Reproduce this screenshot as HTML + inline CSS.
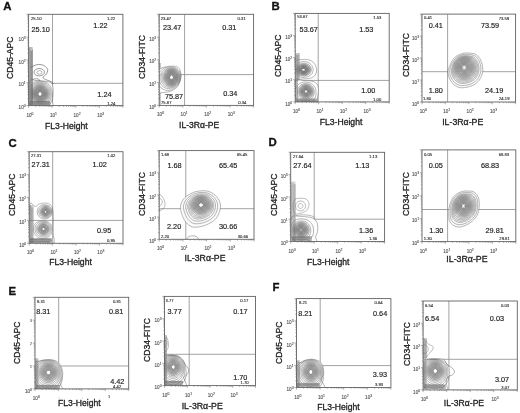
<!DOCTYPE html>
<html><head><meta charset="utf-8"><style>
html,body{margin:0;padding:0;background:#fff;}
body{width:520px;height:413px;overflow:hidden;}
svg{display:block;font-family:"Liberation Sans", sans-serif;will-change:transform;}
</style></head><body>
<svg width="520" height="413" viewBox="0 0 520 413">
<rect width="520" height="413" fill="#fff"/>
<line x1="52.5" y1="14.3" x2="52.5" y2="105.6" stroke="#8a8a8a" stroke-width="0.8"/>
<line x1="28.6" y1="83.3" x2="122.9" y2="83.3" stroke="#8a8a8a" stroke-width="0.8"/>
<defs><clipPath id="c2"><rect x="28.6" y="14.3" width="94.30000000000001" height="91.3"/></clipPath></defs><g clip-path="url(#c2)"><path d="M30.00 67.50 C30.25 67.42 30.93 67.25 31.50 67.00 C32.07 66.75 32.28 66.43 33.40 66.00 C34.52 65.57 36.50 64.50 38.20 64.40 C39.90 64.30 42.10 64.72 43.60 65.40 C45.10 66.08 46.53 67.57 47.20 68.50 C47.87 69.43 47.75 70.05 47.60 71.00 C47.45 71.95 47.07 73.13 46.30 74.20 C45.53 75.27 43.13 76.52 43.00 77.40 C42.87 78.28 44.50 78.93 45.50 79.50 C46.50 80.07 47.83 80.30 49.00 80.80 C50.17 81.30 51.75 81.97 52.50 82.50 C53.25 83.03 53.33 83.75 53.50 84.00" fill="none" stroke="#555" stroke-width="0.6"/><ellipse cx="39.2" cy="72.2" rx="5.2" ry="3.7" transform="rotate(0 39.2 72.2)" fill="none" stroke="#555" stroke-width="0.6"/><ellipse cx="39.4" cy="72.4" rx="2.6" ry="1.8" transform="rotate(0 39.4 72.4)" fill="none" stroke="#777" stroke-width="0.5"/><ellipse cx="36" cy="80.3" rx="3.6" ry="1.6" transform="rotate(0 36 80.3)" fill="none" stroke="#555" stroke-width="0.55"/><path d="M30.00 81.20 C31.33 77.12 33.17 80.53 35.00 80.50 C36.83 80.47 39.00 80.83 41.00 81.00 C43.00 81.17 45.25 81.17 47.00 81.50 C48.75 81.83 50.50 81.92 51.50 83.00 C52.50 84.08 52.75 86.00 53.00 88.00 C53.25 90.00 53.08 92.83 53.00 95.00 C52.92 97.17 52.50 99.00 52.50 101.00 C52.50 103.00 53.75 105.33 53.00 107.00 C52.25 108.67 50.17 110.17 48.00 111.00 C45.83 111.83 42.67 112.00 40.00 112.00 C37.33 112.00 34.17 112.17 32.00 111.00 C29.83 109.83 27.33 109.97 27.00 105.00 C26.67 100.03 28.67 85.28 30.00 81.20Z" fill="#fff" fill-opacity="0.9"/>
<path d="M53.04 94.00 L52.99 95.14 L52.91 96.28 L52.79 97.43 L52.66 98.61 L52.54 99.85 L52.51 101.22 L52.77 102.94 L53.19 105.07 L53.00 107.00 L52.06 108.37 L50.83 109.46 L49.43 110.34 L47.94 111.02 L46.36 111.47 L44.76 111.75 L43.16 111.90 L41.57 111.98 L40.00 112.00 L38.42 112.01 L36.83 111.99 L35.21 111.88 L33.59 111.60 L32.06 111.03 L30.56 110.35 L29.07 109.61 L27.91 108.41 L27.25 106.75 L27.00 104.91 L26.97 103.12 L27.03 101.49 L27.12 100.00 L27.23 98.65 L27.35 97.39 L27.47 96.21 L27.59 95.09 L27.72 94.00 L27.85 92.94 L27.99 91.88 L28.14 90.82 L28.30 89.74 L28.47 88.62 L28.66 87.45 L28.88 86.21 L29.13 84.88 L29.42 83.42 L29.81 81.86 L30.38 80.27 L31.47 79.22 L33.44 79.94 L35.09 80.50 L36.39 80.54 L37.65 80.64 L38.84 80.78 L40.00 80.90 L41.14 81.01 L42.28 81.09 L43.44 81.15 L44.65 81.22 L45.90 81.34 L47.20 81.54 L48.56 81.77 L49.98 82.10 L51.24 82.76 L52.08 83.87 L52.55 85.22 L52.81 86.60 L52.99 87.94 L53.10 89.23 L53.13 90.48 L53.12 91.69 L53.09 92.86Z" fill="none" stroke="#555" stroke-width="0.45" stroke-linejoin="round"/>
<path d="M52.52 94.00 L52.54 95.10 L52.53 96.21 L52.45 97.34 L52.29 98.47 L52.05 99.62 L51.70 100.76 L51.25 101.88 L50.69 102.97 L50.02 104.02 L49.25 105.02 L48.37 105.95 L47.39 106.80 L46.33 107.57 L45.18 108.23 L43.95 108.76 L42.67 109.12 L41.34 109.32 L40.00 109.39 L38.66 109.33 L37.34 109.11 L36.05 108.74 L34.82 108.23 L33.66 107.59 L32.59 106.84 L31.61 105.99 L30.73 105.05 L29.96 104.04 L29.30 102.97 L28.77 101.86 L28.35 100.72 L28.05 99.57 L27.85 98.42 L27.75 97.28 L27.74 96.16 L27.78 95.07 L27.85 94.00 L27.96 92.95 L28.09 91.90 L28.24 90.85 L28.44 89.79 L28.70 88.73 L29.10 87.71 L29.61 86.72 L30.21 85.78 L30.90 84.90 L31.68 84.09 L32.54 83.35 L33.47 82.69 L34.46 82.12 L35.51 81.65 L36.59 81.28 L37.71 81.03 L38.85 80.89 L40.00 80.86 L41.14 80.96 L42.26 81.16 L43.37 81.42 L44.46 81.75 L45.51 82.18 L46.52 82.71 L47.47 83.33 L48.36 84.04 L49.18 84.82 L49.92 85.68 L50.57 86.60 L51.13 87.57 L51.59 88.59 L51.96 89.65 L52.23 90.72 L52.39 91.81 L52.48 92.91Z" fill="none" stroke="#555" stroke-width="0.45" stroke-linejoin="round"/>
<path d="M51.25 94.00 L51.25 94.98 L51.20 95.97 L51.08 96.97 L50.90 97.97 L50.63 98.96 L50.28 99.94 L49.85 100.90 L49.32 101.82 L48.71 102.71 L48.01 103.55 L47.23 104.33 L46.37 105.04 L45.44 105.67 L44.44 106.21 L43.39 106.64 L42.28 106.94 L41.15 107.11 L40.00 107.17 L38.85 107.12 L37.72 106.94 L36.62 106.63 L35.56 106.21 L34.55 105.68 L33.62 105.06 L32.75 104.35 L31.97 103.57 L31.28 102.72 L30.67 101.83 L30.16 100.89 L29.75 99.92 L29.42 98.93 L29.18 97.94 L29.03 96.94 L28.95 95.95 L28.93 94.97 L28.95 94.00 L29.03 93.04 L29.14 92.09 L29.30 91.13 L29.51 90.18 L29.78 89.23 L30.15 88.32 L30.62 87.43 L31.17 86.59 L31.79 85.79 L32.49 85.06 L33.26 84.38 L34.10 83.78 L34.99 83.26 L35.93 82.82 L36.91 82.48 L37.93 82.23 L38.96 82.09 L40.00 82.06 L41.04 82.13 L42.06 82.31 L43.07 82.55 L44.05 82.87 L44.99 83.29 L45.89 83.79 L46.74 84.37 L47.53 85.03 L48.25 85.75 L48.90 86.53 L49.47 87.37 L49.97 88.24 L50.38 89.16 L50.71 90.10 L50.96 91.06 L51.12 92.04 L51.21 93.02Z" fill="none" stroke="#555" stroke-width="0.45" stroke-linejoin="round"/>
<path d="M50.17 94.00 L50.16 94.89 L50.09 95.78 L49.97 96.67 L49.78 97.56 L49.52 98.44 L49.18 99.30 L48.77 100.14 L48.29 100.96 L47.73 101.73 L47.10 102.46 L46.40 103.14 L45.63 103.75 L44.80 104.29 L43.91 104.75 L42.98 105.12 L42.01 105.38 L41.01 105.53 L40.00 105.58 L38.99 105.53 L37.99 105.38 L37.02 105.12 L36.09 104.75 L35.20 104.30 L34.37 103.76 L33.59 103.15 L32.89 102.47 L32.26 101.74 L31.71 100.96 L31.23 100.14 L30.84 99.29 L30.51 98.42 L30.27 97.54 L30.10 96.65 L29.99 95.77 L29.94 94.88 L29.95 94.00 L30.00 93.13 L30.10 92.25 L30.25 91.39 L30.46 90.53 L30.72 89.67 L31.07 88.85 L31.50 88.05 L32.00 87.28 L32.56 86.56 L33.20 85.89 L33.89 85.28 L34.65 84.73 L35.45 84.25 L36.30 83.85 L37.19 83.53 L38.11 83.30 L39.05 83.17 L40.00 83.13 L40.95 83.19 L41.88 83.35 L42.79 83.57 L43.68 83.88 L44.54 84.27 L45.35 84.73 L46.11 85.27 L46.82 85.88 L47.46 86.54 L48.04 87.25 L48.56 88.01 L49.00 88.80 L49.37 89.63 L49.67 90.48 L49.90 91.35 L50.05 92.23 L50.14 93.11Z" fill="none" stroke="#555" stroke-width="0.45" stroke-linejoin="round"/>
<path d="M49.20 94.00 L49.18 94.80 L49.11 95.61 L48.99 96.41 L48.80 97.20 L48.55 97.99 L48.24 98.76 L47.86 99.50 L47.42 100.22 L46.91 100.91 L46.34 101.55 L45.70 102.15 L45.01 102.68 L44.27 103.16 L43.48 103.56 L42.65 103.88 L41.78 104.11 L40.90 104.24 L40.00 104.29 L39.10 104.25 L38.22 104.11 L37.35 103.88 L36.52 103.56 L35.73 103.16 L34.98 102.69 L34.29 102.15 L33.66 101.56 L33.09 100.91 L32.58 100.22 L32.14 99.50 L31.77 98.75 L31.47 97.98 L31.23 97.19 L31.05 96.40 L30.94 95.60 L30.88 94.80 L30.87 94.00 L30.91 93.20 L31.00 92.41 L31.15 91.63 L31.34 90.85 L31.59 90.08 L31.91 89.33 L32.30 88.61 L32.75 87.92 L33.27 87.27 L33.84 86.66 L34.47 86.10 L35.15 85.60 L35.88 85.16 L36.65 84.79 L37.46 84.50 L38.29 84.29 L39.14 84.17 L40.00 84.13 L40.86 84.18 L41.71 84.32 L42.54 84.53 L43.34 84.81 L44.12 85.17 L44.85 85.60 L45.53 86.10 L46.17 86.65 L46.75 87.25 L47.27 87.90 L47.73 88.59 L48.13 89.31 L48.47 90.05 L48.74 90.82 L48.94 91.60 L49.09 92.40 L49.17 93.20Z" fill="none" stroke="#555" stroke-width="0.45" stroke-linejoin="round"/>
<path d="M48.21 94.00 L48.18 94.72 L48.12 95.43 L48.00 96.14 L47.82 96.85 L47.59 97.54 L47.31 98.22 L46.96 98.88 L46.56 99.51 L46.11 100.11 L45.60 100.67 L45.04 101.19 L44.42 101.66 L43.76 102.07 L43.07 102.42 L42.33 102.70 L41.57 102.90 L40.79 103.02 L40.00 103.06 L39.21 103.02 L38.43 102.90 L37.67 102.70 L36.93 102.42 L36.23 102.08 L35.57 101.66 L34.96 101.20 L34.40 100.68 L33.89 100.11 L33.43 99.51 L33.04 98.87 L32.70 98.21 L32.42 97.54 L32.19 96.84 L32.03 96.14 L31.91 95.43 L31.85 94.71 L31.83 94.00 L31.87 93.29 L31.95 92.58 L32.08 91.88 L32.26 91.18 L32.49 90.50 L32.78 89.83 L33.13 89.19 L33.53 88.57 L33.99 87.99 L34.50 87.44 L35.06 86.94 L35.67 86.50 L36.32 86.10 L37.01 85.77 L37.73 85.51 L38.47 85.32 L39.23 85.21 L40.00 85.17 L40.77 85.22 L41.53 85.34 L42.27 85.53 L42.99 85.78 L43.68 86.11 L44.33 86.50 L44.94 86.94 L45.51 87.44 L46.02 87.98 L46.48 88.56 L46.89 89.17 L47.25 89.82 L47.54 90.48 L47.79 91.17 L47.97 91.86 L48.10 92.57 L48.18 93.28Z" fill="none" stroke="#555" stroke-width="0.45" stroke-linejoin="round"/>
<path d="M47.34 94.00 L47.32 94.64 L47.26 95.28 L47.14 95.91 L46.98 96.54 L46.77 97.16 L46.51 97.76 L46.21 98.34 L45.85 98.91 L45.44 99.44 L44.98 99.94 L44.48 100.39 L43.93 100.81 L43.34 101.17 L42.72 101.48 L42.07 101.72 L41.39 101.90 L40.70 102.01 L40.00 102.04 L39.30 102.01 L38.61 101.90 L37.93 101.72 L37.28 101.48 L36.65 101.17 L36.07 100.81 L35.52 100.40 L35.02 99.94 L34.56 99.44 L34.15 98.91 L33.80 98.34 L33.49 97.76 L33.23 97.16 L33.03 96.54 L32.87 95.91 L32.76 95.28 L32.70 94.64 L32.68 94.00 L32.71 93.36 L32.78 92.73 L32.90 92.10 L33.06 91.47 L33.27 90.86 L33.53 90.27 L33.85 89.69 L34.21 89.14 L34.62 88.62 L35.07 88.13 L35.58 87.68 L36.12 87.28 L36.70 86.93 L37.32 86.63 L37.96 86.40 L38.63 86.23 L39.31 86.12 L40.00 86.09 L40.69 86.13 L41.37 86.23 L42.04 86.40 L42.68 86.64 L43.30 86.93 L43.88 87.28 L44.42 87.68 L44.93 88.13 L45.39 88.61 L45.80 89.13 L46.16 89.68 L46.48 90.26 L46.75 90.85 L46.96 91.47 L47.13 92.09 L47.25 92.72 L47.32 93.36Z" fill="none" stroke="#555" stroke-width="0.45" stroke-linejoin="round"/>
<path d="M46.47 94.00 L46.45 94.56 L46.39 95.13 L46.29 95.69 L46.14 96.24 L45.96 96.78 L45.73 97.31 L45.45 97.82 L45.14 98.31 L44.77 98.77 L44.37 99.21 L43.93 99.61 L43.45 99.97 L42.93 100.29 L42.39 100.56 L41.81 100.77 L41.22 100.92 L40.61 101.02 L40.00 101.05 L39.39 101.02 L38.78 100.92 L38.19 100.77 L37.61 100.56 L37.07 100.29 L36.55 99.97 L36.07 99.61 L35.63 99.21 L35.22 98.78 L34.86 98.31 L34.55 97.82 L34.27 97.31 L34.05 96.78 L33.86 96.23 L33.72 95.68 L33.62 95.13 L33.56 94.56 L33.54 94.00 L33.56 93.44 L33.63 92.88 L33.73 92.32 L33.88 91.77 L34.07 91.23 L34.30 90.71 L34.57 90.20 L34.89 89.71 L35.25 89.25 L35.66 88.82 L36.10 88.43 L36.58 88.07 L37.09 87.76 L37.63 87.50 L38.20 87.29 L38.79 87.14 L39.39 87.05 L40.00 87.02 L40.61 87.05 L41.21 87.15 L41.80 87.30 L42.36 87.50 L42.91 87.77 L43.42 88.07 L43.90 88.43 L44.34 88.82 L44.75 89.25 L45.11 89.71 L45.43 90.20 L45.71 90.70 L45.94 91.23 L46.13 91.77 L46.28 92.32 L46.39 92.87 L46.45 93.44Z" fill="none" stroke="#555" stroke-width="0.45" stroke-linejoin="round"/>
<path d="M45.59 94.00 L45.58 94.49 L45.52 94.97 L45.43 95.46 L45.31 95.93 L45.14 96.40 L44.94 96.85 L44.70 97.29 L44.43 97.72 L44.12 98.12 L43.77 98.49 L43.39 98.84 L42.97 99.15 L42.53 99.42 L42.06 99.65 L41.56 99.83 L41.05 99.96 L40.53 100.04 L40.00 100.07 L39.47 100.04 L38.95 99.96 L38.44 99.83 L37.94 99.65 L37.47 99.42 L37.03 99.15 L36.61 98.84 L36.23 98.49 L35.88 98.12 L35.57 97.72 L35.30 97.29 L35.06 96.85 L34.86 96.40 L34.70 95.93 L34.57 95.45 L34.48 94.97 L34.43 94.49 L34.41 94.00 L34.43 93.51 L34.49 93.03 L34.58 92.55 L34.70 92.07 L34.87 91.61 L35.07 91.15 L35.31 90.71 L35.58 90.29 L35.90 89.90 L36.24 89.52 L36.63 89.18 L37.04 88.88 L37.48 88.61 L37.95 88.38 L38.45 88.20 L38.95 88.07 L39.47 87.99 L40.00 87.96 L40.53 87.99 L41.05 88.07 L41.55 88.20 L42.05 88.38 L42.51 88.61 L42.96 88.88 L43.37 89.18 L43.76 89.52 L44.10 89.90 L44.42 90.29 L44.69 90.71 L44.93 91.15 L45.14 91.60 L45.30 92.07 L45.43 92.55 L45.52 93.03 L45.57 93.51Z" fill="none" stroke="#555" stroke-width="0.45" stroke-linejoin="round"/>
<path d="M44.71 94.00 L44.70 94.41 L44.65 94.82 L44.58 95.23 L44.47 95.63 L44.33 96.02 L44.16 96.40 L43.96 96.77 L43.73 97.13 L43.46 97.46 L43.17 97.78 L42.85 98.07 L42.50 98.33 L42.12 98.56 L41.73 98.75 L41.31 98.90 L40.88 99.01 L40.44 99.08 L40.00 99.10 L39.56 99.08 L39.12 99.01 L38.69 98.90 L38.27 98.75 L37.87 98.56 L37.50 98.33 L37.15 98.07 L36.83 97.78 L36.54 97.46 L36.27 97.13 L36.04 96.77 L35.84 96.40 L35.67 96.02 L35.53 95.63 L35.43 95.23 L35.35 94.82 L35.30 94.41 L35.29 94.00 L35.31 93.59 L35.35 93.18 L35.43 92.78 L35.54 92.38 L35.67 91.98 L35.84 91.60 L36.05 91.23 L36.28 90.88 L36.54 90.54 L36.84 90.23 L37.16 89.94 L37.51 89.68 L37.88 89.45 L38.28 89.26 L38.69 89.11 L39.12 89.00 L39.56 88.93 L40.00 88.91 L40.44 88.93 L40.88 89.00 L41.31 89.11 L41.72 89.26 L42.12 89.45 L42.49 89.68 L42.84 89.94 L43.17 90.23 L43.46 90.54 L43.72 90.88 L43.96 91.23 L44.16 91.60 L44.33 91.98 L44.47 92.37 L44.57 92.77 L44.65 93.18 L44.70 93.59Z" fill="none" stroke="#555" stroke-width="0.45" stroke-linejoin="round"/>
<path d="M43.83 94.00 L43.82 94.33 L43.78 94.67 L43.72 95.00 L43.63 95.32 L43.52 95.64 L43.38 95.95 L43.22 96.25 L43.03 96.54 L42.81 96.81 L42.57 97.07 L42.31 97.30 L42.03 97.51 L41.73 97.70 L41.40 97.86 L41.07 97.98 L40.72 98.07 L40.36 98.12 L40.00 98.14 L39.64 98.12 L39.28 98.07 L38.93 97.98 L38.60 97.86 L38.27 97.70 L37.97 97.51 L37.69 97.30 L37.43 97.07 L37.19 96.81 L36.97 96.54 L36.78 96.25 L36.62 95.95 L36.48 95.64 L36.37 95.32 L36.28 95.00 L36.22 94.67 L36.18 94.33 L36.17 94.00 L36.18 93.67 L36.22 93.33 L36.28 93.00 L36.37 92.68 L36.48 92.36 L36.62 92.05 L36.79 91.75 L36.97 91.46 L37.19 91.19 L37.43 90.93 L37.69 90.70 L37.97 90.49 L38.28 90.30 L38.60 90.15 L38.93 90.03 L39.28 89.94 L39.64 89.88 L40.00 89.86 L40.36 89.88 L40.72 89.94 L41.06 90.03 L41.40 90.15 L41.72 90.30 L42.03 90.49 L42.31 90.70 L42.57 90.93 L42.81 91.19 L43.03 91.46 L43.21 91.75 L43.38 92.05 L43.52 92.36 L43.63 92.68 L43.72 93.00 L43.78 93.33 L43.82 93.67Z" fill="none" stroke="#555" stroke-width="0.45" stroke-linejoin="round"/>
<path d="M42.95 94.00 L42.94 94.26 L42.91 94.51 L42.86 94.77 L42.79 95.02 L42.71 95.26 L42.60 95.50 L42.47 95.73 L42.33 95.95 L42.16 96.16 L41.98 96.36 L41.78 96.54 L41.56 96.70 L41.33 96.84 L41.08 96.96 L40.82 97.06 L40.55 97.13 L40.28 97.17 L40.00 97.19 L39.72 97.17 L39.45 97.13 L39.18 97.06 L38.92 96.96 L38.67 96.84 L38.44 96.70 L38.22 96.54 L38.02 96.36 L37.84 96.16 L37.67 95.95 L37.53 95.73 L37.40 95.50 L37.29 95.26 L37.21 95.02 L37.14 94.77 L37.09 94.51 L37.06 94.26 L37.05 94.00 L37.06 93.74 L37.09 93.49 L37.14 93.23 L37.21 92.98 L37.29 92.74 L37.40 92.50 L37.53 92.27 L37.67 92.05 L37.84 91.84 L38.02 91.64 L38.22 91.46 L38.44 91.30 L38.67 91.16 L38.92 91.04 L39.18 90.94 L39.45 90.87 L39.72 90.83 L40.00 90.82 L40.28 90.83 L40.55 90.87 L40.82 90.94 L41.08 91.04 L41.33 91.16 L41.56 91.30 L41.78 91.46 L41.98 91.64 L42.16 91.84 L42.33 92.05 L42.47 92.27 L42.60 92.50 L42.71 92.74 L42.79 92.98 L42.86 93.23 L42.91 93.49 L42.94 93.74Z" fill="none" stroke="#555" stroke-width="0.45" stroke-linejoin="round"/>
<path d="M42.06 94.00 L42.06 94.18 L42.04 94.36 L42.00 94.54 L41.96 94.71 L41.89 94.88 L41.82 95.05 L41.73 95.21 L41.63 95.37 L41.51 95.51 L41.39 95.65 L41.24 95.78 L41.09 95.89 L40.93 95.99 L40.76 96.07 L40.57 96.14 L40.39 96.19 L40.19 96.22 L40.00 96.23 L39.81 96.22 L39.61 96.19 L39.43 96.14 L39.24 96.07 L39.07 95.99 L38.91 95.89 L38.76 95.78 L38.61 95.65 L38.49 95.51 L38.37 95.37 L38.27 95.21 L38.18 95.05 L38.11 94.88 L38.04 94.71 L38.00 94.54 L37.96 94.36 L37.94 94.18 L37.94 94.00 L37.94 93.82 L37.96 93.64 L38.00 93.46 L38.04 93.29 L38.11 93.12 L38.18 92.95 L38.27 92.79 L38.37 92.63 L38.49 92.49 L38.61 92.35 L38.76 92.22 L38.91 92.11 L39.07 92.01 L39.24 91.93 L39.43 91.86 L39.61 91.81 L39.81 91.78 L40.00 91.77 L40.19 91.78 L40.39 91.81 L40.57 91.86 L40.76 91.93 L40.93 92.01 L41.09 92.11 L41.24 92.22 L41.39 92.35 L41.51 92.49 L41.63 92.63 L41.73 92.79 L41.82 92.95 L41.89 93.12 L41.96 93.29 L42.00 93.46 L42.04 93.64 L42.06 93.82Z" fill="none" stroke="#555" stroke-width="0.45" stroke-linejoin="round"/><defs><radialGradient id="g1" gradientUnits="userSpaceOnUse" cx="40" cy="94" r="1" gradientTransform="translate(40 94) scale(10 11) translate(-40 -94)"><stop offset="0" stop-color="#fff" stop-opacity="0.2"/><stop offset="0.1" stop-color="#fff" stop-opacity="0.0"/><stop offset="0.18" stop-color="#555" stop-opacity="0.55"/><stop offset="0.65" stop-color="#555" stop-opacity="0.41250000000000003"/><stop offset="1" stop-color="#555" stop-opacity="0"/></radialGradient></defs><ellipse cx="40" cy="94" rx="10" ry="11" fill="url(#g1)"/><ellipse cx="40.5" cy="93.3" rx="0.5" ry="0.9" fill="#fff" fill-opacity="0.6"/><rect x="28.6" y="47" width="4.0" height="58.599999999999994" fill="#8a8a8a" fill-opacity="0.5225"/><line x1="28.90" y1="47.70" x2="28.90" y2="105.6" stroke="#555" stroke-width="0.45" stroke-opacity="0.95"/><line x1="29.80" y1="47.13" x2="29.80" y2="105.6" stroke="#888" stroke-width="0.45" stroke-opacity="0.95"/><line x1="30.70" y1="50.52" x2="30.70" y2="105.6" stroke="#666" stroke-width="0.45" stroke-opacity="0.95"/><line x1="31.60" y1="50.72" x2="31.60" y2="105.6" stroke="#555" stroke-width="0.45" stroke-opacity="0.95"/><line x1="32.50" y1="49.23" x2="32.50" y2="105.6" stroke="#555" stroke-width="0.45" stroke-opacity="0.95"/><rect x="29.5" y="101.2" width="21.0" height="4.3999999999999915" fill="#888" fill-opacity="0.54"/><line x1="29.5" y1="101.50" x2="49.09" y2="101.50" stroke="#555" stroke-width="0.45" stroke-opacity="0.9"/><line x1="29.5" y1="102.40" x2="49.92" y2="102.40" stroke="#777" stroke-width="0.45" stroke-opacity="0.9"/><line x1="29.5" y1="103.30" x2="50.36" y2="103.30" stroke="#555" stroke-width="0.45" stroke-opacity="0.9"/><line x1="29.5" y1="104.20" x2="49.14" y2="104.20" stroke="#777" stroke-width="0.45" stroke-opacity="0.9"/><line x1="29.5" y1="105.10" x2="50.48" y2="105.10" stroke="#555" stroke-width="0.45" stroke-opacity="0.9"/></g>
<rect x="28.6" y="14.3" width="94.30000000000001" height="91.3" fill="none" stroke="#626262" stroke-width="0.9"/>
<path d="M28.60 105.60v2.2 M28.60 105.60h-2.2 M35.70 105.60v1.2 M28.60 98.73h-1.2 M39.85 105.60v1.2 M28.60 94.71h-1.2 M42.79 105.60v1.2 M28.60 91.86h-1.2 M45.08 105.60v1.2 M28.60 89.65h-1.2 M46.94 105.60v1.2 M28.60 87.84h-1.2 M48.52 105.60v1.2 M28.60 86.31h-1.2 M49.89 105.60v1.2 M28.60 84.99h-1.2 M51.10 105.60v1.2 M28.60 83.82h-1.2 M52.18 105.60v2.2 M28.60 82.77h-2.2 M59.27 105.60v1.2 M28.60 75.90h-1.2 M63.42 105.60v1.2 M28.60 71.88h-1.2 M66.37 105.60v1.2 M28.60 69.03h-1.2 M68.65 105.60v1.2 M28.60 66.82h-1.2 M70.52 105.60v1.2 M28.60 65.01h-1.2 M72.10 105.60v1.2 M28.60 63.49h-1.2 M73.47 105.60v1.2 M28.60 62.16h-1.2 M74.67 105.60v1.2 M28.60 60.99h-1.2 M75.75 105.60v2.2 M28.60 59.95h-2.2 M82.85 105.60v1.2 M28.60 53.08h-1.2 M87.00 105.60v1.2 M28.60 49.06h-1.2 M89.94 105.60v1.2 M28.60 46.21h-1.2 M92.23 105.60v1.2 M28.60 44.00h-1.2 M94.09 105.60v1.2 M28.60 42.19h-1.2 M95.67 105.60v1.2 M28.60 40.66h-1.2 M97.04 105.60v1.2 M28.60 39.34h-1.2 M98.25 105.60v1.2 M28.60 38.17h-1.2 M99.33 105.60v2.2 M28.60 37.12h-2.2 M106.42 105.60v1.2 M28.60 30.25h-1.2 M110.57 105.60v1.2 M28.60 26.23h-1.2 M113.52 105.60v1.2 M28.60 23.38h-1.2 M115.80 105.60v1.2 M28.60 21.17h-1.2 M117.67 105.60v1.2 M28.60 19.36h-1.2 M119.25 105.60v1.2 M28.60 17.84h-1.2 M120.62 105.60v1.2 M28.60 16.51h-1.2 M121.82 105.60v1.2 M28.60 15.34h-1.2 M122.90 105.60v2.2 M28.60 14.30h-2.2" stroke="#777" stroke-width="0.6" fill="none"/>
<text x="26.40" y="116.60" font-size="4.6" fill="#555" stroke="#555" stroke-width="0.12">10<tspan dy="-2" font-size="3.4">0</tspan></text>
<text x="18.60" y="109.20" font-size="4.6" fill="#555" stroke="#555" stroke-width="0.12">10<tspan dy="-2" font-size="3.4">0</tspan></text>
<text x="49.98" y="116.60" font-size="4.6" fill="#555" stroke="#555" stroke-width="0.12">10<tspan dy="-2" font-size="3.4">1</tspan></text>
<text x="18.60" y="86.37" font-size="4.6" fill="#555" stroke="#555" stroke-width="0.12">10<tspan dy="-2" font-size="3.4">1</tspan></text>
<text x="73.55" y="116.60" font-size="4.6" fill="#555" stroke="#555" stroke-width="0.12">10<tspan dy="-2" font-size="3.4">2</tspan></text>
<text x="18.60" y="63.55" font-size="4.6" fill="#555" stroke="#555" stroke-width="0.12">10<tspan dy="-2" font-size="3.4">2</tspan></text>
<text x="97.13" y="116.60" font-size="4.6" fill="#555" stroke="#555" stroke-width="0.12">10<tspan dy="-2" font-size="3.4">3</tspan></text>
<text x="18.60" y="40.73" font-size="4.6" fill="#555" stroke="#555" stroke-width="0.12">10<tspan dy="-2" font-size="3.4">3</tspan></text>
<text x="31" y="20.2" font-size="4.2" fill="#222" stroke="#222" stroke-width="0.1" font-weight="normal" text-anchor="start" >25.10</text>
<text x="31.5" y="31.8" font-size="7.3" fill="#222" stroke="#222" stroke-width="0.16" font-weight="normal" text-anchor="start" >25.10</text>
<text x="107" y="20.1" font-size="4.2" fill="#222" stroke="#222" stroke-width="0.1" font-weight="normal" text-anchor="start" >1.22</text>
<text x="93.3" y="27.8" font-size="7.3" fill="#222" stroke="#222" stroke-width="0.16" font-weight="normal" text-anchor="start" >1.22</text>
<text x="97.3" y="97.3" font-size="7.3" fill="#222" stroke="#222" stroke-width="0.16" font-weight="normal" text-anchor="start" >1.24</text>
<text x="107.2" y="104.6" font-size="4.2" fill="#222" stroke="#222" stroke-width="0.1" font-weight="normal" text-anchor="start" >1.24</text>
<text x="45.1" y="129.3" font-size="8.6" fill="#222" stroke="#222" stroke-width="0.3" font-weight="normal" text-anchor="start" >FL3-Height</text>
<text transform="translate(12.8,79.0) rotate(-90)" x="0" y="0" font-size="8.6" fill="#222" stroke="#222" stroke-width="0.3">CD45-APC</text>
<line x1="184.6" y1="14.3" x2="184.6" y2="105.4" stroke="#8a8a8a" stroke-width="0.8"/>
<line x1="159.2" y1="74.6" x2="253.6" y2="74.6" stroke="#8a8a8a" stroke-width="0.8"/>
<defs><clipPath id="c4"><rect x="159.2" y="14.3" width="94.4" height="91.10000000000001"/></clipPath></defs><g clip-path="url(#c4)"><rect x="159.2" y="63" width="1.6000000000000227" height="42.400000000000006" fill="#8a8a8a" fill-opacity="0.33"/><line x1="159.50" y1="63.00" x2="159.50" y2="105.4" stroke="#777" stroke-width="0.45" stroke-opacity="0.6"/><line x1="160.40" y1="63.00" x2="160.40" y2="105.4" stroke="#777" stroke-width="0.45" stroke-opacity="0.6"/><path d="M156.00 71.00 C156.67 67.17 158.83 69.58 160.00 69.00 C161.17 68.42 161.40 67.95 163.00 67.50 C164.60 67.05 167.43 66.47 169.60 66.30 C171.77 66.13 174.35 66.05 176.00 66.50 C177.65 66.95 178.67 67.50 179.50 69.00 C180.33 70.50 180.92 73.50 181.00 75.50 C181.08 77.50 180.53 79.22 180.00 81.00 C179.47 82.78 178.80 84.78 177.80 86.20 C176.80 87.62 175.37 88.62 174.00 89.50 C172.63 90.38 171.27 91.00 169.60 91.50 C167.93 92.00 165.60 92.28 164.00 92.50 C162.40 92.72 161.33 92.88 160.00 92.80 C158.67 92.72 156.67 95.63 156.00 92.00 C155.33 88.37 155.33 74.83 156.00 71.00Z" fill="#fff" fill-opacity="0.9"/>
<path d="M180.88 77.50 L180.74 78.31 L180.55 79.10 L180.34 79.87 L180.11 80.63 L179.88 81.41 L179.63 82.19 L179.35 83.00 L179.04 83.83 L178.67 84.67 L178.23 85.52 L177.69 86.34 L177.05 87.11 L176.31 87.82 L175.49 88.47 L174.61 89.10 L173.65 89.72 L172.62 90.30 L171.50 90.82 L170.29 91.28 L169.00 91.66 L167.63 91.96 L166.15 92.20 L164.54 92.43 L162.74 92.67 L160.77 92.82 L157.95 93.65 L156.21 92.79 L155.83 90.65 L155.67 88.58 L155.59 86.69 L155.54 84.94 L155.51 83.32 L155.50 81.79 L155.51 80.32 L155.52 78.90 L155.55 77.50 L155.60 76.11 L155.66 74.71 L155.75 73.28 L155.88 71.82 L156.15 70.34 L156.87 69.05 L159.49 69.09 L160.81 68.53 L161.90 67.90 L163.09 67.48 L164.27 67.18 L165.40 66.93 L166.47 66.72 L167.51 66.55 L168.53 66.41 L169.53 66.31 L170.51 66.24 L171.50 66.19 L172.49 66.17 L173.50 66.18 L174.52 66.25 L175.54 66.39 L176.55 66.66 L177.53 67.05 L178.41 67.63 L179.13 68.41 L179.67 69.33 L180.06 70.32 L180.35 71.30 L180.57 72.26 L180.75 73.19 L180.88 74.09 L180.97 74.96 L181.01 75.82 L180.98 76.67Z" fill="none" stroke="#5a5a5a" stroke-width="0.45" stroke-linejoin="round"/>
<path d="M180.72 77.50 L180.64 78.30 L180.52 79.09 L180.35 79.87 L180.15 80.65 L179.89 81.41 L179.58 82.17 L179.23 82.91 L178.81 83.64 L178.35 84.35 L177.83 85.05 L177.26 85.72 L176.62 86.37 L175.93 87.00 L175.17 87.58 L174.35 88.13 L173.46 88.63 L172.51 89.09 L171.50 89.51 L170.41 89.93 L169.25 90.26 L168.04 90.42 L166.81 90.39 L165.58 90.20 L164.37 89.84 L163.22 89.33 L162.12 88.68 L161.10 87.90 L160.18 87.00 L159.35 86.01 L158.64 84.92 L158.06 83.77 L157.61 82.55 L157.31 81.30 L157.22 80.02 L157.27 78.74 L157.48 77.50 L157.78 76.30 L158.15 75.15 L158.60 74.04 L159.14 73.00 L159.76 72.03 L160.46 71.13 L161.22 70.30 L162.05 69.57 L162.92 68.92 L163.84 68.38 L164.80 67.93 L165.78 67.59 L166.77 67.36 L167.75 67.21 L168.70 67.05 L169.64 66.94 L170.57 66.88 L171.50 66.89 L172.42 66.96 L173.33 67.11 L174.22 67.34 L175.08 67.65 L175.91 68.04 L176.69 68.51 L177.42 69.04 L178.10 69.64 L178.70 70.30 L179.24 71.01 L179.69 71.76 L180.06 72.56 L180.35 73.37 L180.55 74.21 L180.68 75.04 L180.74 75.87 L180.75 76.69Z" fill="none" stroke="#5a5a5a" stroke-width="0.45" stroke-linejoin="round"/>
<path d="M180.14 77.50 L180.07 78.25 L179.96 78.99 L179.81 79.73 L179.61 80.45 L179.35 81.16 L179.05 81.86 L178.69 82.54 L178.29 83.19 L177.83 83.83 L177.33 84.44 L176.77 85.03 L176.17 85.59 L175.51 86.11 L174.81 86.59 L174.05 87.02 L173.25 87.41 L172.40 87.76 L171.50 88.06 L170.55 88.34 L169.55 88.55 L168.52 88.61 L167.48 88.54 L166.45 88.34 L165.44 88.00 L164.47 87.54 L163.55 86.97 L162.70 86.30 L161.92 85.54 L161.23 84.69 L160.63 83.78 L160.13 82.80 L159.75 81.78 L159.48 80.72 L159.37 79.64 L159.38 78.56 L159.52 77.50 L159.73 76.47 L160.02 75.48 L160.38 74.52 L160.81 73.61 L161.32 72.75 L161.89 71.95 L162.53 71.22 L163.22 70.56 L163.97 69.97 L164.75 69.46 L165.57 69.03 L166.42 68.70 L167.28 68.45 L168.14 68.27 L168.98 68.10 L169.82 67.98 L170.66 67.92 L171.50 67.92 L172.33 67.98 L173.16 68.11 L173.96 68.31 L174.75 68.58 L175.50 68.92 L176.22 69.33 L176.89 69.80 L177.51 70.34 L178.08 70.92 L178.58 71.56 L179.02 72.24 L179.38 72.95 L179.67 73.69 L179.89 74.45 L180.04 75.21 L180.12 75.98 L180.15 76.74Z" fill="none" stroke="#5a5a5a" stroke-width="0.45" stroke-linejoin="round"/>
<path d="M179.55 77.50 L179.50 78.20 L179.40 78.89 L179.25 79.58 L179.06 80.25 L178.81 80.91 L178.52 81.55 L178.17 82.17 L177.78 82.77 L177.35 83.35 L176.87 83.89 L176.34 84.41 L175.77 84.90 L175.16 85.34 L174.50 85.75 L173.81 86.11 L173.07 86.43 L172.30 86.70 L171.50 86.92 L170.66 87.12 L169.78 87.25 L168.88 87.26 L167.98 87.16 L167.09 86.96 L166.22 86.64 L165.39 86.23 L164.60 85.72 L163.87 85.13 L163.20 84.47 L162.60 83.73 L162.08 82.94 L161.65 82.09 L161.31 81.21 L161.06 80.30 L160.95 79.36 L160.94 78.42 L161.03 77.50 L161.19 76.60 L161.42 75.72 L161.71 74.88 L162.08 74.07 L162.51 73.31 L162.99 72.59 L163.54 71.93 L164.14 71.32 L164.78 70.78 L165.47 70.31 L166.19 69.91 L166.93 69.58 L167.69 69.33 L168.46 69.15 L169.22 68.98 L169.98 68.86 L170.74 68.80 L171.50 68.79 L172.26 68.84 L173.01 68.95 L173.74 69.13 L174.46 69.37 L175.15 69.68 L175.81 70.04 L176.42 70.47 L177.00 70.95 L177.52 71.48 L178.00 72.05 L178.41 72.66 L178.76 73.31 L179.04 73.98 L179.26 74.68 L179.42 75.38 L179.51 76.09 L179.56 76.80Z" fill="none" stroke="#5a5a5a" stroke-width="0.45" stroke-linejoin="round"/>
<path d="M178.96 77.50 L178.92 78.15 L178.82 78.79 L178.69 79.43 L178.50 80.05 L178.27 80.66 L177.99 81.25 L177.66 81.81 L177.29 82.36 L176.88 82.88 L176.43 83.37 L175.93 83.83 L175.40 84.26 L174.83 84.64 L174.23 84.99 L173.59 85.29 L172.92 85.55 L172.22 85.77 L171.50 85.94 L170.75 86.08 L169.97 86.15 L169.19 86.13 L168.40 86.02 L167.62 85.82 L166.86 85.53 L166.14 85.15 L165.46 84.70 L164.82 84.18 L164.24 83.60 L163.71 82.95 L163.26 82.26 L162.88 81.52 L162.58 80.75 L162.36 79.95 L162.25 79.13 L162.22 78.31 L162.28 77.50 L162.40 76.70 L162.59 75.93 L162.83 75.18 L163.14 74.46 L163.51 73.77 L163.93 73.13 L164.40 72.53 L164.92 71.98 L165.49 71.49 L166.09 71.05 L166.72 70.68 L167.38 70.36 L168.06 70.12 L168.75 69.93 L169.43 69.77 L170.12 69.65 L170.81 69.59 L171.50 69.58 L172.19 69.62 L172.87 69.72 L173.54 69.88 L174.20 70.10 L174.82 70.37 L175.43 70.70 L175.99 71.08 L176.52 71.51 L177.01 71.99 L177.45 72.51 L177.83 73.07 L178.16 73.65 L178.44 74.27 L178.65 74.90 L178.80 75.54 L178.91 76.19 L178.96 76.85Z" fill="none" stroke="#5a5a5a" stroke-width="0.45" stroke-linejoin="round"/>
<path d="M178.30 77.50 L178.26 78.09 L178.18 78.68 L178.05 79.26 L177.88 79.82 L177.66 80.37 L177.40 80.91 L177.10 81.42 L176.76 81.91 L176.38 82.38 L175.96 82.81 L175.50 83.21 L175.01 83.58 L174.49 83.92 L173.94 84.21 L173.37 84.47 L172.77 84.68 L172.14 84.84 L171.50 84.97 L170.84 85.06 L170.16 85.10 L169.48 85.05 L168.79 84.94 L168.12 84.74 L167.47 84.48 L166.85 84.14 L166.26 83.75 L165.71 83.29 L165.21 82.78 L164.76 82.22 L164.37 81.62 L164.03 80.98 L163.77 80.31 L163.57 79.62 L163.46 78.92 L163.42 78.21 L163.46 77.50 L163.55 76.80 L163.70 76.13 L163.91 75.46 L164.16 74.83 L164.47 74.22 L164.83 73.65 L165.24 73.12 L165.69 72.63 L166.18 72.18 L166.70 71.78 L167.26 71.44 L167.83 71.15 L168.43 70.92 L169.04 70.73 L169.65 70.58 L170.26 70.47 L170.88 70.41 L171.50 70.39 L172.12 70.43 L172.73 70.52 L173.33 70.66 L173.92 70.85 L174.49 71.09 L175.03 71.38 L175.54 71.72 L176.02 72.11 L176.47 72.53 L176.87 73.00 L177.22 73.49 L177.53 74.02 L177.78 74.57 L177.99 75.14 L178.14 75.72 L178.24 76.31 L178.29 76.91Z" fill="none" stroke="#5a5a5a" stroke-width="0.45" stroke-linejoin="round"/>
<path d="M177.69 77.50 L177.66 78.04 L177.58 78.57 L177.46 79.10 L177.31 79.61 L177.11 80.11 L176.87 80.60 L176.59 81.06 L176.27 81.50 L175.92 81.92 L175.53 82.30 L175.11 82.66 L174.67 82.99 L174.19 83.28 L173.69 83.53 L173.17 83.74 L172.63 83.92 L172.07 84.05 L171.50 84.15 L170.91 84.21 L170.32 84.22 L169.71 84.16 L169.12 84.04 L168.53 83.86 L167.97 83.62 L167.42 83.32 L166.91 82.97 L166.43 82.57 L166.00 82.12 L165.60 81.63 L165.26 81.10 L164.97 80.55 L164.73 79.96 L164.56 79.36 L164.45 78.74 L164.41 78.12 L164.43 77.50 L164.50 76.89 L164.62 76.29 L164.79 75.70 L165.01 75.14 L165.28 74.60 L165.59 74.09 L165.95 73.61 L166.34 73.17 L166.77 72.77 L167.23 72.41 L167.71 72.09 L168.22 71.82 L168.75 71.61 L169.29 71.43 L169.84 71.29 L170.39 71.19 L170.94 71.13 L171.50 71.11 L172.06 71.14 L172.61 71.22 L173.15 71.34 L173.68 71.51 L174.19 71.73 L174.68 71.99 L175.14 72.29 L175.58 72.64 L175.98 73.02 L176.35 73.43 L176.67 73.88 L176.95 74.35 L177.19 74.85 L177.38 75.36 L177.52 75.89 L177.62 76.42 L177.68 76.96Z" fill="none" stroke="#5a5a5a" stroke-width="0.45" stroke-linejoin="round"/>
<path d="M177.04 77.50 L177.01 77.98 L176.94 78.46 L176.84 78.93 L176.69 79.39 L176.51 79.84 L176.29 80.27 L176.04 80.68 L175.75 81.07 L175.44 81.44 L175.09 81.78 L174.71 82.09 L174.31 82.37 L173.89 82.62 L173.44 82.83 L172.98 83.01 L172.50 83.16 L172.00 83.26 L171.50 83.33 L170.99 83.37 L170.47 83.36 L169.95 83.30 L169.43 83.19 L168.93 83.02 L168.44 82.80 L167.97 82.54 L167.53 82.23 L167.12 81.88 L166.74 81.49 L166.41 81.07 L166.11 80.61 L165.86 80.13 L165.65 79.63 L165.50 79.11 L165.40 78.58 L165.36 78.04 L165.36 77.50 L165.42 76.97 L165.52 76.44 L165.66 75.93 L165.84 75.44 L166.07 74.97 L166.34 74.52 L166.64 74.10 L166.98 73.71 L167.35 73.35 L167.75 73.03 L168.17 72.74 L168.61 72.50 L169.08 72.30 L169.55 72.14 L170.03 72.01 L170.52 71.91 L171.01 71.86 L171.50 71.84 L171.99 71.87 L172.48 71.94 L172.96 72.04 L173.43 72.19 L173.88 72.39 L174.32 72.61 L174.73 72.88 L175.12 73.18 L175.48 73.52 L175.81 73.89 L176.10 74.28 L176.35 74.70 L176.57 75.14 L176.74 75.59 L176.88 76.06 L176.97 76.54 L177.02 77.02Z" fill="none" stroke="#5a5a5a" stroke-width="0.45" stroke-linejoin="round"/>
<path d="M176.35 77.50 L176.33 77.92 L176.27 78.34 L176.18 78.75 L176.05 79.16 L175.89 79.55 L175.70 79.92 L175.47 80.28 L175.22 80.62 L174.94 80.94 L174.63 81.23 L174.30 81.50 L173.95 81.74 L173.57 81.95 L173.18 82.13 L172.78 82.28 L172.36 82.39 L171.94 82.47 L171.50 82.52 L171.06 82.54 L170.61 82.52 L170.17 82.46 L169.73 82.35 L169.31 82.21 L168.89 82.02 L168.50 81.79 L168.12 81.52 L167.78 81.22 L167.46 80.89 L167.17 80.53 L166.92 80.14 L166.70 79.74 L166.53 79.31 L166.39 78.87 L166.31 78.42 L166.26 77.96 L166.26 77.50 L166.30 77.05 L166.38 76.60 L166.50 76.16 L166.65 75.74 L166.84 75.33 L167.07 74.94 L167.32 74.57 L167.61 74.24 L167.92 73.92 L168.26 73.64 L168.62 73.39 L169.01 73.18 L169.40 73.00 L169.81 72.85 L170.22 72.74 L170.65 72.65 L171.07 72.60 L171.50 72.59 L171.93 72.61 L172.35 72.67 L172.77 72.76 L173.18 72.89 L173.57 73.05 L173.95 73.25 L174.31 73.48 L174.65 73.74 L174.97 74.03 L175.25 74.35 L175.51 74.69 L175.73 75.06 L175.93 75.44 L176.08 75.83 L176.20 76.24 L176.29 76.66 L176.33 77.08Z" fill="none" stroke="#5a5a5a" stroke-width="0.45" stroke-linejoin="round"/>
<path d="M175.63 77.50 L175.61 77.86 L175.56 78.22 L175.49 78.57 L175.38 78.91 L175.24 79.24 L175.07 79.56 L174.88 79.87 L174.66 80.15 L174.42 80.42 L174.16 80.67 L173.87 80.89 L173.57 81.09 L173.26 81.27 L172.92 81.41 L172.58 81.53 L172.23 81.62 L171.87 81.69 L171.50 81.72 L171.13 81.73 L170.76 81.70 L170.39 81.64 L170.03 81.55 L169.67 81.42 L169.33 81.26 L169.00 81.07 L168.70 80.84 L168.41 80.59 L168.14 80.32 L167.91 80.02 L167.70 79.70 L167.52 79.36 L167.37 79.00 L167.26 78.64 L167.18 78.26 L167.14 77.88 L167.14 77.50 L167.17 77.12 L167.23 76.75 L167.32 76.38 L167.45 76.02 L167.60 75.68 L167.78 75.36 L168.00 75.05 L168.23 74.76 L168.50 74.50 L168.78 74.26 L169.08 74.04 L169.40 73.86 L169.73 73.70 L170.07 73.58 L170.42 73.48 L170.78 73.40 L171.14 73.36 L171.50 73.35 L171.86 73.36 L172.22 73.41 L172.57 73.49 L172.92 73.60 L173.26 73.74 L173.58 73.90 L173.88 74.10 L174.17 74.32 L174.44 74.56 L174.68 74.83 L174.90 75.12 L175.10 75.42 L175.26 75.75 L175.40 76.08 L175.50 76.43 L175.58 76.78 L175.62 77.14Z" fill="none" stroke="#5a5a5a" stroke-width="0.45" stroke-linejoin="round"/>
<path d="M174.89 77.50 L174.88 77.80 L174.84 78.09 L174.77 78.38 L174.68 78.66 L174.57 78.93 L174.43 79.19 L174.27 79.44 L174.09 79.67 L173.89 79.89 L173.67 80.09 L173.44 80.27 L173.19 80.43 L172.93 80.57 L172.66 80.69 L172.38 80.78 L172.09 80.85 L171.80 80.90 L171.50 80.92 L171.20 80.92 L170.90 80.90 L170.60 80.84 L170.31 80.76 L170.03 80.66 L169.75 80.52 L169.49 80.37 L169.25 80.19 L169.02 79.98 L168.81 79.76 L168.62 79.52 L168.45 79.26 L168.30 78.99 L168.18 78.71 L168.09 78.41 L168.03 78.11 L167.99 77.81 L167.99 77.50 L168.01 77.19 L168.05 76.89 L168.13 76.60 L168.22 76.31 L168.35 76.03 L168.49 75.76 L168.66 75.51 L168.85 75.28 L169.06 75.06 L169.29 74.87 L169.53 74.69 L169.79 74.54 L170.06 74.41 L170.34 74.30 L170.62 74.22 L170.91 74.16 L171.20 74.12 L171.50 74.11 L171.80 74.13 L172.09 74.17 L172.38 74.23 L172.66 74.32 L172.93 74.43 L173.20 74.56 L173.45 74.72 L173.68 74.90 L173.90 75.10 L174.10 75.32 L174.28 75.55 L174.44 75.80 L174.58 76.06 L174.69 76.34 L174.78 76.62 L174.84 76.91 L174.88 77.20Z" fill="none" stroke="#5a5a5a" stroke-width="0.45" stroke-linejoin="round"/>
<path d="M174.13 77.50 L174.12 77.73 L174.09 77.96 L174.04 78.18 L173.97 78.40 L173.88 78.61 L173.77 78.81 L173.65 79.00 L173.51 79.18 L173.35 79.35 L173.18 79.50 L173.00 79.64 L172.81 79.77 L172.61 79.87 L172.40 79.96 L172.18 80.03 L171.96 80.08 L171.73 80.12 L171.50 80.13 L171.27 80.13 L171.04 80.10 L170.81 80.06 L170.59 79.99 L170.38 79.91 L170.17 79.81 L169.97 79.69 L169.78 79.55 L169.61 79.39 L169.45 79.22 L169.30 79.04 L169.17 78.84 L169.06 78.64 L168.97 78.42 L168.90 78.20 L168.85 77.97 L168.82 77.73 L168.82 77.50 L168.83 77.27 L168.86 77.04 L168.92 76.81 L168.99 76.59 L169.08 76.37 L169.20 76.17 L169.32 75.98 L169.47 75.80 L169.63 75.63 L169.80 75.48 L169.99 75.34 L170.18 75.22 L170.39 75.12 L170.60 75.04 L170.82 74.97 L171.05 74.92 L171.27 74.90 L171.50 74.89 L171.73 74.90 L171.95 74.93 L172.18 74.98 L172.39 75.04 L172.61 75.13 L172.81 75.23 L173.00 75.35 L173.19 75.49 L173.35 75.65 L173.51 75.81 L173.65 75.99 L173.78 76.19 L173.88 76.39 L173.97 76.60 L174.04 76.82 L174.09 77.04 L174.12 77.27Z" fill="none" stroke="#5a5a5a" stroke-width="0.45" stroke-linejoin="round"/>
<path d="M173.35 77.50 L173.34 77.66 L173.32 77.82 L173.28 77.98 L173.24 78.13 L173.17 78.28 L173.10 78.42 L173.01 78.56 L172.91 78.68 L172.80 78.80 L172.68 78.91 L172.55 79.01 L172.42 79.09 L172.28 79.16 L172.13 79.23 L171.98 79.27 L171.82 79.31 L171.66 79.33 L171.50 79.34 L171.34 79.33 L171.18 79.32 L171.02 79.28 L170.87 79.24 L170.72 79.18 L170.57 79.10 L170.44 79.02 L170.31 78.92 L170.18 78.82 L170.07 78.70 L169.97 78.57 L169.88 78.43 L169.81 78.29 L169.74 78.14 L169.69 77.98 L169.66 77.82 L169.64 77.66 L169.63 77.50 L169.64 77.34 L169.66 77.18 L169.70 77.02 L169.75 76.86 L169.81 76.71 L169.89 76.57 L169.98 76.44 L170.08 76.31 L170.19 76.19 L170.31 76.08 L170.44 75.99 L170.58 75.91 L170.72 75.83 L170.87 75.77 L171.03 75.73 L171.18 75.69 L171.34 75.67 L171.50 75.67 L171.66 75.67 L171.82 75.69 L171.97 75.73 L172.13 75.78 L172.28 75.84 L172.42 75.91 L172.55 75.99 L172.68 76.09 L172.80 76.20 L172.91 76.31 L173.01 76.44 L173.10 76.58 L173.17 76.72 L173.24 76.87 L173.29 77.02 L173.32 77.18 L173.34 77.34Z" fill="none" stroke="#5a5a5a" stroke-width="0.45" stroke-linejoin="round"/><defs><radialGradient id="g3" gradientUnits="userSpaceOnUse" cx="171.5" cy="77.5" r="1" gradientTransform="translate(171.5 77.5) scale(9 11) translate(-171.5 -77.5)"><stop offset="0" stop-color="#fff" stop-opacity="0.5"/><stop offset="0.1" stop-color="#fff" stop-opacity="0.0"/><stop offset="0.18" stop-color="#555" stop-opacity="0.5"/><stop offset="0.65" stop-color="#555" stop-opacity="0.375"/><stop offset="1" stop-color="#555" stop-opacity="0"/></radialGradient></defs><ellipse cx="171.5" cy="77.5" rx="9" ry="11" fill="url(#g3)"/><ellipse cx="171.6" cy="76.5" rx="0.6" ry="1.9" fill="#fff" fill-opacity="0.6"/></g>
<rect x="159.2" y="14.3" width="94.4" height="91.10000000000001" fill="none" stroke="#626262" stroke-width="0.9"/>
<path d="M159.20 105.40v2.2 M159.20 105.40h-2.2 M166.30 105.40v1.2 M159.20 98.54h-1.2 M170.46 105.40v1.2 M159.20 94.53h-1.2 M173.41 105.40v1.2 M159.20 91.69h-1.2 M175.70 105.40v1.2 M159.20 89.48h-1.2 M177.56 105.40v1.2 M159.20 87.68h-1.2 M179.14 105.40v1.2 M159.20 86.15h-1.2 M180.51 105.40v1.2 M159.20 84.83h-1.2 M181.72 105.40v1.2 M159.20 83.67h-1.2 M182.80 105.40v2.2 M159.20 82.62h-2.2 M189.90 105.40v1.2 M159.20 75.77h-1.2 M194.06 105.40v1.2 M159.20 71.76h-1.2 M197.01 105.40v1.2 M159.20 68.91h-1.2 M199.30 105.40v1.2 M159.20 66.71h-1.2 M201.16 105.40v1.2 M159.20 64.90h-1.2 M202.74 105.40v1.2 M159.20 63.38h-1.2 M204.11 105.40v1.2 M159.20 62.06h-1.2 M205.32 105.40v1.2 M159.20 60.89h-1.2 M206.40 105.40v2.2 M159.20 59.85h-2.2 M213.50 105.40v1.2 M159.20 52.99h-1.2 M217.66 105.40v1.2 M159.20 48.98h-1.2 M220.61 105.40v1.2 M159.20 46.14h-1.2 M222.90 105.40v1.2 M159.20 43.93h-1.2 M224.76 105.40v1.2 M159.20 42.13h-1.2 M226.34 105.40v1.2 M159.20 40.60h-1.2 M227.71 105.40v1.2 M159.20 39.28h-1.2 M228.92 105.40v1.2 M159.20 38.12h-1.2 M230.00 105.40v2.2 M159.20 37.08h-2.2 M237.10 105.40v1.2 M159.20 30.22h-1.2 M241.26 105.40v1.2 M159.20 26.21h-1.2 M244.21 105.40v1.2 M159.20 23.36h-1.2 M246.50 105.40v1.2 M159.20 21.16h-1.2 M248.36 105.40v1.2 M159.20 19.35h-1.2 M249.94 105.40v1.2 M159.20 17.83h-1.2 M251.31 105.40v1.2 M159.20 16.51h-1.2 M252.52 105.40v1.2 M159.20 15.34h-1.2 M253.60 105.40v2.2 M159.20 14.30h-2.2" stroke="#777" stroke-width="0.6" fill="none"/>
<text x="157.00" y="116.40" font-size="4.6" fill="#555" stroke="#555" stroke-width="0.12">10<tspan dy="-2" font-size="3.4">0</tspan></text>
<text x="149.20" y="109.00" font-size="4.6" fill="#555" stroke="#555" stroke-width="0.12">10<tspan dy="-2" font-size="3.4">0</tspan></text>
<text x="180.60" y="116.40" font-size="4.6" fill="#555" stroke="#555" stroke-width="0.12">10<tspan dy="-2" font-size="3.4">1</tspan></text>
<text x="149.20" y="86.22" font-size="4.6" fill="#555" stroke="#555" stroke-width="0.12">10<tspan dy="-2" font-size="3.4">1</tspan></text>
<text x="204.20" y="116.40" font-size="4.6" fill="#555" stroke="#555" stroke-width="0.12">10<tspan dy="-2" font-size="3.4">2</tspan></text>
<text x="149.20" y="63.45" font-size="4.6" fill="#555" stroke="#555" stroke-width="0.12">10<tspan dy="-2" font-size="3.4">2</tspan></text>
<text x="227.80" y="116.40" font-size="4.6" fill="#555" stroke="#555" stroke-width="0.12">10<tspan dy="-2" font-size="3.4">3</tspan></text>
<text x="149.20" y="40.68" font-size="4.6" fill="#555" stroke="#555" stroke-width="0.12">10<tspan dy="-2" font-size="3.4">3</tspan></text>
<text x="160.7" y="19.8" font-size="4.2" fill="#222" stroke="#222" stroke-width="0.1" font-weight="normal" text-anchor="start" >23.47</text>
<text x="163.0" y="29.8" font-size="7.3" fill="#222" stroke="#222" stroke-width="0.16" font-weight="normal" text-anchor="start" >23.47</text>
<text x="237.6" y="19.8" font-size="4.2" fill="#222" stroke="#222" stroke-width="0.1" font-weight="normal" text-anchor="start" >0.31</text>
<text x="222.2" y="29.8" font-size="7.3" fill="#222" stroke="#222" stroke-width="0.16" font-weight="normal" text-anchor="start" >0.31</text>
<text x="164.9" y="99.2" font-size="7.3" fill="#222" stroke="#222" stroke-width="0.16" font-weight="normal" text-anchor="start" >75.87</text>
<text x="161" y="104" font-size="4.2" fill="#222" stroke="#222" stroke-width="0.1" font-weight="normal" text-anchor="start" >75.87</text>
<text x="223.2" y="96" font-size="7.3" fill="#222" stroke="#222" stroke-width="0.16" font-weight="normal" text-anchor="start" >0.34</text>
<text x="238.2" y="104" font-size="4.2" fill="#222" stroke="#222" stroke-width="0.1" font-weight="normal" text-anchor="start" >0.34</text>
<text x="179" y="127.6" font-size="8.6" fill="#222" stroke="#222" stroke-width="0.3" font-weight="normal" text-anchor="start" >IL-3R&#945;-PE</text>
<text transform="translate(144.5,79.0) rotate(-90)" x="0" y="0" font-size="8.6" fill="#222" stroke="#222" stroke-width="0.3">CD34-FITC</text>
<line x1="318.2" y1="13.4" x2="318.2" y2="101.9" stroke="#8a8a8a" stroke-width="0.8"/>
<line x1="295.2" y1="80.4" x2="389.2" y2="80.4" stroke="#8a8a8a" stroke-width="0.8"/>
<defs><clipPath id="c7"><rect x="295.2" y="13.4" width="94.0" height="88.5"/></clipPath></defs><g clip-path="url(#c7)"><path d="M296.00 61.00 C297.50 59.25 299.83 59.67 302.00 59.50 C304.17 59.33 307.00 59.42 309.00 60.00 C311.00 60.58 312.75 61.50 314.00 63.00 C315.25 64.50 316.25 67.08 316.50 69.00 C316.75 70.92 316.42 73.00 315.50 74.50 C314.58 76.00 313.08 77.27 311.00 78.00 C308.92 78.73 305.50 78.80 303.00 78.90 C300.50 79.00 297.67 80.08 296.00 78.60 C294.33 77.12 293.00 72.93 293.00 70.00 C293.00 67.07 294.50 62.75 296.00 61.00Z" fill="#fff" fill-opacity="0.9"/>
<path d="M316.56 69.70 L316.56 70.83 L316.43 71.96 L316.15 73.06 L315.72 74.11 L315.11 75.07 L314.38 75.92 L313.53 76.66 L312.61 77.26 L311.65 77.75 L310.66 78.11 L309.66 78.35 L308.69 78.52 L307.76 78.63 L306.88 78.71 L306.03 78.77 L305.21 78.81 L304.40 78.85 L303.60 78.88 L302.79 78.91 L301.96 78.99 L301.08 79.10 L300.13 79.24 L299.10 79.35 L298.02 79.36 L296.98 79.16 L296.08 78.66 L295.39 77.91 L294.84 77.05 L294.39 76.15 L294.02 75.23 L293.71 74.31 L293.46 73.39 L293.25 72.47 L293.11 71.55 L293.02 70.63 L293.01 69.70 L293.08 68.78 L293.21 67.87 L293.39 66.97 L293.63 66.07 L293.90 65.18 L294.22 64.28 L294.59 63.39 L295.02 62.50 L295.53 61.63 L296.16 60.83 L296.96 60.21 L297.90 59.83 L298.91 59.64 L299.91 59.57 L300.88 59.55 L301.80 59.51 L302.70 59.46 L303.60 59.43 L304.50 59.43 L305.41 59.46 L306.33 59.53 L307.26 59.64 L308.21 59.80 L309.17 60.05 L310.13 60.38 L311.08 60.79 L312.01 61.29 L312.88 61.91 L313.68 62.64 L314.37 63.48 L314.94 64.41 L315.43 65.39 L315.84 66.42 L316.18 67.48 L316.43 68.58Z" fill="none" stroke="#5a5a5a" stroke-width="0.45" stroke-linejoin="round"/>
<path d="M313.11 69.70 L313.06 70.53 L312.90 71.34 L312.66 72.13 L312.32 72.88 L311.91 73.58 L311.43 74.22 L310.89 74.80 L310.29 75.32 L309.66 75.76 L309.01 76.14 L308.33 76.46 L307.65 76.71 L306.96 76.91 L306.28 77.07 L305.61 77.19 L304.94 77.29 L304.27 77.36 L303.60 77.41 L302.92 77.42 L302.24 77.39 L301.56 77.31 L300.88 77.17 L300.21 76.98 L299.55 76.72 L298.90 76.41 L298.28 76.04 L297.69 75.61 L297.15 75.12 L296.65 74.57 L296.21 73.97 L295.85 73.32 L295.56 72.63 L295.34 71.91 L295.20 71.18 L295.12 70.44 L295.10 69.70 L295.14 68.96 L295.23 68.22 L295.39 67.50 L295.60 66.79 L295.89 66.10 L296.24 65.45 L296.66 64.84 L297.14 64.28 L297.66 63.76 L298.23 63.29 L298.83 62.88 L299.46 62.52 L300.11 62.22 L300.79 61.97 L301.48 61.78 L302.18 61.65 L302.89 61.57 L303.60 61.55 L304.31 61.57 L305.02 61.64 L305.73 61.75 L306.44 61.90 L307.14 62.10 L307.84 62.35 L308.53 62.67 L309.19 63.03 L309.83 63.47 L310.44 63.96 L311.01 64.51 L311.54 65.12 L312.00 65.78 L312.39 66.50 L312.71 67.26 L312.94 68.05 L313.08 68.87Z" fill="none" stroke="#5a5a5a" stroke-width="0.45" stroke-linejoin="round"/>
<path d="M311.19 69.70 L311.15 70.36 L311.03 71.01 L310.84 71.64 L310.58 72.24 L310.26 72.80 L309.88 73.32 L309.45 73.80 L308.99 74.22 L308.49 74.59 L307.97 74.91 L307.44 75.18 L306.89 75.40 L306.34 75.58 L305.79 75.72 L305.24 75.83 L304.70 75.92 L304.15 75.98 L303.60 76.01 L303.05 76.01 L302.49 75.97 L301.94 75.90 L301.39 75.78 L300.84 75.62 L300.30 75.41 L299.78 75.15 L299.28 74.85 L298.80 74.50 L298.35 74.11 L297.93 73.67 L297.56 73.18 L297.25 72.66 L296.99 72.10 L296.80 71.52 L296.66 70.92 L296.59 70.31 L296.56 69.70 L296.59 69.09 L296.68 68.48 L296.82 67.88 L297.02 67.31 L297.27 66.75 L297.58 66.22 L297.94 65.74 L298.34 65.29 L298.78 64.88 L299.25 64.51 L299.74 64.19 L300.26 63.91 L300.79 63.67 L301.34 63.48 L301.89 63.33 L302.46 63.23 L303.03 63.17 L303.60 63.15 L304.17 63.17 L304.74 63.23 L305.31 63.32 L305.88 63.44 L306.44 63.61 L307.00 63.82 L307.54 64.07 L308.07 64.37 L308.58 64.72 L309.07 65.11 L309.52 65.55 L309.93 66.04 L310.30 66.57 L310.61 67.15 L310.87 67.75 L311.05 68.39 L311.16 69.04Z" fill="none" stroke="#5a5a5a" stroke-width="0.45" stroke-linejoin="round"/>
<path d="M309.99 69.70 L309.95 70.26 L309.85 70.80 L309.70 71.33 L309.48 71.84 L309.21 72.32 L308.90 72.76 L308.54 73.16 L308.16 73.52 L307.74 73.84 L307.31 74.12 L306.86 74.36 L306.40 74.55 L305.94 74.72 L305.47 74.85 L305.01 74.95 L304.54 75.02 L304.07 75.07 L303.60 75.09 L303.13 75.09 L302.66 75.05 L302.18 74.98 L301.72 74.88 L301.25 74.74 L300.79 74.56 L300.35 74.34 L299.92 74.09 L299.51 73.79 L299.12 73.46 L298.76 73.09 L298.44 72.68 L298.17 72.23 L297.94 71.76 L297.76 71.26 L297.63 70.75 L297.56 70.23 L297.54 69.70 L297.56 69.17 L297.64 68.65 L297.77 68.14 L297.95 67.64 L298.18 67.17 L298.45 66.73 L298.77 66.32 L299.12 65.94 L299.50 65.60 L299.90 65.29 L300.33 65.02 L300.77 64.79 L301.22 64.60 L301.69 64.44 L302.16 64.32 L302.64 64.23 L303.12 64.18 L303.60 64.17 L304.08 64.18 L304.56 64.23 L305.04 64.31 L305.52 64.42 L306.00 64.56 L306.46 64.74 L306.92 64.95 L307.37 65.21 L307.80 65.50 L308.20 65.84 L308.58 66.21 L308.93 66.62 L309.24 67.07 L309.50 67.55 L309.71 68.06 L309.87 68.60 L309.96 69.14Z" fill="none" stroke="#5a5a5a" stroke-width="0.45" stroke-linejoin="round"/>
<path d="M309.11 69.70 L309.08 70.18 L308.99 70.65 L308.86 71.11 L308.67 71.55 L308.44 71.96 L308.17 72.34 L307.87 72.69 L307.54 73.01 L307.19 73.29 L306.82 73.53 L306.43 73.74 L306.04 73.92 L305.64 74.07 L305.23 74.18 L304.83 74.28 L304.42 74.34 L304.01 74.38 L303.60 74.40 L303.19 74.39 L302.78 74.36 L302.37 74.30 L301.96 74.20 L301.56 74.08 L301.16 73.92 L300.78 73.73 L300.40 73.51 L300.04 73.26 L299.70 72.97 L299.39 72.65 L299.11 72.29 L298.86 71.91 L298.66 71.50 L298.49 71.07 L298.38 70.62 L298.31 70.16 L298.29 69.70 L298.31 69.24 L298.38 68.78 L298.50 68.33 L298.67 67.90 L298.87 67.49 L299.11 67.11 L299.39 66.75 L299.70 66.43 L300.04 66.14 L300.39 65.87 L300.76 65.65 L301.15 65.45 L301.54 65.28 L301.94 65.15 L302.35 65.04 L302.77 64.97 L303.18 64.93 L303.60 64.92 L304.02 64.93 L304.43 64.97 L304.85 65.04 L305.26 65.14 L305.67 65.26 L306.07 65.42 L306.47 65.60 L306.85 65.83 L307.22 66.08 L307.57 66.37 L307.90 66.69 L308.19 67.05 L308.46 67.43 L308.68 67.85 L308.87 68.29 L309.00 68.75 L309.08 69.22Z" fill="none" stroke="#5a5a5a" stroke-width="0.45" stroke-linejoin="round"/>
<path d="M308.34 69.70 L308.31 70.11 L308.24 70.52 L308.13 70.91 L307.97 71.29 L307.77 71.65 L307.54 71.98 L307.28 72.28 L307.00 72.55 L306.70 72.80 L306.38 73.01 L306.05 73.20 L305.71 73.36 L305.37 73.49 L305.02 73.59 L304.66 73.67 L304.31 73.73 L303.96 73.77 L303.60 73.78 L303.24 73.77 L302.89 73.74 L302.53 73.68 L302.18 73.60 L301.83 73.49 L301.49 73.36 L301.15 73.19 L300.83 73.00 L300.52 72.78 L300.22 72.53 L299.95 72.26 L299.70 71.95 L299.49 71.62 L299.30 71.26 L299.16 70.89 L299.05 70.50 L298.99 70.10 L298.97 69.70 L298.99 69.30 L299.06 68.90 L299.16 68.51 L299.31 68.14 L299.49 67.78 L299.71 67.45 L299.95 67.15 L300.22 66.87 L300.51 66.61 L300.82 66.39 L301.15 66.19 L301.48 66.03 L301.82 65.89 L302.17 65.77 L302.52 65.68 L302.88 65.62 L303.24 65.58 L303.60 65.57 L303.96 65.58 L304.32 65.62 L304.68 65.68 L305.03 65.76 L305.38 65.87 L305.73 66.01 L306.07 66.17 L306.40 66.36 L306.72 66.58 L307.02 66.83 L307.30 67.11 L307.55 67.42 L307.78 67.75 L307.98 68.11 L308.13 68.49 L308.25 68.88 L308.32 69.29Z" fill="none" stroke="#5a5a5a" stroke-width="0.45" stroke-linejoin="round"/>
<path d="M307.75 69.70 L307.73 70.06 L307.66 70.42 L307.56 70.76 L307.42 71.09 L307.25 71.40 L307.05 71.69 L306.83 71.96 L306.58 72.20 L306.32 72.42 L306.04 72.61 L305.75 72.77 L305.46 72.91 L305.15 73.03 L304.85 73.12 L304.54 73.20 L304.23 73.25 L303.91 73.28 L303.60 73.29 L303.29 73.28 L302.97 73.25 L302.66 73.20 L302.35 73.13 L302.05 73.03 L301.74 72.91 L301.45 72.77 L301.16 72.60 L300.89 72.41 L300.63 72.19 L300.39 71.95 L300.17 71.68 L299.98 71.39 L299.82 71.08 L299.69 70.75 L299.59 70.41 L299.53 70.06 L299.51 69.70 L299.53 69.34 L299.59 68.99 L299.69 68.65 L299.82 68.32 L299.98 68.01 L300.17 67.72 L300.39 67.45 L300.63 67.21 L300.89 66.99 L301.16 66.79 L301.45 66.62 L301.74 66.48 L302.04 66.35 L302.35 66.25 L302.66 66.18 L302.97 66.12 L303.28 66.09 L303.60 66.08 L303.92 66.09 L304.23 66.12 L304.54 66.18 L304.86 66.25 L305.16 66.35 L305.47 66.47 L305.76 66.61 L306.05 66.78 L306.33 66.97 L306.59 67.19 L306.84 67.43 L307.06 67.70 L307.26 67.99 L307.43 68.31 L307.57 68.64 L307.67 68.98 L307.73 69.34Z" fill="none" stroke="#5a5a5a" stroke-width="0.45" stroke-linejoin="round"/>
<path d="M307.20 69.70 L307.18 70.01 L307.13 70.32 L307.04 70.62 L306.92 70.91 L306.77 71.18 L306.60 71.43 L306.40 71.66 L306.19 71.87 L305.96 72.06 L305.72 72.23 L305.47 72.37 L305.21 72.50 L304.95 72.60 L304.69 72.68 L304.42 72.75 L304.15 72.79 L303.87 72.82 L303.60 72.83 L303.33 72.82 L303.05 72.79 L302.78 72.75 L302.51 72.68 L302.25 72.60 L301.99 72.50 L301.73 72.37 L301.48 72.23 L301.24 72.06 L301.02 71.87 L300.81 71.66 L300.61 71.42 L300.45 71.17 L300.30 70.90 L300.19 70.61 L300.10 70.32 L300.05 70.01 L300.03 69.70 L300.05 69.39 L300.10 69.08 L300.19 68.79 L300.30 68.50 L300.45 68.23 L300.62 67.98 L300.81 67.74 L301.02 67.53 L301.24 67.34 L301.48 67.17 L301.73 67.02 L301.98 66.90 L302.24 66.79 L302.51 66.71 L302.78 66.64 L303.05 66.59 L303.33 66.57 L303.60 66.56 L303.87 66.57 L304.15 66.59 L304.42 66.64 L304.69 66.71 L304.96 66.79 L305.22 66.89 L305.48 67.02 L305.73 67.16 L305.97 67.33 L306.20 67.52 L306.41 67.73 L306.60 67.97 L306.77 68.22 L306.92 68.49 L307.04 68.78 L307.13 69.08 L307.18 69.39Z" fill="none" stroke="#5a5a5a" stroke-width="0.45" stroke-linejoin="round"/>
<path d="M306.68 69.70 L306.66 69.97 L306.62 70.23 L306.54 70.49 L306.44 70.73 L306.31 70.97 L306.17 71.18 L306.00 71.38 L305.82 71.56 L305.62 71.72 L305.42 71.87 L305.20 71.99 L304.98 72.10 L304.76 72.19 L304.53 72.26 L304.30 72.31 L304.07 72.35 L303.83 72.38 L303.60 72.38 L303.37 72.38 L303.13 72.35 L302.90 72.31 L302.67 72.26 L302.44 72.19 L302.22 72.10 L302.00 71.99 L301.78 71.86 L301.58 71.72 L301.39 71.56 L301.20 71.38 L301.04 71.18 L300.89 70.96 L300.77 70.73 L300.67 70.48 L300.60 70.23 L300.55 69.97 L300.54 69.70 L300.55 69.43 L300.60 69.17 L300.67 68.92 L300.77 68.67 L300.89 68.44 L301.04 68.22 L301.20 68.02 L301.39 67.84 L301.58 67.68 L301.78 67.53 L302.00 67.41 L302.21 67.30 L302.44 67.21 L302.67 67.14 L302.90 67.08 L303.13 67.04 L303.37 67.02 L303.60 67.01 L303.83 67.02 L304.07 67.04 L304.30 67.08 L304.53 67.14 L304.76 67.21 L304.99 67.30 L305.21 67.41 L305.42 67.53 L305.63 67.67 L305.82 67.84 L306.00 68.02 L306.17 68.22 L306.32 68.43 L306.44 68.67 L306.54 68.91 L306.62 69.17 L306.66 69.43Z" fill="none" stroke="#5a5a5a" stroke-width="0.45" stroke-linejoin="round"/>
<path d="M306.18 69.70 L306.16 69.92 L306.12 70.15 L306.06 70.36 L305.98 70.57 L305.87 70.76 L305.75 70.94 L305.61 71.11 L305.46 71.26 L305.29 71.39 L305.12 71.51 L304.94 71.62 L304.76 71.71 L304.57 71.78 L304.38 71.84 L304.19 71.89 L303.99 71.92 L303.80 71.94 L303.60 71.95 L303.40 71.94 L303.21 71.92 L303.01 71.89 L302.82 71.84 L302.63 71.78 L302.44 71.71 L302.26 71.62 L302.08 71.51 L301.91 71.39 L301.74 71.26 L301.59 71.11 L301.45 70.94 L301.33 70.76 L301.23 70.56 L301.14 70.36 L301.08 70.14 L301.04 69.92 L301.03 69.70 L301.04 69.48 L301.08 69.26 L301.14 69.04 L301.23 68.84 L301.33 68.64 L301.45 68.46 L301.59 68.29 L301.74 68.14 L301.91 68.01 L302.08 67.89 L302.26 67.78 L302.44 67.69 L302.63 67.61 L302.82 67.55 L303.01 67.51 L303.21 67.47 L303.40 67.45 L303.60 67.45 L303.80 67.45 L303.99 67.47 L304.19 67.51 L304.38 67.55 L304.57 67.61 L304.76 67.69 L304.95 67.78 L305.12 67.88 L305.30 68.00 L305.46 68.14 L305.61 68.29 L305.75 68.46 L305.87 68.64 L305.98 68.83 L306.06 69.04 L306.13 69.25 L306.16 69.48Z" fill="none" stroke="#5a5a5a" stroke-width="0.45" stroke-linejoin="round"/>
<path d="M305.69 69.70 L305.68 69.88 L305.64 70.06 L305.59 70.23 L305.53 70.40 L305.44 70.56 L305.34 70.70 L305.23 70.84 L305.10 70.96 L304.97 71.07 L304.83 71.17 L304.69 71.26 L304.54 71.33 L304.39 71.39 L304.23 71.44 L304.08 71.48 L303.92 71.50 L303.76 71.52 L303.60 71.52 L303.44 71.52 L303.28 71.50 L303.12 71.48 L302.97 71.44 L302.81 71.39 L302.66 71.33 L302.51 71.26 L302.37 71.17 L302.23 71.07 L302.10 70.96 L301.97 70.84 L301.86 70.70 L301.76 70.56 L301.68 70.40 L301.61 70.23 L301.56 70.06 L301.53 69.88 L301.52 69.70 L301.53 69.52 L301.56 69.34 L301.61 69.17 L301.68 69.00 L301.76 68.84 L301.86 68.70 L301.97 68.56 L302.10 68.44 L302.23 68.33 L302.37 68.23 L302.51 68.14 L302.66 68.07 L302.81 68.01 L302.97 67.96 L303.12 67.92 L303.28 67.90 L303.44 67.88 L303.60 67.88 L303.76 67.88 L303.92 67.90 L304.08 67.92 L304.23 67.96 L304.39 68.01 L304.54 68.07 L304.69 68.14 L304.83 68.23 L304.97 68.33 L305.11 68.44 L305.23 68.56 L305.34 68.69 L305.44 68.84 L305.53 69.00 L305.59 69.17 L305.64 69.34 L305.68 69.52Z" fill="none" stroke="#5a5a5a" stroke-width="0.45" stroke-linejoin="round"/>
<path d="M305.20 69.70 L305.19 69.84 L305.17 69.98 L305.13 70.11 L305.08 70.24 L305.01 70.36 L304.94 70.47 L304.85 70.58 L304.76 70.67 L304.65 70.75 L304.55 70.83 L304.44 70.89 L304.32 70.95 L304.20 71.00 L304.09 71.03 L303.97 71.06 L303.84 71.08 L303.72 71.10 L303.60 71.10 L303.48 71.10 L303.36 71.08 L303.23 71.06 L303.11 71.03 L303.00 71.00 L302.88 70.95 L302.76 70.89 L302.65 70.83 L302.55 70.75 L302.44 70.67 L302.35 70.58 L302.26 70.47 L302.19 70.36 L302.12 70.24 L302.07 70.11 L302.03 69.98 L302.01 69.84 L302.00 69.70 L302.01 69.56 L302.03 69.42 L302.07 69.29 L302.12 69.16 L302.19 69.04 L302.26 68.93 L302.35 68.82 L302.44 68.73 L302.55 68.65 L302.65 68.57 L302.76 68.51 L302.88 68.45 L303.00 68.40 L303.11 68.36 L303.23 68.34 L303.36 68.32 L303.48 68.30 L303.60 68.30 L303.72 68.30 L303.84 68.32 L303.97 68.34 L304.09 68.36 L304.20 68.40 L304.32 68.45 L304.44 68.51 L304.55 68.57 L304.65 68.65 L304.76 68.73 L304.85 68.82 L304.94 68.93 L305.01 69.04 L305.08 69.16 L305.13 69.29 L305.17 69.42 L305.19 69.56Z" fill="none" stroke="#5a5a5a" stroke-width="0.45" stroke-linejoin="round"/>
<path d="M304.72 69.70 L304.71 69.80 L304.70 69.89 L304.67 69.99 L304.63 70.08 L304.59 70.16 L304.54 70.24 L304.47 70.31 L304.41 70.38 L304.34 70.44 L304.26 70.49 L304.19 70.54 L304.11 70.57 L304.02 70.61 L303.94 70.63 L303.86 70.65 L303.77 70.67 L303.69 70.68 L303.60 70.68 L303.51 70.68 L303.43 70.67 L303.34 70.65 L303.26 70.63 L303.18 70.61 L303.09 70.57 L303.01 70.54 L302.94 70.49 L302.86 70.44 L302.79 70.38 L302.73 70.31 L302.67 70.24 L302.61 70.16 L302.57 70.08 L302.53 69.99 L302.50 69.89 L302.49 69.80 L302.48 69.70 L302.49 69.60 L302.50 69.51 L302.53 69.41 L302.57 69.32 L302.61 69.24 L302.67 69.16 L302.73 69.09 L302.79 69.02 L302.86 68.96 L302.94 68.91 L303.01 68.86 L303.09 68.83 L303.18 68.79 L303.26 68.77 L303.34 68.75 L303.43 68.73 L303.51 68.72 L303.60 68.72 L303.69 68.72 L303.77 68.73 L303.86 68.75 L303.94 68.77 L304.02 68.79 L304.11 68.83 L304.19 68.86 L304.26 68.91 L304.34 68.96 L304.41 69.02 L304.47 69.09 L304.54 69.16 L304.59 69.24 L304.63 69.32 L304.67 69.41 L304.70 69.51 L304.71 69.60Z" fill="none" stroke="#5a5a5a" stroke-width="0.45" stroke-linejoin="round"/><defs><radialGradient id="g5" gradientUnits="userSpaceOnUse" cx="303.6" cy="69.7" r="1" gradientTransform="translate(303.6 69.7) scale(9 7) translate(-303.6 -69.7)"><stop offset="0" stop-color="#fff" stop-opacity="0.5"/><stop offset="0.1" stop-color="#fff" stop-opacity="0.0"/><stop offset="0.18" stop-color="#555" stop-opacity="0.45"/><stop offset="0.65" stop-color="#555" stop-opacity="0.3375"/><stop offset="1" stop-color="#555" stop-opacity="0"/></radialGradient></defs><ellipse cx="303.6" cy="69.7" rx="9" ry="7" fill="url(#g5)"/><ellipse cx="303.3" cy="69.7" rx="1.6" ry="0.7" fill="#fff" fill-opacity="0.6"/><path d="M296.00 81.00 C298.17 79.10 302.33 80.57 305.00 80.60 C307.67 80.63 310.08 80.72 312.00 81.20 C313.92 81.68 315.45 82.37 316.50 83.50 C317.55 84.63 318.05 86.08 318.30 88.00 C318.55 89.92 318.22 93.00 318.00 95.00 C317.78 97.00 316.83 98.50 317.00 100.00 C317.17 101.50 319.50 102.67 319.00 104.00 C318.50 105.33 316.17 107.17 314.00 108.00 C311.83 108.83 308.67 109.00 306.00 109.00 C303.33 109.00 300.33 109.33 298.00 108.00 C295.67 106.67 293.00 103.67 292.00 101.00 C291.00 98.33 291.33 95.33 292.00 92.00 C292.67 88.67 293.83 82.90 296.00 81.00Z" fill="#fff" fill-opacity="0.9"/>
<path d="M318.32 91.50 L318.24 92.57 L318.14 93.64 L318.03 94.72 L317.87 95.82 L317.59 96.91 L317.26 98.00 L317.01 99.21 L317.53 101.17 L318.84 104.34 L317.82 105.58 L316.57 106.60 L315.21 107.44 L313.74 108.09 L312.19 108.51 L310.63 108.76 L309.07 108.91 L307.53 108.98 L306.00 109.00 L304.47 109.02 L302.91 109.04 L301.32 108.96 L299.74 108.69 L298.25 108.13 L296.90 107.26 L295.68 106.23 L294.59 105.10 L293.61 103.89 L292.77 102.60 L292.10 101.24 L291.64 99.79 L291.42 98.30 L291.37 96.82 L291.47 95.39 L291.64 94.03 L291.86 92.74 L292.10 91.50 L292.35 90.31 L292.60 89.14 L292.88 87.98 L293.18 86.83 L293.53 85.68 L293.92 84.53 L294.40 83.38 L294.99 82.26 L295.75 81.25 L296.77 80.50 L298.03 80.12 L299.38 80.03 L300.69 80.11 L301.91 80.26 L303.03 80.42 L304.07 80.54 L305.05 80.60 L306.00 80.62 L306.95 80.64 L307.91 80.68 L308.88 80.74 L309.88 80.83 L310.91 80.97 L311.95 81.19 L313.01 81.49 L314.07 81.88 L315.11 82.39 L316.05 83.07 L316.84 83.91 L317.45 84.89 L317.87 85.96 L318.15 87.08 L318.32 88.20 L318.39 89.32 L318.38 90.42Z" fill="none" stroke="#5a5a5a" stroke-width="0.45" stroke-linejoin="round"/>
<path d="M315.91 91.50 L315.93 92.37 L315.99 93.26 L315.98 94.17 L315.89 95.10 L315.72 96.03 L315.46 96.96 L315.11 97.88 L314.67 98.78 L314.14 99.64 L313.52 100.46 L312.81 101.22 L312.02 101.93 L311.17 102.58 L310.24 103.15 L309.25 103.64 L308.20 103.99 L307.11 104.14 L306.00 104.17 L304.90 104.10 L303.81 103.93 L302.74 103.65 L301.71 103.29 L300.72 102.83 L299.78 102.27 L298.90 101.63 L298.10 100.91 L297.39 100.11 L296.77 99.25 L296.25 98.33 L295.83 97.37 L295.51 96.39 L295.27 95.40 L295.12 94.41 L295.05 93.43 L295.05 92.46 L295.11 91.50 L295.25 90.56 L295.44 89.64 L295.70 88.74 L296.04 87.87 L296.45 87.05 L296.93 86.27 L297.49 85.54 L298.11 84.88 L298.78 84.28 L299.50 83.75 L300.25 83.29 L301.04 82.90 L301.85 82.59 L302.67 82.36 L303.51 82.20 L304.34 82.11 L305.18 82.09 L306.00 82.13 L306.81 82.21 L307.62 82.33 L308.41 82.49 L309.21 82.69 L309.99 82.95 L310.75 83.27 L311.49 83.66 L312.20 84.11 L312.86 84.64 L313.47 85.23 L314.02 85.88 L314.51 86.59 L314.93 87.34 L315.27 88.12 L315.55 88.94 L315.74 89.78 L315.86 90.64Z" fill="none" stroke="#5a5a5a" stroke-width="0.45" stroke-linejoin="round"/>
<path d="M314.11 91.50 L314.11 92.21 L314.11 92.93 L314.06 93.66 L313.94 94.39 L313.75 95.12 L313.50 95.83 L313.19 96.53 L312.80 97.21 L312.35 97.85 L311.84 98.46 L311.27 99.02 L310.64 99.53 L309.96 100.00 L309.24 100.40 L308.48 100.74 L307.67 100.98 L306.84 101.09 L306.00 101.12 L305.16 101.07 L304.33 100.95 L303.52 100.74 L302.73 100.47 L301.97 100.13 L301.25 99.72 L300.58 99.25 L299.95 98.71 L299.39 98.11 L298.89 97.47 L298.46 96.78 L298.11 96.06 L297.82 95.31 L297.61 94.56 L297.45 93.79 L297.36 93.02 L297.33 92.26 L297.36 91.50 L297.44 90.75 L297.58 90.01 L297.77 89.29 L298.02 88.60 L298.34 87.93 L298.71 87.29 L299.14 86.70 L299.62 86.15 L300.15 85.65 L300.71 85.20 L301.31 84.81 L301.94 84.47 L302.59 84.19 L303.26 83.97 L303.94 83.81 L304.63 83.72 L305.32 83.68 L306.00 83.69 L306.68 83.74 L307.35 83.84 L308.02 83.97 L308.67 84.16 L309.32 84.39 L309.94 84.67 L310.55 85.01 L311.12 85.40 L311.65 85.85 L312.14 86.34 L312.59 86.89 L312.98 87.47 L313.32 88.09 L313.60 88.73 L313.82 89.40 L313.98 90.09 L314.07 90.79Z" fill="none" stroke="#5a5a5a" stroke-width="0.45" stroke-linejoin="round"/>
<path d="M312.93 91.50 L312.93 92.11 L312.90 92.72 L312.83 93.33 L312.70 93.94 L312.52 94.54 L312.28 95.13 L312.00 95.70 L311.66 96.25 L311.26 96.76 L310.82 97.25 L310.34 97.69 L309.81 98.09 L309.24 98.45 L308.64 98.76 L308.01 99.02 L307.36 99.20 L306.68 99.29 L306.00 99.31 L305.32 99.28 L304.65 99.18 L303.99 99.02 L303.34 98.80 L302.72 98.53 L302.13 98.20 L301.57 97.82 L301.06 97.39 L300.59 96.91 L300.17 96.40 L299.80 95.84 L299.49 95.26 L299.23 94.65 L299.03 94.04 L298.89 93.41 L298.79 92.77 L298.75 92.13 L298.76 91.50 L298.81 90.87 L298.92 90.25 L299.07 89.64 L299.28 89.05 L299.53 88.49 L299.84 87.94 L300.20 87.44 L300.59 86.96 L301.03 86.53 L301.50 86.14 L302.00 85.79 L302.53 85.49 L303.08 85.24 L303.65 85.04 L304.23 84.89 L304.82 84.79 L305.41 84.74 L306.00 84.74 L306.59 84.78 L307.17 84.86 L307.75 84.98 L308.31 85.14 L308.87 85.35 L309.40 85.61 L309.92 85.91 L310.40 86.25 L310.86 86.64 L311.27 87.08 L311.65 87.54 L311.98 88.05 L312.27 88.58 L312.50 89.13 L312.69 89.71 L312.82 90.30 L312.90 90.90Z" fill="none" stroke="#5a5a5a" stroke-width="0.45" stroke-linejoin="round"/>
<path d="M312.04 91.50 L312.03 92.03 L312.00 92.56 L311.91 93.08 L311.79 93.61 L311.62 94.12 L311.40 94.62 L311.14 95.10 L310.83 95.56 L310.49 95.99 L310.10 96.39 L309.68 96.75 L309.22 97.08 L308.74 97.37 L308.23 97.62 L307.69 97.82 L307.14 97.97 L306.57 98.04 L306.00 98.06 L305.43 98.03 L304.86 97.95 L304.31 97.82 L303.76 97.64 L303.24 97.42 L302.74 97.15 L302.27 96.83 L301.83 96.47 L301.42 96.08 L301.06 95.64 L300.74 95.18 L300.47 94.69 L300.24 94.19 L300.05 93.66 L299.92 93.13 L299.82 92.59 L299.78 92.04 L299.77 91.50 L299.81 90.96 L299.90 90.42 L300.03 89.90 L300.20 89.39 L300.41 88.90 L300.67 88.43 L300.98 87.98 L301.31 87.57 L301.69 87.19 L302.09 86.84 L302.52 86.53 L302.98 86.26 L303.45 86.04 L303.94 85.85 L304.45 85.71 L304.96 85.62 L305.48 85.57 L306.00 85.56 L306.52 85.59 L307.03 85.66 L307.54 85.77 L308.03 85.91 L308.52 86.10 L308.98 86.33 L309.43 86.60 L309.85 86.91 L310.25 87.25 L310.61 87.63 L310.93 88.05 L311.22 88.49 L311.47 88.95 L311.67 89.44 L311.83 89.94 L311.95 90.45 L312.02 90.97Z" fill="none" stroke="#5a5a5a" stroke-width="0.45" stroke-linejoin="round"/>
<path d="M311.25 91.50 L311.23 91.96 L311.19 92.42 L311.11 92.87 L310.99 93.32 L310.83 93.75 L310.64 94.18 L310.40 94.58 L310.13 94.97 L309.83 95.33 L309.49 95.66 L309.13 95.97 L308.74 96.24 L308.32 96.47 L307.88 96.68 L307.43 96.84 L306.96 96.95 L306.48 97.02 L306.00 97.04 L305.52 97.01 L305.04 96.95 L304.57 96.84 L304.11 96.69 L303.67 96.50 L303.24 96.27 L302.84 96.01 L302.47 95.71 L302.12 95.38 L301.81 95.02 L301.53 94.63 L301.29 94.22 L301.09 93.79 L300.92 93.35 L300.79 92.89 L300.71 92.43 L300.66 91.97 L300.65 91.50 L300.68 91.03 L300.75 90.57 L300.86 90.12 L301.00 89.68 L301.18 89.25 L301.41 88.85 L301.66 88.46 L301.95 88.10 L302.27 87.77 L302.61 87.46 L302.98 87.19 L303.38 86.95 L303.79 86.75 L304.21 86.59 L304.65 86.46 L305.10 86.37 L305.55 86.32 L306.00 86.31 L306.45 86.33 L306.90 86.39 L307.34 86.49 L307.78 86.62 L308.20 86.79 L308.60 86.99 L308.99 87.23 L309.36 87.50 L309.70 87.80 L310.01 88.14 L310.29 88.50 L310.54 88.88 L310.75 89.28 L310.93 89.71 L311.07 90.14 L311.17 90.59 L311.23 91.04Z" fill="none" stroke="#5a5a5a" stroke-width="0.45" stroke-linejoin="round"/>
<path d="M310.62 91.50 L310.60 91.90 L310.56 92.30 L310.48 92.70 L310.37 93.09 L310.23 93.47 L310.05 93.84 L309.84 94.19 L309.60 94.52 L309.33 94.83 L309.04 95.12 L308.72 95.38 L308.37 95.61 L308.01 95.81 L307.63 95.98 L307.24 96.11 L306.83 96.21 L306.42 96.26 L306.00 96.28 L305.58 96.26 L305.17 96.21 L304.76 96.11 L304.37 95.99 L303.98 95.82 L303.62 95.63 L303.27 95.40 L302.94 95.15 L302.64 94.86 L302.37 94.55 L302.12 94.22 L301.91 93.86 L301.73 93.49 L301.58 93.11 L301.46 92.72 L301.38 92.31 L301.34 91.91 L301.32 91.50 L301.35 91.09 L301.40 90.69 L301.50 90.29 L301.62 89.91 L301.78 89.53 L301.97 89.17 L302.19 88.84 L302.44 88.52 L302.72 88.22 L303.02 87.95 L303.35 87.71 L303.69 87.50 L304.05 87.32 L304.42 87.17 L304.81 87.06 L305.20 86.97 L305.60 86.93 L306.00 86.91 L306.40 86.93 L306.80 86.99 L307.19 87.07 L307.57 87.19 L307.94 87.34 L308.30 87.52 L308.64 87.73 L308.96 87.97 L309.26 88.24 L309.53 88.54 L309.78 88.86 L309.99 89.19 L310.18 89.55 L310.34 89.92 L310.46 90.31 L310.55 90.70 L310.60 91.10Z" fill="none" stroke="#5a5a5a" stroke-width="0.45" stroke-linejoin="round"/>
<path d="M310.02 91.50 L310.01 91.85 L309.97 92.20 L309.90 92.54 L309.80 92.88 L309.67 93.21 L309.51 93.53 L309.33 93.83 L309.11 94.11 L308.88 94.38 L308.62 94.62 L308.34 94.84 L308.04 95.04 L307.73 95.21 L307.40 95.35 L307.06 95.47 L306.71 95.55 L306.36 95.59 L306.00 95.61 L305.64 95.59 L305.29 95.54 L304.94 95.47 L304.60 95.36 L304.27 95.22 L303.95 95.05 L303.65 94.86 L303.37 94.64 L303.11 94.39 L302.87 94.13 L302.65 93.84 L302.47 93.54 L302.31 93.22 L302.18 92.89 L302.07 92.55 L302.00 92.21 L301.96 91.85 L301.95 91.50 L301.97 91.15 L302.01 90.80 L302.09 90.45 L302.20 90.12 L302.34 89.79 L302.50 89.48 L302.69 89.18 L302.91 88.91 L303.15 88.65 L303.41 88.41 L303.69 88.20 L303.99 88.02 L304.30 87.86 L304.63 87.73 L304.96 87.62 L305.30 87.55 L305.65 87.51 L306.00 87.49 L306.35 87.51 L306.70 87.56 L307.04 87.63 L307.37 87.74 L307.69 87.87 L308.00 88.03 L308.30 88.21 L308.58 88.43 L308.84 88.66 L309.08 88.92 L309.29 89.20 L309.48 89.49 L309.64 89.80 L309.78 90.12 L309.88 90.46 L309.96 90.80 L310.01 91.15Z" fill="none" stroke="#5a5a5a" stroke-width="0.45" stroke-linejoin="round"/>
<path d="M309.45 91.50 L309.44 91.80 L309.40 92.10 L309.34 92.39 L309.25 92.68 L309.14 92.96 L309.00 93.23 L308.84 93.49 L308.66 93.73 L308.46 93.96 L308.23 94.16 L308.00 94.35 L307.74 94.52 L307.47 94.66 L307.19 94.78 L306.90 94.87 L306.61 94.94 L306.30 94.98 L306.00 94.99 L305.70 94.98 L305.39 94.94 L305.10 94.87 L304.81 94.78 L304.53 94.66 L304.26 94.52 L304.00 94.36 L303.76 94.17 L303.54 93.96 L303.33 93.74 L303.15 93.50 L302.99 93.24 L302.85 92.97 L302.74 92.69 L302.65 92.40 L302.58 92.10 L302.55 91.80 L302.54 91.50 L302.55 91.20 L302.59 90.90 L302.66 90.60 L302.75 90.32 L302.86 90.04 L303.01 89.77 L303.17 89.52 L303.35 89.28 L303.56 89.06 L303.78 88.85 L304.02 88.67 L304.27 88.51 L304.54 88.37 L304.82 88.26 L305.11 88.17 L305.40 88.11 L305.70 88.07 L306.00 88.06 L306.30 88.07 L306.60 88.11 L306.89 88.18 L307.18 88.27 L307.45 88.38 L307.72 88.52 L307.98 88.68 L308.21 88.86 L308.44 89.06 L308.64 89.28 L308.82 89.52 L308.99 89.78 L309.13 90.04 L309.24 90.32 L309.33 90.61 L309.40 90.90 L309.44 91.20Z" fill="none" stroke="#5a5a5a" stroke-width="0.45" stroke-linejoin="round"/>
<path d="M308.89 91.50 L308.88 91.75 L308.85 92.00 L308.80 92.25 L308.72 92.49 L308.63 92.72 L308.51 92.95 L308.38 93.16 L308.22 93.37 L308.05 93.55 L307.87 93.72 L307.67 93.88 L307.45 94.02 L307.23 94.13 L306.99 94.23 L306.75 94.31 L306.51 94.37 L306.25 94.40 L306.00 94.41 L305.75 94.40 L305.49 94.37 L305.25 94.31 L305.00 94.23 L304.77 94.14 L304.55 94.02 L304.33 93.88 L304.13 93.73 L303.94 93.56 L303.77 93.37 L303.62 93.17 L303.48 92.95 L303.37 92.73 L303.27 92.49 L303.20 92.25 L303.14 92.00 L303.11 91.75 L303.10 91.50 L303.11 91.25 L303.15 91.00 L303.20 90.75 L303.28 90.51 L303.37 90.28 L303.49 90.05 L303.63 89.84 L303.78 89.64 L303.95 89.45 L304.14 89.28 L304.34 89.13 L304.55 88.99 L304.78 88.88 L305.01 88.78 L305.25 88.71 L305.50 88.65 L305.75 88.62 L306.00 88.61 L306.25 88.62 L306.50 88.66 L306.75 88.71 L306.99 88.78 L307.22 88.88 L307.45 89.00 L307.66 89.13 L307.86 89.29 L308.04 89.46 L308.22 89.64 L308.37 89.84 L308.50 90.05 L308.62 90.28 L308.72 90.51 L308.79 90.75 L308.85 91.00 L308.88 91.25Z" fill="none" stroke="#5a5a5a" stroke-width="0.45" stroke-linejoin="round"/>
<path d="M308.34 91.50 L308.34 91.70 L308.31 91.91 L308.27 92.11 L308.20 92.30 L308.13 92.49 L308.03 92.67 L307.92 92.85 L307.80 93.01 L307.66 93.16 L307.51 93.30 L307.35 93.42 L307.17 93.53 L306.99 93.63 L306.80 93.71 L306.61 93.77 L306.41 93.82 L306.20 93.84 L306.00 93.85 L305.80 93.84 L305.59 93.81 L305.39 93.77 L305.20 93.71 L305.01 93.63 L304.82 93.54 L304.65 93.43 L304.49 93.30 L304.34 93.16 L304.20 93.01 L304.08 92.85 L303.97 92.67 L303.87 92.49 L303.79 92.30 L303.73 92.11 L303.69 91.91 L303.66 91.70 L303.65 91.50 L303.66 91.30 L303.69 91.09 L303.73 90.89 L303.80 90.70 L303.87 90.51 L303.97 90.33 L304.08 90.15 L304.20 89.99 L304.34 89.84 L304.49 89.70 L304.66 89.58 L304.83 89.47 L305.01 89.38 L305.20 89.30 L305.39 89.24 L305.59 89.19 L305.80 89.17 L306.00 89.16 L306.20 89.17 L306.41 89.19 L306.61 89.24 L306.80 89.30 L306.99 89.38 L307.17 89.47 L307.34 89.58 L307.51 89.70 L307.66 89.84 L307.80 89.99 L307.92 90.16 L308.03 90.33 L308.12 90.51 L308.20 90.70 L308.26 90.89 L308.31 91.09 L308.34 91.30Z" fill="none" stroke="#5a5a5a" stroke-width="0.45" stroke-linejoin="round"/>
<path d="M307.80 91.50 L307.79 91.66 L307.77 91.81 L307.74 91.97 L307.69 92.12 L307.63 92.26 L307.56 92.40 L307.48 92.53 L307.38 92.66 L307.27 92.77 L307.16 92.88 L307.03 92.98 L306.90 93.06 L306.76 93.13 L306.62 93.19 L306.47 93.24 L306.31 93.28 L306.16 93.30 L306.00 93.30 L305.84 93.30 L305.69 93.28 L305.53 93.24 L305.38 93.19 L305.24 93.13 L305.10 93.06 L304.97 92.98 L304.84 92.88 L304.73 92.77 L304.62 92.66 L304.52 92.53 L304.44 92.40 L304.37 92.26 L304.31 92.12 L304.26 91.97 L304.23 91.81 L304.20 91.66 L304.20 91.50 L304.21 91.34 L304.23 91.19 L304.26 91.03 L304.31 90.88 L304.37 90.74 L304.44 90.60 L304.52 90.47 L304.62 90.34 L304.73 90.23 L304.84 90.12 L304.97 90.02 L305.10 89.94 L305.24 89.87 L305.38 89.81 L305.53 89.76 L305.69 89.73 L305.84 89.71 L306.00 89.70 L306.16 89.71 L306.31 89.73 L306.47 89.76 L306.62 89.81 L306.76 89.87 L306.90 89.94 L307.03 90.02 L307.16 90.12 L307.27 90.23 L307.38 90.34 L307.48 90.47 L307.56 90.60 L307.63 90.74 L307.69 90.88 L307.74 91.03 L307.77 91.19 L307.79 91.34Z" fill="none" stroke="#5a5a5a" stroke-width="0.45" stroke-linejoin="round"/>
<path d="M307.26 91.50 L307.26 91.61 L307.24 91.72 L307.22 91.83 L307.18 91.93 L307.14 92.03 L307.09 92.13 L307.03 92.22 L306.97 92.31 L306.89 92.39 L306.81 92.47 L306.72 92.53 L306.63 92.59 L306.53 92.64 L306.43 92.68 L306.33 92.72 L306.22 92.74 L306.11 92.76 L306.00 92.76 L305.89 92.76 L305.78 92.74 L305.67 92.72 L305.57 92.68 L305.47 92.64 L305.37 92.59 L305.28 92.53 L305.19 92.47 L305.11 92.39 L305.03 92.31 L304.97 92.22 L304.91 92.13 L304.86 92.03 L304.82 91.93 L304.78 91.83 L304.76 91.72 L304.74 91.61 L304.74 91.50 L304.74 91.39 L304.76 91.28 L304.78 91.17 L304.82 91.07 L304.86 90.97 L304.91 90.87 L304.97 90.78 L305.03 90.69 L305.11 90.61 L305.19 90.53 L305.28 90.47 L305.37 90.41 L305.47 90.36 L305.57 90.32 L305.67 90.28 L305.78 90.26 L305.89 90.24 L306.00 90.24 L306.11 90.24 L306.22 90.26 L306.33 90.28 L306.43 90.32 L306.53 90.36 L306.63 90.41 L306.72 90.47 L306.81 90.53 L306.89 90.61 L306.97 90.69 L307.03 90.78 L307.09 90.87 L307.14 90.97 L307.18 91.07 L307.22 91.17 L307.24 91.28 L307.26 91.39Z" fill="none" stroke="#5a5a5a" stroke-width="0.45" stroke-linejoin="round"/><defs><radialGradient id="g6" gradientUnits="userSpaceOnUse" cx="306" cy="91.5" r="1" gradientTransform="translate(306 91.5) scale(9 9) translate(-306 -91.5)"><stop offset="0" stop-color="#fff" stop-opacity="0.5"/><stop offset="0.1" stop-color="#fff" stop-opacity="0.0"/><stop offset="0.18" stop-color="#555" stop-opacity="0.4"/><stop offset="0.65" stop-color="#555" stop-opacity="0.30000000000000004"/><stop offset="1" stop-color="#555" stop-opacity="0"/></radialGradient></defs><ellipse cx="306" cy="91.5" rx="9" ry="9" fill="url(#g6)"/><rect x="295.2" y="53" width="4.400000000000034" height="27" fill="#8a8a8a" fill-opacity="0.44000000000000006"/><line x1="295.50" y1="57.44" x2="295.50" y2="80" stroke="#888" stroke-width="0.45" stroke-opacity="0.8"/><line x1="296.40" y1="54.41" x2="296.40" y2="80" stroke="#777" stroke-width="0.45" stroke-opacity="0.8"/><line x1="297.30" y1="54.84" x2="297.30" y2="80" stroke="#555" stroke-width="0.45" stroke-opacity="0.8"/><line x1="298.20" y1="55.05" x2="298.20" y2="80" stroke="#777" stroke-width="0.45" stroke-opacity="0.8"/><line x1="299.10" y1="53.23" x2="299.10" y2="80" stroke="#777" stroke-width="0.45" stroke-opacity="0.8"/><rect x="295.2" y="80" width="2.8000000000000114" height="22" fill="#8a8a8a" fill-opacity="0.385"/><line x1="295.50" y1="80.00" x2="295.50" y2="102" stroke="#555" stroke-width="0.45" stroke-opacity="0.7"/><line x1="296.40" y1="80.00" x2="296.40" y2="102" stroke="#888" stroke-width="0.45" stroke-opacity="0.7"/><line x1="297.30" y1="80.00" x2="297.30" y2="102" stroke="#666" stroke-width="0.45" stroke-opacity="0.7"/><rect x="296.5" y="98.6" width="21.5" height="3.3000000000000114" fill="#888" fill-opacity="0.54"/><line x1="296.5" y1="98.90" x2="315.39" y2="98.90" stroke="#777" stroke-width="0.45" stroke-opacity="0.9"/><line x1="296.5" y1="99.80" x2="315.23" y2="99.80" stroke="#777" stroke-width="0.45" stroke-opacity="0.9"/><line x1="296.5" y1="100.70" x2="317.03" y2="100.70" stroke="#555" stroke-width="0.45" stroke-opacity="0.9"/><line x1="296.5" y1="101.60" x2="315.61" y2="101.60" stroke="#555" stroke-width="0.45" stroke-opacity="0.9"/></g>
<rect x="295.2" y="13.4" width="94.0" height="88.5" fill="none" stroke="#626262" stroke-width="0.9"/>
<path d="M295.20 101.90v2.2 M295.20 101.90h-2.2 M302.27 101.90v1.2 M295.20 95.24h-1.2 M306.41 101.90v1.2 M295.20 91.34h-1.2 M309.35 101.90v1.2 M295.20 88.58h-1.2 M311.63 101.90v1.2 M295.20 86.44h-1.2 M313.49 101.90v1.2 M295.20 84.68h-1.2 M315.06 101.90v1.2 M295.20 83.20h-1.2 M316.42 101.90v1.2 M295.20 81.92h-1.2 M317.62 101.90v1.2 M295.20 80.79h-1.2 M318.70 101.90v2.2 M295.20 79.78h-2.2 M325.77 101.90v1.2 M295.20 73.11h-1.2 M329.91 101.90v1.2 M295.20 69.22h-1.2 M332.85 101.90v1.2 M295.20 66.45h-1.2 M335.13 101.90v1.2 M295.20 64.31h-1.2 M336.99 101.90v1.2 M295.20 62.56h-1.2 M338.56 101.90v1.2 M295.20 61.08h-1.2 M339.92 101.90v1.2 M295.20 59.79h-1.2 M341.12 101.90v1.2 M295.20 58.66h-1.2 M342.20 101.90v2.2 M295.20 57.65h-2.2 M349.27 101.90v1.2 M295.20 50.99h-1.2 M353.41 101.90v1.2 M295.20 47.09h-1.2 M356.35 101.90v1.2 M295.20 44.33h-1.2 M358.63 101.90v1.2 M295.20 42.19h-1.2 M360.49 101.90v1.2 M295.20 40.43h-1.2 M362.06 101.90v1.2 M295.20 38.95h-1.2 M363.42 101.90v1.2 M295.20 37.67h-1.2 M364.62 101.90v1.2 M295.20 36.54h-1.2 M365.70 101.90v2.2 M295.20 35.53h-2.2 M372.77 101.90v1.2 M295.20 28.86h-1.2 M376.91 101.90v1.2 M295.20 24.97h-1.2 M379.85 101.90v1.2 M295.20 22.20h-1.2 M382.13 101.90v1.2 M295.20 20.06h-1.2 M383.99 101.90v1.2 M295.20 18.31h-1.2 M385.56 101.90v1.2 M295.20 16.83h-1.2 M386.92 101.90v1.2 M295.20 15.54h-1.2 M388.12 101.90v1.2 M295.20 14.41h-1.2 M389.20 101.90v2.2 M295.20 13.40h-2.2" stroke="#777" stroke-width="0.6" fill="none"/>
<text x="293.00" y="112.90" font-size="4.6" fill="#555" stroke="#555" stroke-width="0.12">10<tspan dy="-2" font-size="3.4">0</tspan></text>
<text x="285.20" y="105.50" font-size="4.6" fill="#555" stroke="#555" stroke-width="0.12">10<tspan dy="-2" font-size="3.4">0</tspan></text>
<text x="316.50" y="112.90" font-size="4.6" fill="#555" stroke="#555" stroke-width="0.12">10<tspan dy="-2" font-size="3.4">1</tspan></text>
<text x="285.20" y="83.38" font-size="4.6" fill="#555" stroke="#555" stroke-width="0.12">10<tspan dy="-2" font-size="3.4">1</tspan></text>
<text x="340.00" y="112.90" font-size="4.6" fill="#555" stroke="#555" stroke-width="0.12">10<tspan dy="-2" font-size="3.4">2</tspan></text>
<text x="285.20" y="61.25" font-size="4.6" fill="#555" stroke="#555" stroke-width="0.12">10<tspan dy="-2" font-size="3.4">2</tspan></text>
<text x="363.50" y="112.90" font-size="4.6" fill="#555" stroke="#555" stroke-width="0.12">10<tspan dy="-2" font-size="3.4">3</tspan></text>
<text x="285.20" y="39.13" font-size="4.6" fill="#555" stroke="#555" stroke-width="0.12">10<tspan dy="-2" font-size="3.4">3</tspan></text>
<text x="297.2" y="18.1" font-size="4.2" fill="#222" stroke="#222" stroke-width="0.1" font-weight="normal" text-anchor="start" >53.67</text>
<text x="299.6" y="31.7" font-size="7.3" fill="#222" stroke="#222" stroke-width="0.16" font-weight="normal" text-anchor="start" >53.67</text>
<text x="373.3" y="18.6" font-size="4.2" fill="#222" stroke="#222" stroke-width="0.1" font-weight="normal" text-anchor="start" >1.53</text>
<text x="359.2" y="31.7" font-size="7.3" fill="#222" stroke="#222" stroke-width="0.16" font-weight="normal" text-anchor="start" >1.53</text>
<text x="361.2" y="92.7" font-size="7.3" fill="#222" stroke="#222" stroke-width="0.16" font-weight="normal" text-anchor="start" >1.00</text>
<text x="373.1" y="100.8" font-size="4.2" fill="#222" stroke="#222" stroke-width="0.1" font-weight="normal" text-anchor="start" >1.00</text>
<text x="319.8" y="124.9" font-size="8.6" fill="#222" stroke="#222" stroke-width="0.3" font-weight="normal" text-anchor="start" >FL3-Height</text>
<text transform="translate(281,77.0) rotate(-90)" x="0" y="0" font-size="8.6" fill="#222" stroke="#222" stroke-width="0.3">CD45-APC</text>
<line x1="447.6" y1="14.1" x2="447.6" y2="102" stroke="#8a8a8a" stroke-width="0.8"/>
<line x1="422" y1="71.7" x2="515.6" y2="71.7" stroke="#8a8a8a" stroke-width="0.8"/>
<defs><clipPath id="c9"><rect x="422" y="14.1" width="93.60000000000002" height="87.9"/></clipPath></defs><g clip-path="url(#c9)"><path d="M448.00 71.50 C448.22 69.25 449.48 66.23 450.50 64.00 C451.52 61.77 452.77 59.60 454.10 58.10 C455.43 56.60 456.82 55.83 458.50 55.00 C460.18 54.17 462.28 53.40 464.20 53.10 C466.12 52.80 468.15 53.02 470.00 53.20 C471.85 53.38 473.72 53.40 475.30 54.20 C476.88 55.00 478.38 56.42 479.50 58.00 C480.62 59.58 481.45 62.03 482.00 63.70 C482.55 65.37 482.72 66.52 482.80 68.00 C482.88 69.48 482.80 71.10 482.50 72.60 C482.20 74.10 481.65 75.60 481.00 77.00 C480.35 78.40 479.68 79.75 478.60 81.00 C477.52 82.25 475.98 83.58 474.50 84.50 C473.02 85.42 471.37 85.98 469.70 86.50 C468.03 87.02 466.17 87.42 464.50 87.60 C462.83 87.78 461.20 87.90 459.70 87.60 C458.20 87.30 456.80 86.63 455.50 85.80 C454.20 84.97 452.95 83.98 451.90 82.60 C450.85 81.22 449.85 79.35 449.20 77.50 C448.55 75.65 447.78 73.75 448.00 71.50Z" fill="#fafafa" fill-opacity="0.9"/>
<path d="M482.77 67.50 L482.83 69.12 L482.76 70.75 L482.54 72.39 L482.15 74.00 L481.61 75.57 L480.95 77.11 L480.20 78.63 L479.31 80.09 L478.22 81.42 L476.99 82.62 L475.65 83.71 L474.21 84.67 L472.67 85.44 L471.06 86.06 L469.41 86.59 L467.74 87.03 L466.04 87.38 L464.30 87.62 L462.53 87.76 L460.73 87.74 L458.96 87.42 L457.28 86.79 L455.71 85.93 L454.24 84.92 L452.91 83.76 L451.77 82.43 L450.82 80.98 L450.02 79.48 L449.37 77.96 L448.82 76.44 L448.35 74.94 L448.04 73.42 L447.97 71.87 L448.19 70.34 L448.57 68.88 L449.04 67.50 L449.54 66.21 L450.06 64.99 L450.58 63.82 L451.12 62.70 L451.69 61.62 L452.30 60.57 L452.96 59.56 L453.69 58.59 L454.49 57.69 L455.38 56.87 L456.37 56.17 L457.41 55.56 L458.48 55.01 L459.57 54.51 L460.70 54.05 L461.86 53.66 L463.06 53.33 L464.30 53.09 L465.57 52.97 L466.86 52.96 L468.18 53.03 L469.52 53.15 L470.93 53.28 L472.43 53.43 L473.96 53.71 L475.41 54.26 L476.71 55.09 L477.89 56.10 L478.93 57.25 L479.84 58.53 L480.57 59.91 L481.18 61.36 L481.71 62.84 L482.20 64.34 L482.57 65.90Z" fill="none" stroke="#5e5e5e" stroke-width="0.45" stroke-linejoin="round"/>
<path d="M480.88 67.50 L480.93 68.95 L480.86 70.42 L480.65 71.88 L480.30 73.32 L479.82 74.74 L479.23 76.12 L478.54 77.47 L477.72 78.76 L476.76 79.96 L475.66 81.04 L474.46 82.01 L473.17 82.86 L471.79 83.56 L470.35 84.13 L468.88 84.61 L467.39 85.00 L465.86 85.31 L464.30 85.52 L462.71 85.63 L461.12 85.56 L459.54 85.26 L458.03 84.72 L456.62 83.98 L455.31 83.08 L454.12 82.03 L453.09 80.86 L452.22 79.58 L451.49 78.25 L450.88 76.90 L450.37 75.54 L449.96 74.19 L449.70 72.81 L449.63 71.43 L449.78 70.06 L450.08 68.74 L450.47 67.50 L450.90 66.33 L451.35 65.22 L451.82 64.16 L452.31 63.14 L452.83 62.15 L453.38 61.20 L453.99 60.28 L454.65 59.40 L455.38 58.58 L456.20 57.85 L457.09 57.20 L458.03 56.63 L459.00 56.13 L459.99 55.67 L461.02 55.26 L462.08 54.91 L463.17 54.62 L464.30 54.42 L465.45 54.32 L466.63 54.31 L467.82 54.37 L469.04 54.48 L470.31 54.61 L471.64 54.79 L472.98 55.10 L474.27 55.62 L475.45 56.35 L476.50 57.26 L477.44 58.30 L478.25 59.45 L478.92 60.68 L479.48 61.98 L479.96 63.30 L480.38 64.66 L480.69 66.07Z" fill="none" stroke="#5e5e5e" stroke-width="0.45" stroke-linejoin="round"/>
<path d="M478.99 67.50 L479.03 68.79 L478.96 70.09 L478.78 71.38 L478.47 72.66 L478.04 73.91 L477.51 75.13 L476.90 76.32 L476.17 77.46 L475.31 78.51 L474.34 79.47 L473.28 80.33 L472.14 81.07 L470.92 81.70 L469.65 82.21 L468.35 82.62 L467.03 82.97 L465.68 83.24 L464.30 83.42 L462.90 83.51 L461.49 83.44 L460.10 83.18 L458.77 82.70 L457.51 82.05 L456.35 81.26 L455.30 80.35 L454.39 79.32 L453.60 78.20 L452.95 77.03 L452.40 75.83 L451.94 74.64 L451.57 73.44 L451.32 72.22 L451.25 71.00 L451.36 69.78 L451.61 68.61 L451.94 67.50 L452.31 66.45 L452.70 65.45 L453.11 64.50 L453.54 63.58 L454.00 62.70 L454.49 61.84 L455.03 61.01 L455.63 60.22 L456.29 59.49 L457.02 58.83 L457.82 58.24 L458.66 57.73 L459.53 57.28 L460.43 56.87 L461.35 56.51 L462.31 56.20 L463.29 55.95 L464.30 55.77 L465.33 55.69 L466.38 55.69 L467.45 55.75 L468.54 55.86 L469.67 55.99 L470.84 56.17 L472.03 56.47 L473.16 56.94 L474.20 57.60 L475.13 58.41 L475.96 59.33 L476.68 60.35 L477.27 61.45 L477.77 62.60 L478.20 63.78 L478.56 64.99 L478.83 66.23Z" fill="none" stroke="#5e5e5e" stroke-width="0.45" stroke-linejoin="round"/>
<path d="M477.86 67.50 L477.90 68.69 L477.83 69.89 L477.66 71.08 L477.37 72.26 L476.97 73.41 L476.49 74.54 L475.92 75.63 L475.24 76.68 L474.45 77.65 L473.56 78.53 L472.58 79.32 L471.52 80.01 L470.40 80.59 L469.23 81.05 L468.04 81.44 L466.81 81.76 L465.57 82.00 L464.30 82.17 L463.01 82.24 L461.71 82.18 L460.43 81.94 L459.20 81.50 L458.05 80.90 L456.98 80.18 L456.01 79.34 L455.16 78.40 L454.43 77.37 L453.82 76.29 L453.31 75.20 L452.88 74.10 L452.53 72.99 L452.30 71.87 L452.22 70.74 L452.31 69.61 L452.53 68.53 L452.83 67.50 L453.16 66.53 L453.51 65.60 L453.89 64.71 L454.28 63.85 L454.71 63.03 L455.17 62.23 L455.67 61.46 L456.23 60.72 L456.84 60.04 L457.52 59.42 L458.26 58.88 L459.05 58.40 L459.86 57.98 L460.70 57.60 L461.56 57.26 L462.44 56.98 L463.36 56.75 L464.30 56.59 L465.26 56.51 L466.24 56.52 L467.22 56.59 L468.23 56.69 L469.28 56.83 L470.36 57.00 L471.45 57.29 L472.50 57.73 L473.46 58.34 L474.31 59.10 L475.08 59.95 L475.74 60.90 L476.29 61.91 L476.74 62.97 L477.14 64.06 L477.47 65.18 L477.72 66.33Z" fill="none" stroke="#5e5e5e" stroke-width="0.45" stroke-linejoin="round"/>
<path d="M476.74 67.50 L476.77 68.59 L476.71 69.69 L476.54 70.78 L476.28 71.86 L475.91 72.91 L475.46 73.95 L474.94 74.95 L474.32 75.91 L473.59 76.79 L472.78 77.60 L471.88 78.32 L470.91 78.95 L469.89 79.48 L468.82 79.91 L467.72 80.26 L466.60 80.55 L465.46 80.77 L464.30 80.92 L463.12 80.99 L461.93 80.93 L460.76 80.71 L459.64 80.31 L458.58 79.76 L457.60 79.10 L456.71 78.34 L455.93 77.48 L455.26 76.54 L454.69 75.56 L454.22 74.56 L453.81 73.55 L453.49 72.54 L453.27 71.51 L453.19 70.48 L453.27 69.45 L453.46 68.45 L453.72 67.50 L454.01 66.60 L454.33 65.74 L454.67 64.92 L455.03 64.13 L455.42 63.36 L455.85 62.62 L456.31 61.91 L456.83 61.23 L457.40 60.60 L458.03 60.03 L458.71 59.52 L459.44 59.08 L460.19 58.69 L460.96 58.34 L461.76 58.03 L462.58 57.77 L463.43 57.56 L464.30 57.42 L465.19 57.35 L466.09 57.36 L467.00 57.43 L467.93 57.53 L468.89 57.66 L469.88 57.84 L470.88 58.11 L471.83 58.52 L472.71 59.09 L473.50 59.78 L474.19 60.57 L474.80 61.44 L475.30 62.37 L475.72 63.34 L476.08 64.34 L476.38 65.37 L476.61 66.42Z" fill="none" stroke="#5e5e5e" stroke-width="0.45" stroke-linejoin="round"/>
<path d="M475.62 67.50 L475.64 68.49 L475.58 69.49 L475.43 70.48 L475.19 71.46 L474.85 72.42 L474.45 73.36 L473.97 74.27 L473.40 75.14 L472.74 75.94 L472.00 76.67 L471.18 77.33 L470.31 77.90 L469.37 78.38 L468.40 78.77 L467.41 79.09 L466.39 79.35 L465.35 79.55 L464.30 79.69 L463.23 79.74 L462.15 79.68 L461.09 79.48 L460.07 79.12 L459.11 78.63 L458.22 78.03 L457.41 77.34 L456.69 76.57 L456.08 75.72 L455.56 74.83 L455.12 73.93 L454.75 73.01 L454.45 72.09 L454.24 71.16 L454.17 70.22 L454.22 69.28 L454.39 68.37 L454.61 67.50 L454.88 66.68 L455.16 65.89 L455.47 65.13 L455.79 64.40 L456.15 63.70 L456.54 63.02 L456.97 62.36 L457.44 61.74 L457.96 61.16 L458.54 60.63 L459.17 60.17 L459.83 59.76 L460.52 59.40 L461.24 59.08 L461.97 58.80 L462.72 58.56 L463.50 58.37 L464.30 58.25 L465.11 58.19 L465.94 58.20 L466.77 58.27 L467.62 58.37 L468.50 58.50 L469.40 58.67 L470.30 58.93 L471.17 59.31 L471.96 59.84 L472.68 60.47 L473.31 61.19 L473.86 61.98 L474.32 62.83 L474.70 63.72 L475.02 64.63 L475.30 65.56 L475.50 66.52Z" fill="none" stroke="#5e5e5e" stroke-width="0.45" stroke-linejoin="round"/>
<path d="M474.50 67.50 L474.52 68.39 L474.46 69.29 L474.32 70.19 L474.10 71.07 L473.80 71.93 L473.43 72.77 L473.00 73.59 L472.49 74.37 L471.89 75.09 L471.22 75.75 L470.49 76.34 L469.70 76.86 L468.86 77.29 L467.99 77.64 L467.09 77.93 L466.18 78.16 L465.25 78.34 L464.30 78.45 L463.34 78.50 L462.37 78.45 L461.42 78.26 L460.50 77.94 L459.64 77.50 L458.83 76.97 L458.10 76.35 L457.45 75.66 L456.90 74.90 L456.42 74.11 L456.02 73.29 L455.68 72.47 L455.41 71.65 L455.22 70.81 L455.14 69.95 L455.18 69.11 L455.32 68.29 L455.52 67.50 L455.74 66.75 L456.00 66.04 L456.27 65.35 L456.56 64.68 L456.88 64.04 L457.24 63.42 L457.62 62.83 L458.05 62.26 L458.53 61.73 L459.06 61.25 L459.63 60.83 L460.23 60.46 L460.86 60.13 L461.51 59.84 L462.18 59.58 L462.87 59.37 L463.57 59.20 L464.30 59.09 L465.04 59.04 L465.79 59.06 L466.54 59.12 L467.31 59.22 L468.10 59.35 L468.91 59.51 L469.73 59.75 L470.51 60.10 L471.22 60.58 L471.86 61.16 L472.43 61.81 L472.92 62.52 L473.34 63.29 L473.68 64.09 L473.97 64.91 L474.22 65.75 L474.40 66.62Z" fill="none" stroke="#5e5e5e" stroke-width="0.45" stroke-linejoin="round"/>
<path d="M473.38 67.50 L473.40 68.30 L473.35 69.10 L473.22 69.89 L473.02 70.67 L472.75 71.44 L472.42 72.19 L472.04 72.92 L471.58 73.61 L471.05 74.25 L470.45 74.83 L469.80 75.36 L469.10 75.81 L468.36 76.20 L467.58 76.51 L466.78 76.77 L465.97 76.98 L465.14 77.13 L464.30 77.23 L463.45 77.27 L462.59 77.22 L461.74 77.06 L460.93 76.77 L460.16 76.38 L459.44 75.91 L458.79 75.37 L458.21 74.75 L457.71 74.09 L457.29 73.38 L456.93 72.66 L456.62 71.94 L456.37 71.20 L456.19 70.45 L456.12 69.69 L456.15 68.94 L456.26 68.20 L456.42 67.50 L456.62 66.83 L456.84 66.18 L457.08 65.56 L457.34 64.97 L457.63 64.39 L457.94 63.83 L458.29 63.29 L458.68 62.78 L459.10 62.30 L459.58 61.87 L460.09 61.49 L460.64 61.16 L461.20 60.86 L461.79 60.60 L462.39 60.37 L463.01 60.18 L463.65 60.04 L464.30 59.94 L464.96 59.90 L465.64 59.92 L466.31 59.98 L467.00 60.08 L467.71 60.20 L468.43 60.35 L469.15 60.57 L469.84 60.90 L470.47 61.33 L471.04 61.84 L471.55 62.42 L471.99 63.06 L472.36 63.74 L472.66 64.46 L472.92 65.19 L473.14 65.94 L473.29 66.71Z" fill="none" stroke="#5e5e5e" stroke-width="0.45" stroke-linejoin="round"/>
<path d="M472.27 67.50 L472.28 68.20 L472.24 68.90 L472.13 69.60 L471.95 70.28 L471.71 70.96 L471.42 71.61 L471.08 72.25 L470.68 72.85 L470.21 73.41 L469.69 73.92 L469.12 74.38 L468.50 74.78 L467.85 75.12 L467.17 75.39 L466.47 75.62 L465.76 75.80 L465.04 75.93 L464.30 76.02 L463.55 76.05 L462.80 76.00 L462.06 75.86 L461.35 75.61 L460.68 75.27 L460.05 74.86 L459.48 74.39 L458.97 73.86 L458.52 73.28 L458.15 72.66 L457.82 72.03 L457.55 71.40 L457.32 70.75 L457.16 70.10 L457.09 69.43 L457.11 68.77 L457.20 68.12 L457.34 67.50 L457.50 66.91 L457.69 66.33 L457.90 65.78 L458.12 65.25 L458.38 64.74 L458.66 64.24 L458.96 63.76 L459.31 63.31 L459.69 62.89 L460.11 62.50 L460.56 62.17 L461.05 61.87 L461.55 61.60 L462.07 61.37 L462.60 61.17 L463.16 61.01 L463.72 60.88 L464.30 60.80 L464.89 60.77 L465.48 60.79 L466.08 60.85 L466.69 60.94 L467.31 61.05 L467.94 61.19 L468.57 61.40 L469.18 61.69 L469.73 62.07 L470.23 62.52 L470.67 63.04 L471.06 63.60 L471.38 64.20 L471.65 64.83 L471.87 65.47 L472.06 66.13 L472.20 66.81Z" fill="none" stroke="#5e5e5e" stroke-width="0.45" stroke-linejoin="round"/>
<path d="M471.17 67.50 L471.17 68.10 L471.13 68.70 L471.03 69.30 L470.88 69.89 L470.67 70.47 L470.42 71.03 L470.13 71.58 L469.78 72.10 L469.38 72.58 L468.93 73.02 L468.44 73.41 L467.91 73.75 L467.35 74.04 L466.77 74.28 L466.17 74.47 L465.56 74.63 L464.93 74.74 L464.30 74.81 L463.66 74.84 L463.01 74.79 L462.38 74.67 L461.77 74.46 L461.19 74.17 L460.65 73.82 L460.16 73.42 L459.72 72.96 L459.33 72.47 L459.00 71.95 L458.72 71.41 L458.48 70.86 L458.28 70.31 L458.14 69.74 L458.07 69.17 L458.08 68.60 L458.15 68.04 L458.26 67.50 L458.39 66.98 L458.55 66.49 L458.72 66.01 L458.92 65.54 L459.14 65.09 L459.38 64.66 L459.65 64.24 L459.95 63.85 L460.28 63.48 L460.65 63.15 L461.04 62.85 L461.46 62.59 L461.90 62.36 L462.36 62.16 L462.82 61.98 L463.30 61.84 L463.80 61.73 L464.30 61.67 L464.81 61.64 L465.33 61.66 L465.85 61.72 L466.37 61.80 L466.91 61.91 L467.45 62.04 L468.00 62.22 L468.51 62.48 L468.99 62.81 L469.42 63.21 L469.80 63.65 L470.13 64.14 L470.40 64.65 L470.63 65.19 L470.83 65.75 L470.99 66.32 L471.10 66.90Z" fill="none" stroke="#5e5e5e" stroke-width="0.45" stroke-linejoin="round"/>
<path d="M470.06 67.50 L470.07 68.00 L470.03 68.51 L469.95 69.01 L469.82 69.51 L469.64 69.99 L469.43 70.46 L469.18 70.92 L468.89 71.35 L468.55 71.75 L468.18 72.12 L467.76 72.45 L467.32 72.74 L466.85 72.98 L466.37 73.18 L465.86 73.34 L465.35 73.47 L464.83 73.56 L464.30 73.62 L463.76 73.63 L463.22 73.60 L462.69 73.49 L462.18 73.31 L461.70 73.08 L461.25 72.79 L460.83 72.45 L460.46 72.08 L460.13 71.67 L459.85 71.23 L459.61 70.78 L459.41 70.33 L459.24 69.86 L459.11 69.39 L459.05 68.91 L459.05 68.43 L459.10 67.96 L459.18 67.50 L459.29 67.06 L459.42 66.64 L459.56 66.23 L459.73 65.84 L459.91 65.45 L460.11 65.08 L460.34 64.73 L460.60 64.39 L460.88 64.08 L461.19 63.79 L461.53 63.54 L461.89 63.32 L462.26 63.12 L462.65 62.95 L463.04 62.81 L463.45 62.69 L463.87 62.60 L464.30 62.54 L464.74 62.53 L465.17 62.55 L465.61 62.60 L466.06 62.67 L466.51 62.77 L466.96 62.89 L467.42 63.05 L467.85 63.27 L468.24 63.56 L468.60 63.89 L468.92 64.26 L469.20 64.67 L469.43 65.11 L469.62 65.56 L469.79 66.03 L469.92 66.51 L470.01 67.00Z" fill="none" stroke="#5e5e5e" stroke-width="0.45" stroke-linejoin="round"/>
<path d="M468.97 67.50 L468.97 67.91 L468.94 68.32 L468.87 68.72 L468.76 69.12 L468.62 69.51 L468.45 69.89 L468.24 70.26 L468.01 70.61 L467.73 70.93 L467.43 71.23 L467.10 71.49 L466.74 71.73 L466.36 71.92 L465.97 72.08 L465.56 72.21 L465.15 72.32 L464.73 72.39 L464.30 72.43 L463.87 72.45 L463.43 72.41 L463.01 72.33 L462.59 72.19 L462.20 71.99 L461.84 71.76 L461.50 71.50 L461.20 71.20 L460.93 70.87 L460.70 70.52 L460.50 70.16 L460.33 69.79 L460.19 69.42 L460.09 69.03 L460.03 68.64 L460.02 68.25 L460.05 67.87 L460.12 67.50 L460.20 67.14 L460.30 66.79 L460.41 66.46 L460.54 66.13 L460.69 65.82 L460.86 65.51 L461.05 65.22 L461.26 64.95 L461.49 64.69 L461.74 64.45 L462.02 64.25 L462.32 64.06 L462.62 63.90 L462.94 63.76 L463.27 63.64 L463.60 63.55 L463.95 63.48 L464.30 63.44 L464.66 63.42 L465.02 63.44 L465.38 63.49 L465.74 63.55 L466.10 63.64 L466.47 63.74 L466.84 63.88 L467.18 64.06 L467.50 64.30 L467.79 64.57 L468.05 64.88 L468.27 65.21 L468.46 65.56 L468.62 65.93 L468.75 66.31 L468.85 66.70 L468.93 67.10Z" fill="none" stroke="#5e5e5e" stroke-width="0.45" stroke-linejoin="round"/>
<path d="M467.87 67.50 L467.88 67.81 L467.85 68.13 L467.79 68.44 L467.71 68.74 L467.60 69.04 L467.47 69.33 L467.31 69.61 L467.13 69.87 L466.92 70.12 L466.69 70.35 L466.43 70.55 L466.16 70.73 L465.87 70.88 L465.57 71.00 L465.26 71.10 L464.95 71.18 L464.63 71.23 L464.30 71.26 L463.97 71.27 L463.64 71.24 L463.31 71.18 L463.00 71.07 L462.70 70.93 L462.42 70.75 L462.16 70.55 L461.93 70.32 L461.72 70.08 L461.54 69.81 L461.39 69.54 L461.25 69.26 L461.14 68.97 L461.06 68.68 L461.01 68.38 L461.00 68.08 L461.02 67.79 L461.06 67.50 L461.12 67.22 L461.19 66.95 L461.28 66.69 L461.38 66.44 L461.49 66.19 L461.62 65.95 L461.77 65.73 L461.93 65.51 L462.11 65.31 L462.31 65.13 L462.52 64.96 L462.75 64.82 L462.99 64.70 L463.24 64.59 L463.50 64.50 L463.76 64.42 L464.03 64.37 L464.30 64.34 L464.58 64.33 L464.86 64.35 L465.13 64.39 L465.41 64.44 L465.69 64.51 L465.98 64.60 L466.25 64.71 L466.52 64.86 L466.76 65.04 L466.98 65.25 L467.18 65.48 L467.35 65.74 L467.49 66.01 L467.61 66.29 L467.71 66.59 L467.79 66.88 L467.85 67.19Z" fill="none" stroke="#5e5e5e" stroke-width="0.45" stroke-linejoin="round"/>
<path d="M466.79 67.50 L466.79 67.72 L466.77 67.94 L466.73 68.15 L466.67 68.36 L466.60 68.57 L466.50 68.77 L466.39 68.96 L466.26 69.15 L466.12 69.32 L465.96 69.47 L465.78 69.61 L465.59 69.74 L465.39 69.84 L465.18 69.93 L464.97 70.00 L464.75 70.05 L464.53 70.09 L464.30 70.11 L464.07 70.11 L463.84 70.09 L463.62 70.04 L463.40 69.97 L463.19 69.87 L463.00 69.75 L462.82 69.62 L462.65 69.46 L462.51 69.29 L462.38 69.11 L462.27 68.92 L462.17 68.73 L462.09 68.53 L462.03 68.33 L461.99 68.12 L461.98 67.91 L461.99 67.70 L462.01 67.50 L462.05 67.30 L462.10 67.11 L462.16 66.93 L462.22 66.74 L462.30 66.57 L462.40 66.40 L462.50 66.24 L462.61 66.09 L462.74 65.94 L462.88 65.81 L463.04 65.70 L463.20 65.59 L463.37 65.51 L463.55 65.43 L463.73 65.36 L463.91 65.31 L464.11 65.28 L464.30 65.26 L464.50 65.26 L464.69 65.27 L464.89 65.30 L465.09 65.34 L465.28 65.39 L465.48 65.46 L465.67 65.54 L465.85 65.65 L466.02 65.78 L466.17 65.93 L466.31 66.09 L466.43 66.27 L466.53 66.46 L466.61 66.66 L466.68 66.86 L466.73 67.07 L466.77 67.28Z" fill="none" stroke="#5e5e5e" stroke-width="0.45" stroke-linejoin="round"/>
<path d="M465.71 67.50 L465.71 67.62 L465.70 67.75 L465.68 67.87 L465.64 67.99 L465.60 68.11 L465.55 68.22 L465.48 68.33 L465.41 68.43 L465.33 68.53 L465.24 68.61 L465.14 68.69 L465.03 68.76 L464.92 68.82 L464.80 68.87 L464.68 68.91 L464.55 68.94 L464.43 68.96 L464.30 68.97 L464.17 68.97 L464.04 68.96 L463.92 68.93 L463.79 68.89 L463.68 68.84 L463.57 68.77 L463.46 68.69 L463.37 68.61 L463.29 68.51 L463.21 68.41 L463.15 68.31 L463.09 68.20 L463.04 68.09 L463.00 67.97 L462.98 67.85 L462.97 67.73 L462.97 67.62 L462.98 67.50 L463.00 67.39 L463.02 67.27 L463.05 67.17 L463.09 67.06 L463.14 66.96 L463.19 66.86 L463.25 66.77 L463.32 66.68 L463.39 66.59 L463.48 66.52 L463.56 66.45 L463.66 66.39 L463.76 66.34 L463.86 66.29 L463.97 66.26 L464.08 66.23 L464.19 66.21 L464.30 66.20 L464.41 66.20 L464.53 66.21 L464.64 66.23 L464.75 66.25 L464.87 66.29 L464.98 66.33 L465.09 66.38 L465.19 66.44 L465.28 66.52 L465.37 66.60 L465.44 66.70 L465.51 66.80 L465.57 66.91 L465.62 67.02 L465.65 67.14 L465.68 67.26 L465.70 67.38Z" fill="none" stroke="#5e5e5e" stroke-width="0.45" stroke-linejoin="round"/><defs><radialGradient id="g8" gradientUnits="userSpaceOnUse" cx="464.3" cy="67.5" r="1" gradientTransform="translate(464.3 67.5) scale(13 14) translate(-464.3 -67.5)"><stop offset="0" stop-color="#fff" stop-opacity="0.3"/><stop offset="0.1" stop-color="#fff" stop-opacity="0.0"/><stop offset="0.18" stop-color="#555" stop-opacity="0.42"/><stop offset="0.65" stop-color="#555" stop-opacity="0.315"/><stop offset="1" stop-color="#555" stop-opacity="0"/></radialGradient></defs><ellipse cx="464.3" cy="67.5" rx="13" ry="14" fill="url(#g8)"/><ellipse cx="464" cy="67.5" rx="0.8" ry="1.2" fill="#fff" fill-opacity="0.6"/></g>
<rect x="422" y="14.1" width="93.60000000000002" height="87.9" fill="none" stroke="#626262" stroke-width="0.9"/>
<path d="M422.00 102.00v2.2 M422.00 102.00h-2.2 M429.04 102.00v1.2 M422.00 95.38h-1.2 M433.16 102.00v1.2 M422.00 91.52h-1.2 M436.09 102.00v1.2 M422.00 88.77h-1.2 M438.36 102.00v1.2 M422.00 86.64h-1.2 M440.21 102.00v1.2 M422.00 84.90h-1.2 M441.78 102.00v1.2 M422.00 83.43h-1.2 M443.13 102.00v1.2 M422.00 82.15h-1.2 M444.33 102.00v1.2 M422.00 81.03h-1.2 M445.40 102.00v2.2 M422.00 80.03h-2.2 M452.44 102.00v1.2 M422.00 73.41h-1.2 M456.56 102.00v1.2 M422.00 69.54h-1.2 M459.49 102.00v1.2 M422.00 66.79h-1.2 M461.76 102.00v1.2 M422.00 64.67h-1.2 M463.61 102.00v1.2 M422.00 62.93h-1.2 M465.18 102.00v1.2 M422.00 61.45h-1.2 M466.53 102.00v1.2 M422.00 60.18h-1.2 M467.73 102.00v1.2 M422.00 59.06h-1.2 M468.80 102.00v2.2 M422.00 58.05h-2.2 M475.84 102.00v1.2 M422.00 51.43h-1.2 M479.96 102.00v1.2 M422.00 47.57h-1.2 M482.89 102.00v1.2 M422.00 44.82h-1.2 M485.16 102.00v1.2 M422.00 42.69h-1.2 M487.01 102.00v1.2 M422.00 40.95h-1.2 M488.58 102.00v1.2 M422.00 39.48h-1.2 M489.93 102.00v1.2 M422.00 38.20h-1.2 M491.13 102.00v1.2 M422.00 37.08h-1.2 M492.20 102.00v2.2 M422.00 36.07h-2.2 M499.24 102.00v1.2 M422.00 29.46h-1.2 M503.36 102.00v1.2 M422.00 25.59h-1.2 M506.29 102.00v1.2 M422.00 22.84h-1.2 M508.56 102.00v1.2 M422.00 20.72h-1.2 M510.41 102.00v1.2 M422.00 18.98h-1.2 M511.98 102.00v1.2 M422.00 17.50h-1.2 M513.33 102.00v1.2 M422.00 16.23h-1.2 M514.53 102.00v1.2 M422.00 15.11h-1.2 M515.60 102.00v2.2 M422.00 14.10h-2.2" stroke="#777" stroke-width="0.6" fill="none"/>
<text x="419.80" y="113.00" font-size="4.6" fill="#555" stroke="#555" stroke-width="0.12">10<tspan dy="-2" font-size="3.4">0</tspan></text>
<text x="412.00" y="105.60" font-size="4.6" fill="#555" stroke="#555" stroke-width="0.12">10<tspan dy="-2" font-size="3.4">0</tspan></text>
<text x="443.20" y="113.00" font-size="4.6" fill="#555" stroke="#555" stroke-width="0.12">10<tspan dy="-2" font-size="3.4">1</tspan></text>
<text x="412.00" y="83.62" font-size="4.6" fill="#555" stroke="#555" stroke-width="0.12">10<tspan dy="-2" font-size="3.4">1</tspan></text>
<text x="466.60" y="113.00" font-size="4.6" fill="#555" stroke="#555" stroke-width="0.12">10<tspan dy="-2" font-size="3.4">2</tspan></text>
<text x="412.00" y="61.65" font-size="4.6" fill="#555" stroke="#555" stroke-width="0.12">10<tspan dy="-2" font-size="3.4">2</tspan></text>
<text x="490.00" y="113.00" font-size="4.6" fill="#555" stroke="#555" stroke-width="0.12">10<tspan dy="-2" font-size="3.4">3</tspan></text>
<text x="412.00" y="39.67" font-size="4.6" fill="#555" stroke="#555" stroke-width="0.12">10<tspan dy="-2" font-size="3.4">3</tspan></text>
<text x="424" y="19.0" font-size="4.2" fill="#222" stroke="#222" stroke-width="0.1" font-weight="normal" text-anchor="start" >0.41</text>
<text x="428.7" y="28.4" font-size="7.3" fill="#222" stroke="#222" stroke-width="0.16" font-weight="normal" text-anchor="start" >0.41</text>
<text x="498.7" y="19.5" font-size="4.2" fill="#222" stroke="#222" stroke-width="0.1" font-weight="normal" text-anchor="start" >73.59</text>
<text x="480.9" y="27.9" font-size="7.3" fill="#222" stroke="#222" stroke-width="0.16" font-weight="normal" text-anchor="start" >73.59</text>
<text x="428.7" y="93" font-size="7.3" fill="#222" stroke="#222" stroke-width="0.16" font-weight="normal" text-anchor="start" >1.80</text>
<text x="423" y="100.3" font-size="4.2" fill="#222" stroke="#222" stroke-width="0.1" font-weight="normal" text-anchor="start" >1.80</text>
<text x="485" y="93" font-size="7.3" fill="#222" stroke="#222" stroke-width="0.16" font-weight="normal" text-anchor="start" >24.19</text>
<text x="499" y="100.3" font-size="4.2" fill="#222" stroke="#222" stroke-width="0.1" font-weight="normal" text-anchor="start" >24.19</text>
<text x="442.2" y="125.1" font-size="8.75" fill="#222" stroke="#222" stroke-width="0.3" font-weight="normal" text-anchor="start" >IL-3R&#945;-PE</text>
<text transform="translate(409,77.0) rotate(-90)" x="0" y="0" font-size="8.6" fill="#222" stroke="#222" stroke-width="0.3">CD34-FITC</text>
<line x1="52.7" y1="151.7" x2="52.7" y2="243.3" stroke="#8a8a8a" stroke-width="0.8"/>
<line x1="29.2" y1="220.4" x2="123.0" y2="220.4" stroke="#8a8a8a" stroke-width="0.8"/>
<defs><clipPath id="c12"><rect x="29.2" y="151.7" width="93.8" height="91.60000000000002"/></clipPath></defs><g clip-path="url(#c12)"><path d="M53.22 222.00 L53.21 222.98 L53.20 223.98 L53.20 225.00 L53.20 226.08 L53.21 227.23 L53.22 228.48 L53.22 229.86 L53.23 231.42 L53.22 233.22 L53.22 235.37 L54.27 239.53 L54.15 243.04 L52.34 244.17 L50.32 244.87 L48.30 245.49 L46.24 246.04 L44.14 246.51 L42.00 246.89 L39.80 247.16 L37.55 247.24 L35.28 247.06 L33.07 246.53 L31.10 245.37 L29.64 243.41 L28.80 240.85 L28.37 238.24 L28.15 235.85 L28.04 233.71 L28.00 231.80 L27.98 230.09 L28.00 228.53 L28.03 227.09 L28.07 225.73 L28.12 224.45 L28.18 223.21 L28.25 222.00 L28.32 220.80 L28.40 219.60 L28.48 218.38 L28.58 217.12 L28.69 215.79 L28.82 214.39 L28.96 212.87 L29.14 211.21 L29.34 209.34 L29.60 207.22 L29.94 204.78 L30.87 202.72 L34.60 206.13 L36.32 206.39 L37.47 205.08 L38.86 204.21 L40.40 203.75 L42.00 203.39 L43.65 203.12 L45.35 203.00 L47.04 203.19 L48.65 203.73 L50.12 204.59 L51.38 205.76 L52.27 207.33 L52.77 209.16 L53.00 211.00 L53.10 212.68 L53.17 214.18 L53.22 215.52 L53.24 216.76 L53.25 217.90 L53.25 218.99 L53.24 220.02 L53.23 221.02Z" fill="none" stroke="#666" stroke-width="0.45" stroke-linejoin="round"/><path d="M38.00 206.00 C39.33 205.30 42.92 204.72 45.00 204.80 C47.08 204.88 49.33 205.47 50.50 206.50 C51.67 207.53 51.92 209.33 52.00 211.00 C52.08 212.67 52.00 215.17 51.00 216.50 C50.00 217.83 47.83 218.67 46.00 219.00 C44.17 219.33 41.50 219.33 40.00 218.50 C38.50 217.67 37.50 215.58 37.00 214.00 C36.50 212.42 36.83 210.33 37.00 209.00 C37.17 207.67 36.67 206.70 38.00 206.00Z" fill="#fff" fill-opacity="0.9"/>
<path d="M52.13 211.70 L52.11 212.28 L52.05 212.85 L51.94 213.43 L51.79 213.99 L51.60 214.54 L51.35 215.08 L51.06 215.59 L50.72 216.08 L50.35 216.55 L49.93 216.98 L49.47 217.37 L48.98 217.72 L48.45 218.03 L47.90 218.30 L47.33 218.52 L46.73 218.69 L46.12 218.83 L45.50 218.92 L44.86 218.97 L44.22 218.97 L43.57 218.91 L42.92 218.80 L42.27 218.62 L41.64 218.39 L41.03 218.09 L40.44 217.73 L39.88 217.32 L39.36 216.85 L38.89 216.33 L38.48 215.75 L38.12 215.14 L37.82 214.49 L37.59 213.82 L37.40 213.13 L37.27 212.42 L37.20 211.70 L37.21 210.97 L37.31 210.26 L37.49 209.55 L37.75 208.88 L38.08 208.24 L38.47 207.64 L38.92 207.09 L39.41 206.59 L39.95 206.15 L40.51 205.76 L41.11 205.43 L41.73 205.17 L42.37 204.99 L43.02 204.88 L43.66 204.82 L44.28 204.81 L44.90 204.81 L45.50 204.85 L46.09 204.92 L46.68 205.02 L47.25 205.16 L47.81 205.34 L48.36 205.57 L48.88 205.85 L49.37 206.17 L49.83 206.54 L50.26 206.94 L50.65 207.38 L50.99 207.85 L51.29 208.35 L51.55 208.88 L51.76 209.42 L51.92 209.98 L52.03 210.55 L52.10 211.12Z" fill="none" stroke="#5a5a5a" stroke-width="0.45" stroke-linejoin="round"/>
<path d="M51.52 211.70 L51.50 212.23 L51.44 212.75 L51.33 213.26 L51.18 213.77 L50.99 214.26 L50.75 214.73 L50.48 215.18 L50.16 215.61 L49.81 216.01 L49.42 216.37 L49.00 216.71 L48.56 217.00 L48.09 217.26 L47.60 217.47 L47.09 217.65 L46.57 217.78 L46.04 217.88 L45.50 217.93 L44.95 217.95 L44.40 217.92 L43.86 217.84 L43.31 217.71 L42.78 217.54 L42.26 217.32 L41.75 217.05 L41.27 216.74 L40.82 216.38 L40.40 215.98 L40.02 215.54 L39.69 215.06 L39.40 214.55 L39.15 214.01 L38.96 213.45 L38.82 212.88 L38.72 212.29 L38.67 211.70 L38.69 211.10 L38.77 210.51 L38.92 209.94 L39.12 209.38 L39.38 208.84 L39.68 208.34 L40.03 207.87 L40.43 207.44 L40.85 207.05 L41.31 206.71 L41.79 206.41 L42.30 206.16 L42.82 205.96 L43.36 205.82 L43.90 205.72 L44.44 205.67 L44.97 205.64 L45.50 205.65 L46.03 205.69 L46.55 205.77 L47.06 205.89 L47.56 206.04 L48.05 206.24 L48.51 206.48 L48.96 206.76 L49.38 207.08 L49.77 207.43 L50.12 207.82 L50.44 208.24 L50.72 208.68 L50.97 209.15 L51.17 209.64 L51.32 210.14 L51.43 210.65 L51.50 211.18Z" fill="none" stroke="#5a5a5a" stroke-width="0.45" stroke-linejoin="round"/>
<path d="M50.79 211.70 L50.77 212.16 L50.71 212.62 L50.61 213.07 L50.48 213.51 L50.30 213.94 L50.08 214.35 L49.84 214.74 L49.55 215.10 L49.24 215.44 L48.90 215.75 L48.53 216.03 L48.14 216.28 L47.73 216.49 L47.31 216.67 L46.87 216.81 L46.42 216.91 L45.96 216.98 L45.50 217.02 L45.03 217.02 L44.57 216.98 L44.11 216.90 L43.65 216.78 L43.21 216.62 L42.77 216.42 L42.36 216.19 L41.96 215.91 L41.59 215.61 L41.25 215.27 L40.94 214.89 L40.66 214.49 L40.42 214.07 L40.22 213.62 L40.07 213.16 L39.95 212.68 L39.87 212.19 L39.84 211.70 L39.86 211.21 L39.93 210.72 L40.05 210.24 L40.21 209.77 L40.41 209.33 L40.66 208.91 L40.94 208.51 L41.26 208.14 L41.61 207.81 L41.98 207.51 L42.38 207.24 L42.79 207.01 L43.23 206.83 L43.67 206.68 L44.13 206.58 L44.58 206.51 L45.04 206.47 L45.50 206.46 L45.96 206.49 L46.41 206.55 L46.85 206.65 L47.29 206.78 L47.71 206.95 L48.12 207.16 L48.51 207.40 L48.88 207.67 L49.22 207.98 L49.54 208.31 L49.82 208.67 L50.07 209.06 L50.29 209.47 L50.47 209.89 L50.61 210.33 L50.71 210.78 L50.77 211.24Z" fill="none" stroke="#5a5a5a" stroke-width="0.45" stroke-linejoin="round"/>
<path d="M49.96 211.70 L49.94 212.09 L49.89 212.47 L49.80 212.85 L49.68 213.22 L49.53 213.58 L49.35 213.92 L49.14 214.25 L48.90 214.55 L48.63 214.83 L48.34 215.09 L48.03 215.32 L47.70 215.52 L47.36 215.69 L47.01 215.84 L46.64 215.95 L46.26 216.03 L45.88 216.08 L45.50 216.11 L45.12 216.10 L44.73 216.06 L44.35 215.98 L43.98 215.88 L43.62 215.74 L43.26 215.57 L42.93 215.38 L42.61 215.15 L42.30 214.90 L42.03 214.61 L41.78 214.31 L41.55 213.98 L41.36 213.63 L41.20 213.27 L41.07 212.89 L40.98 212.50 L40.92 212.10 L40.90 211.70 L40.91 211.30 L40.97 210.90 L41.06 210.51 L41.19 210.13 L41.36 209.77 L41.55 209.42 L41.78 209.09 L42.03 208.79 L42.31 208.51 L42.61 208.26 L42.93 208.03 L43.27 207.84 L43.62 207.68 L43.99 207.55 L44.36 207.45 L44.74 207.38 L45.12 207.34 L45.50 207.33 L45.88 207.35 L46.26 207.39 L46.63 207.47 L47.00 207.59 L47.35 207.73 L47.70 207.90 L48.02 208.10 L48.33 208.32 L48.62 208.58 L48.89 208.86 L49.13 209.16 L49.34 209.48 L49.53 209.82 L49.68 210.18 L49.80 210.55 L49.89 210.93 L49.94 211.31Z" fill="none" stroke="#5a5a5a" stroke-width="0.45" stroke-linejoin="round"/>
<path d="M49.14 211.70 L49.13 212.02 L49.09 212.33 L49.02 212.64 L48.92 212.94 L48.79 213.23 L48.64 213.51 L48.46 213.78 L48.27 214.02 L48.05 214.25 L47.81 214.46 L47.56 214.64 L47.29 214.80 L47.01 214.94 L46.72 215.06 L46.42 215.15 L46.12 215.22 L45.81 215.26 L45.50 215.27 L45.19 215.26 L44.88 215.22 L44.57 215.16 L44.27 215.07 L43.98 214.96 L43.70 214.82 L43.43 214.66 L43.17 214.48 L42.93 214.27 L42.71 214.04 L42.50 213.80 L42.33 213.53 L42.17 213.25 L42.04 212.96 L41.94 212.65 L41.87 212.34 L41.82 212.02 L41.81 211.70 L41.82 211.38 L41.86 211.06 L41.94 210.75 L42.04 210.44 L42.17 210.15 L42.33 209.87 L42.51 209.60 L42.71 209.36 L42.93 209.13 L43.17 208.92 L43.43 208.74 L43.70 208.58 L43.98 208.44 L44.28 208.33 L44.58 208.25 L44.88 208.19 L45.19 208.15 L45.50 208.14 L45.81 208.16 L46.12 208.19 L46.42 208.26 L46.72 208.35 L47.01 208.46 L47.29 208.60 L47.56 208.76 L47.81 208.95 L48.05 209.15 L48.26 209.38 L48.46 209.63 L48.64 209.89 L48.79 210.17 L48.92 210.46 L49.02 210.76 L49.09 211.07 L49.13 211.38Z" fill="none" stroke="#5a5a5a" stroke-width="0.45" stroke-linejoin="round"/>
<path d="M48.30 211.70 L48.29 211.94 L48.26 212.19 L48.20 212.42 L48.13 212.66 L48.03 212.88 L47.91 213.09 L47.78 213.29 L47.62 213.48 L47.46 213.66 L47.28 213.82 L47.08 213.96 L46.88 214.08 L46.66 214.19 L46.44 214.28 L46.21 214.34 L45.98 214.39 L45.74 214.42 L45.50 214.43 L45.26 214.43 L45.02 214.40 L44.79 214.35 L44.56 214.28 L44.34 214.19 L44.12 214.09 L43.92 213.96 L43.72 213.82 L43.54 213.66 L43.37 213.49 L43.21 213.30 L43.08 213.10 L42.96 212.88 L42.86 212.66 L42.79 212.43 L42.73 212.19 L42.69 211.95 L42.68 211.70 L42.69 211.45 L42.73 211.21 L42.78 210.97 L42.86 210.74 L42.96 210.52 L43.08 210.30 L43.21 210.10 L43.37 209.91 L43.54 209.74 L43.72 209.58 L43.92 209.44 L44.12 209.31 L44.34 209.21 L44.56 209.12 L44.79 209.05 L45.03 209.01 L45.26 208.98 L45.50 208.97 L45.74 208.98 L45.97 209.01 L46.21 209.06 L46.44 209.13 L46.66 209.21 L46.87 209.32 L47.08 209.44 L47.27 209.59 L47.46 209.74 L47.62 209.92 L47.78 210.11 L47.91 210.31 L48.03 210.52 L48.13 210.74 L48.20 210.98 L48.26 211.21 L48.29 211.46Z" fill="none" stroke="#5a5a5a" stroke-width="0.45" stroke-linejoin="round"/>
<path d="M47.45 211.70 L47.44 211.87 L47.42 212.04 L47.38 212.20 L47.33 212.36 L47.26 212.52 L47.18 212.67 L47.08 212.81 L46.98 212.94 L46.86 213.06 L46.73 213.17 L46.60 213.27 L46.46 213.36 L46.31 213.43 L46.15 213.49 L45.99 213.54 L45.83 213.57 L45.67 213.59 L45.50 213.60 L45.33 213.59 L45.17 213.57 L45.01 213.54 L44.85 213.49 L44.69 213.43 L44.54 213.36 L44.40 213.27 L44.27 213.17 L44.14 213.06 L44.02 212.94 L43.92 212.81 L43.82 212.67 L43.74 212.52 L43.67 212.37 L43.62 212.20 L43.58 212.04 L43.56 211.87 L43.55 211.70 L43.56 211.53 L43.58 211.36 L43.62 211.20 L43.67 211.03 L43.74 210.88 L43.82 210.73 L43.92 210.59 L44.02 210.46 L44.14 210.34 L44.27 210.23 L44.40 210.13 L44.54 210.04 L44.69 209.97 L44.85 209.91 L45.01 209.86 L45.17 209.83 L45.33 209.81 L45.50 209.80 L45.67 209.81 L45.83 209.83 L45.99 209.86 L46.15 209.91 L46.31 209.97 L46.46 210.05 L46.60 210.13 L46.73 210.23 L46.86 210.34 L46.98 210.46 L47.08 210.59 L47.18 210.73 L47.26 210.88 L47.33 211.04 L47.38 211.20 L47.42 211.36 L47.44 211.53Z" fill="none" stroke="#5a5a5a" stroke-width="0.45" stroke-linejoin="round"/>
<path d="M46.67 211.70 L46.67 211.80 L46.65 211.90 L46.63 212.00 L46.60 212.10 L46.56 212.19 L46.51 212.28 L46.45 212.37 L46.39 212.44 L46.32 212.52 L46.24 212.58 L46.16 212.64 L46.07 212.69 L45.98 212.74 L45.89 212.77 L45.80 212.80 L45.70 212.82 L45.60 212.84 L45.50 212.84 L45.40 212.84 L45.30 212.82 L45.20 212.80 L45.11 212.77 L45.02 212.74 L44.93 212.69 L44.84 212.64 L44.76 212.58 L44.68 212.52 L44.61 212.44 L44.55 212.37 L44.49 212.28 L44.44 212.19 L44.40 212.10 L44.37 212.00 L44.35 211.90 L44.33 211.80 L44.33 211.70 L44.33 211.60 L44.35 211.50 L44.37 211.40 L44.40 211.30 L44.44 211.21 L44.49 211.12 L44.55 211.03 L44.61 210.96 L44.68 210.88 L44.76 210.82 L44.84 210.76 L44.93 210.71 L45.02 210.66 L45.11 210.63 L45.20 210.60 L45.30 210.58 L45.40 210.56 L45.50 210.56 L45.60 210.56 L45.70 210.58 L45.80 210.60 L45.89 210.63 L45.98 210.66 L46.07 210.71 L46.16 210.76 L46.24 210.82 L46.32 210.88 L46.39 210.96 L46.45 211.03 L46.51 211.12 L46.56 211.21 L46.60 211.30 L46.63 211.40 L46.65 211.50 L46.67 211.60Z" fill="none" stroke="#5a5a5a" stroke-width="0.45" stroke-linejoin="round"/><defs><radialGradient id="g10" gradientUnits="userSpaceOnUse" cx="45.5" cy="211.7" r="1" gradientTransform="translate(45.5 211.7) scale(6 6) translate(-45.5 -211.7)"><stop offset="0" stop-color="#fff" stop-opacity="0.5"/><stop offset="0.1" stop-color="#fff" stop-opacity="0.0"/><stop offset="0.18" stop-color="#555" stop-opacity="0.5"/><stop offset="0.65" stop-color="#555" stop-opacity="0.375"/><stop offset="1" stop-color="#555" stop-opacity="0"/></radialGradient></defs><ellipse cx="45.5" cy="211.7" rx="6" ry="6" fill="url(#g10)"/><path d="M34.00 222.00 C35.75 220.75 41.17 221.33 44.00 221.50 C46.83 221.67 49.58 221.75 51.00 223.00 C52.42 224.25 52.42 227.00 52.50 229.00 C52.58 231.00 52.42 233.50 51.50 235.00 C50.58 236.50 48.92 237.42 47.00 238.00 C45.08 238.58 42.08 238.83 40.00 238.50 C37.92 238.17 35.58 237.58 34.50 236.00 C33.42 234.42 33.58 231.33 33.50 229.00 C33.42 226.67 32.25 223.25 34.00 222.00Z" fill="#fff" fill-opacity="0.9"/>
<path d="M52.50 229.00 L52.49 229.79 L52.41 230.57 L52.26 231.35 L52.04 232.11 L51.76 232.85 L51.42 233.57 L51.01 234.26 L50.54 234.91 L50.02 235.52 L49.43 236.07 L48.80 236.57 L48.12 237.01 L47.41 237.38 L46.66 237.70 L45.90 237.94 L45.11 238.13 L44.31 238.26 L43.50 238.34 L42.68 238.36 L41.85 238.34 L41.02 238.24 L40.20 238.08 L39.38 237.83 L38.59 237.50 L37.84 237.08 L37.13 236.59 L36.47 236.03 L35.87 235.40 L35.34 234.72 L34.86 233.99 L34.46 233.22 L34.11 232.42 L33.83 231.59 L33.62 230.74 L33.48 229.88 L33.41 229.00 L33.45 228.12 L33.58 227.25 L33.81 226.40 L34.12 225.59 L34.52 224.81 L35.00 224.09 L35.54 223.42 L36.14 222.82 L36.80 222.30 L37.50 221.85 L38.24 221.49 L39.01 221.23 L39.80 221.06 L40.58 220.97 L41.34 220.95 L42.08 220.97 L42.80 221.00 L43.50 221.05 L44.19 221.11 L44.88 221.18 L45.57 221.27 L46.26 221.41 L46.95 221.60 L47.63 221.85 L48.29 222.16 L48.93 222.53 L49.53 222.97 L50.10 223.46 L50.62 224.02 L51.08 224.62 L51.49 225.27 L51.84 225.96 L52.12 226.69 L52.32 227.44 L52.45 228.22Z" fill="none" stroke="#5a5a5a" stroke-width="0.45" stroke-linejoin="round"/>
<path d="M51.44 229.00 L51.41 229.69 L51.33 230.38 L51.18 231.06 L50.98 231.72 L50.72 232.36 L50.40 232.98 L50.02 233.57 L49.60 234.12 L49.13 234.63 L48.61 235.09 L48.06 235.51 L47.47 235.87 L46.85 236.18 L46.21 236.44 L45.55 236.64 L44.87 236.79 L44.19 236.89 L43.50 236.94 L42.81 236.94 L42.11 236.89 L41.41 236.79 L40.73 236.62 L40.05 236.40 L39.40 236.10 L38.77 235.75 L38.18 235.34 L37.63 234.87 L37.12 234.35 L36.67 233.79 L36.26 233.18 L35.91 232.54 L35.62 231.87 L35.38 231.18 L35.20 230.46 L35.09 229.74 L35.04 229.00 L35.08 228.26 L35.18 227.53 L35.37 226.82 L35.62 226.13 L35.94 225.48 L36.32 224.86 L36.76 224.28 L37.25 223.76 L37.78 223.28 L38.36 222.87 L38.97 222.52 L39.60 222.24 L40.25 222.03 L40.91 221.88 L41.57 221.79 L42.22 221.74 L42.86 221.72 L43.50 221.73 L44.13 221.76 L44.76 221.84 L45.39 221.94 L46.01 222.09 L46.63 222.29 L47.23 222.54 L47.81 222.84 L48.37 223.20 L48.90 223.60 L49.38 224.06 L49.83 224.57 L50.24 225.11 L50.59 225.70 L50.88 226.31 L51.12 226.96 L51.29 227.63 L51.39 228.31Z" fill="none" stroke="#5a5a5a" stroke-width="0.45" stroke-linejoin="round"/>
<path d="M50.36 229.00 L50.33 229.60 L50.25 230.19 L50.12 230.77 L49.94 231.34 L49.70 231.89 L49.42 232.42 L49.09 232.91 L48.71 233.38 L48.30 233.80 L47.86 234.19 L47.38 234.54 L46.87 234.84 L46.35 235.10 L45.80 235.32 L45.24 235.48 L44.66 235.61 L44.08 235.68 L43.50 235.72 L42.91 235.71 L42.33 235.65 L41.75 235.55 L41.17 235.40 L40.61 235.20 L40.06 234.95 L39.54 234.65 L39.05 234.31 L38.59 233.91 L38.16 233.48 L37.77 233.01 L37.43 232.51 L37.13 231.97 L36.88 231.41 L36.68 230.83 L36.53 230.23 L36.44 229.62 L36.41 229.00 L36.44 228.38 L36.53 227.77 L36.68 227.17 L36.88 226.59 L37.14 226.04 L37.46 225.51 L37.82 225.02 L38.22 224.57 L38.66 224.16 L39.13 223.79 L39.63 223.47 L40.16 223.21 L40.70 222.99 L41.25 222.83 L41.81 222.71 L42.38 222.63 L42.94 222.59 L43.50 222.58 L44.06 222.61 L44.61 222.68 L45.17 222.78 L45.71 222.92 L46.25 223.11 L46.77 223.34 L47.27 223.62 L47.75 223.94 L48.20 224.30 L48.62 224.71 L49.00 225.15 L49.34 225.63 L49.64 226.14 L49.89 226.67 L50.09 227.23 L50.24 227.81 L50.32 228.40Z" fill="none" stroke="#5a5a5a" stroke-width="0.45" stroke-linejoin="round"/>
<path d="M49.22 229.00 L49.20 229.50 L49.13 229.99 L49.02 230.48 L48.86 230.95 L48.66 231.41 L48.42 231.84 L48.14 232.25 L47.83 232.63 L47.48 232.98 L47.11 233.30 L46.71 233.58 L46.29 233.83 L45.85 234.04 L45.40 234.22 L44.93 234.35 L44.46 234.45 L43.98 234.51 L43.50 234.54 L43.02 234.52 L42.54 234.47 L42.06 234.38 L41.59 234.25 L41.13 234.08 L40.69 233.87 L40.26 233.63 L39.86 233.34 L39.48 233.02 L39.13 232.67 L38.81 232.29 L38.52 231.87 L38.28 231.44 L38.07 230.98 L37.91 230.50 L37.79 230.01 L37.71 229.51 L37.69 229.00 L37.71 228.49 L37.78 227.99 L37.90 227.50 L38.07 227.02 L38.28 226.57 L38.53 226.13 L38.82 225.73 L39.15 225.35 L39.50 225.00 L39.89 224.69 L40.29 224.42 L40.72 224.19 L41.17 223.99 L41.62 223.84 L42.09 223.72 L42.56 223.64 L43.03 223.59 L43.50 223.58 L43.97 223.60 L44.44 223.66 L44.91 223.75 L45.36 223.88 L45.81 224.04 L46.25 224.24 L46.67 224.48 L47.06 224.75 L47.44 225.06 L47.79 225.40 L48.10 225.78 L48.39 226.18 L48.63 226.61 L48.84 227.06 L49.00 227.52 L49.12 228.01 L49.20 228.50Z" fill="none" stroke="#5a5a5a" stroke-width="0.45" stroke-linejoin="round"/>
<path d="M48.15 229.00 L48.13 229.41 L48.08 229.81 L47.98 230.20 L47.85 230.58 L47.69 230.95 L47.49 231.30 L47.26 231.63 L47.01 231.94 L46.73 232.23 L46.42 232.48 L46.10 232.71 L45.76 232.91 L45.40 233.08 L45.04 233.22 L44.66 233.33 L44.28 233.41 L43.89 233.46 L43.50 233.47 L43.11 233.46 L42.72 233.41 L42.34 233.34 L41.96 233.23 L41.59 233.09 L41.23 232.93 L40.89 232.73 L40.57 232.50 L40.26 232.24 L39.98 231.96 L39.72 231.65 L39.49 231.32 L39.29 230.96 L39.12 230.59 L38.99 230.21 L38.89 229.81 L38.83 229.41 L38.81 229.00 L38.83 228.59 L38.89 228.19 L38.99 227.79 L39.12 227.41 L39.29 227.04 L39.49 226.69 L39.72 226.36 L39.98 226.05 L40.27 225.77 L40.58 225.52 L40.90 225.29 L41.25 225.10 L41.60 224.93 L41.97 224.80 L42.35 224.70 L42.73 224.62 L43.11 224.58 L43.50 224.57 L43.89 224.58 L44.27 224.63 L44.65 224.71 L45.02 224.81 L45.39 224.95 L45.74 225.11 L46.08 225.31 L46.41 225.54 L46.71 225.79 L46.99 226.07 L47.25 226.37 L47.48 226.70 L47.68 227.05 L47.85 227.42 L47.98 227.80 L48.08 228.19 L48.13 228.59Z" fill="none" stroke="#5a5a5a" stroke-width="0.45" stroke-linejoin="round"/>
<path d="M47.07 229.00 L47.06 229.31 L47.01 229.62 L46.94 229.92 L46.84 230.22 L46.71 230.50 L46.56 230.77 L46.38 231.02 L46.19 231.25 L45.97 231.47 L45.74 231.67 L45.49 231.84 L45.23 231.99 L44.96 232.12 L44.68 232.23 L44.39 232.31 L44.09 232.37 L43.80 232.41 L43.50 232.42 L43.20 232.41 L42.90 232.38 L42.61 232.32 L42.32 232.23 L42.04 232.13 L41.77 232.00 L41.51 231.85 L41.26 231.67 L41.03 231.47 L40.81 231.26 L40.61 231.02 L40.44 230.77 L40.28 230.50 L40.16 230.22 L40.05 229.92 L39.98 229.62 L39.94 229.31 L39.92 229.00 L39.94 228.69 L39.98 228.38 L40.05 228.08 L40.16 227.78 L40.28 227.50 L40.44 227.23 L40.61 226.98 L40.81 226.74 L41.03 226.53 L41.26 226.33 L41.51 226.16 L41.77 226.01 L42.04 225.88 L42.33 225.77 L42.61 225.69 L42.91 225.64 L43.20 225.60 L43.50 225.59 L43.80 225.60 L44.09 225.64 L44.39 225.70 L44.67 225.78 L44.95 225.88 L45.22 226.01 L45.49 226.16 L45.73 226.34 L45.97 226.53 L46.18 226.75 L46.38 226.98 L46.56 227.24 L46.71 227.50 L46.84 227.79 L46.94 228.08 L47.01 228.38 L47.06 228.69Z" fill="none" stroke="#5a5a5a" stroke-width="0.45" stroke-linejoin="round"/>
<path d="M45.98 229.00 L45.97 229.22 L45.94 229.43 L45.89 229.64 L45.82 229.84 L45.73 230.04 L45.62 230.23 L45.50 230.40 L45.37 230.57 L45.22 230.72 L45.05 230.85 L44.88 230.97 L44.70 231.08 L44.51 231.17 L44.32 231.24 L44.12 231.30 L43.91 231.34 L43.71 231.37 L43.50 231.37 L43.29 231.37 L43.09 231.34 L42.88 231.30 L42.68 231.24 L42.49 231.17 L42.30 231.08 L42.12 230.97 L41.95 230.85 L41.78 230.72 L41.63 230.57 L41.50 230.40 L41.37 230.23 L41.27 230.04 L41.18 229.84 L41.11 229.64 L41.06 229.43 L41.03 229.22 L41.02 229.00 L41.03 228.78 L41.06 228.57 L41.11 228.36 L41.18 228.16 L41.27 227.96 L41.37 227.77 L41.50 227.60 L41.63 227.43 L41.78 227.28 L41.95 227.15 L42.12 227.03 L42.30 226.92 L42.49 226.83 L42.68 226.76 L42.88 226.70 L43.09 226.66 L43.29 226.63 L43.50 226.63 L43.71 226.64 L43.91 226.66 L44.12 226.70 L44.32 226.76 L44.51 226.83 L44.70 226.92 L44.88 227.03 L45.05 227.15 L45.22 227.28 L45.37 227.43 L45.50 227.60 L45.62 227.77 L45.73 227.96 L45.82 228.16 L45.89 228.36 L45.94 228.57 L45.97 228.78Z" fill="none" stroke="#5a5a5a" stroke-width="0.45" stroke-linejoin="round"/>
<path d="M44.99 229.00 L44.98 229.13 L44.96 229.26 L44.93 229.38 L44.89 229.51 L44.84 229.62 L44.77 229.74 L44.70 229.84 L44.62 229.94 L44.53 230.03 L44.43 230.11 L44.33 230.18 L44.22 230.25 L44.11 230.30 L43.99 230.35 L43.87 230.38 L43.75 230.40 L43.62 230.42 L43.50 230.42 L43.38 230.42 L43.25 230.40 L43.13 230.38 L43.01 230.35 L42.89 230.30 L42.78 230.25 L42.67 230.18 L42.57 230.11 L42.47 230.03 L42.38 229.94 L42.30 229.84 L42.22 229.74 L42.16 229.62 L42.11 229.51 L42.07 229.38 L42.04 229.26 L42.02 229.13 L42.01 229.00 L42.02 228.87 L42.04 228.74 L42.07 228.62 L42.11 228.49 L42.16 228.38 L42.22 228.26 L42.30 228.16 L42.38 228.06 L42.47 227.97 L42.57 227.89 L42.67 227.82 L42.78 227.75 L42.89 227.70 L43.01 227.65 L43.13 227.62 L43.25 227.60 L43.38 227.58 L43.50 227.58 L43.62 227.58 L43.75 227.60 L43.87 227.62 L43.99 227.65 L44.11 227.70 L44.22 227.75 L44.33 227.82 L44.43 227.89 L44.53 227.97 L44.62 228.06 L44.70 228.16 L44.77 228.26 L44.84 228.38 L44.89 228.49 L44.93 228.62 L44.96 228.74 L44.98 228.87Z" fill="none" stroke="#5a5a5a" stroke-width="0.45" stroke-linejoin="round"/><defs><radialGradient id="g11" gradientUnits="userSpaceOnUse" cx="43.5" cy="229" r="1" gradientTransform="translate(43.5 229) scale(7 7) translate(-43.5 -229)"><stop offset="0" stop-color="#fff" stop-opacity="0.5"/><stop offset="0.1" stop-color="#fff" stop-opacity="0.0"/><stop offset="0.18" stop-color="#555" stop-opacity="0.5"/><stop offset="0.65" stop-color="#555" stop-opacity="0.375"/><stop offset="1" stop-color="#555" stop-opacity="0"/></radialGradient></defs><ellipse cx="43.5" cy="229" rx="7" ry="7" fill="url(#g11)"/><rect x="29.2" y="205" width="4.300000000000001" height="38.099999999999994" fill="#8a8a8a" fill-opacity="0.44000000000000006"/><line x1="29.50" y1="205.67" x2="29.50" y2="243.1" stroke="#888" stroke-width="0.45" stroke-opacity="0.8"/><line x1="30.40" y1="205.25" x2="30.40" y2="243.1" stroke="#666" stroke-width="0.45" stroke-opacity="0.8"/><line x1="31.30" y1="206.87" x2="31.30" y2="243.1" stroke="#666" stroke-width="0.45" stroke-opacity="0.8"/><line x1="32.20" y1="207.65" x2="32.20" y2="243.1" stroke="#777" stroke-width="0.45" stroke-opacity="0.8"/><line x1="33.10" y1="207.40" x2="33.10" y2="243.1" stroke="#888" stroke-width="0.45" stroke-opacity="0.8"/><rect x="30" y="238.5" width="22" height="4.599999999999994" fill="#888" fill-opacity="0.6"/><line x1="30" y1="238.80" x2="51.55" y2="238.80" stroke="#555" stroke-width="0.45" stroke-opacity="1.0"/><line x1="30" y1="239.70" x2="50.62" y2="239.70" stroke="#555" stroke-width="0.45" stroke-opacity="1.0"/><line x1="30" y1="240.60" x2="51.96" y2="240.60" stroke="#777" stroke-width="0.45" stroke-opacity="1.0"/><line x1="30" y1="241.50" x2="50.23" y2="241.50" stroke="#555" stroke-width="0.45" stroke-opacity="1.0"/><line x1="30" y1="242.40" x2="49.95" y2="242.40" stroke="#777" stroke-width="0.45" stroke-opacity="1.0"/></g>
<rect x="29.2" y="151.7" width="93.8" height="91.60000000000002" fill="none" stroke="#626262" stroke-width="0.9"/>
<path d="M29.20 243.30v2.2 M29.20 243.30h-2.2 M36.26 243.30v1.2 M29.20 236.41h-1.2 M40.39 243.30v1.2 M29.20 232.37h-1.2 M43.32 243.30v1.2 M29.20 229.51h-1.2 M45.59 243.30v1.2 M29.20 227.29h-1.2 M47.45 243.30v1.2 M29.20 225.48h-1.2 M49.02 243.30v1.2 M29.20 223.95h-1.2 M50.38 243.30v1.2 M29.20 222.62h-1.2 M51.58 243.30v1.2 M29.20 221.45h-1.2 M52.65 243.30v2.2 M29.20 220.40h-2.2 M59.71 243.30v1.2 M29.20 213.51h-1.2 M63.84 243.30v1.2 M29.20 209.47h-1.2 M66.77 243.30v1.2 M29.20 206.61h-1.2 M69.04 243.30v1.2 M29.20 204.39h-1.2 M70.90 243.30v1.2 M29.20 202.58h-1.2 M72.47 243.30v1.2 M29.20 201.05h-1.2 M73.83 243.30v1.2 M29.20 199.72h-1.2 M75.03 243.30v1.2 M29.20 198.55h-1.2 M76.10 243.30v2.2 M29.20 197.50h-2.2 M83.16 243.30v1.2 M29.20 190.61h-1.2 M87.29 243.30v1.2 M29.20 186.57h-1.2 M90.22 243.30v1.2 M29.20 183.71h-1.2 M92.49 243.30v1.2 M29.20 181.49h-1.2 M94.35 243.30v1.2 M29.20 179.68h-1.2 M95.92 243.30v1.2 M29.20 178.15h-1.2 M97.28 243.30v1.2 M29.20 176.82h-1.2 M98.48 243.30v1.2 M29.20 175.65h-1.2 M99.55 243.30v2.2 M29.20 174.60h-2.2 M106.61 243.30v1.2 M29.20 167.71h-1.2 M110.74 243.30v1.2 M29.20 163.67h-1.2 M113.67 243.30v1.2 M29.20 160.81h-1.2 M115.94 243.30v1.2 M29.20 158.59h-1.2 M117.80 243.30v1.2 M29.20 156.78h-1.2 M119.37 243.30v1.2 M29.20 155.25h-1.2 M120.73 243.30v1.2 M29.20 153.92h-1.2 M121.93 243.30v1.2 M29.20 152.75h-1.2 M123.00 243.30v2.2 M29.20 151.70h-2.2" stroke="#777" stroke-width="0.6" fill="none"/>
<text x="27.00" y="254.30" font-size="4.6" fill="#555" stroke="#555" stroke-width="0.12">10<tspan dy="-2" font-size="3.4">0</tspan></text>
<text x="19.20" y="246.90" font-size="4.6" fill="#555" stroke="#555" stroke-width="0.12">10<tspan dy="-2" font-size="3.4">0</tspan></text>
<text x="50.45" y="254.30" font-size="4.6" fill="#555" stroke="#555" stroke-width="0.12">10<tspan dy="-2" font-size="3.4">1</tspan></text>
<text x="19.20" y="224.00" font-size="4.6" fill="#555" stroke="#555" stroke-width="0.12">10<tspan dy="-2" font-size="3.4">1</tspan></text>
<text x="73.90" y="254.30" font-size="4.6" fill="#555" stroke="#555" stroke-width="0.12">10<tspan dy="-2" font-size="3.4">2</tspan></text>
<text x="19.20" y="201.10" font-size="4.6" fill="#555" stroke="#555" stroke-width="0.12">10<tspan dy="-2" font-size="3.4">2</tspan></text>
<text x="97.35" y="254.30" font-size="4.6" fill="#555" stroke="#555" stroke-width="0.12">10<tspan dy="-2" font-size="3.4">3</tspan></text>
<text x="19.20" y="178.20" font-size="4.6" fill="#555" stroke="#555" stroke-width="0.12">10<tspan dy="-2" font-size="3.4">3</tspan></text>
<text x="30.9" y="157" font-size="4.2" fill="#222" stroke="#222" stroke-width="0.1" font-weight="normal" text-anchor="start" >27.31</text>
<text x="31.6" y="167.3" font-size="7.3" fill="#222" stroke="#222" stroke-width="0.16" font-weight="normal" text-anchor="start" >27.31</text>
<text x="107.3" y="156.6" font-size="4.2" fill="#222" stroke="#222" stroke-width="0.1" font-weight="normal" text-anchor="start" >1.02</text>
<text x="92.6" y="167.1" font-size="7.3" fill="#222" stroke="#222" stroke-width="0.16" font-weight="normal" text-anchor="start" >1.02</text>
<text x="97" y="233.4" font-size="7.3" fill="#222" stroke="#222" stroke-width="0.16" font-weight="normal" text-anchor="start" >0.95</text>
<text x="106.9" y="241.8" font-size="4.2" fill="#222" stroke="#222" stroke-width="0.1" font-weight="normal" text-anchor="start" >0.95</text>
<text x="49.2" y="265.1" font-size="8.65" fill="#222" stroke="#222" stroke-width="0.3" font-weight="normal" text-anchor="start" >FL3-Height</text>
<text transform="translate(14.5,216.0) rotate(-90)" x="0" y="0" font-size="8.6" fill="#222" stroke="#222" stroke-width="0.3">CD45-APC</text>
<line x1="185.8" y1="150.6" x2="185.8" y2="239.3" stroke="#8a8a8a" stroke-width="0.8"/>
<line x1="159.2" y1="208.7" x2="254" y2="208.7" stroke="#8a8a8a" stroke-width="0.8"/>
<defs><clipPath id="c14"><rect x="159.2" y="150.6" width="94.80000000000001" height="88.70000000000002"/></clipPath></defs><g clip-path="url(#c14)"><path d="M164.80 202.00 L164.88 202.47 L164.93 202.96 L164.97 203.46 L164.97 203.99 L164.96 204.54 L164.91 205.12 L164.82 205.73 L164.69 206.36 L164.50 207.00 L164.21 207.61 L163.81 208.16 L163.34 208.65 L162.80 209.08 L162.22 209.47 L161.60 209.85 L160.96 210.27 L160.25 210.56 L159.50 210.34 L158.85 209.37 L158.39 208.29 L158.06 207.37 L157.82 206.61 L157.64 205.98 L157.51 205.45 L157.40 205.00 L157.31 204.60 L157.25 204.25 L157.19 203.94 L157.14 203.65 L157.11 203.38 L157.07 203.13 L157.05 202.89 L157.03 202.66 L157.01 202.44 L157.01 202.22 L157.00 202.00 L157.01 201.78 L157.01 201.56 L157.03 201.34 L157.05 201.11 L157.07 200.87 L157.10 200.61 L157.14 200.35 L157.18 200.06 L157.24 199.74 L157.31 199.39 L157.39 198.99 L157.50 198.53 L157.64 198.01 L157.82 197.39 L158.07 196.65 L158.41 195.80 L158.88 194.90 L159.50 194.34 L160.16 194.45 L160.75 194.89 L161.26 195.41 L161.70 195.95 L162.09 196.45 L162.44 196.91 L162.75 197.36 L163.03 197.79 L163.29 198.21 L163.52 198.63 L163.73 199.04 L163.92 199.45 L164.10 199.85 L164.27 200.26 L164.43 200.68 L164.57 201.11 L164.69 201.55Z" fill="none" stroke="#666" stroke-width="0.45" stroke-linejoin="round"/>
<path d="M162.29 202.00 L162.29 202.24 L162.28 202.49 L162.25 202.74 L162.21 202.99 L162.15 203.24 L162.08 203.49 L161.98 203.74 L161.86 203.98 L161.72 204.22 L161.56 204.46 L161.38 204.68 L161.17 204.89 L160.93 205.07 L160.67 205.22 L160.39 205.33 L160.10 205.41 L159.80 205.46 L159.50 205.46 L159.20 205.42 L158.91 205.34 L158.64 205.22 L158.38 205.07 L158.15 204.90 L157.94 204.70 L157.76 204.49 L157.60 204.27 L157.46 204.04 L157.34 203.81 L157.24 203.58 L157.15 203.36 L157.08 203.13 L157.03 202.90 L156.98 202.67 L156.95 202.45 L156.94 202.22 L156.93 202.00 L156.93 201.78 L156.95 201.55 L156.98 201.33 L157.03 201.10 L157.08 200.87 L157.15 200.64 L157.24 200.42 L157.34 200.19 L157.46 199.96 L157.60 199.73 L157.76 199.51 L157.94 199.30 L158.15 199.11 L158.39 198.95 L158.64 198.81 L158.92 198.70 L159.21 198.63 L159.50 198.60 L159.80 198.61 L160.09 198.66 L160.37 198.75 L160.64 198.87 L160.89 199.02 L161.12 199.20 L161.32 199.40 L161.50 199.62 L161.65 199.85 L161.79 200.08 L161.91 200.32 L162.01 200.55 L162.09 200.79 L162.16 201.03 L162.21 201.27 L162.25 201.51 L162.28 201.76Z" fill="none" stroke="#666" stroke-width="0.45" stroke-linejoin="round"/><path d="M180.40 207.40 C180.43 205.32 181.20 203.20 182.00 201.50 C182.80 199.80 183.87 198.45 185.20 197.20 C186.53 195.95 188.32 194.90 190.00 194.00 C191.68 193.10 193.38 192.33 195.30 191.80 C197.22 191.27 199.47 190.92 201.50 190.80 C203.53 190.68 205.58 190.65 207.50 191.10 C209.42 191.55 211.42 192.48 213.00 193.50 C214.58 194.52 215.87 195.78 217.00 197.20 C218.13 198.62 219.23 200.30 219.80 202.00 C220.37 203.70 220.57 205.48 220.40 207.40 C220.23 209.32 219.58 211.58 218.80 213.50 C218.02 215.42 217.08 217.35 215.70 218.90 C214.32 220.45 212.43 221.67 210.50 222.80 C208.57 223.93 206.18 225.00 204.10 225.70 C202.02 226.40 199.92 226.78 198.00 227.00 C196.08 227.22 194.27 227.42 192.60 227.00 C190.93 226.58 189.35 225.63 188.00 224.50 C186.65 223.37 185.53 221.95 184.50 220.20 C183.47 218.45 182.48 216.13 181.80 214.00 C181.12 211.87 180.37 209.48 180.40 207.40Z" fill="#fafafa" fill-opacity="0.9"/>
<path d="M220.41 205.00 L220.44 206.70 L220.27 208.40 L219.93 210.07 L219.45 211.72 L218.87 213.33 L218.19 214.92 L217.39 216.48 L216.45 217.96 L215.31 219.31 L213.99 220.49 L212.57 221.52 L211.08 222.46 L209.55 223.33 L207.96 224.13 L206.32 224.86 L204.62 225.52 L202.84 226.08 L201.00 226.53 L199.09 226.86 L197.10 227.10 L195.04 227.24 L192.96 227.08 L191.00 226.44 L189.21 225.42 L187.60 224.14 L186.19 222.65 L185.00 221.00 L183.99 219.28 L183.14 217.51 L182.41 215.73 L181.79 213.96 L181.24 212.19 L180.77 210.42 L180.46 208.62 L180.43 206.80 L180.73 205.00 L181.26 203.27 L181.94 201.64 L182.76 200.11 L183.76 198.73 L184.90 197.49 L186.13 196.41 L187.43 195.50 L188.73 194.70 L190.00 194.00 L191.24 193.37 L192.46 192.81 L193.68 192.32 L194.90 191.92 L196.12 191.59 L197.34 191.32 L198.55 191.11 L199.77 190.95 L201.00 190.83 L202.25 190.76 L203.52 190.73 L204.82 190.75 L206.15 190.86 L207.48 191.10 L208.81 191.48 L210.12 191.98 L211.42 192.59 L212.69 193.31 L213.93 194.15 L215.09 195.13 L216.18 196.24 L217.20 197.45 L218.15 198.76 L219.00 200.18 L219.70 201.70 L220.16 203.32Z" fill="none" stroke="#5e5e5e" stroke-width="0.45" stroke-linejoin="round"/>
<path d="M217.65 205.00 L217.67 206.46 L217.53 207.91 L217.24 209.35 L216.83 210.76 L216.33 212.15 L215.73 213.50 L215.03 214.82 L214.19 216.07 L213.21 217.21 L212.10 218.23 L210.89 219.12 L209.62 219.93 L208.31 220.67 L206.95 221.34 L205.54 221.95 L204.08 222.49 L202.57 222.94 L201.00 223.30 L199.38 223.57 L197.70 223.74 L195.97 223.77 L194.24 223.57 L192.59 223.04 L191.06 222.21 L189.69 221.15 L188.48 219.92 L187.44 218.56 L186.56 217.12 L185.80 215.64 L185.16 214.15 L184.60 212.65 L184.13 211.14 L183.74 209.62 L183.50 208.09 L183.47 206.53 L183.68 205.00 L184.08 203.52 L184.63 202.11 L185.32 200.80 L186.14 199.59 L187.08 198.51 L188.10 197.55 L189.18 196.72 L190.27 196.00 L191.35 195.35 L192.42 194.78 L193.49 194.27 L194.55 193.83 L195.62 193.46 L196.69 193.15 L197.76 192.91 L198.83 192.72 L199.91 192.58 L201.00 192.48 L202.10 192.42 L203.22 192.42 L204.36 192.46 L205.52 192.59 L206.68 192.83 L207.83 193.17 L208.96 193.63 L210.08 194.18 L211.17 194.83 L212.23 195.58 L213.22 196.44 L214.15 197.41 L215.01 198.47 L215.80 199.61 L216.50 200.85 L217.06 202.17 L217.45 203.56Z" fill="none" stroke="#5e5e5e" stroke-width="0.45" stroke-linejoin="round"/>
<path d="M215.50 205.00 L215.52 206.27 L215.39 207.54 L215.13 208.79 L214.77 210.01 L214.33 211.21 L213.80 212.39 L213.18 213.53 L212.45 214.61 L211.60 215.60 L210.63 216.47 L209.58 217.25 L208.48 217.95 L207.33 218.58 L206.15 219.16 L204.93 219.68 L203.67 220.13 L202.36 220.50 L201.00 220.80 L199.60 221.00 L198.16 221.13 L196.68 221.14 L195.20 220.95 L193.78 220.49 L192.47 219.78 L191.28 218.88 L190.23 217.83 L189.32 216.68 L188.55 215.45 L187.88 214.19 L187.31 212.91 L186.81 211.62 L186.39 210.32 L186.05 209.01 L185.83 207.67 L185.80 206.33 L185.96 205.00 L186.29 203.71 L186.74 202.49 L187.32 201.33 L188.01 200.27 L188.80 199.31 L189.67 198.46 L190.59 197.71 L191.53 197.05 L192.47 196.47 L193.40 195.94 L194.33 195.48 L195.27 195.07 L196.21 194.73 L197.16 194.45 L198.11 194.23 L199.07 194.06 L200.03 193.93 L201.00 193.85 L201.98 193.81 L202.97 193.81 L203.98 193.87 L205.00 194.00 L206.02 194.23 L207.04 194.55 L208.03 194.96 L209.01 195.46 L209.96 196.04 L210.87 196.72 L211.73 197.49 L212.53 198.34 L213.27 199.28 L213.94 200.29 L214.54 201.37 L215.01 202.53 L215.33 203.75Z" fill="none" stroke="#5e5e5e" stroke-width="0.45" stroke-linejoin="round"/>
<path d="M213.75 205.00 L213.76 206.12 L213.64 207.23 L213.41 208.33 L213.10 209.40 L212.70 210.46 L212.23 211.48 L211.68 212.48 L211.04 213.42 L210.28 214.28 L209.43 215.05 L208.51 215.73 L207.55 216.34 L206.55 216.89 L205.51 217.39 L204.44 217.83 L203.33 218.22 L202.18 218.53 L201.00 218.78 L199.78 218.94 L198.52 219.04 L197.24 219.03 L195.96 218.85 L194.73 218.44 L193.59 217.83 L192.56 217.06 L191.64 216.16 L190.84 215.16 L190.15 214.11 L189.55 213.02 L189.04 211.90 L188.60 210.78 L188.22 209.65 L187.92 208.50 L187.73 207.34 L187.69 206.16 L187.81 205.00 L188.08 203.87 L188.47 202.79 L188.95 201.77 L189.54 200.83 L190.22 199.97 L190.97 199.21 L191.76 198.53 L192.58 197.93 L193.40 197.40 L194.22 196.92 L195.04 196.49 L195.87 196.12 L196.71 195.81 L197.56 195.55 L198.41 195.35 L199.27 195.19 L200.13 195.08 L201.00 195.01 L201.88 194.98 L202.76 194.99 L203.66 195.06 L204.57 195.19 L205.48 195.40 L206.37 195.69 L207.25 196.07 L208.11 196.52 L208.95 197.05 L209.75 197.66 L210.50 198.35 L211.20 199.11 L211.84 199.95 L212.42 200.84 L212.93 201.80 L213.33 202.83 L213.61 203.90Z" fill="none" stroke="#5e5e5e" stroke-width="0.45" stroke-linejoin="round"/>
<path d="M212.58 205.00 L212.58 206.01 L212.48 207.02 L212.27 208.02 L211.98 209.00 L211.62 209.95 L211.19 210.88 L210.69 211.78 L210.10 212.63 L209.41 213.41 L208.64 214.11 L207.81 214.72 L206.93 215.27 L206.02 215.77 L205.08 216.22 L204.11 216.62 L203.11 216.96 L202.07 217.23 L201.00 217.44 L199.90 217.58 L198.77 217.66 L197.61 217.64 L196.46 217.47 L195.36 217.10 L194.33 216.56 L193.39 215.86 L192.56 215.06 L191.83 214.17 L191.20 213.22 L190.66 212.24 L190.19 211.24 L189.78 210.23 L189.44 209.21 L189.16 208.17 L188.98 207.12 L188.94 206.06 L189.04 205.00 L189.28 203.97 L189.61 202.99 L190.05 202.06 L190.57 201.20 L191.17 200.42 L191.84 199.71 L192.55 199.08 L193.29 198.53 L194.03 198.03 L194.78 197.58 L195.53 197.19 L196.29 196.84 L197.06 196.55 L197.84 196.31 L198.62 196.12 L199.41 195.97 L200.20 195.87 L201.00 195.81 L201.81 195.78 L202.62 195.80 L203.45 195.87 L204.28 195.99 L205.11 196.19 L205.92 196.47 L206.73 196.82 L207.51 197.24 L208.27 197.73 L208.99 198.29 L209.67 198.93 L210.30 199.63 L210.88 200.39 L211.40 201.22 L211.85 202.09 L212.21 203.02 L212.46 204.00Z" fill="none" stroke="#5e5e5e" stroke-width="0.45" stroke-linejoin="round"/>
<path d="M211.41 205.00 L211.41 205.91 L211.32 206.82 L211.13 207.71 L210.87 208.59 L210.54 209.45 L210.15 210.28 L209.69 211.09 L209.16 211.85 L208.55 212.55 L207.85 213.17 L207.11 213.72 L206.32 214.21 L205.50 214.66 L204.66 215.06 L203.79 215.41 L202.89 215.70 L201.96 215.95 L201.00 216.13 L200.02 216.24 L199.01 216.30 L197.98 216.27 L196.96 216.11 L195.97 215.78 L195.06 215.30 L194.22 214.68 L193.47 213.97 L192.82 213.18 L192.24 212.35 L191.75 211.48 L191.32 210.59 L190.95 209.68 L190.64 208.77 L190.39 207.84 L190.22 206.90 L190.18 205.95 L190.27 205.00 L190.47 204.08 L190.76 203.19 L191.14 202.36 L191.60 201.58 L192.13 200.86 L192.72 200.22 L193.35 199.64 L194.01 199.13 L194.67 198.67 L195.34 198.26 L196.02 197.89 L196.71 197.57 L197.41 197.30 L198.12 197.08 L198.83 196.90 L199.55 196.77 L200.27 196.68 L201.00 196.62 L201.73 196.60 L202.48 196.62 L203.23 196.69 L203.98 196.81 L204.73 197.00 L205.47 197.26 L206.19 197.59 L206.90 197.97 L207.58 198.42 L208.23 198.93 L208.84 199.51 L209.40 200.15 L209.91 200.84 L210.38 201.59 L210.78 202.38 L211.09 203.22 L211.31 204.10Z" fill="none" stroke="#5e5e5e" stroke-width="0.45" stroke-linejoin="round"/>
<path d="M210.25 205.00 L210.25 205.81 L210.16 206.61 L209.99 207.41 L209.76 208.19 L209.46 208.95 L209.11 209.68 L208.71 210.40 L208.23 211.07 L207.68 211.68 L207.07 212.24 L206.41 212.72 L205.71 213.16 L204.99 213.55 L204.24 213.90 L203.47 214.20 L202.67 214.46 L201.85 214.67 L201.00 214.82 L200.13 214.91 L199.24 214.95 L198.34 214.92 L197.44 214.77 L196.58 214.48 L195.77 214.06 L195.03 213.52 L194.37 212.90 L193.79 212.21 L193.28 211.48 L192.83 210.72 L192.45 209.94 L192.12 209.14 L191.84 208.34 L191.61 207.52 L191.46 206.68 L191.42 205.84 L191.49 205.00 L191.66 204.18 L191.91 203.40 L192.23 202.65 L192.63 201.95 L193.09 201.31 L193.61 200.73 L194.16 200.21 L194.74 199.74 L195.33 199.33 L195.92 198.95 L196.53 198.61 L197.14 198.32 L197.77 198.07 L198.40 197.87 L199.05 197.71 L199.69 197.59 L200.34 197.50 L201.00 197.45 L201.66 197.44 L202.33 197.47 L203.00 197.53 L203.68 197.65 L204.35 197.82 L205.01 198.06 L205.65 198.36 L206.28 198.71 L206.88 199.12 L207.46 199.58 L208.00 200.10 L208.49 200.67 L208.94 201.30 L209.35 201.96 L209.70 202.67 L209.97 203.42 L210.16 204.20Z" fill="none" stroke="#5e5e5e" stroke-width="0.45" stroke-linejoin="round"/>
<path d="M209.09 205.00 L209.08 205.71 L209.00 206.41 L208.86 207.10 L208.65 207.78 L208.39 208.45 L208.08 209.09 L207.72 209.71 L207.31 210.29 L206.83 210.83 L206.29 211.31 L205.71 211.73 L205.11 212.11 L204.47 212.45 L203.82 212.75 L203.15 213.01 L202.45 213.23 L201.74 213.41 L201.00 213.53 L200.25 213.60 L199.48 213.63 L198.70 213.59 L197.92 213.46 L197.17 213.20 L196.48 212.84 L195.84 212.38 L195.26 211.84 L194.75 211.25 L194.30 210.63 L193.90 209.97 L193.56 209.29 L193.27 208.60 L193.02 207.90 L192.82 207.19 L192.69 206.47 L192.65 205.73 L192.70 205.00 L192.84 204.29 L193.05 203.60 L193.32 202.94 L193.66 202.33 L194.06 201.76 L194.50 201.25 L194.98 200.78 L195.48 200.36 L195.99 199.99 L196.51 199.65 L197.04 199.35 L197.58 199.08 L198.14 198.86 L198.70 198.68 L199.27 198.53 L199.84 198.42 L200.42 198.35 L201.00 198.31 L201.59 198.30 L202.18 198.33 L202.77 198.39 L203.37 198.50 L203.96 198.66 L204.54 198.87 L205.10 199.14 L205.65 199.46 L206.18 199.82 L206.68 200.23 L207.15 200.69 L207.58 201.20 L207.97 201.75 L208.32 202.34 L208.62 202.96 L208.85 203.62 L209.01 204.30Z" fill="none" stroke="#5e5e5e" stroke-width="0.45" stroke-linejoin="round"/>
<path d="M207.92 205.00 L207.92 205.61 L207.85 206.21 L207.72 206.80 L207.54 207.38 L207.32 207.95 L207.06 208.50 L206.75 209.02 L206.39 209.52 L205.98 209.98 L205.52 210.38 L205.02 210.75 L204.50 211.07 L203.96 211.36 L203.41 211.61 L202.83 211.83 L202.24 212.01 L201.63 212.15 L201.00 212.25 L200.36 212.31 L199.71 212.32 L199.05 212.28 L198.39 212.16 L197.76 211.95 L197.17 211.64 L196.62 211.25 L196.13 210.80 L195.69 210.31 L195.30 209.78 L194.96 209.23 L194.67 208.66 L194.41 208.07 L194.20 207.48 L194.03 206.87 L193.91 206.25 L193.87 205.62 L193.91 205.00 L194.02 204.39 L194.19 203.80 L194.42 203.24 L194.70 202.71 L195.03 202.21 L195.40 201.77 L195.80 201.36 L196.22 200.99 L196.66 200.66 L197.11 200.36 L197.57 200.10 L198.03 199.86 L198.51 199.67 L199.00 199.50 L199.49 199.38 L199.99 199.28 L200.49 199.22 L201.00 199.18 L201.51 199.18 L202.02 199.21 L202.54 199.27 L203.05 199.37 L203.56 199.51 L204.06 199.70 L204.55 199.94 L205.02 200.21 L205.47 200.53 L205.90 200.89 L206.30 201.29 L206.66 201.73 L206.99 202.21 L207.29 202.71 L207.54 203.25 L207.73 203.81 L207.86 204.40Z" fill="none" stroke="#5e5e5e" stroke-width="0.45" stroke-linejoin="round"/>
<path d="M206.76 205.00 L206.76 205.50 L206.70 206.00 L206.59 206.50 L206.44 206.98 L206.26 207.45 L206.03 207.91 L205.77 208.34 L205.47 208.75 L205.13 209.13 L204.75 209.47 L204.34 209.77 L203.91 210.04 L203.46 210.27 L203.00 210.48 L202.52 210.66 L202.02 210.80 L201.52 210.92 L201.00 210.99 L200.47 211.03 L199.94 211.04 L199.39 211.00 L198.86 210.89 L198.34 210.71 L197.85 210.46 L197.40 210.14 L196.99 209.78 L196.62 209.38 L196.30 208.95 L196.01 208.49 L195.76 208.02 L195.55 207.54 L195.36 207.05 L195.22 206.55 L195.12 206.04 L195.08 205.52 L195.11 205.00 L195.20 204.49 L195.33 204.00 L195.51 203.53 L195.74 203.08 L196.00 202.67 L196.31 202.29 L196.64 201.94 L196.98 201.63 L197.35 201.35 L197.72 201.09 L198.10 200.86 L198.50 200.66 L198.90 200.49 L199.31 200.35 L199.73 200.24 L200.15 200.16 L200.57 200.11 L201.00 200.08 L201.43 200.08 L201.86 200.10 L202.30 200.16 L202.73 200.25 L203.16 200.38 L203.58 200.54 L203.98 200.74 L204.37 200.98 L204.75 201.25 L205.11 201.55 L205.44 201.89 L205.74 202.26 L206.01 202.66 L206.25 203.09 L206.45 203.54 L206.61 204.01 L206.72 204.50Z" fill="none" stroke="#5e5e5e" stroke-width="0.45" stroke-linejoin="round"/>
<path d="M205.61 205.00 L205.60 205.40 L205.55 205.80 L205.47 206.20 L205.35 206.58 L205.19 206.96 L205.01 207.32 L204.80 207.66 L204.56 207.99 L204.29 208.29 L203.99 208.56 L203.66 208.80 L203.31 209.01 L202.96 209.20 L202.59 209.36 L202.21 209.50 L201.81 209.61 L201.41 209.69 L201.00 209.75 L200.58 209.78 L200.16 209.77 L199.73 209.73 L199.31 209.65 L198.90 209.50 L198.51 209.30 L198.16 209.06 L197.83 208.78 L197.54 208.46 L197.28 208.13 L197.04 207.77 L196.84 207.40 L196.67 207.02 L196.52 206.63 L196.40 206.23 L196.32 205.82 L196.29 205.41 L196.31 205.00 L196.37 204.59 L196.47 204.20 L196.61 203.82 L196.78 203.46 L196.99 203.13 L197.22 202.82 L197.48 202.54 L197.76 202.28 L198.04 202.04 L198.34 201.83 L198.65 201.64 L198.97 201.48 L199.29 201.34 L199.63 201.22 L199.96 201.13 L200.31 201.07 L200.65 201.02 L201.00 201.00 L201.35 201.00 L201.70 201.03 L202.05 201.08 L202.40 201.15 L202.75 201.26 L203.08 201.39 L203.41 201.56 L203.72 201.75 L204.02 201.98 L204.31 202.22 L204.57 202.50 L204.81 202.80 L205.02 203.12 L205.21 203.47 L205.37 203.83 L205.49 204.21 L205.57 204.60Z" fill="none" stroke="#5e5e5e" stroke-width="0.45" stroke-linejoin="round"/>
<path d="M204.45 205.00 L204.44 205.30 L204.41 205.60 L204.34 205.90 L204.25 206.18 L204.14 206.46 L204.00 206.73 L203.84 206.99 L203.66 207.23 L203.45 207.45 L203.23 207.65 L202.98 207.83 L202.73 207.99 L202.46 208.13 L202.18 208.25 L201.90 208.35 L201.60 208.43 L201.31 208.49 L201.00 208.53 L200.69 208.54 L200.38 208.53 L200.06 208.50 L199.75 208.43 L199.45 208.32 L199.17 208.18 L198.90 208.00 L198.66 207.79 L198.44 207.56 L198.24 207.32 L198.06 207.06 L197.91 206.78 L197.78 206.50 L197.66 206.21 L197.57 205.92 L197.51 205.61 L197.49 205.31 L197.49 205.00 L197.54 204.70 L197.61 204.40 L197.70 204.12 L197.83 203.85 L197.98 203.59 L198.15 203.35 L198.34 203.14 L198.54 202.94 L198.76 202.76 L198.98 202.59 L199.21 202.45 L199.45 202.32 L199.70 202.21 L199.95 202.12 L200.21 202.05 L200.47 202.00 L200.73 201.96 L201.00 201.95 L201.27 201.95 L201.53 201.97 L201.80 202.01 L202.07 202.07 L202.33 202.16 L202.58 202.26 L202.83 202.39 L203.06 202.54 L203.29 202.71 L203.50 202.90 L203.69 203.11 L203.87 203.34 L204.03 203.59 L204.17 203.85 L204.28 204.12 L204.37 204.41 L204.43 204.70Z" fill="none" stroke="#5e5e5e" stroke-width="0.45" stroke-linejoin="round"/>
<path d="M203.30 205.00 L203.29 205.20 L203.27 205.40 L203.22 205.60 L203.16 205.79 L203.08 205.97 L202.99 206.15 L202.89 206.32 L202.76 206.48 L202.63 206.63 L202.48 206.76 L202.31 206.88 L202.14 206.98 L201.97 207.07 L201.78 207.15 L201.59 207.21 L201.40 207.27 L201.20 207.30 L201.00 207.32 L200.80 207.33 L200.59 207.32 L200.39 207.29 L200.18 207.25 L199.99 207.17 L199.80 207.08 L199.62 206.96 L199.46 206.83 L199.32 206.68 L199.18 206.52 L199.06 206.36 L198.96 206.18 L198.87 205.99 L198.79 205.80 L198.73 205.61 L198.69 205.41 L198.67 205.20 L198.67 205.00 L198.70 204.80 L198.74 204.60 L198.80 204.41 L198.88 204.23 L198.98 204.06 L199.09 203.89 L199.21 203.75 L199.34 203.61 L199.48 203.48 L199.63 203.37 L199.79 203.27 L199.95 203.18 L200.12 203.10 L200.29 203.04 L200.46 202.99 L200.64 202.96 L200.82 202.94 L201.00 202.93 L201.18 202.93 L201.36 202.94 L201.54 202.97 L201.72 203.02 L201.90 203.08 L202.07 203.15 L202.23 203.24 L202.39 203.34 L202.54 203.46 L202.68 203.59 L202.81 203.73 L202.92 203.89 L203.03 204.05 L203.12 204.23 L203.19 204.41 L203.25 204.60 L203.28 204.80Z" fill="none" stroke="#5e5e5e" stroke-width="0.45" stroke-linejoin="round"/><defs><radialGradient id="g13" gradientUnits="userSpaceOnUse" cx="201" cy="205" r="1" gradientTransform="translate(201 205) scale(12 11) translate(-201 -205)"><stop offset="0" stop-color="#fff" stop-opacity="0.3"/><stop offset="0.1" stop-color="#fff" stop-opacity="0.0"/><stop offset="0.18" stop-color="#555" stop-opacity="0.5"/><stop offset="0.65" stop-color="#555" stop-opacity="0.375"/><stop offset="1" stop-color="#555" stop-opacity="0"/></radialGradient></defs><ellipse cx="201" cy="205" rx="12" ry="11" fill="url(#g13)"/><ellipse cx="201" cy="205" rx="0.8" ry="1.0" fill="#fff" fill-opacity="0.6"/><path d="M186.8 239.4 A5.9 3.6 0 0 1 198.6 239.4" fill="none" stroke="#666" stroke-width="0.5"/></g>
<rect x="159.2" y="150.6" width="94.80000000000001" height="88.70000000000002" fill="none" stroke="#626262" stroke-width="0.9"/>
<path d="M159.20 239.30v2.2 M159.20 239.30h-2.2 M166.33 239.30v1.2 M159.20 232.62h-1.2 M170.51 239.30v1.2 M159.20 228.72h-1.2 M173.47 239.30v1.2 M159.20 225.95h-1.2 M175.77 239.30v1.2 M159.20 223.80h-1.2 M177.64 239.30v1.2 M159.20 222.04h-1.2 M179.23 239.30v1.2 M159.20 220.56h-1.2 M180.60 239.30v1.2 M159.20 219.27h-1.2 M181.82 239.30v1.2 M159.20 218.14h-1.2 M182.90 239.30v2.2 M159.20 217.12h-2.2 M190.03 239.30v1.2 M159.20 210.45h-1.2 M194.21 239.30v1.2 M159.20 206.54h-1.2 M197.17 239.30v1.2 M159.20 203.77h-1.2 M199.47 239.30v1.2 M159.20 201.63h-1.2 M201.34 239.30v1.2 M159.20 199.87h-1.2 M202.93 239.30v1.2 M159.20 198.38h-1.2 M204.30 239.30v1.2 M159.20 197.10h-1.2 M205.52 239.30v1.2 M159.20 195.96h-1.2 M206.60 239.30v2.2 M159.20 194.95h-2.2 M213.73 239.30v1.2 M159.20 188.27h-1.2 M217.91 239.30v1.2 M159.20 184.37h-1.2 M220.87 239.30v1.2 M159.20 181.60h-1.2 M223.17 239.30v1.2 M159.20 179.45h-1.2 M225.04 239.30v1.2 M159.20 177.69h-1.2 M226.63 239.30v1.2 M159.20 176.21h-1.2 M228.00 239.30v1.2 M159.20 174.92h-1.2 M229.22 239.30v1.2 M159.20 173.79h-1.2 M230.30 239.30v2.2 M159.20 172.78h-2.2 M237.43 239.30v1.2 M159.20 166.10h-1.2 M241.61 239.30v1.2 M159.20 162.19h-1.2 M244.57 239.30v1.2 M159.20 159.42h-1.2 M246.87 239.30v1.2 M159.20 157.28h-1.2 M248.74 239.30v1.2 M159.20 155.52h-1.2 M250.33 239.30v1.2 M159.20 154.03h-1.2 M251.70 239.30v1.2 M159.20 152.75h-1.2 M252.92 239.30v1.2 M159.20 151.61h-1.2 M254.00 239.30v2.2 M159.20 150.60h-2.2" stroke="#777" stroke-width="0.6" fill="none"/>
<text x="157.00" y="250.30" font-size="4.6" fill="#555" stroke="#555" stroke-width="0.12">10<tspan dy="-2" font-size="3.4">0</tspan></text>
<text x="149.20" y="242.90" font-size="4.6" fill="#555" stroke="#555" stroke-width="0.12">10<tspan dy="-2" font-size="3.4">0</tspan></text>
<text x="180.70" y="250.30" font-size="4.6" fill="#555" stroke="#555" stroke-width="0.12">10<tspan dy="-2" font-size="3.4">1</tspan></text>
<text x="149.20" y="220.72" font-size="4.6" fill="#555" stroke="#555" stroke-width="0.12">10<tspan dy="-2" font-size="3.4">1</tspan></text>
<text x="204.40" y="250.30" font-size="4.6" fill="#555" stroke="#555" stroke-width="0.12">10<tspan dy="-2" font-size="3.4">2</tspan></text>
<text x="149.20" y="198.55" font-size="4.6" fill="#555" stroke="#555" stroke-width="0.12">10<tspan dy="-2" font-size="3.4">2</tspan></text>
<text x="228.10" y="250.30" font-size="4.6" fill="#555" stroke="#555" stroke-width="0.12">10<tspan dy="-2" font-size="3.4">3</tspan></text>
<text x="149.20" y="176.38" font-size="4.6" fill="#555" stroke="#555" stroke-width="0.12">10<tspan dy="-2" font-size="3.4">3</tspan></text>
<text x="160.9" y="156.3" font-size="4.2" fill="#222" stroke="#222" stroke-width="0.1" font-weight="normal" text-anchor="start" >1.68</text>
<text x="167.4" y="167.8" font-size="7.3" fill="#222" stroke="#222" stroke-width="0.16" font-weight="normal" text-anchor="start" >1.68</text>
<text x="236.9" y="156.3" font-size="4.2" fill="#222" stroke="#222" stroke-width="0.1" font-weight="normal" text-anchor="start" >65.45</text>
<text x="219" y="167.6" font-size="7.3" fill="#222" stroke="#222" stroke-width="0.16" font-weight="normal" text-anchor="start" >65.45</text>
<text x="167" y="229.3" font-size="7.3" fill="#222" stroke="#222" stroke-width="0.16" font-weight="normal" text-anchor="start" >2.20</text>
<text x="161" y="238" font-size="4.2" fill="#222" stroke="#222" stroke-width="0.1" font-weight="normal" text-anchor="start" >2.20</text>
<text x="219" y="229.3" font-size="7.3" fill="#222" stroke="#222" stroke-width="0.16" font-weight="normal" text-anchor="start" >30.66</text>
<text x="237.7" y="238" font-size="4.2" fill="#222" stroke="#222" stroke-width="0.1" font-weight="normal" text-anchor="start" >30.66</text>
<text x="184.5" y="260.8" font-size="8.75" fill="#222" stroke="#222" stroke-width="0.3" font-weight="normal" text-anchor="start" >IL-3R&#945;-PE</text>
<text transform="translate(145,216.0) rotate(-90)" x="0" y="0" font-size="8.6" fill="#222" stroke="#222" stroke-width="0.3">CD34-FITC</text>
<line x1="314.2" y1="152.3" x2="314.2" y2="241.5" stroke="#8a8a8a" stroke-width="0.8"/>
<line x1="290.7" y1="219.2" x2="384.6" y2="219.2" stroke="#8a8a8a" stroke-width="0.8"/>
<defs><clipPath id="c16"><rect x="290.7" y="152.3" width="93.90000000000003" height="89.19999999999999"/></clipPath></defs><g clip-path="url(#c16)"><path d="M308.80 206.00 L308.64 206.71 L308.43 207.40 L308.18 208.06 L307.89 208.69 L307.54 209.28 L307.14 209.83 L306.68 210.33 L306.17 210.76 L305.63 211.13 L305.09 211.47 L304.54 211.77 L303.99 212.05 L303.44 212.30 L302.88 212.55 L302.31 212.77 L301.73 212.96 L301.12 213.13 L300.50 213.26 L299.85 213.38 L299.18 213.48 L298.46 213.61 L297.65 213.84 L296.75 214.05 L295.85 214.05 L295.14 213.65 L294.66 212.96 L294.30 212.20 L294.01 211.44 L293.78 210.71 L293.58 209.99 L293.42 209.30 L293.28 208.63 L293.17 207.96 L293.08 207.31 L293.03 206.65 L293.00 206.00 L293.02 205.35 L293.08 204.69 L293.17 204.04 L293.30 203.38 L293.46 202.72 L293.66 202.05 L293.91 201.38 L294.20 200.72 L294.57 200.07 L295.03 199.48 L295.60 199.01 L296.28 198.69 L297.01 198.51 L297.74 198.41 L298.45 198.36 L299.15 198.34 L299.83 198.31 L300.50 198.27 L301.18 198.25 L301.87 198.24 L302.57 198.26 L303.30 198.31 L304.04 198.40 L304.79 198.56 L305.53 198.81 L306.21 199.19 L306.82 199.68 L307.37 200.24 L307.85 200.85 L308.26 201.52 L308.60 202.23 L308.82 202.97 L308.93 203.74 L308.96 204.51 L308.91 205.26Z" fill="none" stroke="#666" stroke-width="0.45" stroke-linejoin="round"/>
<path d="M305.53 206.00 L305.50 206.44 L305.44 206.87 L305.33 207.29 L305.19 207.71 L305.01 208.10 L304.80 208.48 L304.55 208.84 L304.28 209.17 L303.98 209.48 L303.66 209.77 L303.32 210.02 L302.95 210.25 L302.57 210.44 L302.18 210.60 L301.77 210.73 L301.35 210.83 L300.93 210.90 L300.50 210.93 L300.07 210.93 L299.64 210.88 L299.21 210.80 L298.80 210.68 L298.39 210.52 L298.00 210.32 L297.63 210.10 L297.28 209.83 L296.96 209.54 L296.66 209.22 L296.39 208.88 L296.16 208.51 L295.96 208.12 L295.80 207.71 L295.68 207.29 L295.59 206.87 L295.54 206.43 L295.52 206.00 L295.54 205.57 L295.60 205.14 L295.69 204.71 L295.81 204.29 L295.98 203.89 L296.18 203.50 L296.41 203.14 L296.68 202.79 L296.97 202.47 L297.30 202.18 L297.64 201.92 L298.01 201.69 L298.40 201.49 L298.80 201.33 L299.21 201.20 L299.64 201.10 L300.07 201.05 L300.50 201.03 L300.93 201.04 L301.36 201.09 L301.79 201.18 L302.21 201.31 L302.61 201.47 L303.01 201.66 L303.38 201.88 L303.74 202.14 L304.07 202.43 L304.37 202.75 L304.64 203.10 L304.88 203.47 L305.09 203.86 L305.25 204.27 L305.38 204.69 L305.47 205.12 L305.52 205.56Z" fill="none" stroke="#666" stroke-width="0.45" stroke-linejoin="round"/>
<path d="M302.93 206.00 L302.92 206.21 L302.89 206.42 L302.84 206.63 L302.78 206.83 L302.69 207.02 L302.59 207.21 L302.48 207.39 L302.35 207.55 L302.21 207.71 L302.05 207.85 L301.88 207.97 L301.70 208.08 L301.52 208.18 L301.32 208.26 L301.12 208.32 L300.92 208.36 L300.71 208.39 L300.50 208.40 L300.29 208.39 L300.08 208.37 L299.88 208.32 L299.68 208.26 L299.48 208.18 L299.30 208.09 L299.12 207.97 L298.95 207.85 L298.79 207.71 L298.65 207.55 L298.52 207.39 L298.40 207.21 L298.31 207.02 L298.22 206.83 L298.16 206.63 L298.11 206.42 L298.08 206.21 L298.08 206.00 L298.08 205.79 L298.11 205.58 L298.16 205.37 L298.22 205.17 L298.31 204.98 L298.41 204.79 L298.52 204.61 L298.65 204.45 L298.79 204.29 L298.95 204.15 L299.12 204.03 L299.30 203.92 L299.48 203.82 L299.68 203.74 L299.88 203.68 L300.08 203.63 L300.29 203.61 L300.50 203.60 L300.71 203.61 L300.92 203.63 L301.12 203.68 L301.32 203.74 L301.52 203.82 L301.70 203.91 L301.88 204.03 L302.05 204.15 L302.21 204.29 L302.35 204.45 L302.48 204.61 L302.60 204.79 L302.70 204.98 L302.78 205.17 L302.84 205.37 L302.89 205.58 L302.92 205.79Z" fill="none" stroke="#666" stroke-width="0.45" stroke-linejoin="round"/><path d="M296.00 215.50 C297.17 215.38 300.67 214.80 303.00 214.80 C305.33 214.80 308.08 215.13 310.00 215.50 C311.92 215.87 313.75 216.75 314.50 217.00" fill="none" stroke="#666" stroke-width="0.45"/><path d="M292.00 217.00 C293.83 214.88 296.67 216.33 299.00 216.30 C301.33 216.27 303.83 216.55 306.00 216.80 C308.17 217.05 310.37 217.18 312.00 217.80 C313.63 218.42 314.87 219.30 315.80 220.50 C316.73 221.70 317.33 223.08 317.60 225.00 C317.87 226.92 317.75 230.00 317.40 232.00 C317.05 234.00 315.57 235.33 315.50 237.00 C315.43 238.67 317.58 240.50 317.00 242.00 C316.42 243.50 314.50 245.17 312.00 246.00 C309.50 246.83 305.17 247.00 302.00 247.00 C298.83 247.00 295.33 247.17 293.00 246.00 C290.67 244.83 288.83 242.83 288.00 240.00 C287.17 237.17 287.33 232.83 288.00 229.00 C288.67 225.17 290.17 219.12 292.00 217.00Z" fill="#fff" fill-opacity="0.9"/>
<path d="M317.64 230.00 L317.49 231.44 L317.17 232.85 L316.58 234.18 L315.93 235.44 L315.52 236.77 L315.96 238.63 L317.09 241.26 L316.45 242.97 L315.24 244.24 L313.77 245.22 L312.16 245.94 L310.46 246.39 L308.77 246.66 L307.12 246.82 L305.53 246.92 L303.99 246.98 L302.49 247.00 L301.00 247.00 L299.51 247.01 L298.01 246.98 L296.48 246.88 L294.94 246.65 L293.45 246.20 L292.07 245.47 L290.83 244.53 L289.76 243.40 L288.89 242.11 L288.24 240.71 L287.81 239.24 L287.57 237.75 L287.46 236.31 L287.44 234.94 L287.48 233.62 L287.56 232.37 L287.68 231.16 L287.84 230.00 L288.02 228.86 L288.23 227.75 L288.46 226.64 L288.71 225.53 L288.99 224.40 L289.30 223.25 L289.66 222.06 L290.07 220.83 L290.56 219.56 L291.16 218.28 L291.95 217.07 L293.03 216.20 L294.41 215.86 L295.88 215.93 L297.29 216.14 L298.58 216.29 L299.80 216.30 L301.00 216.34 L302.19 216.41 L303.38 216.52 L304.58 216.64 L305.81 216.78 L307.10 216.92 L308.47 217.07 L309.91 217.27 L311.40 217.60 L312.84 218.16 L314.18 218.94 L315.34 219.96 L316.28 221.18 L316.98 222.55 L317.42 224.02 L317.66 225.54 L317.74 227.05 L317.73 228.54Z" fill="none" stroke="#5a5a5a" stroke-width="0.45" stroke-linejoin="round"/>
<path d="M313.52 230.00 L313.57 231.10 L313.51 232.21 L313.35 233.31 L313.08 234.40 L312.70 235.46 L312.23 236.48 L311.65 237.46 L310.98 238.38 L310.23 239.23 L309.41 240.02 L308.52 240.74 L307.58 241.39 L306.58 241.96 L305.52 242.40 L304.40 242.69 L303.27 242.85 L302.13 242.92 L301.00 242.90 L299.88 242.78 L298.78 242.57 L297.71 242.27 L296.68 241.88 L295.69 241.39 L294.76 240.82 L293.89 240.16 L293.10 239.42 L292.39 238.61 L291.78 237.74 L291.27 236.82 L290.85 235.86 L290.54 234.88 L290.31 233.89 L290.17 232.90 L290.11 231.92 L290.11 230.95 L290.17 230.00 L290.27 229.06 L290.42 228.13 L290.61 227.22 L290.85 226.31 L291.15 225.41 L291.53 224.53 L291.99 223.69 L292.54 222.90 L293.17 222.17 L293.87 221.50 L294.62 220.89 L295.43 220.35 L296.28 219.89 L297.18 219.50 L298.11 219.20 L299.06 218.99 L300.02 218.85 L301.00 218.80 L301.98 218.83 L302.95 218.93 L303.92 219.09 L304.89 219.30 L305.86 219.58 L306.82 219.93 L307.75 220.37 L308.64 220.89 L309.49 221.51 L310.28 222.21 L311.01 222.99 L311.65 223.85 L312.21 224.77 L312.67 225.75 L313.00 226.78 L313.23 227.84 L313.39 228.92Z" fill="none" stroke="#5a5a5a" stroke-width="0.45" stroke-linejoin="round"/>
<path d="M310.84 230.00 L310.85 230.86 L310.79 231.73 L310.64 232.58 L310.41 233.43 L310.11 234.25 L309.73 235.04 L309.27 235.79 L308.75 236.50 L308.16 237.16 L307.52 237.77 L306.83 238.32 L306.09 238.82 L305.31 239.25 L304.49 239.59 L303.63 239.82 L302.76 239.97 L301.88 240.04 L301.00 240.04 L300.13 239.97 L299.27 239.82 L298.43 239.60 L297.61 239.30 L296.83 238.94 L296.09 238.50 L295.40 238.00 L294.76 237.44 L294.18 236.82 L293.67 236.15 L293.23 235.44 L292.86 234.70 L292.57 233.93 L292.35 233.15 L292.19 232.36 L292.10 231.57 L292.07 230.78 L292.09 230.00 L292.16 229.23 L292.27 228.46 L292.43 227.70 L292.64 226.96 L292.90 226.22 L293.23 225.51 L293.63 224.84 L294.09 224.20 L294.61 223.61 L295.18 223.06 L295.80 222.57 L296.46 222.14 L297.16 221.76 L297.89 221.45 L298.64 221.21 L299.42 221.04 L300.21 220.93 L301.00 220.89 L301.79 220.92 L302.59 221.00 L303.37 221.15 L304.15 221.34 L304.92 221.59 L305.67 221.90 L306.40 222.28 L307.10 222.73 L307.76 223.24 L308.36 223.82 L308.92 224.45 L309.41 225.14 L309.84 225.88 L310.19 226.66 L310.45 227.47 L310.63 228.30 L310.75 229.15Z" fill="none" stroke="#5a5a5a" stroke-width="0.45" stroke-linejoin="round"/>
<path d="M309.19 230.00 L309.18 230.72 L309.12 231.43 L308.99 232.14 L308.79 232.84 L308.53 233.51 L308.21 234.16 L307.83 234.78 L307.39 235.37 L306.91 235.91 L306.38 236.41 L305.80 236.86 L305.19 237.26 L304.55 237.61 L303.87 237.89 L303.17 238.09 L302.45 238.23 L301.73 238.30 L301.00 238.31 L300.28 238.25 L299.57 238.14 L298.87 237.96 L298.19 237.73 L297.53 237.43 L296.91 237.08 L296.33 236.67 L295.79 236.21 L295.29 235.71 L294.85 235.16 L294.46 234.58 L294.13 233.96 L293.86 233.33 L293.65 232.67 L293.50 232.01 L293.40 231.34 L293.35 230.67 L293.35 230.00 L293.40 229.34 L293.50 228.68 L293.64 228.03 L293.82 227.39 L294.06 226.76 L294.35 226.16 L294.69 225.58 L295.09 225.04 L295.54 224.54 L296.03 224.08 L296.56 223.66 L297.13 223.29 L297.72 222.98 L298.35 222.71 L298.99 222.51 L299.65 222.36 L300.32 222.27 L301.00 222.24 L301.68 222.26 L302.35 222.34 L303.02 222.47 L303.68 222.65 L304.32 222.88 L304.95 223.16 L305.56 223.49 L306.13 223.88 L306.67 224.33 L307.17 224.82 L307.62 225.36 L308.03 225.94 L308.38 226.56 L308.66 227.21 L308.88 227.89 L309.03 228.58 L309.13 229.29Z" fill="none" stroke="#5a5a5a" stroke-width="0.45" stroke-linejoin="round"/>
<path d="M308.00 230.00 L307.99 230.61 L307.93 231.22 L307.81 231.82 L307.64 232.42 L307.41 232.99 L307.13 233.54 L306.81 234.07 L306.44 234.56 L306.02 235.02 L305.57 235.44 L305.08 235.82 L304.56 236.16 L304.01 236.46 L303.44 236.70 L302.84 236.87 L302.23 236.99 L301.62 237.06 L301.00 237.07 L300.38 237.03 L299.78 236.94 L299.18 236.79 L298.60 236.60 L298.04 236.35 L297.50 236.06 L297.00 235.71 L296.53 235.33 L296.10 234.90 L295.71 234.44 L295.36 233.95 L295.07 233.42 L294.82 232.88 L294.63 232.32 L294.48 231.75 L294.38 231.17 L294.32 230.58 L294.32 230.00 L294.36 229.42 L294.44 228.84 L294.56 228.27 L294.73 227.72 L294.94 227.17 L295.20 226.65 L295.50 226.15 L295.85 225.68 L296.24 225.24 L296.67 224.84 L297.14 224.48 L297.63 224.16 L298.15 223.89 L298.69 223.66 L299.25 223.48 L299.83 223.35 L300.41 223.28 L301.00 223.25 L301.59 223.27 L302.17 223.34 L302.75 223.46 L303.32 223.62 L303.88 223.83 L304.42 224.08 L304.93 224.38 L305.42 224.73 L305.88 225.12 L306.30 225.55 L306.69 226.02 L307.03 226.52 L307.32 227.05 L307.56 227.61 L307.74 228.19 L307.87 228.79 L307.96 229.39Z" fill="none" stroke="#5a5a5a" stroke-width="0.45" stroke-linejoin="round"/>
<path d="M306.99 230.00 L306.98 230.52 L306.92 231.04 L306.81 231.56 L306.66 232.06 L306.46 232.55 L306.23 233.02 L305.95 233.46 L305.63 233.88 L305.27 234.27 L304.89 234.63 L304.47 234.96 L304.03 235.24 L303.56 235.49 L303.07 235.69 L302.57 235.85 L302.05 235.95 L301.53 236.01 L301.00 236.03 L300.48 236.00 L299.96 235.92 L299.45 235.80 L298.95 235.64 L298.47 235.43 L298.01 235.18 L297.57 234.89 L297.17 234.57 L296.79 234.21 L296.45 233.82 L296.15 233.40 L295.89 232.95 L295.67 232.49 L295.49 232.01 L295.35 231.51 L295.25 231.01 L295.20 230.51 L295.19 230.00 L295.22 229.49 L295.29 228.99 L295.39 228.50 L295.54 228.01 L295.73 227.54 L295.96 227.09 L296.22 226.66 L296.53 226.25 L296.87 225.87 L297.25 225.53 L297.65 225.21 L298.08 224.94 L298.53 224.70 L299.00 224.51 L299.49 224.35 L299.98 224.24 L300.49 224.17 L301.00 224.15 L301.51 224.17 L302.02 224.23 L302.52 224.34 L303.01 224.48 L303.49 224.67 L303.95 224.89 L304.39 225.16 L304.81 225.46 L305.20 225.80 L305.55 226.18 L305.88 226.58 L306.17 227.02 L306.41 227.48 L306.62 227.96 L306.77 228.45 L306.89 228.96 L306.96 229.48Z" fill="none" stroke="#5a5a5a" stroke-width="0.45" stroke-linejoin="round"/>
<path d="M306.22 230.00 L306.21 230.46 L306.15 230.91 L306.06 231.36 L305.92 231.79 L305.75 232.22 L305.54 232.62 L305.30 233.01 L305.02 233.38 L304.71 233.71 L304.38 234.02 L304.01 234.30 L303.63 234.55 L303.22 234.77 L302.80 234.94 L302.36 235.08 L301.91 235.17 L301.46 235.23 L301.00 235.24 L300.54 235.22 L300.09 235.16 L299.65 235.05 L299.21 234.91 L298.79 234.73 L298.39 234.52 L298.01 234.27 L297.65 233.99 L297.32 233.68 L297.02 233.34 L296.75 232.97 L296.52 232.59 L296.32 232.18 L296.16 231.76 L296.03 231.33 L295.94 230.89 L295.89 230.45 L295.88 230.00 L295.90 229.55 L295.96 229.11 L296.06 228.68 L296.19 228.25 L296.36 227.84 L296.56 227.44 L296.80 227.06 L297.07 226.70 L297.37 226.37 L297.70 226.07 L298.05 225.79 L298.43 225.55 L298.83 225.34 L299.24 225.17 L299.67 225.03 L300.11 224.94 L300.55 224.88 L301.00 224.86 L301.45 224.88 L301.89 224.93 L302.33 225.03 L302.76 225.16 L303.18 225.32 L303.58 225.52 L303.97 225.76 L304.33 226.03 L304.67 226.33 L304.98 226.66 L305.26 227.02 L305.51 227.40 L305.72 227.80 L305.90 228.22 L306.04 228.65 L306.14 229.09 L306.20 229.55Z" fill="none" stroke="#5a5a5a" stroke-width="0.45" stroke-linejoin="round"/>
<path d="M305.52 230.00 L305.50 230.39 L305.45 230.79 L305.37 231.17 L305.25 231.55 L305.10 231.91 L304.92 232.27 L304.71 232.60 L304.47 232.91 L304.21 233.21 L303.91 233.47 L303.60 233.71 L303.27 233.93 L302.92 234.11 L302.55 234.26 L302.17 234.38 L301.79 234.46 L301.39 234.51 L301.00 234.53 L300.61 234.51 L300.21 234.46 L299.83 234.37 L299.45 234.25 L299.09 234.09 L298.74 233.91 L298.41 233.70 L298.10 233.45 L297.81 233.19 L297.55 232.89 L297.32 232.58 L297.11 232.25 L296.93 231.90 L296.79 231.53 L296.68 231.16 L296.60 230.78 L296.55 230.39 L296.54 230.00 L296.56 229.61 L296.61 229.23 L296.69 228.85 L296.81 228.47 L296.95 228.11 L297.13 227.77 L297.34 227.44 L297.58 227.13 L297.84 226.84 L298.13 226.57 L298.43 226.34 L298.76 226.13 L299.11 225.95 L299.47 225.80 L299.84 225.68 L300.22 225.59 L300.61 225.54 L301.00 225.53 L301.39 225.54 L301.78 225.59 L302.16 225.67 L302.53 225.79 L302.90 225.94 L303.24 226.11 L303.58 226.32 L303.89 226.56 L304.18 226.82 L304.45 227.11 L304.69 227.42 L304.91 227.75 L305.09 228.09 L305.24 228.46 L305.36 228.83 L305.44 229.22 L305.50 229.61Z" fill="none" stroke="#5a5a5a" stroke-width="0.45" stroke-linejoin="round"/>
<path d="M304.86 230.00 L304.84 230.34 L304.80 230.67 L304.73 231.00 L304.63 231.32 L304.50 231.63 L304.35 231.93 L304.16 232.22 L303.96 232.48 L303.73 232.73 L303.48 232.96 L303.22 233.17 L302.93 233.35 L302.63 233.50 L302.32 233.63 L302.00 233.73 L301.67 233.81 L301.34 233.85 L301.00 233.86 L300.66 233.85 L300.33 233.80 L300.00 233.73 L299.68 233.63 L299.37 233.50 L299.07 233.34 L298.79 233.16 L298.52 232.95 L298.28 232.72 L298.05 232.47 L297.85 232.21 L297.67 231.92 L297.52 231.62 L297.39 231.31 L297.29 230.99 L297.22 230.67 L297.18 230.33 L297.17 230.00 L297.19 229.67 L297.23 229.34 L297.30 229.01 L297.40 228.69 L297.53 228.38 L297.68 228.08 L297.86 227.80 L298.06 227.54 L298.29 227.29 L298.54 227.06 L298.80 226.86 L299.08 226.68 L299.38 226.52 L299.69 226.40 L300.01 226.30 L300.33 226.22 L300.67 226.18 L301.00 226.16 L301.33 226.18 L301.67 226.22 L301.99 226.29 L302.31 226.39 L302.62 226.52 L302.92 226.67 L303.21 226.85 L303.47 227.05 L303.72 227.28 L303.95 227.53 L304.15 227.79 L304.34 228.07 L304.49 228.37 L304.62 228.68 L304.72 229.00 L304.80 229.33 L304.84 229.66Z" fill="none" stroke="#5a5a5a" stroke-width="0.45" stroke-linejoin="round"/>
<path d="M304.22 230.00 L304.21 230.28 L304.18 230.56 L304.12 230.83 L304.03 231.10 L303.92 231.36 L303.79 231.61 L303.64 231.85 L303.47 232.07 L303.28 232.28 L303.07 232.47 L302.85 232.64 L302.61 232.80 L302.36 232.93 L302.10 233.03 L301.84 233.12 L301.56 233.18 L301.28 233.21 L301.00 233.23 L300.72 233.21 L300.44 233.18 L300.17 233.11 L299.90 233.03 L299.64 232.92 L299.39 232.79 L299.15 232.64 L298.93 232.47 L298.72 232.28 L298.53 232.07 L298.36 231.85 L298.21 231.61 L298.08 231.36 L297.98 231.10 L297.89 230.83 L297.83 230.56 L297.80 230.28 L297.79 230.00 L297.80 229.72 L297.84 229.44 L297.90 229.17 L297.98 228.90 L298.09 228.64 L298.22 228.39 L298.37 228.16 L298.54 227.93 L298.73 227.73 L298.93 227.54 L299.16 227.37 L299.39 227.22 L299.64 227.09 L299.90 226.98 L300.17 226.89 L300.44 226.83 L300.72 226.80 L301.00 226.78 L301.28 226.80 L301.56 226.83 L301.83 226.89 L302.10 226.98 L302.36 227.08 L302.61 227.21 L302.85 227.36 L303.07 227.53 L303.28 227.72 L303.47 227.93 L303.64 228.15 L303.79 228.39 L303.92 228.64 L304.03 228.90 L304.11 229.17 L304.17 229.44 L304.21 229.72Z" fill="none" stroke="#5a5a5a" stroke-width="0.45" stroke-linejoin="round"/>
<path d="M303.61 230.00 L303.60 230.23 L303.57 230.45 L303.52 230.68 L303.45 230.89 L303.36 231.10 L303.26 231.30 L303.14 231.50 L303.00 231.68 L302.85 231.85 L302.68 232.00 L302.50 232.14 L302.30 232.26 L302.10 232.37 L301.89 232.45 L301.68 232.52 L301.45 232.57 L301.23 232.60 L301.00 232.61 L300.77 232.60 L300.55 232.57 L300.32 232.52 L300.11 232.45 L299.90 232.36 L299.70 232.26 L299.50 232.14 L299.32 232.00 L299.16 231.84 L299.00 231.68 L298.86 231.50 L298.74 231.30 L298.64 231.10 L298.55 230.89 L298.48 230.67 L298.43 230.45 L298.41 230.23 L298.40 230.00 L298.41 229.77 L298.44 229.55 L298.48 229.33 L298.55 229.11 L298.64 228.90 L298.74 228.70 L298.87 228.51 L299.00 228.33 L299.16 228.16 L299.33 228.00 L299.51 227.87 L299.70 227.74 L299.90 227.64 L300.11 227.55 L300.33 227.48 L300.55 227.43 L300.77 227.40 L301.00 227.39 L301.23 227.40 L301.45 227.43 L301.67 227.48 L301.89 227.55 L302.10 227.64 L302.30 227.74 L302.50 227.86 L302.68 228.00 L302.84 228.16 L303.00 228.32 L303.14 228.50 L303.26 228.70 L303.36 228.90 L303.45 229.11 L303.52 229.32 L303.57 229.55 L303.60 229.77Z" fill="none" stroke="#5a5a5a" stroke-width="0.45" stroke-linejoin="round"/>
<path d="M303.00 230.00 L302.99 230.17 L302.97 230.35 L302.93 230.52 L302.88 230.68 L302.81 230.85 L302.73 231.00 L302.64 231.15 L302.53 231.29 L302.42 231.42 L302.29 231.53 L302.15 231.64 L302.00 231.73 L301.85 231.82 L301.68 231.88 L301.52 231.93 L301.35 231.97 L301.17 231.99 L301.00 232.00 L300.83 231.99 L300.65 231.97 L300.48 231.93 L300.32 231.88 L300.15 231.81 L300.00 231.73 L299.85 231.64 L299.71 231.53 L299.58 231.42 L299.47 231.29 L299.36 231.15 L299.27 231.00 L299.19 230.85 L299.12 230.68 L299.07 230.52 L299.03 230.35 L299.01 230.17 L299.00 230.00 L299.01 229.83 L299.03 229.65 L299.07 229.48 L299.12 229.32 L299.19 229.15 L299.27 229.00 L299.36 228.85 L299.47 228.71 L299.58 228.58 L299.71 228.47 L299.85 228.36 L300.00 228.27 L300.15 228.19 L300.32 228.12 L300.48 228.07 L300.65 228.03 L300.83 228.01 L301.00 228.00 L301.17 228.01 L301.35 228.03 L301.52 228.07 L301.68 228.12 L301.85 228.19 L302.00 228.27 L302.15 228.36 L302.29 228.47 L302.42 228.58 L302.53 228.71 L302.64 228.85 L302.73 229.00 L302.81 229.15 L302.88 229.32 L302.93 229.48 L302.97 229.65 L302.99 229.83Z" fill="none" stroke="#5a5a5a" stroke-width="0.45" stroke-linejoin="round"/>
<path d="M302.40 230.00 L302.40 230.12 L302.38 230.24 L302.35 230.36 L302.32 230.48 L302.27 230.59 L302.21 230.70 L302.15 230.80 L302.07 230.90 L301.99 230.99 L301.90 231.07 L301.80 231.15 L301.70 231.21 L301.59 231.27 L301.48 231.32 L301.36 231.35 L301.24 231.38 L301.12 231.40 L301.00 231.40 L300.88 231.40 L300.76 231.38 L300.64 231.35 L300.52 231.32 L300.41 231.27 L300.30 231.21 L300.20 231.15 L300.10 231.07 L300.01 230.99 L299.93 230.90 L299.85 230.80 L299.79 230.70 L299.73 230.59 L299.68 230.48 L299.65 230.36 L299.62 230.24 L299.61 230.12 L299.60 230.00 L299.61 229.88 L299.62 229.76 L299.65 229.64 L299.68 229.52 L299.73 229.41 L299.79 229.30 L299.85 229.20 L299.93 229.10 L300.01 229.01 L300.10 228.93 L300.20 228.85 L300.30 228.79 L300.41 228.73 L300.52 228.68 L300.64 228.65 L300.76 228.62 L300.88 228.61 L301.00 228.60 L301.12 228.61 L301.24 228.62 L301.36 228.65 L301.48 228.68 L301.59 228.73 L301.70 228.79 L301.80 228.85 L301.90 228.93 L301.99 229.01 L302.07 229.10 L302.15 229.20 L302.21 229.30 L302.27 229.41 L302.32 229.52 L302.35 229.64 L302.38 229.76 L302.40 229.88Z" fill="none" stroke="#5a5a5a" stroke-width="0.45" stroke-linejoin="round"/><defs><radialGradient id="g15" gradientUnits="userSpaceOnUse" cx="301" cy="230" r="1" gradientTransform="translate(301 230) scale(10 10) translate(-301 -230)"><stop offset="0" stop-color="#555" stop-opacity="0.4"/><stop offset="0.65" stop-color="#555" stop-opacity="0.30000000000000004"/><stop offset="1" stop-color="#555" stop-opacity="0"/></radialGradient></defs><ellipse cx="301" cy="230" rx="10" ry="10" fill="url(#g15)"/><rect x="290.7" y="181.5" width="4.800000000000011" height="59.19999999999999" fill="#8a8a8a" fill-opacity="0.33"/><line x1="291.00" y1="185.38" x2="291.00" y2="240.7" stroke="#555" stroke-width="0.45" stroke-opacity="0.6"/><line x1="291.90" y1="182.02" x2="291.90" y2="240.7" stroke="#777" stroke-width="0.45" stroke-opacity="0.6"/><line x1="292.80" y1="183.58" x2="292.80" y2="240.7" stroke="#888" stroke-width="0.45" stroke-opacity="0.6"/><line x1="293.70" y1="183.46" x2="293.70" y2="240.7" stroke="#666" stroke-width="0.45" stroke-opacity="0.6"/><line x1="294.60" y1="184.23" x2="294.60" y2="240.7" stroke="#555" stroke-width="0.45" stroke-opacity="0.6"/><line x1="295.50" y1="184.22" x2="295.50" y2="240.7" stroke="#888" stroke-width="0.45" stroke-opacity="0.6"/><rect x="292" y="236.5" width="20" height="4.199999999999989" fill="#888" fill-opacity="0.51"/><line x1="292" y1="236.80" x2="311.84" y2="236.80" stroke="#555" stroke-width="0.45" stroke-opacity="0.85"/><line x1="292" y1="237.70" x2="309.92" y2="237.70" stroke="#555" stroke-width="0.45" stroke-opacity="0.85"/><line x1="292" y1="238.60" x2="310.78" y2="238.60" stroke="#777" stroke-width="0.45" stroke-opacity="0.85"/><line x1="292" y1="239.50" x2="309.01" y2="239.50" stroke="#555" stroke-width="0.45" stroke-opacity="0.85"/><line x1="292" y1="240.40" x2="311.35" y2="240.40" stroke="#555" stroke-width="0.45" stroke-opacity="0.85"/></g>
<rect x="290.7" y="152.3" width="93.90000000000003" height="89.19999999999999" fill="none" stroke="#626262" stroke-width="0.9"/>
<path d="M290.70 241.50v2.2 M290.70 241.50h-2.2 M297.77 241.50v1.2 M290.70 234.79h-1.2 M301.90 241.50v1.2 M290.70 230.86h-1.2 M304.83 241.50v1.2 M290.70 228.07h-1.2 M307.11 241.50v1.2 M290.70 225.91h-1.2 M308.97 241.50v1.2 M290.70 224.15h-1.2 M310.54 241.50v1.2 M290.70 222.65h-1.2 M311.90 241.50v1.2 M290.70 221.36h-1.2 M313.10 241.50v1.2 M290.70 220.22h-1.2 M314.18 241.50v2.2 M290.70 219.20h-2.2 M321.24 241.50v1.2 M290.70 212.49h-1.2 M325.38 241.50v1.2 M290.70 208.56h-1.2 M328.31 241.50v1.2 M290.70 205.77h-1.2 M330.58 241.50v1.2 M290.70 203.61h-1.2 M332.44 241.50v1.2 M290.70 201.85h-1.2 M334.01 241.50v1.2 M290.70 200.35h-1.2 M335.38 241.50v1.2 M290.70 199.06h-1.2 M336.58 241.50v1.2 M290.70 197.92h-1.2 M337.65 241.50v2.2 M290.70 196.90h-2.2 M344.72 241.50v1.2 M290.70 190.19h-1.2 M348.85 241.50v1.2 M290.70 186.26h-1.2 M351.78 241.50v1.2 M290.70 183.47h-1.2 M354.06 241.50v1.2 M290.70 181.31h-1.2 M355.92 241.50v1.2 M290.70 179.55h-1.2 M357.49 241.50v1.2 M290.70 178.05h-1.2 M358.85 241.50v1.2 M290.70 176.76h-1.2 M360.05 241.50v1.2 M290.70 175.62h-1.2 M361.12 241.50v2.2 M290.70 174.60h-2.2 M368.19 241.50v1.2 M290.70 167.89h-1.2 M372.33 241.50v1.2 M290.70 163.96h-1.2 M375.26 241.50v1.2 M290.70 161.17h-1.2 M377.53 241.50v1.2 M290.70 159.01h-1.2 M379.39 241.50v1.2 M290.70 157.25h-1.2 M380.96 241.50v1.2 M290.70 155.75h-1.2 M382.33 241.50v1.2 M290.70 154.46h-1.2 M383.53 241.50v1.2 M290.70 153.32h-1.2 M384.60 241.50v2.2 M290.70 152.30h-2.2" stroke="#777" stroke-width="0.6" fill="none"/>
<text x="288.50" y="252.50" font-size="4.6" fill="#555" stroke="#555" stroke-width="0.12">10<tspan dy="-2" font-size="3.4">0</tspan></text>
<text x="280.70" y="245.10" font-size="4.6" fill="#555" stroke="#555" stroke-width="0.12">10<tspan dy="-2" font-size="3.4">0</tspan></text>
<text x="311.98" y="252.50" font-size="4.6" fill="#555" stroke="#555" stroke-width="0.12">10<tspan dy="-2" font-size="3.4">1</tspan></text>
<text x="280.70" y="222.80" font-size="4.6" fill="#555" stroke="#555" stroke-width="0.12">10<tspan dy="-2" font-size="3.4">1</tspan></text>
<text x="335.45" y="252.50" font-size="4.6" fill="#555" stroke="#555" stroke-width="0.12">10<tspan dy="-2" font-size="3.4">2</tspan></text>
<text x="280.70" y="200.50" font-size="4.6" fill="#555" stroke="#555" stroke-width="0.12">10<tspan dy="-2" font-size="3.4">2</tspan></text>
<text x="358.93" y="252.50" font-size="4.6" fill="#555" stroke="#555" stroke-width="0.12">10<tspan dy="-2" font-size="3.4">3</tspan></text>
<text x="280.70" y="178.20" font-size="4.6" fill="#555" stroke="#555" stroke-width="0.12">10<tspan dy="-2" font-size="3.4">3</tspan></text>
<text x="292.9" y="157.5" font-size="4.2" fill="#222" stroke="#222" stroke-width="0.1" font-weight="normal" text-anchor="start" >27.64</text>
<text x="293.3" y="167.8" font-size="7.3" fill="#222" stroke="#222" stroke-width="0.16" font-weight="normal" text-anchor="start" >27.64</text>
<text x="369.1" y="157.7" font-size="4.2" fill="#222" stroke="#222" stroke-width="0.1" font-weight="normal" text-anchor="start" >1.13</text>
<text x="355.2" y="167.6" font-size="7.3" fill="#222" stroke="#222" stroke-width="0.16" font-weight="normal" text-anchor="start" >1.13</text>
<text x="359" y="233.4" font-size="7.3" fill="#222" stroke="#222" stroke-width="0.16" font-weight="normal" text-anchor="start" >1.36</text>
<text x="369" y="240" font-size="4.2" fill="#222" stroke="#222" stroke-width="0.1" font-weight="normal" text-anchor="start" >1.36</text>
<text x="306.9" y="265.1" font-size="8.6" fill="#222" stroke="#222" stroke-width="0.3" font-weight="normal" text-anchor="start" >FL3-Height</text>
<text transform="translate(277,216.0) rotate(-90)" x="0" y="0" font-size="8.6" fill="#222" stroke="#222" stroke-width="0.3">CD45-APC</text>
<line x1="447.6" y1="149.9" x2="447.6" y2="241.6" stroke="#8a8a8a" stroke-width="0.8"/>
<line x1="422" y1="209.5" x2="515.8" y2="209.5" stroke="#8a8a8a" stroke-width="0.8"/>
<defs><clipPath id="c18"><rect x="422" y="149.9" width="93.79999999999995" height="91.69999999999999"/></clipPath></defs><g clip-path="url(#c18)"><path d="M449.00 209.50 C449.25 207.42 449.63 205.00 450.30 203.00 C450.97 201.00 451.80 199.08 453.00 197.50 C454.20 195.92 455.80 194.53 457.50 193.50 C459.20 192.47 461.37 191.72 463.20 191.30 C465.03 190.88 466.78 190.92 468.50 191.00 C470.22 191.08 472.00 191.05 473.50 191.80 C475.00 192.55 476.55 193.80 477.50 195.50 C478.45 197.20 478.95 199.83 479.20 202.00 C479.45 204.17 479.28 206.40 479.00 208.50 C478.72 210.60 478.42 212.68 477.50 214.60 C476.58 216.52 475.12 218.38 473.50 220.00 C471.88 221.62 469.55 223.25 467.80 224.30 C466.05 225.35 464.52 225.83 463.00 226.30 C461.48 226.77 460.28 227.23 458.70 227.10 C457.12 226.97 455.02 226.45 453.50 225.50 C451.98 224.55 450.38 223.07 449.60 221.40 C448.82 219.73 448.90 217.48 448.80 215.50 C448.70 213.52 448.75 211.58 449.00 209.50Z" fill="#fafafa" fill-opacity="0.9"/>
<path d="M479.26 206.00 L479.14 207.37 L478.97 208.73 L478.77 210.09 L478.52 211.47 L478.17 212.84 L477.69 214.19 L477.04 215.48 L476.27 216.71 L475.39 217.89 L474.43 219.02 L473.38 220.11 L472.24 221.15 L471.02 222.12 L469.71 223.07 L468.32 223.98 L466.82 224.84 L465.21 225.56 L463.50 226.14 L461.69 226.71 L459.78 227.10 L457.87 227.00 L456.01 226.59 L454.22 225.90 L452.60 224.88 L451.17 223.61 L449.99 222.10 L449.21 220.29 L448.92 218.24 L448.83 216.27 L448.76 214.51 L448.76 212.87 L448.83 211.34 L448.95 209.90 L449.12 208.53 L449.32 207.24 L449.54 206.00 L449.79 204.80 L450.10 203.64 L450.47 202.51 L450.88 201.41 L451.34 200.33 L451.86 199.28 L452.46 198.27 L453.15 197.31 L453.91 196.41 L454.75 195.57 L455.65 194.80 L456.62 194.08 L457.63 193.42 L458.71 192.85 L459.84 192.35 L461.02 191.91 L462.24 191.54 L463.50 191.24 L464.81 191.04 L466.15 190.95 L467.53 190.96 L468.95 191.02 L470.45 191.09 L471.99 191.29 L473.46 191.78 L474.78 192.56 L475.97 193.53 L476.98 194.69 L477.76 196.02 L478.30 197.45 L478.69 198.92 L478.97 200.37 L479.18 201.80 L479.30 203.21 L479.32 204.62Z" fill="none" stroke="#5e5e5e" stroke-width="0.45" stroke-linejoin="round"/>
<path d="M477.72 206.00 L477.61 207.23 L477.47 208.46 L477.28 209.69 L477.04 210.93 L476.70 212.16 L476.25 213.36 L475.68 214.53 L474.99 215.64 L474.20 216.70 L473.33 217.72 L472.39 218.69 L471.36 219.61 L470.26 220.49 L469.08 221.33 L467.82 222.13 L466.47 222.86 L465.03 223.49 L463.50 224.02 L461.88 224.46 L460.20 224.70 L458.50 224.65 L456.85 224.28 L455.27 223.64 L453.83 222.75 L452.56 221.63 L451.53 220.26 L450.83 218.67 L450.46 216.94 L450.30 215.24 L450.23 213.66 L450.21 212.20 L450.24 210.82 L450.33 209.53 L450.46 208.30 L450.62 207.13 L450.81 206.00 L451.04 204.91 L451.32 203.85 L451.64 202.82 L452.01 201.82 L452.43 200.84 L452.91 199.88 L453.45 198.97 L454.08 198.09 L454.77 197.27 L455.53 196.51 L456.36 195.80 L457.23 195.14 L458.16 194.55 L459.14 194.03 L460.17 193.58 L461.24 193.19 L462.35 192.86 L463.50 192.61 L464.69 192.44 L465.90 192.37 L467.15 192.38 L468.44 192.44 L469.77 192.56 L471.12 192.81 L472.41 193.27 L473.60 193.96 L474.66 194.84 L475.56 195.88 L476.27 197.06 L476.79 198.33 L477.16 199.63 L477.43 200.93 L477.62 202.22 L477.73 203.49 L477.76 204.75Z" fill="none" stroke="#5e5e5e" stroke-width="0.45" stroke-linejoin="round"/>
<path d="M476.15 206.00 L476.06 207.10 L475.93 208.19 L475.76 209.29 L475.54 210.38 L475.24 211.47 L474.84 212.54 L474.32 213.58 L473.70 214.56 L473.00 215.50 L472.23 216.40 L471.39 217.26 L470.47 218.07 L469.49 218.84 L468.44 219.57 L467.32 220.27 L466.13 220.89 L464.85 221.43 L463.50 221.88 L462.08 222.25 L460.60 222.44 L459.11 222.38 L457.66 222.05 L456.28 221.48 L455.01 220.71 L453.89 219.72 L452.98 218.54 L452.35 217.15 L451.99 215.66 L451.82 214.18 L451.73 212.79 L451.69 211.51 L451.69 210.30 L451.75 209.15 L451.85 208.05 L451.97 207.01 L452.13 206.00 L452.32 205.02 L452.56 204.07 L452.84 203.14 L453.17 202.24 L453.55 201.36 L453.97 200.50 L454.47 199.67 L455.03 198.89 L455.65 198.15 L456.33 197.46 L457.07 196.82 L457.86 196.24 L458.70 195.71 L459.58 195.24 L460.51 194.84 L461.47 194.50 L462.47 194.21 L463.50 194.00 L464.56 193.86 L465.65 193.81 L466.76 193.84 L467.90 193.91 L469.08 194.04 L470.27 194.28 L471.41 194.71 L472.46 195.33 L473.39 196.11 L474.18 197.04 L474.81 198.08 L475.28 199.20 L475.62 200.35 L475.87 201.50 L476.05 202.64 L476.15 203.77 L476.19 204.89Z" fill="none" stroke="#5e5e5e" stroke-width="0.45" stroke-linejoin="round"/>
<path d="M475.21 206.00 L475.13 207.02 L475.01 208.03 L474.85 209.04 L474.64 210.06 L474.36 211.07 L473.98 212.05 L473.51 213.01 L472.93 213.92 L472.29 214.79 L471.57 215.62 L470.79 216.41 L469.94 217.15 L469.03 217.86 L468.06 218.53 L467.02 219.15 L465.92 219.72 L464.74 220.21 L463.50 220.61 L462.19 220.94 L460.84 221.10 L459.47 221.03 L458.14 220.73 L456.87 220.21 L455.71 219.49 L454.68 218.60 L453.84 217.51 L453.25 216.25 L452.91 214.89 L452.73 213.54 L452.63 212.28 L452.57 211.10 L452.56 209.98 L452.61 208.92 L452.68 207.91 L452.79 206.94 L452.93 206.00 L453.10 205.09 L453.32 204.20 L453.58 203.34 L453.88 202.50 L454.23 201.68 L454.63 200.88 L455.08 200.11 L455.60 199.37 L456.19 198.69 L456.82 198.04 L457.51 197.45 L458.25 196.90 L459.03 196.41 L459.85 195.98 L460.72 195.61 L461.61 195.29 L462.54 195.03 L463.50 194.84 L464.49 194.72 L465.50 194.68 L466.52 194.72 L467.58 194.79 L468.66 194.92 L469.76 195.16 L470.81 195.57 L471.77 196.14 L472.63 196.87 L473.36 197.73 L473.95 198.69 L474.38 199.72 L474.70 200.78 L474.94 201.84 L475.11 202.89 L475.21 203.94 L475.24 204.97Z" fill="none" stroke="#5e5e5e" stroke-width="0.45" stroke-linejoin="round"/>
<path d="M474.27 206.00 L474.20 206.94 L474.09 207.87 L473.94 208.80 L473.75 209.73 L473.48 210.66 L473.13 211.56 L472.69 212.44 L472.17 213.27 L471.57 214.07 L470.91 214.83 L470.19 215.55 L469.41 216.23 L468.57 216.88 L467.68 217.48 L466.73 218.05 L465.71 218.56 L464.64 218.99 L463.50 219.35 L462.31 219.63 L461.07 219.77 L459.83 219.70 L458.62 219.42 L457.46 218.95 L456.40 218.30 L455.46 217.48 L454.69 216.50 L454.14 215.36 L453.81 214.13 L453.64 212.91 L453.53 211.76 L453.46 210.68 L453.44 209.66 L453.46 208.69 L453.52 207.76 L453.61 206.86 L453.73 206.00 L453.89 205.16 L454.08 204.34 L454.32 203.54 L454.60 202.76 L454.92 202.00 L455.28 201.26 L455.71 200.54 L456.19 199.87 L456.73 199.23 L457.32 198.63 L457.95 198.08 L458.64 197.58 L459.36 197.12 L460.12 196.72 L460.92 196.38 L461.75 196.10 L462.61 195.86 L463.50 195.69 L464.41 195.59 L465.34 195.56 L466.29 195.60 L467.26 195.68 L468.25 195.81 L469.25 196.04 L470.21 196.42 L471.09 196.96 L471.87 197.63 L472.54 198.41 L473.08 199.29 L473.49 200.24 L473.78 201.20 L474.00 202.18 L474.16 203.14 L474.26 204.10 L474.29 205.06Z" fill="none" stroke="#5e5e5e" stroke-width="0.45" stroke-linejoin="round"/>
<path d="M473.33 206.00 L473.26 206.85 L473.16 207.70 L473.03 208.55 L472.85 209.40 L472.60 210.25 L472.28 211.07 L471.88 211.87 L471.40 212.63 L470.85 213.35 L470.25 214.04 L469.59 214.70 L468.88 215.32 L468.11 215.90 L467.30 216.44 L466.43 216.95 L465.51 217.40 L464.53 217.79 L463.50 218.10 L462.42 218.34 L461.30 218.46 L460.18 218.39 L459.09 218.13 L458.05 217.70 L457.08 217.11 L456.23 216.38 L455.53 215.50 L455.02 214.48 L454.71 213.37 L454.54 212.28 L454.42 211.24 L454.34 210.27 L454.31 209.34 L454.32 208.46 L454.37 207.61 L454.44 206.79 L454.55 206.00 L454.68 205.23 L454.86 204.48 L455.07 203.74 L455.32 203.02 L455.61 202.32 L455.95 201.64 L456.34 200.99 L456.78 200.36 L457.28 199.78 L457.82 199.23 L458.40 198.72 L459.03 198.26 L459.70 197.84 L460.40 197.48 L461.13 197.17 L461.90 196.91 L462.69 196.70 L463.50 196.55 L464.33 196.46 L465.19 196.44 L466.05 196.49 L466.93 196.57 L467.83 196.70 L468.74 196.93 L469.61 197.28 L470.40 197.77 L471.12 198.38 L471.72 199.10 L472.22 199.90 L472.59 200.75 L472.87 201.63 L473.07 202.52 L473.22 203.40 L473.31 204.27 L473.35 205.14Z" fill="none" stroke="#5e5e5e" stroke-width="0.45" stroke-linejoin="round"/>
<path d="M472.38 206.00 L472.33 206.77 L472.24 207.54 L472.11 208.31 L471.95 209.07 L471.73 209.84 L471.43 210.58 L471.07 211.30 L470.63 211.98 L470.14 212.64 L469.59 213.26 L469.00 213.85 L468.35 214.40 L467.66 214.92 L466.92 215.40 L466.14 215.85 L465.31 216.25 L464.43 216.59 L463.50 216.86 L462.53 217.07 L461.53 217.16 L460.53 217.09 L459.55 216.85 L458.62 216.47 L457.76 215.94 L457.00 215.29 L456.36 214.51 L455.90 213.60 L455.61 212.62 L455.43 211.65 L455.31 210.73 L455.23 209.86 L455.19 209.02 L455.19 208.23 L455.22 207.46 L455.28 206.72 L455.37 206.00 L455.48 205.30 L455.64 204.61 L455.83 203.94 L456.06 203.29 L456.32 202.65 L456.63 202.03 L456.98 201.43 L457.38 200.87 L457.83 200.33 L458.33 199.83 L458.86 199.37 L459.43 198.95 L460.04 198.57 L460.68 198.24 L461.35 197.96 L462.04 197.73 L462.76 197.55 L463.50 197.41 L464.26 197.34 L465.03 197.33 L465.81 197.38 L466.61 197.46 L467.42 197.60 L468.23 197.81 L469.01 198.13 L469.72 198.58 L470.36 199.14 L470.91 199.78 L471.36 200.50 L471.70 201.27 L471.95 202.06 L472.14 202.86 L472.28 203.65 L472.36 204.44 L472.40 205.22Z" fill="none" stroke="#5e5e5e" stroke-width="0.45" stroke-linejoin="round"/>
<path d="M471.44 206.00 L471.39 206.69 L471.31 207.38 L471.20 208.06 L471.05 208.75 L470.85 209.43 L470.58 210.09 L470.25 210.73 L469.86 211.34 L469.42 211.92 L468.93 212.48 L468.40 213.00 L467.82 213.49 L467.21 213.95 L466.55 214.37 L465.85 214.76 L465.11 215.11 L464.32 215.40 L463.50 215.63 L462.64 215.80 L461.76 215.87 L460.87 215.81 L460.01 215.59 L459.19 215.25 L458.43 214.79 L457.75 214.21 L457.18 213.53 L456.76 212.74 L456.49 211.88 L456.32 211.03 L456.20 210.21 L456.12 209.44 L456.07 208.70 L456.06 207.99 L456.08 207.31 L456.12 206.65 L456.19 206.00 L456.30 205.37 L456.43 204.75 L456.60 204.15 L456.80 203.56 L457.04 202.99 L457.31 202.43 L457.63 201.89 L457.99 201.38 L458.40 200.90 L458.84 200.45 L459.32 200.03 L459.84 199.65 L460.38 199.31 L460.96 199.02 L461.56 198.77 L462.19 198.56 L462.84 198.40 L463.50 198.29 L464.18 198.23 L464.87 198.22 L465.57 198.27 L466.28 198.36 L467.00 198.49 L467.72 198.69 L468.41 198.99 L469.05 199.39 L469.61 199.89 L470.10 200.46 L470.50 201.10 L470.80 201.78 L471.03 202.49 L471.21 203.19 L471.34 203.90 L471.42 204.60 L471.45 205.30Z" fill="none" stroke="#5e5e5e" stroke-width="0.45" stroke-linejoin="round"/>
<path d="M470.49 206.00 L470.45 206.61 L470.38 207.21 L470.28 207.82 L470.14 208.42 L469.97 209.02 L469.73 209.60 L469.44 210.16 L469.10 210.70 L468.71 211.21 L468.28 211.69 L467.81 212.15 L467.30 212.58 L466.75 212.98 L466.17 213.34 L465.56 213.68 L464.91 213.98 L464.22 214.22 L463.50 214.42 L462.75 214.56 L461.98 214.61 L461.21 214.54 L460.46 214.35 L459.74 214.05 L459.08 213.65 L458.49 213.15 L457.99 212.56 L457.62 211.88 L457.37 211.14 L457.21 210.40 L457.09 209.70 L457.00 209.03 L456.95 208.38 L456.93 207.76 L456.94 207.16 L456.97 206.57 L457.03 206.00 L457.11 205.44 L457.23 204.89 L457.38 204.36 L457.55 203.84 L457.76 203.32 L458.01 202.83 L458.29 202.35 L458.61 201.90 L458.97 201.47 L459.36 201.07 L459.79 200.70 L460.25 200.36 L460.73 200.06 L461.24 199.80 L461.78 199.58 L462.34 199.40 L462.91 199.26 L463.50 199.17 L464.10 199.12 L464.71 199.12 L465.33 199.18 L465.95 199.26 L466.59 199.38 L467.21 199.57 L467.82 199.84 L468.37 200.20 L468.86 200.64 L469.29 201.14 L469.64 201.70 L469.91 202.30 L470.12 202.91 L470.28 203.53 L470.39 204.15 L470.47 204.77 L470.50 205.39Z" fill="none" stroke="#5e5e5e" stroke-width="0.45" stroke-linejoin="round"/>
<path d="M469.55 206.00 L469.51 206.53 L469.45 207.05 L469.36 207.57 L469.24 208.09 L469.09 208.60 L468.88 209.11 L468.63 209.59 L468.33 210.05 L467.99 210.49 L467.62 210.91 L467.21 211.30 L466.77 211.67 L466.30 212.01 L465.80 212.32 L465.27 212.61 L464.71 212.85 L464.12 213.05 L463.50 213.21 L462.86 213.32 L462.20 213.36 L461.54 213.30 L460.90 213.13 L460.29 212.87 L459.73 212.53 L459.22 212.11 L458.79 211.61 L458.47 211.03 L458.24 210.41 L458.09 209.79 L457.98 209.19 L457.89 208.62 L457.83 208.06 L457.81 207.53 L457.81 207.00 L457.83 206.50 L457.87 206.00 L457.94 205.51 L458.04 205.04 L458.17 204.57 L458.32 204.11 L458.50 203.67 L458.71 203.24 L458.96 202.82 L459.23 202.42 L459.55 202.05 L459.89 201.70 L460.26 201.38 L460.66 201.09 L461.09 200.83 L461.53 200.60 L462.00 200.41 L462.49 200.26 L462.99 200.14 L463.50 200.06 L464.02 200.02 L464.55 200.03 L465.09 200.08 L465.62 200.16 L466.17 200.28 L466.71 200.45 L467.22 200.69 L467.70 201.00 L468.12 201.38 L468.49 201.81 L468.79 202.30 L469.03 202.81 L469.21 203.34 L469.35 203.87 L469.45 204.40 L469.52 204.94 L469.55 205.47Z" fill="none" stroke="#5e5e5e" stroke-width="0.45" stroke-linejoin="round"/>
<path d="M468.60 206.00 L468.57 206.44 L468.52 206.88 L468.44 207.32 L468.34 207.76 L468.20 208.19 L468.03 208.62 L467.82 209.02 L467.57 209.41 L467.28 209.78 L466.97 210.13 L466.62 210.46 L466.25 210.76 L465.85 211.05 L465.43 211.30 L464.98 211.54 L464.51 211.74 L464.02 211.90 L463.50 212.02 L462.97 212.11 L462.42 212.13 L461.87 212.07 L461.34 211.93 L460.84 211.71 L460.36 211.43 L459.94 211.08 L459.58 210.67 L459.30 210.20 L459.10 209.69 L458.97 209.18 L458.86 208.68 L458.78 208.20 L458.72 207.74 L458.69 207.29 L458.68 206.85 L458.69 206.42 L458.73 206.00 L458.78 205.59 L458.86 205.18 L458.97 204.79 L459.09 204.40 L459.25 204.02 L459.43 203.65 L459.63 203.29 L459.87 202.96 L460.14 202.64 L460.43 202.34 L460.75 202.07 L461.09 201.82 L461.45 201.60 L461.83 201.41 L462.23 201.25 L462.64 201.12 L463.06 201.02 L463.50 200.96 L463.94 200.93 L464.39 200.95 L464.84 201.00 L465.29 201.07 L465.75 201.18 L466.20 201.32 L466.63 201.53 L467.02 201.80 L467.38 202.12 L467.69 202.49 L467.94 202.89 L468.14 203.32 L468.30 203.76 L468.42 204.21 L468.51 204.66 L468.57 205.11 L468.60 205.55Z" fill="none" stroke="#5e5e5e" stroke-width="0.45" stroke-linejoin="round"/>
<path d="M467.65 206.00 L467.62 206.36 L467.58 206.72 L467.52 207.08 L467.43 207.43 L467.32 207.78 L467.18 208.13 L467.01 208.46 L466.80 208.77 L466.57 209.07 L466.31 209.35 L466.03 209.62 L465.73 209.86 L465.41 210.09 L465.06 210.29 L464.70 210.48 L464.32 210.63 L463.92 210.75 L463.50 210.85 L463.07 210.91 L462.63 210.92 L462.20 210.87 L461.77 210.75 L461.37 210.58 L460.99 210.35 L460.65 210.07 L460.36 209.75 L460.12 209.38 L459.96 208.97 L459.83 208.57 L459.74 208.17 L459.66 207.79 L459.61 207.42 L459.58 207.05 L459.56 206.69 L459.57 206.34 L459.59 206.00 L459.63 205.66 L459.70 205.33 L459.78 205.00 L459.88 204.68 L460.01 204.37 L460.15 204.07 L460.32 203.78 L460.52 203.50 L460.74 203.24 L460.98 202.99 L461.24 202.77 L461.52 202.57 L461.81 202.38 L462.13 202.23 L462.46 202.10 L462.79 202.00 L463.14 201.92 L463.50 201.87 L463.86 201.85 L464.23 201.87 L464.59 201.91 L464.96 201.98 L465.33 202.08 L465.69 202.20 L466.04 202.38 L466.36 202.60 L466.64 202.86 L466.89 203.16 L467.10 203.48 L467.26 203.83 L467.39 204.18 L467.50 204.55 L467.57 204.91 L467.62 205.27 L467.65 205.64Z" fill="none" stroke="#5e5e5e" stroke-width="0.45" stroke-linejoin="round"/>
<path d="M466.69 206.00 L466.68 206.28 L466.64 206.55 L466.60 206.83 L466.53 207.10 L466.44 207.37 L466.33 207.63 L466.20 207.89 L466.04 208.13 L465.86 208.36 L465.66 208.58 L465.44 208.78 L465.21 208.96 L464.96 209.13 L464.70 209.29 L464.42 209.42 L464.12 209.54 L463.82 209.62 L463.50 209.69 L463.17 209.73 L462.84 209.73 L462.51 209.69 L462.19 209.60 L461.88 209.46 L461.60 209.29 L461.34 209.08 L461.12 208.84 L460.94 208.56 L460.80 208.27 L460.70 207.96 L460.61 207.67 L460.55 207.38 L460.50 207.09 L460.47 206.81 L460.45 206.54 L460.45 206.27 L460.47 206.00 L460.50 205.74 L460.54 205.48 L460.61 205.22 L460.68 204.98 L460.78 204.73 L460.89 204.50 L461.03 204.27 L461.18 204.05 L461.35 203.85 L461.53 203.66 L461.74 203.48 L461.96 203.33 L462.19 203.19 L462.43 203.07 L462.69 202.97 L462.95 202.89 L463.22 202.83 L463.50 202.80 L463.78 202.79 L464.06 202.80 L464.35 202.84 L464.63 202.90 L464.91 202.98 L465.19 203.08 L465.45 203.22 L465.69 203.39 L465.91 203.59 L466.10 203.82 L466.26 204.07 L466.39 204.33 L466.49 204.61 L466.57 204.88 L466.63 205.16 L466.67 205.44 L466.69 205.72Z" fill="none" stroke="#5e5e5e" stroke-width="0.45" stroke-linejoin="round"/>
<path d="M465.74 206.00 L465.73 206.19 L465.71 206.39 L465.67 206.58 L465.62 206.77 L465.56 206.96 L465.48 207.14 L465.39 207.32 L465.28 207.49 L465.15 207.65 L465.01 207.80 L464.86 207.94 L464.69 208.07 L464.52 208.18 L464.33 208.29 L464.14 208.38 L463.93 208.45 L463.72 208.51 L463.50 208.55 L463.28 208.57 L463.05 208.57 L462.82 208.53 L462.60 208.47 L462.39 208.38 L462.19 208.26 L462.02 208.12 L461.86 207.96 L461.73 207.77 L461.63 207.57 L461.55 207.36 L461.49 207.16 L461.43 206.96 L461.39 206.77 L461.37 206.57 L461.35 206.38 L461.35 206.19 L461.35 206.00 L461.37 205.81 L461.40 205.63 L461.45 205.45 L461.50 205.27 L461.57 205.10 L461.65 204.93 L461.74 204.77 L461.85 204.62 L461.97 204.47 L462.10 204.34 L462.25 204.21 L462.40 204.10 L462.57 204.00 L462.74 203.92 L462.92 203.85 L463.11 203.79 L463.30 203.76 L463.50 203.73 L463.70 203.73 L463.90 203.74 L464.10 203.77 L464.29 203.82 L464.49 203.88 L464.68 203.96 L464.86 204.06 L465.03 204.18 L465.18 204.32 L465.31 204.48 L465.42 204.65 L465.51 204.84 L465.59 205.03 L465.65 205.22 L465.69 205.41 L465.72 205.61 L465.74 205.80Z" fill="none" stroke="#5e5e5e" stroke-width="0.45" stroke-linejoin="round"/>
<path d="M464.78 206.00 L464.78 206.11 L464.76 206.22 L464.74 206.33 L464.71 206.44 L464.68 206.55 L464.63 206.65 L464.58 206.75 L464.51 206.85 L464.44 206.94 L464.36 207.03 L464.27 207.11 L464.18 207.18 L464.08 207.24 L463.97 207.30 L463.86 207.35 L463.74 207.39 L463.62 207.42 L463.50 207.43 L463.37 207.44 L463.25 207.44 L463.12 207.41 L463.00 207.38 L462.88 207.33 L462.77 207.26 L462.67 207.18 L462.58 207.09 L462.51 206.99 L462.45 206.88 L462.40 206.77 L462.35 206.66 L462.32 206.55 L462.29 206.44 L462.27 206.33 L462.26 206.22 L462.26 206.11 L462.26 206.00 L462.27 205.89 L462.28 205.79 L462.31 205.68 L462.34 205.58 L462.38 205.48 L462.42 205.38 L462.48 205.29 L462.54 205.20 L462.61 205.11 L462.69 205.03 L462.77 204.96 L462.86 204.90 L462.96 204.84 L463.06 204.79 L463.17 204.75 L463.27 204.72 L463.39 204.70 L463.50 204.69 L463.61 204.69 L463.73 204.70 L463.84 204.72 L463.96 204.75 L464.07 204.79 L464.17 204.83 L464.27 204.89 L464.37 204.97 L464.45 205.05 L464.53 205.14 L464.59 205.23 L464.65 205.34 L464.69 205.45 L464.72 205.55 L464.75 205.66 L464.77 205.78 L464.78 205.89Z" fill="none" stroke="#5e5e5e" stroke-width="0.45" stroke-linejoin="round"/><defs><radialGradient id="g17" gradientUnits="userSpaceOnUse" cx="463.5" cy="206" r="1" gradientTransform="translate(463.5 206) scale(11 13) translate(-463.5 -206)"><stop offset="0" stop-color="#fff" stop-opacity="0.3"/><stop offset="0.1" stop-color="#fff" stop-opacity="0.0"/><stop offset="0.18" stop-color="#555" stop-opacity="0.45"/><stop offset="0.65" stop-color="#555" stop-opacity="0.3375"/><stop offset="1" stop-color="#555" stop-opacity="0"/></radialGradient></defs><ellipse cx="463.5" cy="206" rx="11" ry="13" fill="url(#g17)"/><ellipse cx="463.3" cy="206" rx="0.8" ry="1.1" fill="#fff" fill-opacity="0.6"/></g>
<rect x="422" y="149.9" width="93.79999999999995" height="91.69999999999999" fill="none" stroke="#626262" stroke-width="0.9"/>
<path d="M422.00 241.60v2.2 M422.00 241.60h-2.2 M429.06 241.60v1.2 M422.00 234.70h-1.2 M433.19 241.60v1.2 M422.00 230.66h-1.2 M436.12 241.60v1.2 M422.00 227.80h-1.2 M438.39 241.60v1.2 M422.00 225.58h-1.2 M440.25 241.60v1.2 M422.00 223.76h-1.2 M441.82 241.60v1.2 M422.00 222.23h-1.2 M443.18 241.60v1.2 M422.00 220.90h-1.2 M444.38 241.60v1.2 M422.00 219.72h-1.2 M445.45 241.60v2.2 M422.00 218.68h-2.2 M452.51 241.60v1.2 M422.00 211.77h-1.2 M456.64 241.60v1.2 M422.00 207.74h-1.2 M459.57 241.60v1.2 M422.00 204.87h-1.2 M461.84 241.60v1.2 M422.00 202.65h-1.2 M463.70 241.60v1.2 M422.00 200.84h-1.2 M465.27 241.60v1.2 M422.00 199.30h-1.2 M466.63 241.60v1.2 M422.00 197.97h-1.2 M467.83 241.60v1.2 M422.00 196.80h-1.2 M468.90 241.60v2.2 M422.00 195.75h-2.2 M475.96 241.60v1.2 M422.00 188.85h-1.2 M480.09 241.60v1.2 M422.00 184.81h-1.2 M483.02 241.60v1.2 M422.00 181.95h-1.2 M485.29 241.60v1.2 M422.00 179.73h-1.2 M487.15 241.60v1.2 M422.00 177.91h-1.2 M488.72 241.60v1.2 M422.00 176.38h-1.2 M490.08 241.60v1.2 M422.00 175.05h-1.2 M491.28 241.60v1.2 M422.00 173.87h-1.2 M492.35 241.60v2.2 M422.00 172.82h-2.2 M499.41 241.60v1.2 M422.00 165.92h-1.2 M503.54 241.60v1.2 M422.00 161.89h-1.2 M506.47 241.60v1.2 M422.00 159.02h-1.2 M508.74 241.60v1.2 M422.00 156.80h-1.2 M510.60 241.60v1.2 M422.00 154.99h-1.2 M512.17 241.60v1.2 M422.00 153.45h-1.2 M513.53 241.60v1.2 M422.00 152.12h-1.2 M514.73 241.60v1.2 M422.00 150.95h-1.2 M515.80 241.60v2.2 M422.00 149.90h-2.2" stroke="#777" stroke-width="0.6" fill="none"/>
<text x="419.80" y="252.60" font-size="4.6" fill="#555" stroke="#555" stroke-width="0.12">10<tspan dy="-2" font-size="3.4">0</tspan></text>
<text x="412.00" y="245.20" font-size="4.6" fill="#555" stroke="#555" stroke-width="0.12">10<tspan dy="-2" font-size="3.4">0</tspan></text>
<text x="443.25" y="252.60" font-size="4.6" fill="#555" stroke="#555" stroke-width="0.12">10<tspan dy="-2" font-size="3.4">1</tspan></text>
<text x="412.00" y="222.28" font-size="4.6" fill="#555" stroke="#555" stroke-width="0.12">10<tspan dy="-2" font-size="3.4">1</tspan></text>
<text x="466.70" y="252.60" font-size="4.6" fill="#555" stroke="#555" stroke-width="0.12">10<tspan dy="-2" font-size="3.4">2</tspan></text>
<text x="412.00" y="199.35" font-size="4.6" fill="#555" stroke="#555" stroke-width="0.12">10<tspan dy="-2" font-size="3.4">2</tspan></text>
<text x="490.15" y="252.60" font-size="4.6" fill="#555" stroke="#555" stroke-width="0.12">10<tspan dy="-2" font-size="3.4">3</tspan></text>
<text x="412.00" y="176.42" font-size="4.6" fill="#555" stroke="#555" stroke-width="0.12">10<tspan dy="-2" font-size="3.4">3</tspan></text>
<text x="424" y="155.9" font-size="4.2" fill="#222" stroke="#222" stroke-width="0.1" font-weight="normal" text-anchor="start" >0.05</text>
<text x="428.7" y="168.1" font-size="7.3" fill="#222" stroke="#222" stroke-width="0.16" font-weight="normal" text-anchor="start" >0.05</text>
<text x="498.7" y="155.9" font-size="4.2" fill="#222" stroke="#222" stroke-width="0.1" font-weight="normal" text-anchor="start" >68.83</text>
<text x="480.9" y="167.9" font-size="7.3" fill="#222" stroke="#222" stroke-width="0.16" font-weight="normal" text-anchor="start" >68.83</text>
<text x="429.2" y="233.2" font-size="7.3" fill="#222" stroke="#222" stroke-width="0.16" font-weight="normal" text-anchor="start" >1.30</text>
<text x="423.8" y="239.5" font-size="4.2" fill="#222" stroke="#222" stroke-width="0.1" font-weight="normal" text-anchor="start" >1.30</text>
<text x="485.5" y="233.2" font-size="7.3" fill="#222" stroke="#222" stroke-width="0.16" font-weight="normal" text-anchor="start" >29.81</text>
<text x="499.3" y="239.5" font-size="4.2" fill="#222" stroke="#222" stroke-width="0.1" font-weight="normal" text-anchor="start" >29.81</text>
<text x="446.3" y="262.3" font-size="8.8" fill="#222" stroke="#222" stroke-width="0.3" font-weight="normal" text-anchor="start" >IL-3R&#945;-PE</text>
<text transform="translate(409,216.0) rotate(-90)" x="0" y="0" font-size="8.6" fill="#222" stroke="#222" stroke-width="0.3">CD34-FITC</text>
<line x1="58.7" y1="297.3" x2="58.7" y2="388.9" stroke="#8a8a8a" stroke-width="0.8"/>
<line x1="35" y1="366" x2="128.7" y2="366" stroke="#8a8a8a" stroke-width="0.8"/>
<defs><clipPath id="c20"><rect x="35" y="297.3" width="93.69999999999999" height="91.59999999999997"/></clipPath></defs><g clip-path="url(#c20)"><path d="M31.00 364.00 C31.83 359.28 33.63 362.17 35.00 361.70 C36.37 361.23 37.70 361.45 39.20 361.20 C40.70 360.95 42.32 360.45 44.00 360.20 C45.68 359.95 47.72 359.70 49.30 359.70 C50.88 359.70 52.32 359.95 53.50 360.20 C54.68 360.45 55.40 360.57 56.40 361.20 C57.40 361.83 58.65 362.90 59.50 364.00 C60.35 365.10 60.98 366.55 61.50 367.80 C62.02 369.05 62.42 370.23 62.60 371.50 C62.78 372.77 62.78 373.98 62.60 375.40 C62.42 376.82 61.93 378.63 61.50 380.00 C61.07 381.37 59.92 382.52 60.00 383.60 C60.08 384.68 61.17 385.10 62.00 386.50 C62.83 387.90 65.67 390.42 65.00 392.00 C64.33 393.58 60.83 395.17 58.00 396.00 C55.17 396.83 51.67 397.00 48.00 397.00 C44.33 397.00 39.00 397.17 36.00 396.00 C33.00 394.83 30.83 395.33 30.00 390.00 C29.17 384.67 30.17 368.72 31.00 364.00Z" fill="#fff" fill-opacity="0.9"/>
<path d="M62.71 372.50 L62.73 373.75 L62.65 374.99 L62.47 376.24 L62.20 377.49 L61.88 378.74 L61.50 380.00 L60.95 381.22 L60.30 382.40 L60.14 384.14 L64.95 392.10 L63.33 393.68 L61.35 394.76 L59.27 395.59 L57.14 396.23 L54.97 396.63 L52.79 396.85 L50.64 396.96 L48.50 397.00 L46.36 397.01 L44.18 397.00 L41.95 396.95 L39.66 396.78 L37.35 396.41 L35.11 395.69 L32.81 394.91 L31.04 393.31 L30.16 390.84 L29.81 388.18 L29.71 385.66 L29.69 383.36 L29.72 381.26 L29.77 379.32 L29.84 377.50 L29.93 375.77 L30.02 374.12 L30.13 372.50 L30.24 370.90 L30.37 369.30 L30.53 367.68 L30.71 366.03 L30.95 364.32 L31.35 362.60 L32.47 361.27 L35.47 361.57 L37.35 361.35 L39.04 361.22 L40.42 360.96 L41.67 360.67 L42.86 360.40 L44.02 360.20 L45.16 360.04 L46.28 359.90 L47.39 359.79 L48.50 359.72 L49.62 359.70 L50.75 359.77 L51.88 359.90 L53.01 360.10 L54.17 360.34 L55.33 360.66 L56.41 361.21 L57.39 361.91 L58.30 362.70 L59.14 363.57 L59.88 364.53 L60.49 365.58 L61.01 366.66 L61.49 367.77 L61.93 368.90 L62.30 370.07 L62.56 371.27Z" fill="none" stroke="#5a5a5a" stroke-width="0.45" stroke-linejoin="round"/>
<path d="M61.76 372.50 L61.78 373.66 L61.75 374.84 L62.02 376.12 L62.17 377.48 L62.18 378.88 L62.04 380.32 L61.73 381.77 L61.26 383.21 L60.63 384.63 L59.83 386.01 L58.88 387.33 L57.79 388.59 L56.55 389.77 L55.18 390.85 L53.68 391.84 L52.07 392.72 L50.33 393.43 L48.50 393.59 L46.66 393.57 L44.83 393.33 L43.04 392.88 L41.32 392.21 L39.70 391.37 L38.19 390.36 L36.80 389.21 L35.55 387.93 L34.45 386.55 L33.52 385.07 L32.75 383.53 L32.16 381.94 L31.74 380.32 L31.48 378.70 L31.38 377.09 L31.40 375.51 L31.49 373.99 L31.64 372.50 L31.97 371.05 L32.43 369.67 L32.99 368.34 L33.65 367.10 L34.40 365.93 L35.23 364.84 L36.14 363.85 L37.12 362.95 L38.16 362.16 L39.26 361.48 L40.39 360.92 L41.56 360.49 L42.75 360.18 L43.95 360.00 L45.13 359.92 L46.27 359.83 L47.39 359.77 L48.50 359.76 L49.61 359.83 L50.71 359.97 L51.80 360.19 L52.87 360.50 L53.91 360.90 L54.91 361.39 L55.88 361.96 L56.79 362.62 L57.64 363.36 L58.43 364.16 L59.15 365.04 L59.79 365.98 L60.34 366.98 L60.80 368.02 L61.17 369.10 L61.45 370.22 L61.65 371.35Z" fill="none" stroke="#5a5a5a" stroke-width="0.45" stroke-linejoin="round"/>
<path d="M60.70 372.50 L60.71 373.57 L60.65 374.64 L60.79 375.79 L60.83 376.99 L60.75 378.21 L60.53 379.45 L60.19 380.69 L59.71 381.91 L59.10 383.10 L58.36 384.25 L57.50 385.35 L56.51 386.38 L55.42 387.34 L54.22 388.21 L52.92 388.99 L51.53 389.67 L50.05 390.20 L48.50 390.32 L46.94 390.29 L45.40 390.09 L43.89 389.71 L42.44 389.16 L41.06 388.45 L39.77 387.62 L38.59 386.66 L37.51 385.59 L36.56 384.44 L35.74 383.21 L35.06 381.91 L34.51 380.58 L34.11 379.21 L33.84 377.84 L33.70 376.47 L33.67 375.12 L33.69 373.80 L33.79 372.50 L34.03 371.23 L34.38 370.01 L34.82 368.83 L35.35 367.71 L35.97 366.66 L36.66 365.66 L37.42 364.74 L38.25 363.90 L39.14 363.14 L40.09 362.48 L41.09 361.92 L42.12 361.46 L43.19 361.10 L44.27 360.87 L45.34 360.72 L46.40 360.59 L47.45 360.51 L48.50 360.49 L49.55 360.55 L50.58 360.69 L51.61 360.91 L52.61 361.22 L53.58 361.61 L54.51 362.08 L55.40 362.64 L56.24 363.27 L57.02 363.98 L57.74 364.74 L58.39 365.57 L58.97 366.46 L59.46 367.39 L59.87 368.36 L60.20 369.36 L60.45 370.39 L60.62 371.44Z" fill="none" stroke="#5a5a5a" stroke-width="0.45" stroke-linejoin="round"/>
<path d="M59.74 372.50 L59.73 373.48 L59.67 374.47 L59.73 375.51 L59.70 376.58 L59.56 377.66 L59.32 378.75 L58.97 379.83 L58.50 380.89 L57.92 381.92 L57.23 382.91 L56.44 383.84 L55.55 384.72 L54.57 385.52 L53.50 386.24 L52.35 386.88 L51.13 387.42 L49.84 387.84 L48.50 387.94 L47.15 387.91 L45.81 387.73 L44.51 387.40 L43.25 386.93 L42.05 386.32 L40.93 385.61 L39.90 384.79 L38.95 383.88 L38.11 382.89 L37.38 381.83 L36.77 380.72 L36.27 379.56 L35.89 378.38 L35.62 377.19 L35.46 375.99 L35.39 374.81 L35.39 373.65 L35.45 372.50 L35.63 371.37 L35.91 370.28 L36.27 369.22 L36.71 368.21 L37.23 367.24 L37.82 366.33 L38.47 365.48 L39.20 364.69 L39.98 363.98 L40.82 363.35 L41.70 362.79 L42.63 362.33 L43.59 361.97 L44.57 361.71 L45.56 361.53 L46.54 361.38 L47.52 361.29 L48.50 361.27 L49.48 361.32 L50.45 361.45 L51.40 361.66 L52.34 361.96 L53.24 362.33 L54.11 362.79 L54.93 363.32 L55.70 363.92 L56.42 364.58 L57.08 365.30 L57.67 366.08 L58.19 366.91 L58.64 367.77 L59.01 368.68 L59.30 369.61 L59.52 370.56 L59.67 371.52Z" fill="none" stroke="#5a5a5a" stroke-width="0.45" stroke-linejoin="round"/>
<path d="M58.82 372.50 L58.81 373.40 L58.74 374.31 L58.75 375.25 L58.67 376.20 L58.51 377.17 L58.25 378.13 L57.90 379.08 L57.45 380.01 L56.91 380.91 L56.28 381.77 L55.55 382.58 L54.75 383.32 L53.87 384.01 L52.91 384.61 L51.89 385.14 L50.81 385.59 L49.67 385.92 L48.50 386.00 L47.32 385.97 L46.15 385.81 L45.01 385.52 L43.91 385.11 L42.86 384.59 L41.88 383.97 L40.96 383.26 L40.13 382.47 L39.38 381.62 L38.73 380.70 L38.17 379.73 L37.72 378.73 L37.36 377.70 L37.10 376.65 L36.93 375.60 L36.85 374.55 L36.82 373.52 L36.86 372.50 L37.00 371.49 L37.22 370.51 L37.52 369.56 L37.90 368.64 L38.34 367.76 L38.85 366.93 L39.42 366.14 L40.05 365.41 L40.75 364.75 L41.49 364.15 L42.28 363.62 L43.11 363.17 L43.98 362.81 L44.87 362.53 L45.78 362.34 L46.68 362.18 L47.59 362.09 L48.50 362.06 L49.41 362.11 L50.31 362.24 L51.20 362.44 L52.06 362.72 L52.90 363.07 L53.69 363.50 L54.45 364.00 L55.16 364.56 L55.82 365.18 L56.42 365.86 L56.96 366.58 L57.43 367.34 L57.84 368.15 L58.17 368.98 L58.44 369.84 L58.63 370.71 L58.76 371.60Z" fill="none" stroke="#5a5a5a" stroke-width="0.45" stroke-linejoin="round"/>
<path d="M57.84 372.50 L57.82 373.32 L57.75 374.13 L57.72 374.97 L57.62 375.82 L57.44 376.67 L57.18 377.51 L56.84 378.34 L56.42 379.15 L55.92 379.92 L55.35 380.66 L54.70 381.35 L53.98 381.98 L53.19 382.56 L52.35 383.07 L51.45 383.50 L50.50 383.86 L49.52 384.12 L48.50 384.19 L47.48 384.16 L46.47 384.02 L45.48 383.77 L44.53 383.42 L43.62 382.97 L42.76 382.44 L41.97 381.83 L41.24 381.16 L40.58 380.42 L40.00 379.63 L39.51 378.80 L39.09 377.93 L38.77 377.04 L38.52 376.13 L38.35 375.22 L38.26 374.31 L38.22 373.40 L38.24 372.50 L38.34 371.61 L38.52 370.74 L38.77 369.89 L39.08 369.07 L39.45 368.28 L39.89 367.53 L40.38 366.82 L40.93 366.15 L41.54 365.54 L42.19 364.98 L42.89 364.49 L43.63 364.07 L44.40 363.71 L45.20 363.44 L46.02 363.24 L46.84 363.09 L47.67 362.99 L48.50 362.96 L49.33 363.01 L50.15 363.12 L50.96 363.31 L51.75 363.57 L52.51 363.90 L53.24 364.30 L53.92 364.76 L54.56 365.28 L55.15 365.85 L55.69 366.46 L56.18 367.12 L56.60 367.82 L56.97 368.55 L57.27 369.31 L57.50 370.09 L57.68 370.88 L57.79 371.69Z" fill="none" stroke="#5a5a5a" stroke-width="0.45" stroke-linejoin="round"/>
<path d="M56.95 372.50 L56.93 373.24 L56.86 373.97 L56.81 374.73 L56.69 375.48 L56.51 376.24 L56.26 376.98 L55.94 377.71 L55.55 378.42 L55.09 379.09 L54.57 379.73 L53.98 380.33 L53.34 380.88 L52.63 381.37 L51.88 381.80 L51.09 382.16 L50.26 382.46 L49.39 382.67 L48.50 382.72 L47.61 382.69 L46.72 382.57 L45.86 382.35 L45.03 382.05 L44.23 381.66 L43.48 381.20 L42.78 380.67 L42.14 380.08 L41.56 379.44 L41.04 378.76 L40.60 378.03 L40.23 377.28 L39.92 376.50 L39.69 375.71 L39.53 374.90 L39.43 374.10 L39.39 373.30 L39.39 372.50 L39.48 371.71 L39.62 370.93 L39.83 370.18 L40.09 369.44 L40.41 368.73 L40.79 368.05 L41.22 367.40 L41.70 366.80 L42.24 366.24 L42.81 365.72 L43.44 365.27 L44.10 364.87 L44.79 364.54 L45.51 364.28 L46.24 364.08 L46.99 363.93 L47.74 363.84 L48.50 363.81 L49.26 363.85 L50.01 363.95 L50.74 364.13 L51.46 364.37 L52.15 364.67 L52.81 365.04 L53.43 365.46 L54.01 365.93 L54.54 366.46 L55.03 367.02 L55.47 367.62 L55.85 368.26 L56.17 368.92 L56.44 369.61 L56.65 370.32 L56.81 371.04 L56.91 371.76Z" fill="none" stroke="#5a5a5a" stroke-width="0.45" stroke-linejoin="round"/>
<path d="M56.02 372.50 L56.00 373.16 L55.94 373.81 L55.87 374.48 L55.75 375.14 L55.57 375.80 L55.34 376.45 L55.04 377.08 L54.69 377.69 L54.27 378.27 L53.81 378.82 L53.28 379.33 L52.71 379.80 L52.10 380.21 L51.44 380.57 L50.74 380.88 L50.02 381.12 L49.27 381.28 L48.50 381.33 L47.73 381.30 L46.97 381.19 L46.22 381.01 L45.50 380.74 L44.81 380.41 L44.16 380.02 L43.55 379.57 L42.99 379.06 L42.49 378.51 L42.04 377.92 L41.65 377.30 L41.31 376.65 L41.04 375.98 L40.83 375.29 L40.68 374.60 L40.58 373.90 L40.53 373.20 L40.53 372.50 L40.59 371.81 L40.71 371.13 L40.88 370.46 L41.10 369.81 L41.38 369.18 L41.70 368.57 L42.07 368.00 L42.49 367.46 L42.95 366.95 L43.46 366.49 L44.00 366.07 L44.58 365.71 L45.19 365.40 L45.83 365.16 L46.48 364.97 L47.15 364.83 L47.82 364.74 L48.50 364.71 L49.18 364.75 L49.85 364.84 L50.51 365.00 L51.15 365.22 L51.77 365.49 L52.35 365.82 L52.91 366.20 L53.42 366.63 L53.90 367.10 L54.33 367.61 L54.72 368.15 L55.05 368.72 L55.34 369.31 L55.58 369.92 L55.77 370.55 L55.90 371.20 L55.98 371.85Z" fill="none" stroke="#5a5a5a" stroke-width="0.45" stroke-linejoin="round"/>
<path d="M55.06 372.50 L55.04 373.07 L54.98 373.64 L54.91 374.22 L54.79 374.79 L54.63 375.36 L54.41 375.91 L54.14 376.45 L53.83 376.97 L53.46 377.46 L53.06 377.93 L52.60 378.36 L52.11 378.75 L51.58 379.09 L51.01 379.39 L50.41 379.64 L49.79 379.83 L49.15 379.96 L48.50 380.00 L47.85 379.97 L47.20 379.88 L46.56 379.72 L45.95 379.50 L45.36 379.22 L44.81 378.89 L44.29 378.51 L43.81 378.08 L43.38 377.62 L42.99 377.12 L42.65 376.59 L42.37 376.04 L42.13 375.47 L41.94 374.89 L41.80 374.30 L41.71 373.70 L41.66 373.10 L41.65 372.50 L41.70 371.90 L41.79 371.32 L41.93 370.74 L42.11 370.18 L42.34 369.63 L42.61 369.10 L42.93 368.60 L43.28 368.12 L43.68 367.68 L44.11 367.27 L44.58 366.90 L45.08 366.58 L45.61 366.30 L46.16 366.08 L46.73 365.90 L47.31 365.78 L47.90 365.70 L48.50 365.67 L49.09 365.70 L49.68 365.79 L50.26 365.93 L50.82 366.12 L51.36 366.36 L51.88 366.65 L52.36 366.99 L52.81 367.36 L53.22 367.78 L53.60 368.22 L53.93 368.69 L54.23 369.19 L54.48 369.71 L54.68 370.25 L54.84 370.80 L54.96 371.36 L55.03 371.93Z" fill="none" stroke="#5a5a5a" stroke-width="0.45" stroke-linejoin="round"/>
<path d="M54.07 372.50 L54.05 372.99 L54.00 373.47 L53.93 373.96 L53.82 374.44 L53.67 374.91 L53.48 375.37 L53.25 375.82 L52.98 376.26 L52.67 376.67 L52.32 377.05 L51.93 377.40 L51.52 377.72 L51.07 378.01 L50.59 378.25 L50.09 378.44 L49.57 378.60 L49.04 378.70 L48.50 378.73 L47.96 378.70 L47.42 378.63 L46.89 378.49 L46.38 378.31 L45.90 378.08 L45.44 377.81 L45.00 377.49 L44.61 377.14 L44.24 376.76 L43.92 376.35 L43.63 375.91 L43.39 375.45 L43.18 374.98 L43.02 374.50 L42.90 374.00 L42.81 373.50 L42.77 373.00 L42.76 372.50 L42.79 372.00 L42.86 371.51 L42.97 371.02 L43.12 370.54 L43.31 370.08 L43.53 369.63 L43.79 369.21 L44.09 368.80 L44.42 368.42 L44.78 368.07 L45.18 367.75 L45.60 367.47 L46.04 367.23 L46.51 367.03 L46.99 366.88 L47.49 366.77 L47.99 366.70 L48.50 366.68 L49.01 366.70 L49.51 366.77 L50.00 366.89 L50.48 367.06 L50.94 367.27 L51.38 367.52 L51.79 367.80 L52.17 368.13 L52.52 368.48 L52.84 368.86 L53.12 369.26 L53.37 369.69 L53.58 370.13 L53.75 370.59 L53.89 371.06 L53.99 371.53 L54.05 372.01Z" fill="none" stroke="#5a5a5a" stroke-width="0.45" stroke-linejoin="round"/>
<path d="M53.06 372.50 L53.04 372.90 L53.00 373.29 L52.93 373.69 L52.84 374.08 L52.71 374.46 L52.55 374.84 L52.35 375.20 L52.13 375.55 L51.87 375.87 L51.59 376.18 L51.27 376.46 L50.93 376.72 L50.57 376.94 L50.19 377.13 L49.78 377.28 L49.36 377.40 L48.94 377.47 L48.50 377.50 L48.06 377.48 L47.63 377.42 L47.21 377.31 L46.80 377.17 L46.41 376.98 L46.04 376.76 L45.69 376.51 L45.37 376.23 L45.08 375.92 L44.81 375.59 L44.58 375.24 L44.38 374.88 L44.21 374.50 L44.08 374.11 L43.97 373.71 L43.90 373.31 L43.86 372.91 L43.85 372.50 L43.87 372.10 L43.93 371.69 L44.01 371.30 L44.13 370.91 L44.28 370.53 L44.46 370.17 L44.67 369.82 L44.91 369.48 L45.17 369.17 L45.47 368.88 L45.78 368.62 L46.13 368.39 L46.49 368.19 L46.87 368.02 L47.26 367.89 L47.67 367.79 L48.08 367.74 L48.50 367.72 L48.92 367.74 L49.33 367.80 L49.73 367.90 L50.13 368.03 L50.50 368.21 L50.86 368.41 L51.20 368.65 L51.51 368.91 L51.80 369.20 L52.06 369.52 L52.29 369.85 L52.49 370.20 L52.66 370.56 L52.80 370.93 L52.91 371.32 L52.99 371.71 L53.04 372.10Z" fill="none" stroke="#5a5a5a" stroke-width="0.45" stroke-linejoin="round"/>
<path d="M52.02 372.50 L52.01 372.81 L51.98 373.11 L51.92 373.42 L51.85 373.72 L51.74 374.01 L51.62 374.30 L51.46 374.58 L51.29 374.84 L51.09 375.09 L50.87 375.32 L50.63 375.54 L50.36 375.73 L50.08 375.90 L49.79 376.04 L49.48 376.15 L49.16 376.24 L48.83 376.29 L48.50 376.31 L48.17 376.29 L47.84 376.24 L47.52 376.16 L47.21 376.05 L46.91 375.91 L46.62 375.75 L46.36 375.56 L46.11 375.34 L45.89 375.11 L45.69 374.86 L45.51 374.60 L45.35 374.32 L45.22 374.03 L45.12 373.73 L45.03 373.43 L44.98 373.12 L44.94 372.81 L44.93 372.50 L44.95 372.19 L44.99 371.88 L45.05 371.58 L45.14 371.28 L45.25 370.99 L45.39 370.70 L45.55 370.43 L45.73 370.17 L45.93 369.93 L46.16 369.71 L46.40 369.50 L46.66 369.32 L46.94 369.16 L47.24 369.03 L47.54 368.93 L47.86 368.85 L48.18 368.81 L48.50 368.79 L48.82 368.81 L49.14 368.85 L49.46 368.93 L49.76 369.04 L50.05 369.17 L50.33 369.33 L50.59 369.51 L50.83 369.72 L51.05 369.95 L51.25 370.19 L51.43 370.45 L51.59 370.72 L51.72 371.00 L51.83 371.29 L51.91 371.59 L51.97 371.89 L52.01 372.19Z" fill="none" stroke="#5a5a5a" stroke-width="0.45" stroke-linejoin="round"/>
<path d="M50.98 372.50 L50.97 372.72 L50.94 372.93 L50.90 373.14 L50.85 373.35 L50.77 373.56 L50.68 373.76 L50.57 373.95 L50.45 374.14 L50.31 374.31 L50.15 374.47 L49.98 374.62 L49.80 374.75 L49.60 374.87 L49.40 374.96 L49.18 375.04 L48.96 375.10 L48.73 375.13 L48.50 375.15 L48.27 375.13 L48.04 375.10 L47.82 375.05 L47.60 374.97 L47.39 374.87 L47.20 374.76 L47.01 374.63 L46.84 374.48 L46.68 374.32 L46.54 374.14 L46.42 373.96 L46.31 373.77 L46.22 373.57 L46.14 373.36 L46.08 373.15 L46.04 372.93 L46.02 372.72 L46.01 372.50 L46.02 372.28 L46.04 372.07 L46.09 371.85 L46.15 371.64 L46.23 371.44 L46.32 371.24 L46.43 371.05 L46.56 370.87 L46.70 370.70 L46.85 370.54 L47.03 370.39 L47.21 370.27 L47.41 370.15 L47.61 370.06 L47.83 369.99 L48.05 369.93 L48.27 369.90 L48.50 369.89 L48.73 369.90 L48.95 369.93 L49.17 369.99 L49.39 370.06 L49.59 370.16 L49.79 370.27 L49.97 370.40 L50.14 370.54 L50.30 370.70 L50.44 370.87 L50.56 371.06 L50.67 371.25 L50.76 371.44 L50.84 371.65 L50.90 371.86 L50.94 372.07 L50.97 372.28Z" fill="none" stroke="#5a5a5a" stroke-width="0.45" stroke-linejoin="round"/><defs><radialGradient id="g19" gradientUnits="userSpaceOnUse" cx="48.5" cy="372.5" r="1" gradientTransform="translate(48.5 372.5) scale(10 11) translate(-48.5 -372.5)"><stop offset="0" stop-color="#fff" stop-opacity="0.3"/><stop offset="0.1" stop-color="#fff" stop-opacity="0.0"/><stop offset="0.18" stop-color="#555" stop-opacity="0.45"/><stop offset="0.65" stop-color="#555" stop-opacity="0.3375"/><stop offset="1" stop-color="#555" stop-opacity="0"/></radialGradient></defs><ellipse cx="48.5" cy="372.5" rx="10" ry="11" fill="url(#g19)"/><ellipse cx="48.8" cy="372" rx="0.6" ry="1.2" fill="#fff" fill-opacity="0.6"/><rect x="35" y="358" width="3.299999999999997" height="31.30000000000001" fill="#8a8a8a" fill-opacity="0.385"/><line x1="35.30" y1="360.80" x2="35.30" y2="389.3" stroke="#888" stroke-width="0.45" stroke-opacity="0.7"/><line x1="36.20" y1="358.60" x2="36.20" y2="389.3" stroke="#555" stroke-width="0.45" stroke-opacity="0.7"/><line x1="37.10" y1="360.02" x2="37.10" y2="389.3" stroke="#666" stroke-width="0.45" stroke-opacity="0.7"/><line x1="38.00" y1="358.91" x2="38.00" y2="389.3" stroke="#888" stroke-width="0.45" stroke-opacity="0.7"/><rect x="36" y="385" width="24" height="4.300000000000011" fill="#888" fill-opacity="0.51"/><line x1="36" y1="385.30" x2="59.60" y2="385.30" stroke="#666" stroke-width="0.45" stroke-opacity="0.85"/><line x1="36" y1="386.20" x2="58.82" y2="386.20" stroke="#555" stroke-width="0.45" stroke-opacity="0.85"/><line x1="36" y1="387.10" x2="57.84" y2="387.10" stroke="#777" stroke-width="0.45" stroke-opacity="0.85"/><line x1="36" y1="388.00" x2="57.78" y2="388.00" stroke="#666" stroke-width="0.45" stroke-opacity="0.85"/><line x1="36" y1="388.90" x2="57.64" y2="388.90" stroke="#777" stroke-width="0.45" stroke-opacity="0.85"/></g>
<rect x="35" y="297.3" width="93.69999999999999" height="91.59999999999997" fill="none" stroke="#626262" stroke-width="0.9"/>
<path d="M35.00 388.90v2.2 M35.00 388.90h-2.2 M42.05 388.90v1.2 M35.00 382.01h-1.2 M46.18 388.90v1.2 M35.00 377.97h-1.2 M49.10 388.90v1.2 M35.00 375.11h-1.2 M51.37 388.90v1.2 M35.00 372.89h-1.2 M53.23 388.90v1.2 M35.00 371.08h-1.2 M54.80 388.90v1.2 M35.00 369.55h-1.2 M56.15 388.90v1.2 M35.00 368.22h-1.2 M57.35 388.90v1.2 M35.00 367.05h-1.2 M58.42 388.90v2.2 M35.00 366.00h-2.2 M65.48 388.90v1.2 M35.00 359.11h-1.2 M69.60 388.90v1.2 M35.00 355.07h-1.2 M72.53 388.90v1.2 M35.00 352.21h-1.2 M74.80 388.90v1.2 M35.00 349.99h-1.2 M76.65 388.90v1.2 M35.00 348.18h-1.2 M78.22 388.90v1.2 M35.00 346.65h-1.2 M79.58 388.90v1.2 M35.00 345.32h-1.2 M80.78 388.90v1.2 M35.00 344.15h-1.2 M81.85 388.90v2.2 M35.00 343.10h-2.2 M88.90 388.90v1.2 M35.00 336.21h-1.2 M93.03 388.90v1.2 M35.00 332.17h-1.2 M95.95 388.90v1.2 M35.00 329.31h-1.2 M98.22 388.90v1.2 M35.00 327.09h-1.2 M100.08 388.90v1.2 M35.00 325.28h-1.2 M101.65 388.90v1.2 M35.00 323.75h-1.2 M103.00 388.90v1.2 M35.00 322.42h-1.2 M104.20 388.90v1.2 M35.00 321.25h-1.2 M105.27 388.90v2.2 M35.00 320.20h-2.2 M112.33 388.90v1.2 M35.00 313.31h-1.2 M116.45 388.90v1.2 M35.00 309.27h-1.2 M119.38 388.90v1.2 M35.00 306.41h-1.2 M121.65 388.90v1.2 M35.00 304.19h-1.2 M123.50 388.90v1.2 M35.00 302.38h-1.2 M125.07 388.90v1.2 M35.00 300.85h-1.2 M126.43 388.90v1.2 M35.00 299.52h-1.2 M127.63 388.90v1.2 M35.00 298.35h-1.2 M128.70 388.90v2.2 M35.00 297.30h-2.2" stroke="#777" stroke-width="0.6" fill="none"/>
<text x="32.80" y="399.90" font-size="4.6" fill="#555" stroke="#555" stroke-width="0.12">10<tspan dy="-2" font-size="3.4">0</tspan></text>
<text x="25.00" y="392.50" font-size="4.6" fill="#555" stroke="#555" stroke-width="0.12">10<tspan dy="-2" font-size="3.4">0</tspan></text>
<circle cx="59.22" cy="397.90" r="0.45" fill="#777"/>
<text x="30.10" y="367.60" font-size="3.4" fill="#555" stroke="#555" stroke-width="0.12">1</text>
<circle cx="82.65" cy="397.90" r="0.45" fill="#777"/>
<text x="30.10" y="344.70" font-size="3.4" fill="#555" stroke="#555" stroke-width="0.12">2</text>
<text x="108.17" y="397.90" font-size="3.4" fill="#555" stroke="#555" stroke-width="0.12">3</text>
<text x="30.10" y="321.80" font-size="3.4" fill="#555" stroke="#555" stroke-width="0.12">3</text>
<text x="36.9" y="303.4" font-size="4.2" fill="#222" stroke="#222" stroke-width="0.1" font-weight="normal" text-anchor="start" >8.31</text>
<text x="36.2" y="314.3" font-size="7.3" fill="#222" stroke="#222" stroke-width="0.16" font-weight="normal" text-anchor="start" >8.31</text>
<text x="113" y="303.4" font-size="4.2" fill="#222" stroke="#222" stroke-width="0.1" font-weight="normal" text-anchor="start" >0.81</text>
<text x="109" y="314.3" font-size="7.3" fill="#222" stroke="#222" stroke-width="0.16" font-weight="normal" text-anchor="start" >0.81</text>
<text x="110.2" y="384" font-size="7.3" fill="#222" stroke="#222" stroke-width="0.16" font-weight="normal" text-anchor="start" >4.42</text>
<text x="113.1" y="387.7" font-size="4.2" fill="#222" stroke="#222" stroke-width="0.1" font-weight="normal" text-anchor="start" >4.42</text>
<text x="58.1" y="405.6" font-size="8.6" fill="#222" stroke="#222" stroke-width="0.3" font-weight="normal" text-anchor="start" >FL3-Height</text>
<text transform="translate(20,364.0) rotate(-90)" x="0" y="0" font-size="8.6" fill="#222" stroke="#222" stroke-width="0.3">CD45-APC</text>
<line x1="189.2" y1="296.4" x2="189.2" y2="385.6" stroke="#8a8a8a" stroke-width="0.8"/>
<line x1="164.5" y1="354.3" x2="255.5" y2="354.3" stroke="#8a8a8a" stroke-width="0.8"/>
<defs><clipPath id="c22"><rect x="164.5" y="296.4" width="91.0" height="89.20000000000005"/></clipPath></defs><g clip-path="url(#c22)"><path d="M168.44 343.50 L168.45 343.82 L168.46 344.15 L168.46 344.48 L168.46 344.83 L168.44 345.20 L168.42 345.59 L168.38 346.00 L168.32 346.45 L168.24 346.94 L168.14 347.48 L167.98 348.05 L167.76 348.63 L167.46 349.20 L167.08 349.77 L166.63 350.33 L166.10 350.90 L165.51 351.66 L164.80 351.96 L164.16 350.77 L163.71 349.68 L163.38 348.81 L163.12 348.10 L162.93 347.52 L162.77 347.02 L162.64 346.59 L162.53 346.20 L162.44 345.86 L162.37 345.54 L162.30 345.25 L162.24 344.98 L162.19 344.72 L162.14 344.47 L162.10 344.22 L162.07 343.98 L162.04 343.74 L162.02 343.50 L162.01 343.26 L162.00 343.01 L162.01 342.75 L162.02 342.49 L162.05 342.22 L162.08 341.93 L162.12 341.63 L162.18 341.30 L162.25 340.95 L162.34 340.57 L162.45 340.14 L162.59 339.67 L162.76 339.12 L162.98 338.50 L163.27 337.79 L163.65 336.96 L164.15 336.06 L164.80 335.42 L165.49 335.67 L166.06 336.36 L166.52 337.10 L166.88 337.78 L167.19 338.38 L167.43 338.95 L167.62 339.48 L167.77 339.96 L167.90 340.40 L168.01 340.81 L168.10 341.19 L168.17 341.55 L168.24 341.90 L168.30 342.23 L168.35 342.55 L168.38 342.87 L168.42 343.18Z" fill="none" stroke="#666" stroke-width="0.45" stroke-linejoin="round"/>
<path d="M167.14 343.50 L167.14 343.70 L167.13 343.91 L167.11 344.12 L167.08 344.33 L167.03 344.54 L166.98 344.76 L166.91 344.98 L166.82 345.20 L166.72 345.42 L166.60 345.64 L166.45 345.86 L166.28 346.06 L166.08 346.25 L165.86 346.41 L165.61 346.53 L165.35 346.63 L165.08 346.68 L164.80 346.70 L164.52 346.67 L164.25 346.59 L164.00 346.48 L163.77 346.34 L163.55 346.17 L163.37 345.98 L163.21 345.77 L163.07 345.56 L162.96 345.34 L162.86 345.13 L162.78 344.92 L162.71 344.71 L162.65 344.50 L162.61 344.30 L162.57 344.10 L162.55 343.90 L162.53 343.70 L162.53 343.50 L162.53 343.30 L162.54 343.10 L162.57 342.90 L162.60 342.70 L162.64 342.49 L162.70 342.29 L162.76 342.07 L162.85 341.86 L162.94 341.64 L163.06 341.43 L163.20 341.21 L163.36 341.01 L163.55 340.82 L163.76 340.65 L164.00 340.51 L164.25 340.40 L164.52 340.34 L164.80 340.31 L165.08 340.33 L165.35 340.39 L165.61 340.49 L165.85 340.62 L166.07 340.78 L166.26 340.96 L166.43 341.17 L166.58 341.38 L166.70 341.60 L166.80 341.82 L166.89 342.04 L166.96 342.25 L167.02 342.47 L167.06 342.68 L167.10 342.88 L167.12 343.09 L167.14 343.30Z" fill="none" stroke="#666" stroke-width="0.45" stroke-linejoin="round"/><path d="M162.00 355.00 C162.92 349.72 163.00 355.22 164.50 355.30 C166.00 355.38 168.75 355.38 171.00 355.50 C173.25 355.62 176.00 355.25 178.00 356.00 C180.00 356.75 181.83 358.58 183.00 360.00 C184.17 361.42 184.17 363.17 185.00 364.50 C185.83 365.83 187.42 366.75 188.00 368.00 C188.58 369.25 188.83 370.75 188.50 372.00 C188.17 373.25 186.83 374.50 186.00 375.50 C185.17 376.50 183.58 376.92 183.50 378.00 C183.42 379.08 184.83 380.33 185.50 382.00 C186.17 383.67 188.08 386.17 187.50 388.00 C186.92 389.83 184.42 392.00 182.00 393.00 C179.58 394.00 176.00 394.00 173.00 394.00 C170.00 394.00 166.33 394.17 164.00 393.00 C161.67 391.83 159.33 393.33 159.00 387.00 C158.67 380.67 161.08 360.28 162.00 355.00Z" fill="#fff" fill-opacity="0.9"/>
<path d="M187.30 367.00 L188.13 368.30 L188.54 369.69 L188.64 371.11 L188.33 372.47 L187.58 373.66 L186.68 374.72 L185.78 375.74 L184.69 376.56 L183.72 377.42 L184.88 380.80 L187.60 387.42 L186.45 389.77 L184.69 391.43 L182.65 392.70 L180.40 393.49 L178.03 393.85 L175.66 393.98 L173.30 394.00 L170.94 394.01 L168.55 393.95 L166.15 393.68 L163.86 392.94 L161.52 392.27 L159.67 390.61 L159.03 387.38 L159.00 384.05 L159.13 381.17 L159.30 378.75 L159.46 376.69 L159.62 374.90 L159.76 373.31 L159.90 371.88 L160.04 370.55 L160.17 369.32 L160.29 368.14 L160.42 367.00 L160.55 365.88 L160.68 364.77 L160.81 363.65 L160.95 362.51 L161.10 361.31 L161.27 360.05 L161.45 358.70 L161.65 357.23 L161.90 355.60 L162.24 353.81 L165.13 355.33 L166.58 355.37 L167.89 355.40 L169.09 355.43 L170.21 355.46 L171.27 355.51 L172.30 355.53 L173.30 355.52 L174.31 355.51 L175.32 355.54 L176.35 355.62 L177.37 355.81 L178.36 356.15 L179.28 356.64 L180.15 357.22 L180.96 357.88 L181.72 358.58 L182.43 359.34 L183.10 360.14 L183.65 361.03 L184.03 362.00 L184.35 362.98 L184.71 363.94 L185.27 364.89 L186.17 365.87Z" fill="none" stroke="#5a5a5a" stroke-width="0.45" stroke-linejoin="round"/>
<path d="M185.76 367.00 L185.85 368.10 L185.84 369.21 L185.88 370.37 L186.12 371.67 L186.29 373.06 L186.32 374.52 L186.18 376.02 L185.84 377.52 L185.30 379.00 L184.57 380.43 L183.67 381.81 L182.62 383.13 L181.41 384.40 L180.07 385.59 L178.57 386.68 L176.94 387.67 L175.18 388.48 L173.30 388.88 L171.40 388.67 L169.57 388.13 L167.85 387.33 L166.27 386.30 L164.86 385.11 L163.61 383.79 L162.54 382.37 L161.66 380.88 L160.96 379.34 L160.46 377.77 L160.15 376.21 L160.01 374.67 L160.04 373.18 L160.19 371.77 L160.36 370.47 L160.51 369.26 L160.65 368.11 L160.78 367.00 L160.90 365.91 L161.02 364.83 L161.14 363.74 L161.45 362.69 L161.86 361.67 L162.37 360.69 L162.96 359.76 L163.63 358.89 L164.38 358.08 L165.21 357.35 L166.09 356.71 L167.03 356.14 L168.02 355.68 L169.05 355.32 L170.11 355.08 L171.18 354.97 L172.25 355.01 L173.30 355.20 L174.32 355.35 L175.32 355.57 L176.29 355.84 L177.23 356.19 L178.15 356.60 L179.02 357.09 L179.85 357.65 L180.62 358.28 L181.34 358.96 L182.03 359.68 L182.68 360.43 L183.31 361.22 L183.89 362.06 L184.42 362.95 L184.89 363.89 L185.28 364.89 L185.57 365.93Z" fill="none" stroke="#5a5a5a" stroke-width="0.45" stroke-linejoin="round"/>
<path d="M184.55 367.00 L184.61 367.99 L184.58 368.99 L184.57 370.02 L184.68 371.14 L184.73 372.33 L184.67 373.56 L184.47 374.82 L184.11 376.07 L183.60 377.30 L182.94 378.49 L182.14 379.63 L181.21 380.71 L180.17 381.73 L179.01 382.68 L177.73 383.54 L176.35 384.30 L174.87 384.92 L173.30 385.21 L171.72 385.05 L170.19 384.63 L168.75 383.99 L167.41 383.18 L166.20 382.23 L165.12 381.16 L164.19 380.01 L163.40 378.80 L162.76 377.54 L162.28 376.25 L161.94 374.95 L161.75 373.67 L161.68 372.42 L161.71 371.22 L161.78 370.09 L161.85 369.02 L161.92 368.00 L162.01 367.00 L162.10 366.02 L162.20 365.04 L162.32 364.06 L162.59 363.10 L162.95 362.17 L163.38 361.28 L163.90 360.42 L164.49 359.60 L165.15 358.85 L165.87 358.15 L166.66 357.52 L167.51 356.97 L168.40 356.50 L169.34 356.13 L170.32 355.86 L171.31 355.71 L172.31 355.69 L173.30 355.81 L174.27 355.93 L175.22 356.13 L176.14 356.39 L177.04 356.73 L177.90 357.14 L178.71 357.63 L179.48 358.18 L180.19 358.79 L180.84 359.46 L181.46 360.15 L182.03 360.88 L182.57 361.65 L183.06 362.45 L183.50 363.29 L183.88 364.17 L184.18 365.08 L184.41 366.03Z" fill="none" stroke="#5a5a5a" stroke-width="0.45" stroke-linejoin="round"/>
<path d="M183.53 367.00 L183.56 367.90 L183.52 368.80 L183.49 369.73 L183.53 370.72 L183.51 371.76 L183.39 372.83 L183.16 373.91 L182.81 374.98 L182.33 376.03 L181.73 377.04 L181.01 378.01 L180.18 378.92 L179.26 379.78 L178.24 380.57 L177.12 381.27 L175.92 381.88 L174.64 382.36 L173.30 382.58 L171.95 382.45 L170.64 382.11 L169.39 381.60 L168.23 380.93 L167.17 380.14 L166.23 379.25 L165.40 378.29 L164.69 377.27 L164.10 376.20 L163.64 375.11 L163.30 374.00 L163.07 372.90 L162.96 371.82 L162.93 370.78 L162.93 369.78 L162.95 368.82 L162.99 367.90 L163.04 367.00 L163.11 366.11 L163.21 365.22 L163.33 364.33 L163.56 363.46 L163.87 362.60 L164.26 361.78 L164.71 360.99 L165.23 360.23 L165.82 359.52 L166.47 358.86 L167.18 358.27 L167.95 357.74 L168.77 357.28 L169.63 356.91 L170.52 356.64 L171.44 356.47 L172.37 356.42 L173.30 356.49 L174.21 356.59 L175.10 356.77 L175.97 357.02 L176.81 357.35 L177.62 357.74 L178.37 358.21 L179.08 358.74 L179.74 359.33 L180.34 359.96 L180.89 360.63 L181.41 361.32 L181.88 362.05 L182.30 362.80 L182.67 363.59 L182.99 364.40 L183.24 365.25 L183.42 366.11Z" fill="none" stroke="#5a5a5a" stroke-width="0.45" stroke-linejoin="round"/>
<path d="M182.60 367.00 L182.62 367.82 L182.57 368.64 L182.52 369.47 L182.51 370.35 L182.45 371.27 L182.30 372.20 L182.07 373.14 L181.72 374.07 L181.28 374.98 L180.73 375.85 L180.08 376.68 L179.34 377.46 L178.52 378.19 L177.61 378.85 L176.63 379.43 L175.58 379.93 L174.46 380.31 L173.30 380.49 L172.13 380.38 L170.99 380.10 L169.90 379.67 L168.89 379.11 L167.96 378.45 L167.12 377.70 L166.38 376.88 L165.74 376.01 L165.20 375.10 L164.77 374.16 L164.43 373.21 L164.20 372.26 L164.05 371.31 L163.98 370.39 L163.95 369.51 L163.94 368.65 L163.95 367.82 L163.98 367.00 L164.04 366.19 L164.12 365.38 L164.23 364.57 L164.44 363.78 L164.72 363.00 L165.06 362.24 L165.46 361.51 L165.93 360.82 L166.46 360.16 L167.04 359.54 L167.68 358.98 L168.38 358.48 L169.12 358.04 L169.91 357.68 L170.73 357.41 L171.58 357.24 L172.44 357.17 L173.30 357.21 L174.15 357.30 L174.98 357.46 L175.79 357.69 L176.57 358.00 L177.32 358.38 L178.02 358.82 L178.67 359.33 L179.27 359.88 L179.82 360.48 L180.33 361.11 L180.78 361.76 L181.20 362.44 L181.57 363.14 L181.89 363.87 L182.16 364.63 L182.37 365.40 L182.51 366.19Z" fill="none" stroke="#5a5a5a" stroke-width="0.45" stroke-linejoin="round"/>
<path d="M181.64 367.00 L181.65 367.73 L181.60 368.46 L181.54 369.21 L181.50 369.98 L181.40 370.78 L181.24 371.58 L181.00 372.39 L180.68 373.19 L180.27 373.97 L179.77 374.71 L179.20 375.42 L178.55 376.08 L177.82 376.70 L177.03 377.25 L176.17 377.73 L175.26 378.13 L174.30 378.43 L173.30 378.56 L172.30 378.48 L171.32 378.25 L170.38 377.90 L169.50 377.43 L168.69 376.88 L167.96 376.25 L167.30 375.56 L166.73 374.83 L166.24 374.06 L165.84 373.26 L165.53 372.44 L165.29 371.63 L165.13 370.81 L165.03 370.01 L164.97 369.23 L164.93 368.48 L164.93 367.73 L164.94 367.00 L164.99 366.27 L165.07 365.55 L165.17 364.82 L165.36 364.11 L165.60 363.41 L165.90 362.72 L166.25 362.06 L166.66 361.43 L167.13 360.83 L167.65 360.26 L168.22 359.74 L168.84 359.28 L169.51 358.87 L170.22 358.53 L170.96 358.27 L171.73 358.10 L172.51 358.02 L173.30 358.04 L174.08 358.11 L174.84 358.25 L175.59 358.47 L176.30 358.76 L176.98 359.11 L177.62 359.52 L178.21 359.99 L178.75 360.50 L179.25 361.05 L179.70 361.63 L180.10 362.24 L180.47 362.86 L180.78 363.51 L181.06 364.18 L181.28 364.86 L181.46 365.56 L181.58 366.28Z" fill="none" stroke="#5a5a5a" stroke-width="0.45" stroke-linejoin="round"/>
<path d="M180.80 367.00 L180.80 367.66 L180.75 368.31 L180.68 368.98 L180.62 369.66 L180.51 370.36 L180.35 371.07 L180.12 371.77 L179.82 372.47 L179.44 373.14 L178.99 373.79 L178.48 374.40 L177.90 374.97 L177.26 375.49 L176.56 375.96 L175.81 376.36 L175.01 376.69 L174.17 376.93 L173.30 377.03 L172.43 376.96 L171.58 376.77 L170.76 376.48 L169.99 376.09 L169.28 375.62 L168.63 375.09 L168.05 374.50 L167.54 373.87 L167.10 373.20 L166.73 372.51 L166.43 371.81 L166.20 371.10 L166.04 370.39 L165.93 369.68 L165.85 369.00 L165.80 368.32 L165.78 367.66 L165.79 367.00 L165.83 366.35 L165.90 365.69 L165.99 365.04 L166.16 364.40 L166.37 363.77 L166.63 363.15 L166.95 362.55 L167.31 361.97 L167.73 361.43 L168.19 360.91 L168.70 360.43 L169.26 360.00 L169.86 359.63 L170.50 359.31 L171.17 359.07 L171.87 358.90 L172.58 358.81 L173.30 358.82 L174.01 358.88 L174.71 359.01 L175.39 359.21 L176.04 359.47 L176.66 359.80 L177.24 360.18 L177.78 360.61 L178.27 361.08 L178.71 361.59 L179.12 362.12 L179.48 362.68 L179.80 363.25 L180.07 363.84 L180.31 364.45 L180.50 365.07 L180.65 365.70 L180.75 366.35Z" fill="none" stroke="#5a5a5a" stroke-width="0.45" stroke-linejoin="round"/>
<path d="M179.94 367.00 L179.93 367.58 L179.89 368.16 L179.82 368.75 L179.75 369.35 L179.63 369.95 L179.47 370.56 L179.25 371.17 L178.98 371.76 L178.64 372.34 L178.24 372.89 L177.79 373.41 L177.28 373.90 L176.72 374.34 L176.11 374.73 L175.46 375.06 L174.77 375.33 L174.05 375.52 L173.30 375.60 L172.55 375.54 L171.82 375.39 L171.12 375.14 L170.45 374.82 L169.84 374.43 L169.27 373.98 L168.76 373.48 L168.31 372.95 L167.92 372.38 L167.59 371.79 L167.31 371.19 L167.10 370.58 L166.93 369.97 L166.82 369.36 L166.73 368.76 L166.68 368.17 L166.65 367.58 L166.66 367.00 L166.69 366.42 L166.74 365.84 L166.83 365.27 L166.98 364.70 L167.16 364.14 L167.39 363.59 L167.66 363.05 L167.98 362.54 L168.35 362.05 L168.75 361.58 L169.21 361.15 L169.70 360.76 L170.23 360.42 L170.80 360.13 L171.40 359.91 L172.02 359.75 L172.66 359.67 L173.30 359.66 L173.94 359.71 L174.57 359.82 L175.17 360.00 L175.76 360.24 L176.31 360.54 L176.83 360.88 L177.31 361.27 L177.75 361.70 L178.14 362.16 L178.50 362.64 L178.82 363.14 L179.09 363.66 L179.33 364.19 L179.53 364.73 L179.70 365.29 L179.82 365.85 L179.90 366.42Z" fill="none" stroke="#5a5a5a" stroke-width="0.45" stroke-linejoin="round"/>
<path d="M179.06 367.00 L179.05 367.50 L179.01 368.01 L178.95 368.51 L178.87 369.03 L178.76 369.54 L178.60 370.06 L178.40 370.57 L178.16 371.08 L177.86 371.56 L177.52 372.03 L177.13 372.46 L176.69 372.87 L176.21 373.24 L175.69 373.56 L175.13 373.83 L174.54 374.05 L173.93 374.20 L173.30 374.26 L172.67 374.21 L172.05 374.08 L171.46 373.88 L170.89 373.62 L170.36 373.29 L169.88 372.92 L169.44 372.51 L169.05 372.06 L168.71 371.59 L168.42 371.10 L168.17 370.59 L167.97 370.07 L167.82 369.55 L167.71 369.04 L167.62 368.52 L167.57 368.01 L167.54 367.50 L167.53 367.00 L167.56 366.50 L167.61 366.00 L167.69 365.50 L167.81 365.00 L167.97 364.51 L168.16 364.03 L168.40 363.57 L168.67 363.12 L168.99 362.69 L169.34 362.28 L169.73 361.90 L170.16 361.56 L170.62 361.25 L171.11 361.00 L171.64 360.79 L172.18 360.65 L172.74 360.57 L173.30 360.56 L173.86 360.60 L174.41 360.70 L174.95 360.85 L175.46 361.07 L175.95 361.33 L176.40 361.63 L176.82 361.98 L177.20 362.35 L177.54 362.76 L177.85 363.18 L178.12 363.62 L178.36 364.08 L178.56 364.55 L178.73 365.02 L178.87 365.51 L178.97 366.00 L179.03 366.50Z" fill="none" stroke="#5a5a5a" stroke-width="0.45" stroke-linejoin="round"/>
<path d="M178.17 367.00 L178.16 367.43 L178.13 367.85 L178.07 368.28 L177.99 368.71 L177.89 369.14 L177.75 369.57 L177.57 369.99 L177.36 370.41 L177.11 370.81 L176.82 371.19 L176.49 371.55 L176.12 371.88 L175.72 372.18 L175.28 372.44 L174.82 372.66 L174.33 372.83 L173.82 372.94 L173.30 372.99 L172.78 372.95 L172.27 372.85 L171.77 372.69 L171.31 372.48 L170.87 372.22 L170.46 371.91 L170.10 371.58 L169.77 371.21 L169.48 370.82 L169.23 370.42 L169.01 370.00 L168.84 369.58 L168.70 369.15 L168.59 368.71 L168.51 368.28 L168.46 367.85 L168.43 367.43 L168.42 367.00 L168.44 366.58 L168.48 366.15 L168.55 365.73 L168.65 365.31 L168.79 364.90 L168.95 364.49 L169.15 364.09 L169.38 363.71 L169.64 363.34 L169.94 362.99 L170.27 362.67 L170.63 362.37 L171.02 362.11 L171.44 361.89 L171.88 361.71 L172.35 361.59 L172.82 361.51 L173.30 361.50 L173.78 361.53 L174.25 361.61 L174.71 361.75 L175.14 361.93 L175.56 362.16 L175.95 362.42 L176.30 362.71 L176.63 363.04 L176.92 363.38 L177.18 363.75 L177.41 364.13 L177.60 364.52 L177.77 364.91 L177.91 365.32 L178.02 365.74 L178.10 366.15 L178.15 366.58Z" fill="none" stroke="#5a5a5a" stroke-width="0.45" stroke-linejoin="round"/>
<path d="M177.27 367.00 L177.27 367.35 L177.23 367.69 L177.18 368.04 L177.11 368.39 L177.02 368.74 L176.90 369.08 L176.75 369.42 L176.58 369.75 L176.37 370.07 L176.13 370.38 L175.86 370.66 L175.57 370.92 L175.24 371.16 L174.89 371.37 L174.52 371.54 L174.12 371.67 L173.72 371.75 L173.30 371.78 L172.88 371.75 L172.48 371.68 L172.08 371.55 L171.70 371.39 L171.35 371.18 L171.02 370.94 L170.73 370.68 L170.46 370.39 L170.22 370.08 L170.01 369.76 L169.84 369.42 L169.69 369.08 L169.57 368.74 L169.48 368.39 L169.41 368.04 L169.36 367.69 L169.33 367.35 L169.32 367.00 L169.34 366.65 L169.37 366.31 L169.43 365.96 L169.51 365.62 L169.62 365.28 L169.75 364.95 L169.91 364.63 L170.10 364.31 L170.31 364.01 L170.55 363.72 L170.82 363.46 L171.11 363.21 L171.43 363.00 L171.78 362.81 L172.14 362.66 L172.52 362.56 L172.91 362.50 L173.30 362.48 L173.69 362.50 L174.08 362.57 L174.46 362.68 L174.82 362.83 L175.16 363.02 L175.47 363.24 L175.76 363.48 L176.03 363.75 L176.27 364.03 L176.48 364.33 L176.66 364.64 L176.82 364.97 L176.96 365.29 L177.07 365.63 L177.16 365.97 L177.22 366.31 L177.26 366.65Z" fill="none" stroke="#5a5a5a" stroke-width="0.45" stroke-linejoin="round"/>
<path d="M176.37 367.00 L176.36 367.27 L176.33 367.53 L176.29 367.80 L176.23 368.07 L176.16 368.33 L176.06 368.60 L175.95 368.85 L175.81 369.10 L175.65 369.35 L175.46 369.58 L175.26 369.79 L175.03 369.99 L174.78 370.17 L174.51 370.33 L174.22 370.45 L173.93 370.55 L173.62 370.61 L173.30 370.63 L172.98 370.61 L172.67 370.55 L172.37 370.46 L172.09 370.33 L171.82 370.18 L171.57 370.00 L171.34 369.80 L171.13 369.58 L170.95 369.35 L170.79 369.11 L170.65 368.86 L170.53 368.60 L170.44 368.33 L170.36 368.07 L170.30 367.80 L170.26 367.54 L170.24 367.27 L170.23 367.00 L170.24 366.73 L170.27 366.47 L170.31 366.20 L170.38 365.94 L170.46 365.68 L170.56 365.42 L170.68 365.17 L170.83 364.92 L170.99 364.69 L171.17 364.47 L171.38 364.26 L171.61 364.07 L171.85 363.90 L172.12 363.76 L172.40 363.64 L172.69 363.56 L172.99 363.51 L173.30 363.49 L173.61 363.51 L173.91 363.56 L174.20 363.65 L174.48 363.77 L174.74 363.91 L174.99 364.08 L175.21 364.27 L175.42 364.48 L175.60 364.70 L175.76 364.93 L175.91 365.18 L176.03 365.42 L176.13 365.68 L176.21 365.94 L176.28 366.20 L176.33 366.47 L176.35 366.73Z" fill="none" stroke="#5a5a5a" stroke-width="0.45" stroke-linejoin="round"/>
<path d="M175.45 367.00 L175.44 367.19 L175.43 367.37 L175.40 367.56 L175.35 367.75 L175.30 367.93 L175.23 368.11 L175.15 368.29 L175.05 368.47 L174.94 368.64 L174.81 368.80 L174.66 368.95 L174.50 369.08 L174.33 369.21 L174.14 369.31 L173.94 369.40 L173.73 369.46 L173.52 369.50 L173.30 369.51 L173.08 369.50 L172.87 369.46 L172.66 369.40 L172.46 369.31 L172.27 369.21 L172.10 369.09 L171.94 368.95 L171.79 368.80 L171.66 368.64 L171.55 368.47 L171.45 368.29 L171.37 368.12 L171.30 367.93 L171.24 367.75 L171.20 367.56 L171.17 367.38 L171.16 367.19 L171.15 367.00 L171.16 366.81 L171.17 366.63 L171.21 366.44 L171.25 366.25 L171.31 366.07 L171.38 365.89 L171.46 365.71 L171.56 365.54 L171.68 365.38 L171.81 365.22 L171.95 365.07 L172.11 364.94 L172.28 364.82 L172.47 364.72 L172.67 364.64 L172.87 364.58 L173.08 364.54 L173.30 364.53 L173.52 364.54 L173.73 364.58 L173.93 364.64 L174.13 364.72 L174.32 364.82 L174.49 364.94 L174.65 365.08 L174.79 365.22 L174.92 365.38 L175.03 365.55 L175.13 365.72 L175.22 365.89 L175.29 366.07 L175.35 366.25 L175.39 366.44 L175.42 366.63 L175.44 366.81Z" fill="none" stroke="#5a5a5a" stroke-width="0.45" stroke-linejoin="round"/><defs><radialGradient id="g21" gradientUnits="userSpaceOnUse" cx="173.3" cy="367" r="1" gradientTransform="translate(173.3 367) scale(8 10) translate(-173.3 -367)"><stop offset="0" stop-color="#fff" stop-opacity="0.25"/><stop offset="0.1" stop-color="#fff" stop-opacity="0.0"/><stop offset="0.18" stop-color="#555" stop-opacity="0.45"/><stop offset="0.65" stop-color="#555" stop-opacity="0.3375"/><stop offset="1" stop-color="#555" stop-opacity="0"/></radialGradient></defs><ellipse cx="173.3" cy="367" rx="8" ry="10" fill="url(#g21)"/><rect x="164.5" y="335" width="2.5" height="50.5" fill="#8a8a8a" fill-opacity="0.385"/><line x1="164.80" y1="336.58" x2="164.80" y2="385.5" stroke="#555" stroke-width="0.45" stroke-opacity="0.7"/><line x1="165.70" y1="337.43" x2="165.70" y2="385.5" stroke="#555" stroke-width="0.45" stroke-opacity="0.7"/><line x1="166.60" y1="336.82" x2="166.60" y2="385.5" stroke="#888" stroke-width="0.45" stroke-opacity="0.7"/><rect x="165" y="381" width="18" height="4.5" fill="#888" fill-opacity="0.51"/><line x1="165" y1="381.30" x2="182.76" y2="381.30" stroke="#555" stroke-width="0.45" stroke-opacity="0.85"/><line x1="165" y1="382.20" x2="182.86" y2="382.20" stroke="#555" stroke-width="0.45" stroke-opacity="0.85"/><line x1="165" y1="383.10" x2="182.56" y2="383.10" stroke="#777" stroke-width="0.45" stroke-opacity="0.85"/><line x1="165" y1="384.00" x2="180.84" y2="384.00" stroke="#777" stroke-width="0.45" stroke-opacity="0.85"/><line x1="165" y1="384.90" x2="181.12" y2="384.90" stroke="#555" stroke-width="0.45" stroke-opacity="0.85"/></g>
<rect x="164.5" y="296.4" width="91.0" height="89.20000000000005" fill="none" stroke="#626262" stroke-width="0.9"/>
<path d="M164.50 385.60v2.2 M164.50 385.60h-2.2 M171.35 385.60v1.2 M164.50 378.89h-1.2 M175.35 385.60v1.2 M164.50 374.96h-1.2 M178.20 385.60v1.2 M164.50 372.17h-1.2 M180.40 385.60v1.2 M164.50 370.01h-1.2 M182.20 385.60v1.2 M164.50 368.25h-1.2 M183.73 385.60v1.2 M164.50 366.75h-1.2 M185.05 385.60v1.2 M164.50 365.46h-1.2 M186.21 385.60v1.2 M164.50 364.32h-1.2 M187.25 385.60v2.2 M164.50 363.30h-2.2 M194.10 385.60v1.2 M164.50 356.59h-1.2 M198.10 385.60v1.2 M164.50 352.66h-1.2 M200.95 385.60v1.2 M164.50 349.87h-1.2 M203.15 385.60v1.2 M164.50 347.71h-1.2 M204.95 385.60v1.2 M164.50 345.95h-1.2 M206.48 385.60v1.2 M164.50 344.45h-1.2 M207.80 385.60v1.2 M164.50 343.16h-1.2 M208.96 385.60v1.2 M164.50 342.02h-1.2 M210.00 385.60v2.2 M164.50 341.00h-2.2 M216.85 385.60v1.2 M164.50 334.29h-1.2 M220.85 385.60v1.2 M164.50 330.36h-1.2 M223.70 385.60v1.2 M164.50 327.57h-1.2 M225.90 385.60v1.2 M164.50 325.41h-1.2 M227.70 385.60v1.2 M164.50 323.65h-1.2 M229.23 385.60v1.2 M164.50 322.15h-1.2 M230.55 385.60v1.2 M164.50 320.86h-1.2 M231.71 385.60v1.2 M164.50 319.72h-1.2 M232.75 385.60v2.2 M164.50 318.70h-2.2 M239.60 385.60v1.2 M164.50 311.99h-1.2 M243.60 385.60v1.2 M164.50 308.06h-1.2 M246.45 385.60v1.2 M164.50 305.27h-1.2 M248.65 385.60v1.2 M164.50 303.11h-1.2 M250.45 385.60v1.2 M164.50 301.35h-1.2 M251.98 385.60v1.2 M164.50 299.85h-1.2 M253.30 385.60v1.2 M164.50 298.56h-1.2 M254.46 385.60v1.2 M164.50 297.42h-1.2 M255.50 385.60v2.2 M164.50 296.40h-2.2" stroke="#777" stroke-width="0.6" fill="none"/>
<text x="162.30" y="396.60" font-size="4.6" fill="#555" stroke="#555" stroke-width="0.12">10<tspan dy="-2" font-size="3.4">0</tspan></text>
<text x="154.50" y="389.20" font-size="4.6" fill="#555" stroke="#555" stroke-width="0.12">10<tspan dy="-2" font-size="3.4">0</tspan></text>
<text x="185.05" y="396.60" font-size="4.6" fill="#555" stroke="#555" stroke-width="0.12">10<tspan dy="-2" font-size="3.4">1</tspan></text>
<text x="154.50" y="366.90" font-size="4.6" fill="#555" stroke="#555" stroke-width="0.12">10<tspan dy="-2" font-size="3.4">1</tspan></text>
<text x="207.80" y="396.60" font-size="4.6" fill="#555" stroke="#555" stroke-width="0.12">10<tspan dy="-2" font-size="3.4">2</tspan></text>
<text x="154.50" y="344.60" font-size="4.6" fill="#555" stroke="#555" stroke-width="0.12">10<tspan dy="-2" font-size="3.4">2</tspan></text>
<text x="230.55" y="396.60" font-size="4.6" fill="#555" stroke="#555" stroke-width="0.12">10<tspan dy="-2" font-size="3.4">3</tspan></text>
<text x="154.50" y="322.30" font-size="4.6" fill="#555" stroke="#555" stroke-width="0.12">10<tspan dy="-2" font-size="3.4">3</tspan></text>
<text x="165.5" y="302" font-size="4.2" fill="#222" stroke="#222" stroke-width="0.1" font-weight="normal" text-anchor="start" >3.77</text>
<text x="167.5" y="314" font-size="7.3" fill="#222" stroke="#222" stroke-width="0.16" font-weight="normal" text-anchor="start" >3.77</text>
<text x="240.2" y="302" font-size="4.2" fill="#222" stroke="#222" stroke-width="0.1" font-weight="normal" text-anchor="start" >0.17</text>
<text x="233.3" y="314" font-size="7.3" fill="#222" stroke="#222" stroke-width="0.16" font-weight="normal" text-anchor="start" >0.17</text>
<text x="233.2" y="379.5" font-size="7.3" fill="#222" stroke="#222" stroke-width="0.16" font-weight="normal" text-anchor="start" >1.70</text>
<text x="240.4" y="383.8" font-size="4.2" fill="#222" stroke="#222" stroke-width="0.1" font-weight="normal" text-anchor="start" >1.70</text>
<text x="181.7" y="408.5" font-size="8.77" fill="#222" stroke="#222" stroke-width="0.3" font-weight="normal" text-anchor="start" >IL-3R&#945;-PE</text>
<text transform="translate(150,362.0) rotate(-90)" x="0" y="0" font-size="8.6" fill="#222" stroke="#222" stroke-width="0.3">CD34-FITC</text>
<line x1="320.2" y1="298.6" x2="320.2" y2="387.5" stroke="#8a8a8a" stroke-width="0.8"/>
<line x1="296.5" y1="365.6" x2="390.9" y2="365.6" stroke="#8a8a8a" stroke-width="0.8"/>
<defs><clipPath id="c24"><rect x="296.5" y="298.6" width="94.39999999999998" height="88.89999999999998"/></clipPath></defs><g clip-path="url(#c24)"><path d="M294.00 361.50 C294.75 357.03 295.50 360.98 296.50 361.20 C297.50 361.42 299.13 362.48 300.00 362.80 C300.87 363.12 300.93 363.45 301.70 363.10 C302.47 362.75 302.98 361.35 304.60 360.70 C306.22 360.05 309.13 359.20 311.40 359.20 C313.67 359.20 316.52 359.98 318.20 360.70 C319.88 361.42 320.68 362.37 321.50 363.50 C322.32 364.63 322.75 365.70 323.10 367.50 C323.45 369.30 323.93 372.37 323.60 374.30 C323.27 376.23 321.28 377.65 321.10 379.10 C320.92 380.55 321.68 381.35 322.50 383.00 C323.32 384.65 326.42 387.17 326.00 389.00 C325.58 390.83 322.67 393.00 320.00 394.00 C317.33 395.00 313.50 395.00 310.00 395.00 C306.50 395.00 302.00 395.17 299.00 394.00 C296.00 392.83 292.83 393.42 292.00 388.00 C291.17 382.58 293.25 365.97 294.00 361.50Z" fill="#fff" fill-opacity="0.9"/>
<path d="M323.69 372.00 L323.71 373.12 L323.61 374.24 L323.27 375.31 L322.70 376.30 L322.06 377.20 L321.47 378.10 L321.10 379.14 L321.33 380.75 L324.24 385.34 L325.74 389.68 L324.42 391.31 L322.78 392.58 L320.97 393.59 L319.02 394.31 L316.98 394.70 L314.94 394.90 L312.91 394.98 L310.90 395.00 L308.89 395.00 L306.84 395.01 L304.75 394.96 L302.60 394.80 L300.44 394.44 L298.33 393.77 L296.09 393.14 L294.00 392.14 L292.62 390.28 L291.99 387.87 L291.82 385.36 L291.83 383.01 L291.92 380.85 L292.04 378.86 L292.18 377.02 L292.33 375.27 L292.48 373.61 L292.65 372.00 L292.82 370.42 L293.00 368.84 L293.19 367.26 L293.40 365.63 L293.63 363.95 L293.89 362.18 L294.25 360.34 L299.88 362.75 L301.89 362.99 L302.67 362.19 L303.47 361.39 L304.42 360.78 L305.48 360.37 L306.54 360.03 L307.62 359.74 L308.70 359.50 L309.79 359.32 L310.90 359.21 L312.02 359.22 L313.13 359.33 L314.25 359.51 L315.35 359.76 L316.46 360.07 L317.57 360.45 L318.66 360.91 L319.68 361.54 L320.57 362.33 L321.32 363.26 L321.98 364.24 L322.50 365.30 L322.86 366.42 L323.11 367.56 L323.31 368.67 L323.48 369.78 L323.61 370.89Z" fill="none" stroke="#5a5a5a" stroke-width="0.45" stroke-linejoin="round"/>
<path d="M323.00 372.00 L322.96 373.06 L323.07 374.15 L323.28 375.32 L323.40 376.55 L323.42 377.84 L323.31 379.16 L323.06 380.51 L322.65 381.86 L322.09 383.19 L321.38 384.49 L320.53 385.75 L319.54 386.97 L318.42 388.13 L317.17 389.23 L315.79 390.24 L314.27 391.10 L312.62 391.61 L310.90 391.81 L309.16 391.86 L307.42 391.72 L305.71 391.37 L304.05 390.82 L302.47 390.08 L300.99 389.17 L299.62 388.12 L298.37 386.93 L297.26 385.64 L296.31 384.24 L295.52 382.77 L294.89 381.24 L294.43 379.68 L294.12 378.11 L293.97 376.54 L293.97 374.98 L294.06 373.47 L294.20 372.00 L294.66 370.58 L295.26 369.24 L295.91 367.98 L296.61 366.80 L297.38 365.69 L298.20 364.67 L299.09 363.73 L300.04 362.89 L301.04 362.14 L302.08 361.49 L303.17 360.96 L304.28 360.54 L305.42 360.25 L306.57 360.09 L307.70 360.07 L308.76 359.89 L309.83 359.72 L310.90 359.63 L311.98 359.65 L313.06 359.76 L314.12 359.97 L315.17 360.27 L316.18 360.67 L317.15 361.17 L318.07 361.76 L318.93 362.43 L319.72 363.18 L320.44 364.00 L321.08 364.87 L321.64 365.80 L322.12 366.77 L322.50 367.78 L322.78 368.82 L322.94 369.88 L323.01 370.94Z" fill="none" stroke="#5a5a5a" stroke-width="0.45" stroke-linejoin="round"/>
<path d="M322.16 372.00 L322.12 372.98 L322.17 373.99 L322.27 375.05 L322.28 376.14 L322.21 377.27 L322.02 378.42 L321.73 379.58 L321.30 380.73 L320.75 381.85 L320.08 382.94 L319.29 383.98 L318.39 384.98 L317.39 385.92 L316.28 386.79 L315.07 387.58 L313.76 388.24 L312.36 388.63 L310.90 388.79 L309.43 388.81 L307.96 388.67 L306.51 388.37 L305.11 387.89 L303.78 387.27 L302.52 386.51 L301.36 385.63 L300.30 384.64 L299.35 383.55 L298.52 382.39 L297.83 381.15 L297.26 379.87 L296.84 378.56 L296.54 377.23 L296.37 375.89 L296.32 374.57 L296.35 373.27 L296.44 372.00 L296.77 370.76 L297.22 369.59 L297.72 368.47 L298.27 367.40 L298.89 366.40 L299.57 365.46 L300.32 364.59 L301.12 363.79 L301.98 363.08 L302.88 362.45 L303.83 361.91 L304.82 361.47 L305.83 361.14 L306.87 360.92 L307.90 360.82 L308.89 360.62 L309.89 360.47 L310.90 360.40 L311.91 360.42 L312.92 360.54 L313.92 360.75 L314.89 361.04 L315.83 361.43 L316.73 361.90 L317.58 362.46 L318.37 363.10 L319.10 363.80 L319.76 364.57 L320.35 365.38 L320.87 366.25 L321.31 367.15 L321.66 368.08 L321.91 369.05 L322.08 370.03 L322.16 371.02Z" fill="none" stroke="#5a5a5a" stroke-width="0.45" stroke-linejoin="round"/>
<path d="M321.35 372.00 L321.31 372.91 L321.32 373.84 L321.35 374.80 L321.31 375.79 L321.18 376.80 L320.97 377.81 L320.65 378.83 L320.22 379.82 L319.70 380.80 L319.06 381.73 L318.34 382.62 L317.52 383.46 L316.61 384.24 L315.62 384.96 L314.55 385.60 L313.39 386.13 L312.16 386.45 L310.90 386.57 L309.63 386.57 L308.35 386.44 L307.10 386.17 L305.89 385.76 L304.73 385.22 L303.64 384.57 L302.63 383.81 L301.71 382.96 L300.87 382.03 L300.15 381.02 L299.53 379.96 L299.02 378.86 L298.62 377.72 L298.34 376.57 L298.16 375.41 L298.09 374.26 L298.09 373.12 L298.14 372.00 L298.39 370.91 L298.73 369.85 L299.14 368.85 L299.59 367.88 L300.11 366.97 L300.69 366.10 L301.33 365.30 L302.02 364.55 L302.78 363.88 L303.58 363.27 L304.42 362.75 L305.30 362.31 L306.22 361.96 L307.16 361.72 L308.11 361.57 L309.03 361.38 L309.96 361.24 L310.90 361.18 L311.84 361.21 L312.78 361.32 L313.71 361.52 L314.61 361.81 L315.48 362.17 L316.31 362.62 L317.10 363.15 L317.83 363.74 L318.50 364.40 L319.11 365.11 L319.65 365.87 L320.13 366.67 L320.53 367.51 L320.86 368.38 L321.10 369.27 L321.26 370.17 L321.33 371.09Z" fill="none" stroke="#5a5a5a" stroke-width="0.45" stroke-linejoin="round"/>
<path d="M320.54 372.00 L320.51 372.84 L320.50 373.69 L320.48 374.57 L320.41 375.46 L320.25 376.36 L320.02 377.26 L319.70 378.16 L319.28 379.04 L318.78 379.88 L318.20 380.70 L317.53 381.46 L316.78 382.18 L315.96 382.85 L315.07 383.45 L314.11 383.98 L313.09 384.41 L312.01 384.66 L310.90 384.76 L309.78 384.76 L308.67 384.64 L307.58 384.39 L306.52 384.03 L305.51 383.56 L304.56 382.99 L303.67 382.33 L302.85 381.59 L302.12 380.78 L301.47 379.91 L300.92 378.99 L300.46 378.03 L300.10 377.04 L299.83 376.03 L299.65 375.01 L299.56 374.00 L299.54 372.99 L299.57 372.00 L299.76 371.03 L300.03 370.08 L300.36 369.18 L300.74 368.30 L301.18 367.47 L301.68 366.68 L302.23 365.93 L302.84 365.24 L303.51 364.61 L304.22 364.03 L304.97 363.53 L305.77 363.11 L306.59 362.76 L307.44 362.50 L308.31 362.34 L309.16 362.16 L310.03 362.02 L310.90 361.97 L311.77 362.00 L312.64 362.11 L313.50 362.30 L314.33 362.57 L315.14 362.92 L315.90 363.34 L316.62 363.83 L317.30 364.38 L317.91 364.99 L318.47 365.65 L318.97 366.35 L319.41 367.09 L319.78 367.86 L320.07 368.66 L320.30 369.48 L320.45 370.32 L320.53 371.16Z" fill="none" stroke="#5a5a5a" stroke-width="0.45" stroke-linejoin="round"/>
<path d="M319.66 372.00 L319.63 372.76 L319.60 373.53 L319.56 374.32 L319.46 375.11 L319.29 375.91 L319.05 376.71 L318.74 377.49 L318.35 378.25 L317.88 378.98 L317.34 379.68 L316.74 380.34 L316.06 380.95 L315.33 381.50 L314.54 382.00 L313.70 382.43 L312.80 382.78 L311.86 382.99 L310.90 383.06 L309.93 383.05 L308.97 382.94 L308.03 382.73 L307.11 382.41 L306.23 382.00 L305.41 381.51 L304.64 380.95 L303.93 380.31 L303.29 379.61 L302.72 378.86 L302.23 378.07 L301.82 377.24 L301.49 376.39 L301.24 375.52 L301.07 374.63 L300.97 373.75 L300.94 372.87 L300.95 372.00 L301.09 371.14 L301.30 370.31 L301.57 369.50 L301.88 368.72 L302.25 367.97 L302.68 367.25 L303.15 366.58 L303.68 365.94 L304.26 365.36 L304.89 364.83 L305.55 364.36 L306.26 363.96 L306.99 363.63 L307.76 363.37 L308.54 363.19 L309.32 363.02 L310.10 362.90 L310.90 362.85 L311.70 362.88 L312.49 362.99 L313.27 363.17 L314.02 363.42 L314.75 363.73 L315.45 364.12 L316.10 364.57 L316.71 365.07 L317.27 365.63 L317.78 366.23 L318.23 366.87 L318.62 367.54 L318.95 368.24 L319.23 368.97 L319.43 369.71 L319.57 370.47 L319.65 371.23Z" fill="none" stroke="#5a5a5a" stroke-width="0.45" stroke-linejoin="round"/>
<path d="M318.85 372.00 L318.83 372.69 L318.79 373.39 L318.73 374.10 L318.62 374.81 L318.44 375.52 L318.21 376.22 L317.91 376.91 L317.55 377.58 L317.12 378.22 L316.63 378.82 L316.08 379.39 L315.47 379.92 L314.81 380.39 L314.11 380.81 L313.36 381.17 L312.57 381.46 L311.74 381.63 L310.90 381.69 L310.05 381.67 L309.21 381.57 L308.39 381.38 L307.59 381.10 L306.82 380.75 L306.10 380.32 L305.42 379.83 L304.80 379.27 L304.23 378.67 L303.73 378.01 L303.30 377.32 L302.93 376.60 L302.63 375.86 L302.40 375.09 L302.24 374.32 L302.14 373.54 L302.10 372.77 L302.10 372.00 L302.21 371.24 L302.37 370.50 L302.59 369.77 L302.86 369.07 L303.17 368.40 L303.54 367.75 L303.95 367.14 L304.42 366.56 L304.93 366.03 L305.48 365.54 L306.07 365.11 L306.70 364.73 L307.36 364.41 L308.05 364.16 L308.75 363.99 L309.46 363.82 L310.18 363.72 L310.90 363.68 L311.63 363.70 L312.35 363.80 L313.05 363.97 L313.74 364.20 L314.40 364.49 L315.03 364.84 L315.62 365.25 L316.18 365.71 L316.68 366.22 L317.14 366.76 L317.55 367.35 L317.90 367.96 L318.20 368.59 L318.45 369.25 L318.64 369.93 L318.77 370.61 L318.84 371.31Z" fill="none" stroke="#5a5a5a" stroke-width="0.45" stroke-linejoin="round"/>
<path d="M318.00 372.00 L317.98 372.62 L317.93 373.24 L317.87 373.87 L317.75 374.49 L317.58 375.11 L317.36 375.73 L317.08 376.33 L316.75 376.90 L316.36 377.46 L315.92 377.98 L315.43 378.46 L314.89 378.91 L314.31 379.31 L313.69 379.66 L313.03 379.96 L312.34 380.19 L311.63 380.33 L310.90 380.38 L310.17 380.36 L309.44 380.27 L308.73 380.10 L308.04 379.86 L307.38 379.55 L306.75 379.19 L306.17 378.76 L305.63 378.28 L305.14 377.76 L304.70 377.20 L304.32 376.61 L303.99 375.99 L303.73 375.34 L303.52 374.69 L303.37 374.02 L303.27 373.35 L303.23 372.67 L303.22 372.00 L303.30 371.34 L303.43 370.68 L303.61 370.05 L303.83 369.43 L304.10 368.83 L304.41 368.25 L304.77 367.70 L305.17 367.19 L305.61 366.71 L306.09 366.27 L306.61 365.87 L307.16 365.53 L307.75 365.24 L308.35 365.00 L308.98 364.83 L309.61 364.68 L310.25 364.59 L310.90 364.55 L311.55 364.58 L312.19 364.67 L312.82 364.82 L313.44 365.03 L314.03 365.29 L314.59 365.61 L315.12 365.97 L315.61 366.39 L316.06 366.84 L316.47 367.33 L316.83 367.85 L317.15 368.39 L317.42 368.96 L317.63 369.55 L317.80 370.15 L317.92 370.76 L317.98 371.38Z" fill="none" stroke="#5a5a5a" stroke-width="0.45" stroke-linejoin="round"/>
<path d="M317.11 372.00 L317.09 372.54 L317.04 373.08 L316.97 373.63 L316.86 374.17 L316.70 374.70 L316.49 375.23 L316.24 375.74 L315.95 376.23 L315.60 376.70 L315.22 377.14 L314.79 377.55 L314.32 377.93 L313.82 378.26 L313.28 378.55 L312.72 378.79 L312.13 378.97 L311.52 379.08 L310.90 379.12 L310.28 379.10 L309.66 379.02 L309.06 378.88 L308.47 378.68 L307.91 378.42 L307.38 378.10 L306.88 377.74 L306.42 377.34 L306.00 376.90 L305.63 376.43 L305.30 375.92 L305.02 375.40 L304.78 374.85 L304.60 374.29 L304.46 373.73 L304.37 373.15 L304.33 372.58 L304.32 372.00 L304.37 371.43 L304.48 370.87 L304.62 370.32 L304.80 369.78 L305.02 369.26 L305.28 368.76 L305.59 368.28 L305.93 367.83 L306.30 367.40 L306.72 367.02 L307.16 366.67 L307.64 366.36 L308.15 366.09 L308.67 365.88 L309.22 365.72 L309.77 365.59 L310.33 365.51 L310.90 365.48 L311.47 365.50 L312.03 365.58 L312.59 365.71 L313.12 365.89 L313.64 366.13 L314.13 366.41 L314.59 366.73 L315.02 367.09 L315.41 367.49 L315.77 367.92 L316.08 368.37 L316.36 368.85 L316.59 369.35 L316.78 369.86 L316.93 370.38 L317.03 370.92 L317.09 371.46Z" fill="none" stroke="#5a5a5a" stroke-width="0.45" stroke-linejoin="round"/>
<path d="M316.19 372.00 L316.17 372.46 L316.12 372.92 L316.05 373.38 L315.95 373.84 L315.80 374.29 L315.62 374.73 L315.40 375.15 L315.15 375.56 L314.85 375.95 L314.52 376.32 L314.16 376.65 L313.76 376.96 L313.34 377.23 L312.89 377.46 L312.42 377.66 L311.92 377.80 L311.42 377.89 L310.90 377.92 L310.38 377.90 L309.87 377.83 L309.37 377.71 L308.88 377.54 L308.42 377.32 L307.98 377.07 L307.56 376.77 L307.18 376.44 L306.83 376.07 L306.52 375.68 L306.24 375.26 L306.00 374.83 L305.81 374.38 L305.65 373.91 L305.53 373.44 L305.45 372.96 L305.40 372.48 L305.39 372.00 L305.43 371.52 L305.51 371.05 L305.62 370.59 L305.77 370.13 L305.95 369.69 L306.16 369.26 L306.41 368.86 L306.70 368.47 L307.01 368.11 L307.36 367.78 L307.73 367.48 L308.13 367.21 L308.56 366.98 L309.00 366.79 L309.47 366.65 L309.94 366.54 L310.42 366.46 L310.90 366.44 L311.38 366.46 L311.86 366.53 L312.34 366.64 L312.79 366.80 L313.23 367.00 L313.65 367.24 L314.04 367.51 L314.41 367.82 L314.74 368.16 L315.04 368.53 L315.31 368.91 L315.54 369.32 L315.74 369.74 L315.90 370.18 L316.03 370.63 L316.12 371.08 L316.17 371.54Z" fill="none" stroke="#5a5a5a" stroke-width="0.45" stroke-linejoin="round"/>
<path d="M315.23 372.00 L315.22 372.38 L315.18 372.75 L315.12 373.13 L315.02 373.50 L314.90 373.87 L314.75 374.22 L314.56 374.57 L314.35 374.89 L314.11 375.21 L313.84 375.50 L313.54 375.77 L313.22 376.01 L312.87 376.22 L312.50 376.41 L312.12 376.55 L311.72 376.67 L311.31 376.73 L310.90 376.76 L310.49 376.74 L310.07 376.68 L309.67 376.58 L309.28 376.45 L308.91 376.27 L308.55 376.07 L308.22 375.83 L307.91 375.56 L307.63 375.27 L307.38 374.96 L307.15 374.62 L306.96 374.27 L306.80 373.91 L306.67 373.54 L306.57 373.16 L306.50 372.78 L306.46 372.39 L306.45 372.00 L306.48 371.61 L306.53 371.23 L306.62 370.85 L306.73 370.48 L306.87 370.12 L307.05 369.77 L307.25 369.44 L307.47 369.12 L307.73 368.83 L308.01 368.55 L308.31 368.30 L308.64 368.08 L308.98 367.89 L309.35 367.73 L309.72 367.61 L310.11 367.52 L310.50 367.46 L310.90 367.44 L311.30 367.46 L311.69 367.51 L312.08 367.61 L312.45 367.74 L312.81 367.90 L313.15 368.10 L313.47 368.32 L313.77 368.58 L314.05 368.85 L314.29 369.15 L314.51 369.47 L314.70 369.80 L314.87 370.15 L315.00 370.51 L315.10 370.87 L315.17 371.25 L315.22 371.62Z" fill="none" stroke="#5a5a5a" stroke-width="0.45" stroke-linejoin="round"/>
<path d="M314.25 372.00 L314.24 372.29 L314.21 372.58 L314.16 372.87 L314.08 373.16 L313.99 373.44 L313.86 373.71 L313.72 373.97 L313.55 374.23 L313.36 374.46 L313.15 374.69 L312.92 374.89 L312.67 375.07 L312.41 375.23 L312.13 375.37 L311.83 375.48 L311.53 375.56 L311.22 375.61 L310.90 375.62 L310.58 375.61 L310.27 375.57 L309.96 375.49 L309.67 375.39 L309.38 375.26 L309.11 375.10 L308.86 374.92 L308.62 374.71 L308.41 374.49 L308.21 374.25 L308.04 374.00 L307.89 373.74 L307.77 373.46 L307.67 373.18 L307.59 372.89 L307.53 372.59 L307.50 372.30 L307.49 372.00 L307.51 371.70 L307.55 371.41 L307.61 371.12 L307.70 370.83 L307.80 370.56 L307.93 370.29 L308.08 370.03 L308.26 369.78 L308.45 369.55 L308.67 369.34 L308.90 369.14 L309.15 368.97 L309.42 368.82 L309.70 368.69 L309.99 368.60 L310.29 368.52 L310.59 368.48 L310.90 368.46 L311.21 368.48 L311.51 368.52 L311.81 368.59 L312.10 368.70 L312.38 368.82 L312.65 368.98 L312.89 369.15 L313.12 369.35 L313.34 369.56 L313.53 369.80 L313.70 370.04 L313.84 370.30 L313.97 370.57 L314.07 370.84 L314.15 371.13 L314.21 371.42 L314.24 371.71Z" fill="none" stroke="#5a5a5a" stroke-width="0.45" stroke-linejoin="round"/>
<path d="M313.26 372.00 L313.25 372.21 L313.23 372.41 L313.19 372.61 L313.14 372.81 L313.06 373.01 L312.98 373.20 L312.88 373.38 L312.76 373.56 L312.62 373.72 L312.47 373.88 L312.31 374.02 L312.14 374.14 L311.95 374.25 L311.75 374.35 L311.55 374.42 L311.34 374.48 L311.12 374.51 L310.90 374.52 L310.68 374.51 L310.46 374.48 L310.25 374.43 L310.04 374.35 L309.85 374.26 L309.66 374.15 L309.48 374.03 L309.32 373.89 L309.17 373.73 L309.03 373.57 L308.91 373.39 L308.81 373.21 L308.72 373.02 L308.65 372.82 L308.59 372.62 L308.55 372.41 L308.53 372.21 L308.52 372.00 L308.53 371.79 L308.56 371.59 L308.60 371.38 L308.66 371.18 L308.73 370.99 L308.82 370.80 L308.93 370.62 L309.05 370.44 L309.18 370.28 L309.33 370.13 L309.49 369.99 L309.67 369.87 L309.86 369.76 L310.05 369.67 L310.26 369.60 L310.47 369.55 L310.68 369.52 L310.90 369.51 L311.12 369.52 L311.33 369.55 L311.54 369.60 L311.75 369.67 L311.94 369.76 L312.13 369.87 L312.30 370.00 L312.47 370.13 L312.61 370.29 L312.75 370.45 L312.87 370.62 L312.97 370.80 L313.06 370.99 L313.13 371.19 L313.19 371.39 L313.23 371.59 L313.25 371.79Z" fill="none" stroke="#5a5a5a" stroke-width="0.45" stroke-linejoin="round"/><defs><radialGradient id="g23" gradientUnits="userSpaceOnUse" cx="310.9" cy="372" r="1" gradientTransform="translate(310.9 372) scale(9 11) translate(-310.9 -372)"><stop offset="0" stop-color="#fff" stop-opacity="0.3"/><stop offset="0.1" stop-color="#fff" stop-opacity="0.0"/><stop offset="0.18" stop-color="#555" stop-opacity="0.45"/><stop offset="0.65" stop-color="#555" stop-opacity="0.3375"/><stop offset="1" stop-color="#555" stop-opacity="0"/></radialGradient></defs><ellipse cx="310.9" cy="372" rx="9" ry="11" fill="url(#g23)"/><ellipse cx="311" cy="372" rx="0.6" ry="1.3" fill="#fff" fill-opacity="0.6"/><rect x="296.5" y="360" width="3.3000000000000114" height="26.80000000000001" fill="#8a8a8a" fill-opacity="0.385"/><line x1="296.80" y1="362.06" x2="296.80" y2="386.8" stroke="#555" stroke-width="0.45" stroke-opacity="0.7"/><line x1="297.70" y1="362.06" x2="297.70" y2="386.8" stroke="#888" stroke-width="0.45" stroke-opacity="0.7"/><line x1="298.60" y1="361.74" x2="298.60" y2="386.8" stroke="#777" stroke-width="0.45" stroke-opacity="0.7"/><line x1="299.50" y1="362.63" x2="299.50" y2="386.8" stroke="#888" stroke-width="0.45" stroke-opacity="0.7"/><rect x="297" y="383" width="23" height="3.8000000000000114" fill="#888" fill-opacity="0.51"/><line x1="297" y1="383.30" x2="318.03" y2="383.30" stroke="#777" stroke-width="0.45" stroke-opacity="0.85"/><line x1="297" y1="384.20" x2="319.04" y2="384.20" stroke="#555" stroke-width="0.45" stroke-opacity="0.85"/><line x1="297" y1="385.10" x2="318.10" y2="385.10" stroke="#777" stroke-width="0.45" stroke-opacity="0.85"/><line x1="297" y1="386.00" x2="319.45" y2="386.00" stroke="#555" stroke-width="0.45" stroke-opacity="0.85"/></g>
<rect x="296.5" y="298.6" width="94.39999999999998" height="88.89999999999998" fill="none" stroke="#626262" stroke-width="0.9"/>
<path d="M296.50 387.50v2.2 M296.50 387.50h-2.2 M303.60 387.50v1.2 M296.50 380.81h-1.2 M307.76 387.50v1.2 M296.50 376.90h-1.2 M310.71 387.50v1.2 M296.50 374.12h-1.2 M313.00 387.50v1.2 M296.50 371.97h-1.2 M314.86 387.50v1.2 M296.50 370.21h-1.2 M316.44 387.50v1.2 M296.50 368.72h-1.2 M317.81 387.50v1.2 M296.50 367.43h-1.2 M319.02 387.50v1.2 M296.50 366.29h-1.2 M320.10 387.50v2.2 M296.50 365.27h-2.2 M327.20 387.50v1.2 M296.50 358.58h-1.2 M331.36 387.50v1.2 M296.50 354.67h-1.2 M334.31 387.50v1.2 M296.50 351.89h-1.2 M336.60 387.50v1.2 M296.50 349.74h-1.2 M338.46 387.50v1.2 M296.50 347.98h-1.2 M340.04 387.50v1.2 M296.50 346.49h-1.2 M341.41 387.50v1.2 M296.50 345.20h-1.2 M342.62 387.50v1.2 M296.50 344.07h-1.2 M343.70 387.50v2.2 M296.50 343.05h-2.2 M350.80 387.50v1.2 M296.50 336.36h-1.2 M354.96 387.50v1.2 M296.50 332.45h-1.2 M357.91 387.50v1.2 M296.50 329.67h-1.2 M360.20 387.50v1.2 M296.50 327.52h-1.2 M362.06 387.50v1.2 M296.50 325.76h-1.2 M363.64 387.50v1.2 M296.50 324.27h-1.2 M365.01 387.50v1.2 M296.50 322.98h-1.2 M366.22 387.50v1.2 M296.50 321.84h-1.2 M367.30 387.50v2.2 M296.50 320.83h-2.2 M374.40 387.50v1.2 M296.50 314.13h-1.2 M378.56 387.50v1.2 M296.50 310.22h-1.2 M381.51 387.50v1.2 M296.50 307.44h-1.2 M383.80 387.50v1.2 M296.50 305.29h-1.2 M385.66 387.50v1.2 M296.50 303.53h-1.2 M387.24 387.50v1.2 M296.50 302.04h-1.2 M388.61 387.50v1.2 M296.50 300.75h-1.2 M389.82 387.50v1.2 M296.50 299.62h-1.2 M390.90 387.50v2.2 M296.50 298.60h-2.2" stroke="#777" stroke-width="0.6" fill="none"/>
<text x="294.30" y="398.50" font-size="4.6" fill="#555" stroke="#555" stroke-width="0.12">10<tspan dy="-2" font-size="3.4">0</tspan></text>
<text x="286.50" y="391.10" font-size="4.6" fill="#555" stroke="#555" stroke-width="0.12">10<tspan dy="-2" font-size="3.4">0</tspan></text>
<text x="317.90" y="398.50" font-size="4.6" fill="#555" stroke="#555" stroke-width="0.12">10<tspan dy="-2" font-size="3.4">1</tspan></text>
<text x="286.50" y="368.88" font-size="4.6" fill="#555" stroke="#555" stroke-width="0.12">10<tspan dy="-2" font-size="3.4">1</tspan></text>
<text x="341.50" y="398.50" font-size="4.6" fill="#555" stroke="#555" stroke-width="0.12">10<tspan dy="-2" font-size="3.4">2</tspan></text>
<text x="286.50" y="346.65" font-size="4.6" fill="#555" stroke="#555" stroke-width="0.12">10<tspan dy="-2" font-size="3.4">2</tspan></text>
<text x="365.10" y="398.50" font-size="4.6" fill="#555" stroke="#555" stroke-width="0.12">10<tspan dy="-2" font-size="3.4">3</tspan></text>
<text x="286.50" y="324.43" font-size="4.6" fill="#555" stroke="#555" stroke-width="0.12">10<tspan dy="-2" font-size="3.4">3</tspan></text>
<text x="298.9" y="303.8" font-size="4.2" fill="#222" stroke="#222" stroke-width="0.1" font-weight="normal" text-anchor="start" >8.21</text>
<text x="298.2" y="315.8" font-size="7.3" fill="#222" stroke="#222" stroke-width="0.16" font-weight="normal" text-anchor="start" >8.21</text>
<text x="374.4" y="303.8" font-size="4.2" fill="#222" stroke="#222" stroke-width="0.1" font-weight="normal" text-anchor="start" >0.64</text>
<text x="373" y="315.8" font-size="7.3" fill="#222" stroke="#222" stroke-width="0.16" font-weight="normal" text-anchor="start" >0.64</text>
<text x="372.8" y="377.3" font-size="7.3" fill="#222" stroke="#222" stroke-width="0.16" font-weight="normal" text-anchor="start" >3.93</text>
<text x="374.9" y="386" font-size="4.2" fill="#222" stroke="#222" stroke-width="0.1" font-weight="normal" text-anchor="start" >3.93</text>
<text x="317.2" y="410.1" font-size="8.6" fill="#222" stroke="#222" stroke-width="0.3" font-weight="normal" text-anchor="start" >FL3-Height</text>
<text transform="translate(282,364.0) rotate(-90)" x="0" y="0" font-size="8.6" fill="#222" stroke="#222" stroke-width="0.3">CD45-APC</text>
<line x1="448.9" y1="301" x2="448.9" y2="389.9" stroke="#8a8a8a" stroke-width="0.8"/>
<line x1="423.1" y1="359.3" x2="517.3" y2="359.3" stroke="#8a8a8a" stroke-width="0.8"/>
<defs><clipPath id="c26"><rect x="423.1" y="301" width="94.19999999999993" height="88.89999999999998"/></clipPath></defs><g clip-path="url(#c26)"><path d="M432.80 349.00 L432.44 349.69 L432.06 350.33 L431.68 350.92 L431.27 351.46 L430.81 351.94 L430.34 352.37 L429.88 352.77 L429.44 353.15 L429.02 353.52 L428.63 353.92 L428.25 354.36 L427.91 354.90 L427.56 355.56 L427.19 356.38 L426.73 357.31 L426.10 358.09 L425.36 358.83 L424.50 359.47 L423.59 359.45 L422.86 358.29 L422.38 356.92 L422.04 355.75 L421.80 354.79 L421.62 353.99 L421.48 353.31 L421.38 352.72 L421.29 352.21 L421.22 351.75 L421.17 351.33 L421.12 350.95 L421.09 350.59 L421.05 350.25 L421.03 349.93 L421.01 349.61 L421.01 349.31 L421.00 349.00 L421.01 348.69 L421.01 348.38 L421.02 348.07 L421.04 347.74 L421.06 347.40 L421.09 347.03 L421.13 346.64 L421.17 346.21 L421.23 345.73 L421.30 345.18 L421.39 344.56 L421.51 343.82 L421.68 342.95 L421.92 341.92 L422.28 340.72 L422.83 339.52 L423.63 339.01 L424.50 339.53 L425.26 340.35 L425.88 341.15 L426.42 341.85 L426.88 342.46 L427.30 342.99 L427.71 343.44 L428.11 343.84 L428.55 344.18 L429.03 344.47 L429.57 344.75 L430.18 345.02 L430.89 345.31 L431.70 345.64 L432.51 346.08 L433.10 346.70 L433.25 347.46 L433.10 348.25Z" fill="none" stroke="#666" stroke-width="0.45" stroke-linejoin="round"/>
<path d="M428.21 349.00 L428.19 349.32 L428.15 349.64 L428.09 349.96 L428.01 350.28 L427.90 350.58 L427.77 350.89 L427.62 351.18 L427.45 351.47 L427.26 351.76 L427.04 352.03 L426.81 352.29 L426.54 352.54 L426.25 352.75 L425.93 352.93 L425.59 353.08 L425.24 353.18 L424.87 353.24 L424.50 353.25 L424.13 353.22 L423.77 353.15 L423.42 353.03 L423.09 352.87 L422.78 352.68 L422.51 352.45 L422.26 352.20 L422.04 351.93 L421.85 351.65 L421.69 351.36 L421.55 351.07 L421.43 350.77 L421.33 350.48 L421.25 350.18 L421.19 349.89 L421.14 349.59 L421.12 349.30 L421.11 349.00 L421.11 348.70 L421.14 348.41 L421.18 348.11 L421.24 347.82 L421.32 347.52 L421.42 347.22 L421.54 346.93 L421.68 346.63 L421.84 346.34 L422.03 346.06 L422.26 345.79 L422.51 345.55 L422.79 345.33 L423.10 345.14 L423.43 344.99 L423.77 344.87 L424.13 344.80 L424.50 344.77 L424.87 344.79 L425.23 344.85 L425.58 344.96 L425.92 345.10 L426.24 345.28 L426.53 345.49 L426.80 345.72 L427.04 345.97 L427.26 346.24 L427.46 346.52 L427.64 346.80 L427.79 347.10 L427.92 347.41 L428.02 347.72 L428.10 348.03 L428.16 348.35 L428.20 348.68Z" fill="none" stroke="#666" stroke-width="0.45" stroke-linejoin="round"/><rect x="423.2" y="338" width="3.6000000000000227" height="20" fill="#8a8a8a" fill-opacity="0.41250000000000003"/><line x1="423.50" y1="340.84" x2="423.50" y2="358" stroke="#666" stroke-width="0.45" stroke-opacity="0.75"/><line x1="424.40" y1="338.51" x2="424.40" y2="358" stroke="#777" stroke-width="0.45" stroke-opacity="0.75"/><line x1="425.30" y1="340.75" x2="425.30" y2="358" stroke="#666" stroke-width="0.45" stroke-opacity="0.75"/><line x1="426.20" y1="338.65" x2="426.20" y2="358" stroke="#666" stroke-width="0.45" stroke-opacity="0.75"/><path d="M421.00 359.50 C421.70 354.55 421.20 359.33 423.20 359.30 C425.20 359.27 429.63 359.27 433.00 359.30 C436.37 359.33 440.97 358.50 443.40 359.50 C445.83 360.50 446.22 363.98 447.60 365.30 C448.98 366.62 450.55 366.35 451.70 367.40 C452.85 368.45 454.38 370.33 454.50 371.60 C454.62 372.87 453.43 374.20 452.40 375.00 C451.37 375.80 449.33 375.25 448.30 376.40 C447.27 377.55 446.33 379.63 446.20 381.90 C446.07 384.17 448.03 387.82 447.50 390.00 C446.97 392.18 445.08 394.00 443.00 395.00 C440.92 396.00 438.00 396.00 435.00 396.00 C432.00 396.00 427.67 396.17 425.00 395.00 C422.33 393.83 419.67 394.92 419.00 389.00 C418.33 383.08 420.30 364.45 421.00 359.50Z" fill="#fff" fill-opacity="0.9"/>
<path d="M454.36 371.00 L454.32 372.67 L453.29 374.19 L451.54 375.38 L448.86 375.97 L447.89 376.92 L447.26 377.96 L446.77 379.10 L446.41 380.40 L446.20 382.00 L446.62 384.61 L447.57 388.66 L446.96 391.38 L445.56 393.22 L443.78 394.58 L441.75 395.46 L439.58 395.85 L437.39 395.98 L435.20 396.00 L433.01 396.01 L430.80 395.98 L428.55 395.83 L426.31 395.44 L424.15 394.70 L421.88 394.07 L420.06 392.63 L419.17 390.11 L418.89 387.31 L418.88 384.70 L418.94 382.38 L419.04 380.33 L419.15 378.48 L419.26 376.80 L419.38 375.24 L419.50 373.77 L419.62 372.36 L419.74 371.00 L419.86 369.66 L420.00 368.32 L420.13 366.96 L420.28 365.57 L420.44 364.12 L420.61 362.58 L420.81 360.93 L421.05 359.13 L421.47 357.27 L425.37 359.28 L426.99 359.28 L428.43 359.28 L429.73 359.28 L430.94 359.28 L432.06 359.29 L433.14 359.30 L434.17 359.28 L435.20 359.23 L436.23 359.17 L437.30 359.10 L438.40 359.04 L439.56 359.01 L440.78 359.03 L442.04 359.15 L443.28 359.46 L444.35 360.10 L445.17 361.03 L445.80 362.10 L446.33 363.21 L446.86 364.27 L447.55 365.24 L448.74 366.07 L450.79 366.82 L452.30 367.99 L453.47 369.40Z" fill="none" stroke="#5a5a5a" stroke-width="0.45" stroke-linejoin="round"/>
<path d="M449.37 371.00 L449.36 372.24 L449.30 373.49 L449.22 374.76 L449.15 376.08 L448.97 377.42 L448.65 378.76 L448.18 380.09 L447.57 381.38 L446.82 382.62 L445.97 383.84 L445.03 385.04 L444.02 386.28 L442.88 387.47 L441.60 388.59 L440.19 389.61 L438.64 390.50 L436.97 391.23 L435.20 391.70 L433.38 391.77 L431.58 391.51 L429.85 390.97 L428.21 390.19 L426.70 389.23 L425.32 388.11 L424.09 386.87 L423.01 385.52 L422.10 384.10 L421.36 382.61 L420.79 381.09 L420.40 379.54 L420.16 378.01 L420.09 376.50 L420.14 375.04 L420.24 373.64 L420.35 372.30 L420.47 371.00 L420.58 369.72 L420.71 368.45 L421.09 367.22 L421.58 366.04 L422.17 364.92 L422.86 363.87 L423.63 362.90 L424.48 362.01 L425.41 361.21 L426.40 360.51 L427.43 359.91 L428.51 359.42 L429.62 359.04 L430.75 358.78 L431.89 358.64 L433.02 358.62 L434.13 358.74 L435.20 358.74 L436.27 358.79 L437.33 358.91 L438.39 359.11 L439.42 359.40 L440.44 359.77 L441.43 360.21 L442.41 360.71 L443.39 361.24 L444.38 361.82 L445.35 362.48 L446.29 363.23 L447.17 364.09 L447.92 365.07 L448.52 366.15 L448.90 367.33 L449.15 368.54 L449.30 369.77Z" fill="none" stroke="#5a5a5a" stroke-width="0.45" stroke-linejoin="round"/>
<path d="M447.92 371.00 L447.91 372.11 L447.83 373.23 L447.73 374.36 L447.61 375.52 L447.40 376.69 L447.07 377.85 L446.62 379.00 L446.05 380.11 L445.37 381.17 L444.60 382.20 L443.75 383.21 L442.83 384.22 L441.81 385.18 L440.68 386.07 L439.45 386.87 L438.12 387.55 L436.70 388.10 L435.20 388.44 L433.67 388.47 L432.16 388.25 L430.70 387.81 L429.31 387.18 L428.02 386.40 L426.83 385.49 L425.76 384.48 L424.82 383.37 L424.00 382.20 L423.32 380.97 L422.79 379.69 L422.39 378.40 L422.12 377.10 L421.98 375.81 L421.94 374.55 L421.96 373.33 L422.01 372.15 L422.08 371.00 L422.17 369.86 L422.29 368.72 L422.61 367.63 L423.01 366.56 L423.51 365.55 L424.10 364.59 L424.76 363.69 L425.50 362.86 L426.31 362.11 L427.17 361.43 L428.09 360.85 L429.05 360.36 L430.05 359.96 L431.08 359.67 L432.11 359.48 L433.16 359.41 L434.19 359.45 L435.20 359.44 L436.21 359.49 L437.21 359.61 L438.20 359.81 L439.17 360.10 L440.11 360.47 L441.03 360.91 L441.92 361.40 L442.80 361.94 L443.67 362.53 L444.50 363.19 L445.31 363.92 L446.04 364.74 L446.67 365.65 L447.18 366.64 L447.51 367.70 L447.73 368.79 L447.87 369.89Z" fill="none" stroke="#5a5a5a" stroke-width="0.45" stroke-linejoin="round"/>
<path d="M446.72 371.00 L446.71 372.01 L446.63 373.02 L446.51 374.03 L446.37 375.07 L446.15 376.11 L445.82 377.13 L445.40 378.14 L444.87 379.11 L444.24 380.04 L443.54 380.94 L442.76 381.80 L441.93 382.65 L441.01 383.45 L440.00 384.19 L438.91 384.84 L437.74 385.38 L436.50 385.81 L435.20 386.06 L433.88 386.08 L432.57 385.89 L431.31 385.52 L430.11 385.00 L428.98 384.34 L427.94 383.57 L426.99 382.72 L426.15 381.78 L425.41 380.79 L424.79 379.73 L424.29 378.64 L423.89 377.53 L423.61 376.40 L423.44 375.28 L423.36 374.17 L423.34 373.09 L423.35 372.04 L423.39 371.00 L423.47 369.97 L423.58 368.95 L423.84 367.96 L424.19 366.99 L424.62 366.07 L425.13 365.19 L425.71 364.36 L426.36 363.59 L427.08 362.88 L427.85 362.24 L428.68 361.68 L429.55 361.21 L430.45 360.81 L431.38 360.51 L432.34 360.31 L433.30 360.20 L434.26 360.20 L435.20 360.18 L436.14 360.23 L437.08 360.35 L438.00 360.55 L438.90 360.82 L439.78 361.18 L440.62 361.60 L441.44 362.09 L442.24 362.61 L443.01 363.19 L443.75 363.83 L444.44 364.53 L445.08 365.30 L445.62 366.14 L446.06 367.05 L446.35 368.01 L446.56 369.00 L446.68 370.00Z" fill="none" stroke="#5a5a5a" stroke-width="0.45" stroke-linejoin="round"/>
<path d="M445.65 371.00 L445.63 371.91 L445.55 372.82 L445.43 373.74 L445.28 374.67 L445.05 375.59 L444.74 376.51 L444.34 377.40 L443.85 378.26 L443.28 379.08 L442.64 379.86 L441.93 380.61 L441.17 381.34 L440.34 382.02 L439.43 382.63 L438.46 383.17 L437.42 383.61 L436.33 383.95 L435.20 384.14 L434.05 384.15 L432.91 383.98 L431.81 383.67 L430.75 383.22 L429.76 382.66 L428.84 382.01 L428.00 381.28 L427.25 380.48 L426.58 379.62 L426.01 378.71 L425.54 377.77 L425.16 376.79 L424.88 375.81 L424.69 374.82 L424.59 373.84 L424.53 372.88 L424.52 371.93 L424.55 371.00 L424.61 370.07 L424.71 369.15 L424.94 368.25 L425.24 367.37 L425.62 366.53 L426.06 365.73 L426.58 364.96 L427.16 364.25 L427.79 363.59 L428.49 363.00 L429.23 362.47 L430.01 362.01 L430.83 361.63 L431.68 361.34 L432.55 361.12 L433.44 361.00 L434.32 360.97 L435.20 360.95 L436.08 361.00 L436.94 361.11 L437.80 361.30 L438.63 361.56 L439.44 361.90 L440.22 362.30 L440.97 362.76 L441.69 363.27 L442.38 363.82 L443.03 364.43 L443.65 365.09 L444.20 365.81 L444.67 366.58 L445.05 367.42 L445.31 368.29 L445.50 369.18 L445.60 370.09Z" fill="none" stroke="#5a5a5a" stroke-width="0.45" stroke-linejoin="round"/>
<path d="M444.55 371.00 L444.52 371.82 L444.45 372.63 L444.33 373.45 L444.18 374.27 L443.96 375.08 L443.66 375.89 L443.29 376.67 L442.85 377.42 L442.33 378.13 L441.76 378.81 L441.12 379.46 L440.44 380.08 L439.70 380.64 L438.90 381.15 L438.04 381.59 L437.13 381.94 L436.18 382.21 L435.20 382.36 L434.21 382.35 L433.22 382.20 L432.27 381.94 L431.35 381.57 L430.49 381.10 L429.69 380.55 L428.95 379.93 L428.28 379.25 L427.69 378.51 L427.17 377.74 L426.74 376.92 L426.39 376.09 L426.12 375.24 L425.92 374.38 L425.80 373.52 L425.73 372.67 L425.70 371.83 L425.71 371.00 L425.76 370.17 L425.85 369.35 L426.04 368.55 L426.31 367.76 L426.63 367.00 L427.02 366.28 L427.47 365.59 L427.98 364.94 L428.54 364.34 L429.15 363.79 L429.81 363.30 L430.51 362.88 L431.24 362.52 L432.01 362.23 L432.79 362.02 L433.59 361.89 L434.40 361.84 L435.20 361.82 L436.00 361.86 L436.79 361.97 L437.57 362.14 L438.33 362.39 L439.07 362.70 L439.77 363.08 L440.45 363.51 L441.09 363.98 L441.70 364.50 L442.28 365.06 L442.81 365.67 L443.28 366.33 L443.69 367.04 L444.02 367.79 L444.25 368.57 L444.41 369.38 L444.51 370.19Z" fill="none" stroke="#5a5a5a" stroke-width="0.45" stroke-linejoin="round"/>
<path d="M443.58 371.00 L443.56 371.73 L443.49 372.46 L443.38 373.19 L443.23 373.92 L443.02 374.65 L442.75 375.36 L442.41 376.05 L442.00 376.71 L441.54 377.34 L441.02 377.93 L440.45 378.49 L439.83 379.02 L439.17 379.51 L438.45 379.94 L437.69 380.30 L436.89 380.59 L436.06 380.80 L435.20 380.92 L434.33 380.90 L433.48 380.78 L432.64 380.55 L431.84 380.23 L431.08 379.83 L430.37 379.36 L429.72 378.83 L429.12 378.24 L428.59 377.61 L428.13 376.93 L427.73 376.23 L427.41 375.50 L427.15 374.75 L426.96 374.00 L426.83 373.24 L426.75 372.49 L426.71 371.74 L426.71 371.00 L426.75 370.26 L426.84 369.53 L427.00 368.80 L427.23 368.10 L427.52 367.42 L427.86 366.76 L428.25 366.14 L428.70 365.55 L429.20 365.00 L429.75 364.50 L430.33 364.05 L430.96 363.65 L431.62 363.32 L432.31 363.05 L433.02 362.85 L433.74 362.72 L434.47 362.66 L435.20 362.63 L435.93 362.67 L436.65 362.77 L437.36 362.93 L438.05 363.16 L438.72 363.45 L439.36 363.80 L439.96 364.20 L440.54 364.63 L441.09 365.11 L441.59 365.64 L442.06 366.20 L442.47 366.80 L442.83 367.44 L443.11 368.12 L443.32 368.82 L443.47 369.54 L443.55 370.27Z" fill="none" stroke="#5a5a5a" stroke-width="0.45" stroke-linejoin="round"/>
<path d="M442.61 371.00 L442.59 371.65 L442.52 372.29 L442.42 372.93 L442.28 373.58 L442.08 374.21 L441.83 374.83 L441.52 375.43 L441.16 376.00 L440.75 376.55 L440.29 377.07 L439.78 377.55 L439.24 378.00 L438.65 378.41 L438.03 378.76 L437.36 379.06 L436.66 379.30 L435.94 379.47 L435.20 379.55 L434.45 379.53 L433.71 379.43 L432.99 379.23 L432.30 378.96 L431.64 378.63 L431.03 378.23 L430.46 377.78 L429.93 377.28 L429.47 376.73 L429.05 376.16 L428.70 375.55 L428.40 374.93 L428.16 374.28 L427.98 373.63 L427.85 372.97 L427.77 372.31 L427.72 371.65 L427.72 371.00 L427.75 370.35 L427.83 369.70 L427.97 369.06 L428.17 368.44 L428.41 367.83 L428.71 367.25 L429.05 366.70 L429.44 366.17 L429.88 365.68 L430.36 365.23 L430.87 364.82 L431.43 364.46 L432.01 364.16 L432.62 363.91 L433.25 363.72 L433.89 363.59 L434.55 363.53 L435.20 363.50 L435.85 363.54 L436.50 363.63 L437.14 363.78 L437.75 363.98 L438.35 364.25 L438.92 364.56 L439.46 364.92 L439.97 365.32 L440.44 365.76 L440.89 366.23 L441.29 366.74 L441.65 367.28 L441.95 367.85 L442.20 368.45 L442.38 369.08 L442.51 369.71 L442.58 370.35Z" fill="none" stroke="#5a5a5a" stroke-width="0.45" stroke-linejoin="round"/>
<path d="M441.62 371.00 L441.61 371.56 L441.55 372.12 L441.45 372.67 L441.32 373.23 L441.14 373.77 L440.92 374.30 L440.65 374.82 L440.33 375.31 L439.97 375.77 L439.57 376.21 L439.14 376.62 L438.66 377.00 L438.15 377.34 L437.61 377.63 L437.04 377.87 L436.45 378.06 L435.83 378.19 L435.20 378.25 L434.57 378.23 L433.94 378.14 L433.33 377.98 L432.74 377.76 L432.18 377.48 L431.65 377.15 L431.16 376.77 L430.71 376.35 L430.31 375.89 L429.95 375.41 L429.64 374.90 L429.37 374.37 L429.16 373.82 L428.99 373.26 L428.87 372.70 L428.78 372.13 L428.74 371.57 L428.73 371.00 L428.76 370.44 L428.82 369.88 L428.94 369.32 L429.11 368.78 L429.32 368.26 L429.57 367.75 L429.86 367.26 L430.20 366.80 L430.57 366.37 L430.98 365.98 L431.43 365.62 L431.91 365.30 L432.41 365.03 L432.94 364.80 L433.49 364.63 L434.06 364.51 L434.63 364.45 L435.20 364.43 L435.77 364.45 L436.34 364.54 L436.90 364.67 L437.44 364.85 L437.96 365.09 L438.45 365.36 L438.92 365.68 L439.37 366.04 L439.78 366.42 L440.16 366.84 L440.50 367.29 L440.80 367.77 L441.06 368.27 L441.27 368.79 L441.42 369.33 L441.53 369.88 L441.60 370.44Z" fill="none" stroke="#5a5a5a" stroke-width="0.45" stroke-linejoin="round"/>
<path d="M440.63 371.00 L440.61 371.47 L440.56 371.94 L440.47 372.41 L440.36 372.88 L440.20 373.33 L440.01 373.78 L439.78 374.21 L439.51 374.62 L439.21 375.01 L438.87 375.37 L438.50 375.71 L438.10 376.02 L437.67 376.29 L437.21 376.53 L436.73 376.72 L436.24 376.87 L435.72 376.97 L435.20 377.01 L434.68 377.00 L434.16 376.92 L433.65 376.79 L433.16 376.61 L432.69 376.38 L432.25 376.11 L431.84 375.80 L431.46 375.45 L431.12 375.08 L430.82 374.68 L430.55 374.26 L430.32 373.82 L430.14 373.36 L429.99 372.90 L429.88 372.43 L429.80 371.95 L429.76 371.48 L429.75 371.00 L429.77 370.52 L429.82 370.05 L429.92 369.59 L430.06 369.13 L430.23 368.68 L430.44 368.25 L430.69 367.84 L430.97 367.45 L431.28 367.08 L431.63 366.74 L432.00 366.43 L432.41 366.16 L432.83 365.92 L433.28 365.73 L433.75 365.58 L434.23 365.47 L434.71 365.41 L435.20 365.39 L435.69 365.42 L436.17 365.49 L436.65 365.60 L437.11 365.76 L437.55 365.96 L437.97 366.20 L438.37 366.47 L438.74 366.78 L439.09 367.11 L439.41 367.47 L439.69 367.86 L439.94 368.26 L440.15 368.69 L440.33 369.13 L440.46 369.59 L440.55 370.06 L440.61 370.53Z" fill="none" stroke="#5a5a5a" stroke-width="0.45" stroke-linejoin="round"/>
<path d="M439.62 371.00 L439.61 371.39 L439.56 371.77 L439.49 372.15 L439.39 372.53 L439.27 372.90 L439.11 373.26 L438.92 373.60 L438.70 373.93 L438.45 374.25 L438.17 374.54 L437.87 374.81 L437.54 375.05 L437.19 375.27 L436.82 375.46 L436.43 375.61 L436.03 375.72 L435.62 375.79 L435.20 375.82 L434.78 375.81 L434.36 375.74 L433.96 375.64 L433.56 375.50 L433.19 375.32 L432.83 375.10 L432.50 374.86 L432.19 374.58 L431.92 374.28 L431.67 373.96 L431.45 373.63 L431.26 373.28 L431.10 372.91 L430.98 372.54 L430.88 372.16 L430.81 371.77 L430.78 371.39 L430.76 371.00 L430.78 370.61 L430.83 370.23 L430.91 369.85 L431.01 369.48 L431.15 369.11 L431.32 368.76 L431.52 368.42 L431.75 368.10 L432.00 367.80 L432.28 367.52 L432.59 367.27 L432.91 367.04 L433.26 366.85 L433.63 366.68 L434.01 366.56 L434.40 366.47 L434.80 366.41 L435.20 366.40 L435.60 366.42 L436.00 366.47 L436.39 366.57 L436.77 366.70 L437.13 366.86 L437.47 367.06 L437.80 367.29 L438.10 367.54 L438.38 367.82 L438.64 368.11 L438.87 368.43 L439.07 368.77 L439.24 369.12 L439.38 369.48 L439.48 369.85 L439.56 370.23 L439.61 370.61Z" fill="none" stroke="#5a5a5a" stroke-width="0.45" stroke-linejoin="round"/>
<path d="M438.61 371.00 L438.60 371.30 L438.56 371.59 L438.51 371.89 L438.43 372.18 L438.33 372.46 L438.20 372.73 L438.05 373.00 L437.88 373.25 L437.69 373.49 L437.48 373.71 L437.24 373.92 L436.99 374.10 L436.72 374.27 L436.44 374.41 L436.14 374.52 L435.83 374.60 L435.52 374.65 L435.20 374.67 L434.88 374.66 L434.56 374.61 L434.25 374.53 L433.95 374.42 L433.67 374.29 L433.40 374.13 L433.14 373.94 L432.91 373.73 L432.69 373.51 L432.50 373.27 L432.33 373.01 L432.18 372.74 L432.06 372.47 L431.96 372.18 L431.88 371.89 L431.83 371.59 L431.80 371.30 L431.79 371.00 L431.80 370.70 L431.83 370.41 L431.89 370.11 L431.98 369.83 L432.08 369.55 L432.21 369.27 L432.36 369.01 L432.54 368.76 L432.73 368.53 L432.95 368.31 L433.18 368.12 L433.43 367.94 L433.70 367.79 L433.98 367.66 L434.28 367.56 L434.58 367.49 L434.89 367.44 L435.20 367.43 L435.51 367.44 L435.82 367.49 L436.12 367.56 L436.41 367.67 L436.69 367.79 L436.96 367.95 L437.21 368.12 L437.45 368.32 L437.66 368.54 L437.86 368.77 L438.03 369.02 L438.19 369.28 L438.31 369.55 L438.42 369.83 L438.50 370.12 L438.56 370.41 L438.60 370.70Z" fill="none" stroke="#5a5a5a" stroke-width="0.45" stroke-linejoin="round"/>
<path d="M437.59 371.00 L437.58 371.21 L437.56 371.42 L437.52 371.62 L437.46 371.82 L437.39 372.02 L437.30 372.21 L437.20 372.40 L437.08 372.57 L436.94 372.74 L436.79 372.90 L436.63 373.04 L436.45 373.17 L436.26 373.28 L436.06 373.37 L435.86 373.45 L435.64 373.50 L435.42 373.54 L435.20 373.55 L434.98 373.54 L434.76 373.51 L434.54 373.45 L434.33 373.38 L434.13 373.28 L433.95 373.17 L433.77 373.05 L433.60 372.90 L433.45 372.75 L433.32 372.58 L433.20 372.40 L433.09 372.22 L433.01 372.02 L432.93 371.82 L432.88 371.62 L432.84 371.42 L432.82 371.21 L432.81 371.00 L432.82 370.79 L432.84 370.58 L432.88 370.38 L432.94 370.18 L433.01 369.98 L433.10 369.79 L433.21 369.61 L433.33 369.43 L433.47 369.27 L433.62 369.11 L433.78 368.97 L433.96 368.85 L434.15 368.74 L434.34 368.65 L434.55 368.58 L434.76 368.53 L434.98 368.50 L435.20 368.48 L435.42 368.50 L435.64 368.53 L435.85 368.58 L436.05 368.65 L436.25 368.74 L436.44 368.85 L436.62 368.98 L436.78 369.12 L436.93 369.27 L437.07 369.43 L437.19 369.61 L437.29 369.79 L437.38 369.98 L437.46 370.18 L437.52 370.38 L437.56 370.58 L437.58 370.79Z" fill="none" stroke="#5a5a5a" stroke-width="0.45" stroke-linejoin="round"/><defs><radialGradient id="g25" gradientUnits="userSpaceOnUse" cx="435.2" cy="371" r="1" gradientTransform="translate(435.2 371) scale(10 11) translate(-435.2 -371)"><stop offset="0" stop-color="#fff" stop-opacity="0.2"/><stop offset="0.1" stop-color="#fff" stop-opacity="0.0"/><stop offset="0.18" stop-color="#555" stop-opacity="0.45"/><stop offset="0.65" stop-color="#555" stop-opacity="0.3375"/><stop offset="1" stop-color="#555" stop-opacity="0"/></radialGradient></defs><ellipse cx="435.2" cy="371" rx="10" ry="11" fill="url(#g25)"/><rect x="423.2" y="359" width="3.1000000000000227" height="29.80000000000001" fill="#8a8a8a" fill-opacity="0.385"/><line x1="423.50" y1="360.89" x2="423.50" y2="388.8" stroke="#777" stroke-width="0.45" stroke-opacity="0.7"/><line x1="424.40" y1="359.25" x2="424.40" y2="388.8" stroke="#666" stroke-width="0.45" stroke-opacity="0.7"/><line x1="425.30" y1="359.02" x2="425.30" y2="388.8" stroke="#888" stroke-width="0.45" stroke-opacity="0.7"/><line x1="426.20" y1="359.72" x2="426.20" y2="388.8" stroke="#888" stroke-width="0.45" stroke-opacity="0.7"/><rect x="424" y="384.5" width="22" height="4.300000000000011" fill="#888" fill-opacity="0.51"/><line x1="424" y1="384.80" x2="443.90" y2="384.80" stroke="#555" stroke-width="0.45" stroke-opacity="0.85"/><line x1="424" y1="385.70" x2="445.06" y2="385.70" stroke="#777" stroke-width="0.45" stroke-opacity="0.85"/><line x1="424" y1="386.60" x2="444.65" y2="386.60" stroke="#666" stroke-width="0.45" stroke-opacity="0.85"/><line x1="424" y1="387.50" x2="443.68" y2="387.50" stroke="#666" stroke-width="0.45" stroke-opacity="0.85"/><line x1="424" y1="388.40" x2="444.82" y2="388.40" stroke="#777" stroke-width="0.45" stroke-opacity="0.85"/></g>
<rect x="423.1" y="301" width="94.19999999999993" height="88.89999999999998" fill="none" stroke="#626262" stroke-width="0.9"/>
<path d="M423.10 389.90v2.2 M423.10 389.90h-2.2 M430.19 389.90v1.2 M423.10 383.21h-1.2 M434.34 389.90v1.2 M423.10 379.30h-1.2 M437.28 389.90v1.2 M423.10 376.52h-1.2 M439.56 389.90v1.2 M423.10 374.37h-1.2 M441.43 389.90v1.2 M423.10 372.61h-1.2 M443.00 389.90v1.2 M423.10 371.12h-1.2 M444.37 389.90v1.2 M423.10 369.83h-1.2 M445.57 389.90v1.2 M423.10 368.69h-1.2 M446.65 389.90v2.2 M423.10 367.67h-2.2 M453.74 389.90v1.2 M423.10 360.98h-1.2 M457.89 389.90v1.2 M423.10 357.07h-1.2 M460.83 389.90v1.2 M423.10 354.29h-1.2 M463.11 389.90v1.2 M423.10 352.14h-1.2 M464.98 389.90v1.2 M423.10 350.38h-1.2 M466.55 389.90v1.2 M423.10 348.89h-1.2 M467.92 389.90v1.2 M423.10 347.60h-1.2 M469.12 389.90v1.2 M423.10 346.47h-1.2 M470.20 389.90v2.2 M423.10 345.45h-2.2 M477.29 389.90v1.2 M423.10 338.76h-1.2 M481.44 389.90v1.2 M423.10 334.85h-1.2 M484.38 389.90v1.2 M423.10 332.07h-1.2 M486.66 389.90v1.2 M423.10 329.92h-1.2 M488.53 389.90v1.2 M423.10 328.16h-1.2 M490.10 389.90v1.2 M423.10 326.67h-1.2 M491.47 389.90v1.2 M423.10 325.38h-1.2 M492.67 389.90v1.2 M423.10 324.24h-1.2 M493.75 389.90v2.2 M423.10 323.23h-2.2 M500.84 389.90v1.2 M423.10 316.53h-1.2 M504.99 389.90v1.2 M423.10 312.62h-1.2 M507.93 389.90v1.2 M423.10 309.84h-1.2 M510.21 389.90v1.2 M423.10 307.69h-1.2 M512.08 389.90v1.2 M423.10 305.93h-1.2 M513.65 389.90v1.2 M423.10 304.44h-1.2 M515.02 389.90v1.2 M423.10 303.15h-1.2 M516.22 389.90v1.2 M423.10 302.02h-1.2 M517.30 389.90v2.2 M423.10 301.00h-2.2" stroke="#777" stroke-width="0.6" fill="none"/>
<text x="420.90" y="400.90" font-size="4.6" fill="#555" stroke="#555" stroke-width="0.12">10<tspan dy="-2" font-size="3.4">0</tspan></text>
<text x="413.10" y="393.50" font-size="4.6" fill="#555" stroke="#555" stroke-width="0.12">10<tspan dy="-2" font-size="3.4">0</tspan></text>
<circle cx="447.45" cy="398.90" r="0.45" fill="#777"/>
<text x="413.10" y="371.27" font-size="4.6" fill="#555" stroke="#555" stroke-width="0.12">10<tspan dy="-2" font-size="3.4">1</tspan></text>
<circle cx="471.00" cy="398.90" r="0.45" fill="#777"/>
<text x="413.10" y="349.05" font-size="4.6" fill="#555" stroke="#555" stroke-width="0.12">10<tspan dy="-2" font-size="3.4">2</tspan></text>
<text x="491.55" y="400.90" font-size="4.6" fill="#555" stroke="#555" stroke-width="0.12">10<tspan dy="-2" font-size="3.4">3</tspan></text>
<text x="413.10" y="326.83" font-size="4.6" fill="#555" stroke="#555" stroke-width="0.12">10<tspan dy="-2" font-size="3.4">3</tspan></text>
<text x="425" y="306.6" font-size="4.2" fill="#222" stroke="#222" stroke-width="0.1" font-weight="normal" text-anchor="start" >6.54</text>
<text x="425" y="320.8" font-size="7.3" fill="#222" stroke="#222" stroke-width="0.16" font-weight="normal" text-anchor="start" >6.54</text>
<text x="500.9" y="306.6" font-size="4.2" fill="#222" stroke="#222" stroke-width="0.1" font-weight="normal" text-anchor="start" >0.03</text>
<text x="489.8" y="320.8" font-size="7.3" fill="#222" stroke="#222" stroke-width="0.16" font-weight="normal" text-anchor="start" >0.03</text>
<text x="494.9" y="381.6" font-size="7.3" fill="#222" stroke="#222" stroke-width="0.16" font-weight="normal" text-anchor="start" >3.07</text>
<text x="501.3" y="388.6" font-size="4.2" fill="#222" stroke="#222" stroke-width="0.1" font-weight="normal" text-anchor="start" >3.07</text>
<text x="443.8" y="406.4" font-size="8.6" fill="#222" stroke="#222" stroke-width="0.3" font-weight="normal" text-anchor="start" >IL-3R&#945;-PE</text>
<text transform="translate(410,366.0) rotate(-90)" x="0" y="0" font-size="8.6" fill="#222" stroke="#222" stroke-width="0.3">CD34-FITC</text>
<text x="3.3" y="9.8" font-size="11.4" fill="#111" stroke="#111" stroke-width="0.3" font-weight="bold" text-anchor="start" >A</text>
<text x="271.6" y="9.9" font-size="11.4" fill="#111" stroke="#111" stroke-width="0.3" font-weight="bold" text-anchor="start" >B</text>
<text x="8.5" y="146.8" font-size="11.4" fill="#111" stroke="#111" stroke-width="0.3" font-weight="bold" text-anchor="start" >C</text>
<text x="268.5" y="146.1" font-size="11.4" fill="#111" stroke="#111" stroke-width="0.3" font-weight="bold" text-anchor="start" >D</text>
<text x="8.4" y="295.4" font-size="11.4" fill="#111" stroke="#111" stroke-width="0.3" font-weight="bold" text-anchor="start" >E</text>
<text x="272.5" y="291.4" font-size="11.4" fill="#111" stroke="#111" stroke-width="0.3" font-weight="bold" text-anchor="start" >F</text>
</svg></body></html>
